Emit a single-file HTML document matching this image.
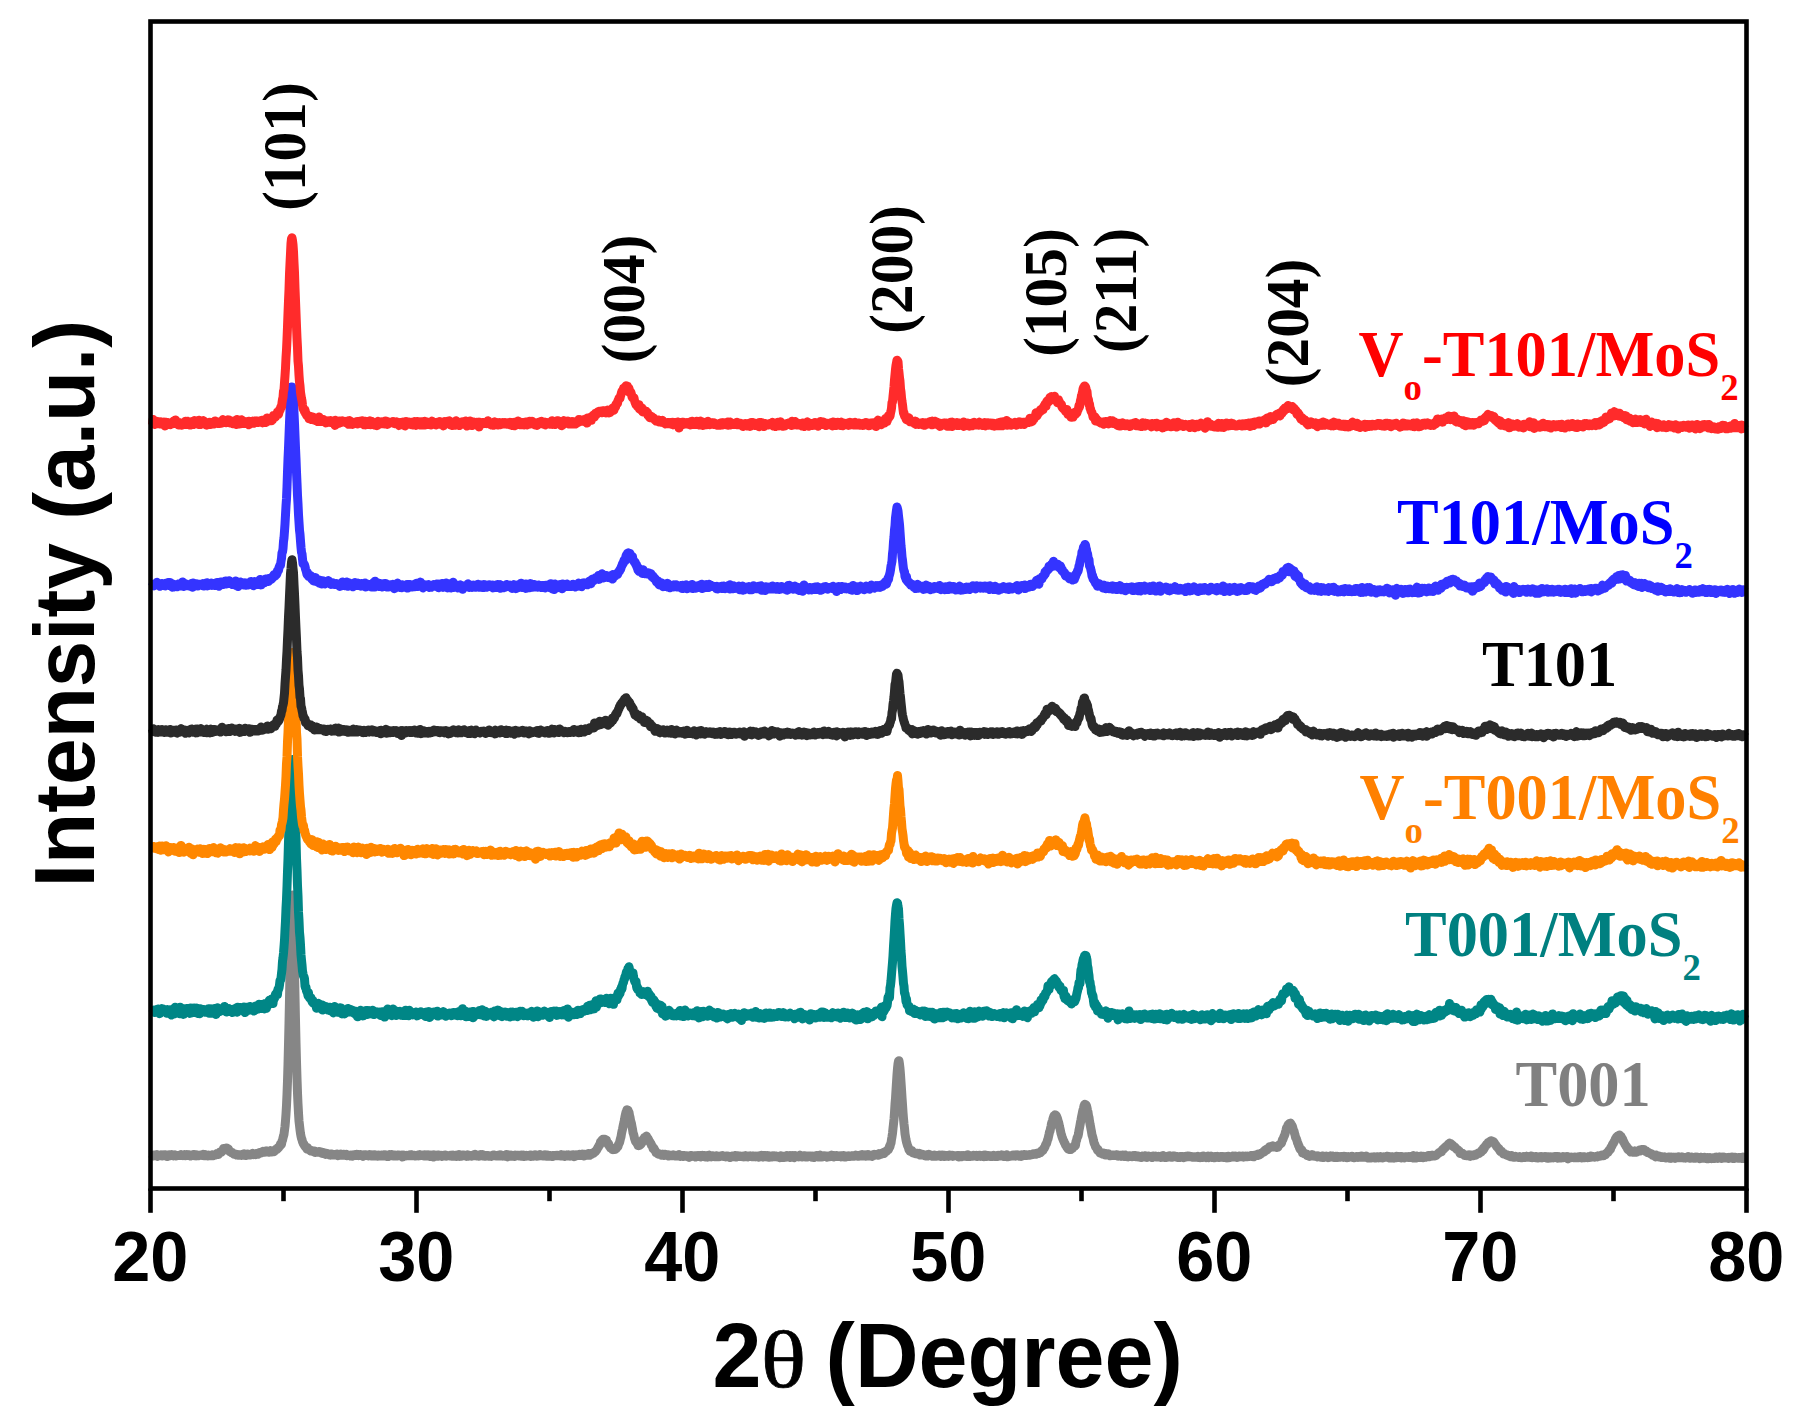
<!DOCTYPE html>
<html lang="en"><head><meta charset="utf-8"><title>XRD patterns</title>
<style>html,body{margin:0;padding:0;background:#fff;overflow:hidden}svg{display:block}.sb{font-family:"Liberation Sans",Arial,Helvetica,sans-serif;font-weight:bold}.tb{font-family:"Liberation Serif","Times New Roman",Times,serif;font-weight:bold}.tr{font-family:"Liberation Serif","Times New Roman",Times,serif;font-weight:normal}</style></head><body>
<svg width="1805" height="1428" viewBox="0 0 1805 1428">
<rect width="1805" height="1428" fill="#fff"/>
<g fill="none" stroke-linejoin="round" stroke-linecap="butt">
<polyline stroke="#868686" stroke-width="9.0" points="152.5,1154.8 153.0,1156.0 153.5,1155.0 154.0,1155.3 154.5,1155.4 155.0,1155.1 155.5,1154.8 156.0,1155.7 156.5,1155.6 157.0,1154.5 157.5,1156.5 158.0,1155.8 158.5,1155.1 159.0,1155.8 159.5,1155.2 160.0,1155.4 160.5,1155.7 161.0,1154.8 161.5,1155.7 162.0,1156.0 162.5,1156.0 163.0,1155.3 163.5,1155.8 164.0,1154.7 164.5,1155.3 165.0,1155.6 165.5,1154.8 166.0,1155.4 166.5,1156.2 167.0,1156.6 167.5,1155.7 168.0,1155.8 168.5,1155.0 169.0,1154.8 169.5,1154.7 170.0,1155.6 170.5,1155.7 171.0,1155.1 171.5,1154.8 172.0,1155.5 172.5,1155.5 173.0,1155.3 173.5,1155.9 174.0,1155.3 174.5,1155.3 175.0,1154.9 175.5,1155.4 176.0,1156.0 176.5,1155.4 177.0,1155.4 177.5,1155.6 178.0,1155.5 178.5,1155.6 179.0,1155.6 179.5,1155.6 180.0,1155.0 180.5,1155.5 181.0,1154.6 181.5,1155.5 182.0,1154.8 182.5,1155.3 183.0,1155.6 183.5,1155.2 184.0,1155.4 184.5,1154.6 185.0,1155.0 185.5,1155.7 186.0,1154.8 186.5,1155.6 187.0,1154.7 187.5,1154.9 188.0,1154.8 188.5,1155.3 189.0,1155.6 189.5,1154.9 190.0,1155.2 190.5,1156.1 191.0,1155.2 191.5,1155.0 192.0,1155.5 192.5,1155.2 193.0,1155.0 193.5,1154.5 194.0,1155.7 194.5,1155.1 195.0,1155.3 195.5,1154.8 196.0,1155.9 196.5,1155.6 197.0,1155.7 197.5,1155.2 198.0,1155.5 198.5,1155.7 199.0,1155.7 199.5,1155.4 200.0,1155.2 200.5,1155.1 201.0,1154.9 201.5,1154.8 202.0,1155.4 202.5,1155.1 203.0,1154.3 203.5,1155.2 204.0,1155.7 204.5,1155.1 205.0,1154.4 205.5,1155.2 206.0,1155.6 206.5,1155.3 207.0,1155.0 207.5,1156.0 208.0,1156.0 208.5,1155.1 209.0,1155.5 209.5,1155.3 210.0,1155.5 210.5,1155.8 211.0,1155.5 211.5,1155.1 212.0,1154.8 212.5,1154.7 213.0,1155.0 213.5,1155.5 214.0,1155.1 214.5,1154.9 215.0,1154.9 215.5,1154.8 216.0,1154.9 216.5,1154.0 217.0,1153.5 217.5,1154.1 218.0,1153.5 218.5,1154.5 219.0,1153.4 219.5,1153.1 220.0,1152.1 220.5,1152.6 221.0,1151.7 221.5,1152.0 222.0,1151.4 222.5,1150.2 223.0,1150.3 223.5,1148.4 224.0,1148.9 224.5,1149.5 225.0,1149.0 225.5,1148.6 226.0,1148.5 226.5,1148.0 227.0,1148.2 227.5,1149.2 228.0,1150.3 228.5,1149.0 229.0,1150.7 229.5,1151.2 230.0,1151.8 230.5,1151.4 231.0,1152.0 231.5,1152.7 232.0,1152.6 232.5,1152.8 233.0,1153.2 233.5,1153.8 234.0,1154.2 234.5,1154.2 235.0,1154.4 235.5,1154.1 236.0,1154.2 236.5,1155.1 237.0,1154.6 237.5,1154.6 238.0,1155.1 238.5,1155.3 239.0,1155.3 239.5,1154.9 240.0,1154.7 240.5,1154.9 241.0,1154.8 241.5,1155.4 242.0,1154.9 242.5,1155.0 243.0,1154.7 243.5,1155.3 244.0,1153.8 244.5,1154.9 245.0,1155.0 245.5,1154.2 246.0,1155.6 246.5,1154.6 247.0,1154.6 247.5,1154.1 248.0,1155.0 248.5,1154.7 249.0,1154.3 249.5,1154.6 250.0,1154.8 250.5,1155.0 251.0,1154.6 251.5,1154.0 252.0,1154.1 252.5,1153.3 253.0,1154.0 253.5,1154.6 254.0,1154.4 254.5,1154.1 255.0,1153.9 255.5,1154.7 256.0,1154.0 256.5,1154.2 257.0,1153.9 257.5,1153.3 258.0,1154.2 258.5,1152.8 259.0,1152.7 259.5,1152.9 260.0,1152.6 260.5,1152.5 261.0,1152.4 261.5,1152.9 262.0,1152.4 262.5,1152.4 263.0,1151.4 263.5,1151.6 264.0,1152.3 264.5,1151.2 265.0,1152.2 265.5,1151.2 266.0,1151.7 266.5,1151.2 267.0,1151.6 267.5,1151.1 268.0,1151.4 268.5,1152.2 269.0,1151.3 269.5,1152.3 270.0,1151.2 270.5,1150.8 271.0,1151.3 271.5,1151.0 272.0,1151.9 272.5,1151.4 273.0,1151.4 273.5,1151.0 274.0,1151.7 274.5,1150.7 275.0,1150.4 275.5,1149.5 276.0,1149.2 276.5,1149.3 277.0,1149.3 277.5,1149.0 278.0,1147.6 278.5,1147.8 279.0,1147.1 279.5,1145.9 280.0,1145.9 280.5,1143.8 281.0,1144.1 281.5,1144.1 282.0,1141.3 282.5,1140.3 283.0,1137.8 283.5,1136.2 284.0,1134.3 284.5,1130.2 285.0,1126.5 285.5,1120.9 286.0,1114.0 286.5,1105.4 287.0,1094.5 287.5,1081.2 288.0,1064.6 288.5,1044.7 289.0,1023.6 289.5,999.3 290.0,972.4 290.5,948.0 291.0,925.0 291.5,907.0 292.0,896.5 292.5,895.1 293.0,904.8 293.5,921.3 294.0,944.9 294.5,971.2 295.0,996.2 295.5,1020.7 296.0,1042.4 296.5,1061.8 297.0,1078.5 297.5,1093.0 298.0,1103.9 298.5,1113.0 299.0,1120.9 299.5,1125.2 300.0,1129.7 300.5,1133.5 301.0,1136.3 301.5,1138.4 302.0,1139.6 302.5,1141.7 303.0,1142.8 303.5,1144.1 304.0,1144.3 304.5,1145.7 305.0,1146.4 305.5,1146.7 306.0,1147.5 306.5,1147.8 307.0,1149.1 307.5,1147.5 308.0,1148.7 308.5,1148.9 309.0,1149.8 309.5,1149.9 310.0,1150.3 310.5,1151.0 311.0,1150.2 311.5,1150.7 312.0,1151.1 312.5,1150.8 313.0,1151.6 313.5,1151.7 314.0,1151.3 314.5,1150.9 315.0,1152.4 315.5,1152.0 316.0,1152.0 316.5,1151.8 317.0,1151.8 317.5,1152.2 318.0,1151.8 318.5,1151.6 319.0,1152.2 319.5,1152.0 320.0,1151.7 320.5,1151.8 321.0,1152.8 321.5,1152.7 322.0,1153.4 322.5,1152.4 323.0,1152.5 323.5,1153.1 324.0,1153.7 324.5,1153.5 325.0,1153.6 325.5,1154.4 326.0,1153.3 326.5,1153.2 327.0,1153.5 327.5,1153.8 328.0,1154.2 328.5,1154.6 329.0,1154.4 329.5,1155.0 330.0,1154.0 330.5,1155.2 331.0,1154.1 331.5,1155.0 332.0,1154.1 332.5,1154.7 333.0,1154.6 333.5,1154.8 334.0,1155.0 334.5,1154.6 335.0,1154.7 335.5,1154.8 336.0,1154.2 336.5,1154.4 337.0,1154.0 337.5,1154.8 338.0,1155.8 338.5,1155.2 339.0,1154.5 339.5,1154.6 340.0,1155.3 340.5,1154.7 341.0,1154.2 341.5,1154.5 342.0,1154.5 342.5,1154.5 343.0,1155.3 343.5,1155.0 344.0,1154.3 344.5,1154.8 345.0,1154.5 345.5,1154.5 346.0,1154.4 346.5,1155.8 347.0,1154.9 347.5,1155.3 348.0,1155.5 348.5,1154.9 349.0,1155.4 349.5,1155.4 350.0,1155.2 350.5,1156.1 351.0,1155.3 351.5,1155.1 352.0,1155.5 352.5,1156.0 353.0,1155.6 353.5,1155.0 354.0,1154.8 354.5,1154.8 355.0,1154.9 355.5,1155.4 356.0,1155.6 356.5,1154.2 357.0,1155.2 357.5,1154.7 358.0,1155.6 358.5,1155.7 359.0,1154.9 359.5,1155.1 360.0,1154.8 360.5,1155.5 361.0,1154.6 361.5,1154.8 362.0,1155.0 362.5,1155.9 363.0,1156.4 363.5,1155.3 364.0,1154.8 364.5,1155.4 365.0,1154.9 365.5,1155.5 366.0,1154.8 366.5,1155.2 367.0,1155.3 367.5,1155.6 368.0,1155.3 368.5,1155.9 369.0,1155.4 369.5,1154.5 370.0,1155.8 370.5,1155.2 371.0,1155.1 371.5,1156.1 372.0,1154.9 372.5,1155.4 373.0,1155.1 373.5,1156.0 374.0,1155.2 374.5,1155.5 375.0,1154.8 375.5,1156.0 376.0,1154.9 376.5,1155.8 377.0,1155.9 377.5,1156.0 378.0,1156.2 378.5,1154.9 379.0,1155.6 379.5,1155.5 380.0,1155.6 380.5,1155.9 381.0,1155.5 381.5,1155.1 382.0,1155.4 382.5,1156.1 383.0,1154.9 383.5,1155.5 384.0,1155.0 384.5,1155.9 385.0,1154.7 385.5,1155.3 386.0,1155.4 386.5,1155.5 387.0,1156.5 387.5,1156.2 388.0,1155.0 388.5,1156.4 389.0,1154.9 389.5,1154.6 390.0,1154.8 390.5,1155.6 391.0,1155.7 391.5,1154.5 392.0,1155.7 392.5,1155.4 393.0,1155.8 393.5,1155.3 394.0,1155.9 394.5,1155.7 395.0,1155.0 395.5,1156.1 396.0,1155.6 396.5,1155.8 397.0,1156.1 397.5,1155.1 398.0,1155.5 398.5,1155.1 399.0,1155.1 399.5,1155.6 400.0,1155.7 400.5,1156.1 401.0,1156.1 401.5,1155.5 402.0,1155.1 402.5,1157.0 403.0,1156.5 403.5,1155.5 404.0,1155.1 404.5,1155.3 405.0,1155.7 405.5,1156.0 406.0,1156.0 406.5,1155.7 407.0,1155.4 407.5,1155.6 408.0,1155.4 408.5,1155.6 409.0,1155.5 409.5,1155.8 410.0,1154.7 410.5,1155.4 411.0,1155.4 411.5,1155.0 412.0,1155.5 412.5,1155.1 413.0,1155.2 413.5,1155.4 414.0,1155.4 414.5,1155.3 415.0,1156.0 415.5,1155.6 416.0,1155.7 416.5,1155.7 417.0,1155.3 417.5,1155.2 418.0,1155.9 418.5,1155.4 419.0,1154.8 419.5,1154.6 420.0,1155.7 420.5,1155.2 421.0,1155.5 421.5,1155.3 422.0,1155.4 422.5,1155.5 423.0,1155.0 423.5,1155.6 424.0,1156.0 424.5,1155.9 425.0,1154.8 425.5,1155.0 426.0,1155.0 426.5,1155.5 427.0,1156.0 427.5,1155.7 428.0,1154.8 428.5,1155.6 429.0,1155.9 429.5,1155.4 430.0,1156.4 430.5,1155.3 431.0,1156.1 431.5,1156.6 432.0,1155.0 432.5,1155.4 433.0,1155.8 433.5,1157.0 434.0,1154.8 434.5,1155.8 435.0,1155.7 435.5,1155.4 436.0,1155.2 436.5,1155.4 437.0,1155.5 437.5,1155.0 438.0,1156.3 438.5,1155.1 439.0,1155.4 439.5,1155.3 440.0,1155.4 440.5,1155.6 441.0,1155.3 441.5,1155.5 442.0,1156.4 442.5,1156.1 443.0,1155.5 443.5,1156.0 444.0,1155.3 444.5,1155.7 445.0,1155.0 445.5,1155.1 446.0,1155.2 446.5,1156.2 447.0,1155.7 447.5,1155.8 448.0,1155.7 448.5,1155.8 449.0,1155.8 449.5,1155.9 450.0,1155.7 450.5,1155.2 451.0,1155.3 451.5,1156.2 452.0,1156.2 452.5,1155.9 453.0,1154.9 453.5,1156.3 454.0,1155.8 454.5,1155.6 455.0,1155.6 455.5,1155.4 456.0,1156.4 456.5,1156.4 457.0,1155.1 457.5,1155.5 458.0,1155.8 458.5,1156.2 459.0,1154.5 459.5,1156.0 460.0,1156.4 460.5,1155.5 461.0,1155.6 461.5,1156.2 462.0,1155.8 462.5,1155.0 463.0,1155.1 463.5,1155.1 464.0,1155.0 464.5,1155.6 465.0,1155.4 465.5,1155.6 466.0,1155.9 466.5,1156.4 467.0,1155.7 467.5,1154.8 468.0,1156.2 468.5,1155.6 469.0,1156.1 469.5,1155.4 470.0,1155.8 470.5,1155.6 471.0,1155.6 471.5,1156.2 472.0,1155.3 472.5,1155.7 473.0,1155.7 473.5,1155.4 474.0,1154.6 474.5,1155.8 475.0,1154.3 475.5,1154.9 476.0,1155.4 476.5,1155.8 477.0,1156.0 477.5,1156.0 478.0,1155.9 478.5,1155.5 479.0,1156.2 479.5,1155.5 480.0,1156.1 480.5,1154.6 481.0,1155.2 481.5,1155.4 482.0,1155.6 482.5,1154.5 483.0,1156.0 483.5,1156.1 484.0,1156.0 484.5,1155.4 485.0,1156.3 485.5,1155.4 486.0,1156.0 486.5,1155.6 487.0,1155.6 487.5,1155.6 488.0,1155.6 488.5,1156.1 489.0,1156.3 489.5,1156.3 490.0,1156.0 490.5,1155.9 491.0,1155.8 491.5,1156.4 492.0,1155.4 492.5,1155.3 493.0,1155.6 493.5,1154.9 494.0,1155.5 494.5,1155.6 495.0,1155.2 495.5,1155.4 496.0,1155.9 496.5,1155.5 497.0,1155.7 497.5,1156.1 498.0,1155.3 498.5,1155.1 499.0,1155.6 499.5,1155.8 500.0,1154.8 500.5,1155.9 501.0,1155.5 501.5,1155.4 502.0,1155.2 502.5,1155.5 503.0,1156.1 503.5,1155.9 504.0,1156.0 504.5,1155.5 505.0,1156.3 505.5,1156.2 506.0,1155.6 506.5,1154.4 507.0,1155.7 507.5,1156.9 508.0,1155.6 508.5,1155.2 509.0,1156.4 509.5,1155.3 510.0,1155.8 510.5,1156.0 511.0,1155.0 511.5,1155.7 512.0,1156.2 512.5,1155.5 513.0,1155.9 513.5,1155.6 514.0,1156.1 514.5,1156.5 515.0,1155.1 515.5,1155.5 516.0,1155.8 516.5,1155.3 517.0,1155.3 517.5,1155.5 518.0,1155.5 518.5,1155.3 519.0,1155.8 519.5,1156.0 520.0,1156.0 520.5,1155.9 521.0,1156.2 521.5,1155.0 522.0,1155.6 522.5,1155.7 523.0,1155.9 523.5,1154.9 524.0,1156.5 524.5,1155.2 525.0,1155.7 525.5,1155.9 526.0,1156.1 526.5,1155.3 527.0,1155.4 527.5,1155.8 528.0,1155.9 528.5,1156.0 529.0,1155.6 529.5,1155.3 530.0,1155.0 530.5,1156.4 531.0,1155.0 531.5,1155.9 532.0,1155.7 532.5,1155.9 533.0,1156.0 533.5,1156.2 534.0,1155.6 534.5,1155.8 535.0,1154.7 535.5,1155.6 536.0,1155.2 536.5,1155.5 537.0,1156.2 537.5,1155.6 538.0,1156.1 538.5,1155.5 539.0,1155.8 539.5,1155.4 540.0,1154.4 540.5,1155.3 541.0,1155.5 541.5,1155.7 542.0,1155.6 542.5,1155.5 543.0,1156.0 543.5,1155.9 544.0,1155.4 544.5,1156.0 545.0,1154.7 545.5,1155.4 546.0,1155.5 546.5,1156.2 547.0,1155.3 547.5,1154.9 548.0,1155.6 548.5,1156.3 549.0,1155.5 549.5,1155.5 550.0,1155.5 550.5,1155.6 551.0,1156.1 551.5,1156.4 552.0,1155.8 552.5,1155.5 553.0,1156.4 553.5,1155.6 554.0,1155.6 554.5,1155.4 555.0,1155.4 555.5,1155.6 556.0,1155.4 556.5,1155.7 557.0,1155.6 557.5,1155.8 558.0,1155.3 558.5,1155.4 559.0,1155.6 559.5,1155.5 560.0,1155.5 560.5,1156.0 561.0,1155.0 561.5,1154.6 562.0,1155.8 562.5,1155.4 563.0,1156.1 563.5,1155.4 564.0,1154.9 564.5,1156.4 565.0,1155.6 565.5,1155.2 566.0,1155.1 566.5,1155.7 567.0,1155.1 567.5,1155.6 568.0,1155.9 568.5,1154.8 569.0,1155.2 569.5,1155.6 570.0,1156.1 570.5,1155.8 571.0,1155.2 571.5,1156.0 572.0,1155.2 572.5,1155.3 573.0,1155.5 573.5,1154.8 574.0,1156.7 574.5,1155.8 575.0,1155.4 575.5,1155.0 576.0,1154.8 576.5,1155.4 577.0,1155.6 577.5,1155.1 578.0,1155.1 578.5,1155.5 579.0,1155.2 579.5,1154.3 580.0,1155.5 580.5,1155.2 581.0,1155.4 581.5,1154.8 582.0,1154.1 582.5,1154.5 583.0,1155.2 583.5,1155.9 584.0,1156.0 584.5,1155.1 585.0,1154.2 585.5,1154.7 586.0,1155.0 586.5,1155.0 587.0,1154.8 587.5,1155.3 588.0,1154.2 588.5,1153.6 589.0,1154.1 589.5,1153.9 590.0,1155.3 590.5,1154.1 591.0,1153.4 591.5,1154.1 592.0,1154.1 592.5,1153.5 593.0,1153.3 593.5,1153.3 594.0,1152.8 594.5,1151.8 595.0,1151.9 595.5,1151.6 596.0,1150.7 596.5,1150.3 597.0,1149.4 597.5,1148.3 598.0,1147.5 598.5,1146.9 599.0,1145.5 599.5,1145.3 600.0,1144.4 600.5,1141.9 601.0,1141.9 601.5,1140.8 602.0,1140.1 602.5,1139.8 603.0,1139.3 603.5,1139.3 604.0,1139.2 604.5,1139.3 605.0,1139.2 605.5,1139.8 606.0,1141.3 606.5,1140.2 607.0,1142.9 607.5,1142.7 608.0,1144.4 608.5,1143.5 609.0,1145.3 609.5,1146.6 610.0,1147.0 610.5,1148.0 611.0,1147.7 611.5,1148.4 612.0,1148.7 612.5,1149.6 613.0,1149.7 613.5,1149.6 614.0,1149.6 614.5,1149.5 615.0,1149.5 615.5,1148.7 616.0,1148.7 616.5,1148.2 617.0,1147.3 617.5,1146.5 618.0,1146.5 618.5,1144.4 619.0,1143.6 619.5,1142.6 620.0,1140.6 620.5,1138.5 621.0,1136.9 621.5,1133.6 622.0,1131.3 622.5,1129.2 623.0,1126.7 623.5,1124.1 624.0,1122.3 624.5,1119.7 625.0,1116.5 625.5,1114.4 626.0,1112.1 626.5,1111.3 627.0,1109.7 627.5,1110.7 628.0,1110.2 628.5,1111.6 629.0,1112.3 629.5,1115.4 630.0,1117.2 630.5,1120.3 631.0,1122.0 631.5,1123.8 632.0,1126.8 632.5,1129.1 633.0,1132.7 633.5,1134.0 634.0,1135.9 634.5,1138.4 635.0,1139.9 635.5,1141.4 636.0,1142.2 636.5,1142.5 637.0,1143.5 637.5,1143.7 638.0,1145.6 638.5,1145.7 639.0,1145.1 639.5,1145.4 640.0,1145.1 640.5,1144.6 641.0,1144.0 641.5,1143.5 642.0,1142.5 642.5,1140.6 643.0,1139.6 643.5,1140.6 644.0,1139.5 644.5,1137.4 645.0,1138.1 645.5,1137.1 646.0,1137.0 646.5,1136.1 647.0,1137.7 647.5,1137.7 648.0,1138.7 648.5,1139.5 649.0,1140.5 649.5,1141.6 650.0,1142.0 650.5,1143.1 651.0,1143.7 651.5,1145.3 652.0,1146.0 652.5,1146.5 653.0,1148.5 653.5,1149.1 654.0,1148.4 654.5,1149.5 655.0,1150.8 655.5,1150.9 656.0,1152.6 656.5,1152.5 657.0,1153.1 657.5,1153.6 658.0,1154.0 658.5,1153.6 659.0,1154.2 659.5,1154.2 660.0,1154.6 660.5,1154.6 661.0,1155.1 661.5,1154.8 662.0,1154.4 662.5,1154.8 663.0,1154.3 663.5,1155.0 664.0,1155.6 664.5,1154.7 665.0,1154.3 665.5,1155.0 666.0,1154.9 666.5,1155.1 667.0,1154.9 667.5,1155.2 668.0,1154.8 668.5,1156.0 669.0,1155.2 669.5,1155.6 670.0,1155.7 670.5,1155.3 671.0,1155.6 671.5,1155.3 672.0,1155.3 672.5,1155.4 673.0,1155.7 673.5,1154.9 674.0,1155.1 674.5,1155.2 675.0,1155.3 675.5,1156.1 676.0,1155.6 676.5,1155.5 677.0,1155.7 677.5,1156.1 678.0,1155.3 678.5,1156.1 679.0,1154.6 679.5,1155.3 680.0,1156.4 680.5,1156.4 681.0,1155.8 681.5,1155.6 682.0,1156.1 682.5,1155.6 683.0,1156.5 683.5,1156.3 684.0,1156.2 684.5,1155.4 685.0,1156.3 685.5,1155.7 686.0,1155.7 686.5,1155.7 687.0,1155.8 687.5,1156.1 688.0,1156.3 688.5,1156.3 689.0,1157.4 689.5,1155.8 690.0,1156.4 690.5,1155.6 691.0,1155.8 691.5,1155.4 692.0,1156.5 692.5,1156.1 693.0,1156.0 693.5,1155.9 694.0,1156.4 694.5,1155.8 695.0,1156.2 695.5,1157.1 696.0,1155.9 696.5,1155.7 697.0,1155.6 697.5,1156.4 698.0,1156.1 698.5,1155.7 699.0,1155.7 699.5,1156.1 700.0,1155.6 700.5,1157.0 701.0,1156.0 701.5,1156.0 702.0,1156.0 702.5,1155.3 703.0,1155.4 703.5,1155.9 704.0,1156.1 704.5,1155.5 705.0,1156.9 705.5,1156.3 706.0,1156.7 706.5,1156.6 707.0,1156.0 707.5,1157.2 708.0,1156.2 708.5,1155.3 709.0,1155.1 709.5,1156.1 710.0,1156.5 710.5,1156.2 711.0,1156.9 711.5,1156.0 712.0,1156.4 712.5,1156.5 713.0,1155.7 713.5,1156.3 714.0,1156.3 714.5,1156.7 715.0,1156.7 715.5,1156.6 716.0,1155.8 716.5,1156.5 717.0,1156.7 717.5,1156.2 718.0,1156.5 718.5,1156.5 719.0,1156.7 719.5,1156.2 720.0,1156.4 720.5,1156.3 721.0,1156.2 721.5,1155.9 722.0,1156.1 722.5,1155.7 723.0,1156.1 723.5,1156.5 724.0,1156.5 724.5,1156.6 725.0,1156.2 725.5,1156.9 726.0,1156.0 726.5,1156.6 727.0,1156.4 727.5,1155.9 728.0,1155.9 728.5,1156.6 729.0,1156.3 729.5,1156.4 730.0,1157.6 730.5,1156.5 731.0,1156.3 731.5,1156.6 732.0,1156.0 732.5,1156.2 733.0,1156.5 733.5,1155.9 734.0,1156.3 734.5,1156.2 735.0,1156.3 735.5,1155.5 736.0,1157.1 736.5,1156.3 737.0,1156.5 737.5,1155.8 738.0,1155.7 738.5,1156.3 739.0,1156.2 739.5,1156.6 740.0,1155.9 740.5,1155.9 741.0,1156.5 741.5,1156.6 742.0,1156.7 742.5,1156.3 743.0,1156.4 743.5,1156.0 744.0,1156.9 744.5,1156.8 745.0,1156.8 745.5,1155.6 746.0,1156.7 746.5,1156.0 747.0,1156.6 747.5,1156.5 748.0,1156.9 748.5,1156.3 749.0,1156.2 749.5,1155.9 750.0,1155.8 750.5,1156.6 751.0,1155.9 751.5,1156.7 752.0,1156.2 752.5,1156.1 753.0,1156.8 753.5,1156.8 754.0,1155.9 754.5,1156.3 755.0,1156.4 755.5,1156.7 756.0,1156.0 756.5,1156.2 757.0,1156.3 757.5,1156.7 758.0,1156.8 758.5,1156.1 759.0,1157.2 759.5,1156.6 760.0,1156.0 760.5,1155.7 761.0,1156.2 761.5,1155.3 762.0,1156.5 762.5,1156.6 763.0,1157.0 763.5,1156.6 764.0,1155.6 764.5,1156.3 765.0,1156.7 765.5,1155.4 766.0,1156.0 766.5,1156.7 767.0,1156.4 767.5,1155.5 768.0,1156.1 768.5,1156.4 769.0,1157.3 769.5,1156.2 770.0,1156.0 770.5,1156.5 771.0,1156.5 771.5,1156.6 772.0,1157.0 772.5,1156.3 773.0,1155.8 773.5,1156.4 774.0,1156.4 774.5,1156.8 775.0,1156.7 775.5,1156.0 776.0,1156.7 776.5,1156.8 777.0,1156.3 777.5,1156.8 778.0,1156.4 778.5,1156.4 779.0,1156.3 779.5,1156.7 780.0,1157.7 780.5,1156.5 781.0,1155.8 781.5,1156.3 782.0,1156.1 782.5,1156.5 783.0,1156.3 783.5,1157.5 784.0,1156.7 784.5,1157.2 785.0,1156.0 785.5,1156.3 786.0,1157.3 786.5,1155.6 787.0,1156.4 787.5,1155.7 788.0,1157.0 788.5,1155.7 789.0,1156.2 789.5,1156.3 790.0,1155.6 790.5,1157.5 791.0,1156.3 791.5,1157.1 792.0,1156.0 792.5,1155.7 793.0,1156.4 793.5,1156.4 794.0,1157.7 794.5,1155.9 795.0,1155.6 795.5,1156.0 796.0,1156.5 796.5,1156.6 797.0,1156.0 797.5,1156.2 798.0,1156.6 798.5,1156.8 799.0,1156.1 799.5,1156.4 800.0,1155.1 800.5,1155.9 801.0,1156.5 801.5,1156.3 802.0,1156.2 802.5,1157.0 803.0,1156.2 803.5,1155.8 804.0,1156.4 804.5,1156.4 805.0,1155.8 805.5,1156.8 806.0,1157.1 806.5,1156.0 807.0,1155.9 807.5,1156.3 808.0,1156.9 808.5,1156.0 809.0,1156.0 809.5,1156.0 810.0,1156.4 810.5,1156.4 811.0,1156.2 811.5,1156.8 812.0,1157.3 812.5,1156.0 813.0,1156.8 813.5,1156.4 814.0,1157.6 814.5,1155.9 815.0,1156.1 815.5,1156.3 816.0,1155.6 816.5,1156.2 817.0,1156.6 817.5,1155.6 818.0,1156.3 818.5,1157.1 819.0,1156.0 819.5,1155.9 820.0,1155.1 820.5,1156.2 821.0,1155.5 821.5,1156.5 822.0,1157.0 822.5,1156.5 823.0,1155.9 823.5,1156.5 824.0,1156.0 824.5,1155.7 825.0,1156.0 825.5,1156.3 826.0,1156.1 826.5,1156.5 827.0,1157.2 827.5,1156.5 828.0,1156.6 828.5,1155.9 829.0,1156.8 829.5,1156.4 830.0,1156.7 830.5,1155.9 831.0,1156.3 831.5,1155.1 832.0,1156.0 832.5,1155.8 833.0,1155.7 833.5,1157.0 834.0,1155.5 834.5,1156.1 835.0,1156.1 835.5,1156.4 836.0,1156.6 836.5,1155.4 837.0,1155.9 837.5,1155.8 838.0,1156.5 838.5,1156.6 839.0,1156.0 839.5,1155.9 840.0,1155.7 840.5,1156.3 841.0,1156.9 841.5,1156.3 842.0,1155.8 842.5,1155.7 843.0,1155.8 843.5,1155.4 844.0,1156.9 844.5,1156.1 845.0,1155.9 845.5,1157.1 846.0,1156.2 846.5,1156.7 847.0,1156.2 847.5,1156.5 848.0,1156.1 848.5,1155.9 849.0,1156.2 849.5,1156.3 850.0,1156.5 850.5,1156.1 851.0,1155.9 851.5,1155.8 852.0,1156.1 852.5,1155.7 853.0,1155.8 853.5,1156.2 854.0,1156.2 854.5,1156.2 855.0,1155.6 855.5,1155.3 856.0,1156.0 856.5,1155.9 857.0,1155.7 857.5,1156.0 858.0,1156.2 858.5,1155.7 859.0,1156.0 859.5,1155.4 860.0,1155.7 860.5,1155.4 861.0,1155.1 861.5,1155.9 862.0,1154.5 862.5,1155.7 863.0,1156.0 863.5,1155.9 864.0,1155.0 864.5,1155.7 865.0,1154.8 865.5,1155.2 866.0,1156.2 866.5,1155.6 867.0,1156.1 867.5,1155.0 868.0,1154.5 868.5,1155.1 869.0,1156.0 869.5,1155.8 870.0,1155.8 870.5,1155.2 871.0,1155.2 871.5,1155.1 872.0,1156.5 872.5,1155.2 873.0,1155.9 873.5,1155.0 874.0,1155.6 874.5,1154.5 875.0,1154.7 875.5,1155.0 876.0,1154.5 876.5,1154.5 877.0,1154.5 877.5,1154.3 878.0,1155.2 878.5,1154.9 879.0,1153.6 879.5,1154.9 880.0,1154.0 880.5,1153.9 881.0,1153.7 881.5,1154.1 882.0,1153.8 882.5,1153.1 883.0,1153.2 883.5,1152.4 884.0,1153.6 884.5,1152.1 885.0,1151.8 885.5,1151.6 886.0,1151.7 886.5,1151.6 887.0,1150.6 887.5,1150.3 888.0,1149.5 888.5,1149.6 889.0,1148.2 889.5,1146.3 890.0,1146.4 890.5,1144.3 891.0,1143.1 891.5,1139.5 892.0,1136.7 892.5,1133.3 893.0,1128.5 893.5,1124.1 894.0,1119.2 894.5,1112.6 895.0,1104.2 895.5,1098.4 896.0,1090.2 896.5,1082.6 897.0,1074.9 897.5,1068.6 898.0,1063.9 898.5,1061.3 899.0,1060.8 899.5,1064.2 900.0,1068.5 900.5,1074.8 901.0,1082.1 901.5,1089.6 902.0,1097.5 902.5,1104.5 903.0,1112.2 903.5,1118.6 904.0,1124.0 904.5,1128.2 905.0,1133.8 905.5,1136.7 906.0,1139.7 906.5,1142.0 907.0,1143.8 907.5,1145.5 908.0,1146.5 908.5,1147.8 909.0,1149.9 909.5,1150.2 910.0,1151.2 910.5,1150.5 911.0,1150.3 911.5,1151.0 912.0,1150.7 912.5,1152.7 913.0,1153.0 913.5,1152.8 914.0,1153.1 914.5,1153.3 915.0,1153.2 915.5,1153.8 916.0,1153.2 916.5,1153.6 917.0,1153.8 917.5,1153.2 918.0,1153.7 918.5,1154.4 919.0,1154.5 919.5,1153.3 920.0,1154.9 920.5,1154.7 921.0,1155.0 921.5,1154.7 922.0,1155.0 922.5,1154.2 923.0,1154.8 923.5,1154.5 924.0,1154.8 924.5,1155.6 925.0,1155.8 925.5,1155.1 926.0,1155.0 926.5,1155.6 927.0,1155.4 927.5,1156.1 928.0,1155.6 928.5,1154.3 929.0,1155.4 929.5,1155.2 930.0,1155.1 930.5,1155.5 931.0,1155.5 931.5,1155.3 932.0,1156.2 932.5,1155.7 933.0,1155.7 933.5,1155.6 934.0,1156.1 934.5,1155.1 935.0,1156.2 935.5,1155.5 936.0,1156.3 936.5,1156.3 937.0,1155.9 937.5,1155.5 938.0,1155.8 938.5,1155.9 939.0,1155.1 939.5,1155.6 940.0,1155.4 940.5,1156.4 941.0,1156.5 941.5,1155.4 942.0,1155.5 942.5,1155.2 943.0,1155.9 943.5,1156.2 944.0,1156.6 944.5,1155.2 945.0,1156.2 945.5,1155.8 946.0,1155.5 946.5,1155.7 947.0,1155.5 947.5,1156.1 948.0,1155.9 948.5,1156.4 949.0,1155.6 949.5,1155.0 950.0,1155.4 950.5,1156.0 951.0,1155.2 951.5,1155.6 952.0,1156.1 952.5,1155.3 953.0,1156.3 953.5,1156.1 954.0,1155.7 954.5,1155.9 955.0,1155.7 955.5,1155.7 956.0,1155.8 956.5,1155.9 957.0,1155.9 957.5,1155.6 958.0,1155.5 958.5,1156.9 959.0,1155.4 959.5,1155.9 960.0,1156.5 960.5,1156.4 961.0,1155.6 961.5,1156.8 962.0,1156.7 962.5,1155.8 963.0,1155.4 963.5,1156.2 964.0,1155.9 964.5,1155.8 965.0,1155.6 965.5,1155.7 966.0,1156.0 966.5,1156.4 967.0,1155.0 967.5,1154.9 968.0,1156.4 968.5,1155.6 969.0,1156.3 969.5,1156.0 970.0,1156.5 970.5,1156.4 971.0,1155.8 971.5,1155.9 972.0,1156.1 972.5,1156.3 973.0,1155.7 973.5,1155.3 974.0,1156.0 974.5,1155.9 975.0,1155.9 975.5,1155.5 976.0,1156.2 976.5,1155.2 977.0,1155.7 977.5,1156.5 978.0,1155.5 978.5,1156.1 979.0,1156.2 979.5,1156.1 980.0,1155.2 980.5,1156.4 981.0,1156.0 981.5,1156.2 982.0,1156.1 982.5,1156.0 983.0,1156.5 983.5,1156.6 984.0,1155.1 984.5,1155.6 985.0,1155.9 985.5,1155.0 986.0,1156.6 986.5,1155.6 987.0,1156.2 987.5,1156.0 988.0,1155.8 988.5,1155.5 989.0,1155.7 989.5,1155.9 990.0,1156.3 990.5,1155.8 991.0,1155.7 991.5,1155.8 992.0,1156.5 992.5,1156.0 993.0,1155.6 993.5,1155.3 994.0,1155.7 994.5,1155.5 995.0,1155.7 995.5,1156.5 996.0,1156.2 996.5,1156.0 997.0,1156.0 997.5,1156.6 998.0,1155.3 998.5,1156.0 999.0,1155.7 999.5,1155.9 1000.0,1155.8 1000.5,1155.7 1001.0,1156.0 1001.5,1154.8 1002.0,1155.9 1002.5,1156.1 1003.0,1155.4 1003.5,1155.3 1004.0,1156.6 1004.5,1155.4 1005.0,1155.6 1005.5,1155.4 1006.0,1155.5 1006.5,1155.5 1007.0,1154.8 1007.5,1156.8 1008.0,1155.4 1008.5,1155.9 1009.0,1155.7 1009.5,1156.3 1010.0,1156.0 1010.5,1156.2 1011.0,1156.2 1011.5,1156.1 1012.0,1155.7 1012.5,1156.1 1013.0,1154.9 1013.5,1156.0 1014.0,1155.9 1014.5,1155.8 1015.0,1155.0 1015.5,1156.2 1016.0,1155.3 1016.5,1155.8 1017.0,1154.7 1017.5,1155.5 1018.0,1155.2 1018.5,1155.2 1019.0,1155.2 1019.5,1156.3 1020.0,1155.4 1020.5,1155.6 1021.0,1156.4 1021.5,1154.8 1022.0,1156.1 1022.5,1155.2 1023.0,1155.0 1023.5,1155.1 1024.0,1154.5 1024.5,1154.6 1025.0,1154.7 1025.5,1154.9 1026.0,1155.5 1026.5,1155.6 1027.0,1154.9 1027.5,1155.2 1028.0,1155.2 1028.5,1154.9 1029.0,1155.0 1029.5,1154.6 1030.0,1155.1 1030.5,1154.7 1031.0,1154.8 1031.5,1154.8 1032.0,1154.7 1032.5,1154.2 1033.0,1153.9 1033.5,1154.4 1034.0,1154.1 1034.5,1154.0 1035.0,1154.1 1035.5,1153.7 1036.0,1154.2 1036.5,1154.0 1037.0,1153.3 1037.5,1153.7 1038.0,1153.0 1038.5,1153.5 1039.0,1153.3 1039.5,1152.8 1040.0,1152.9 1040.5,1152.7 1041.0,1152.1 1041.5,1150.7 1042.0,1151.1 1042.5,1150.6 1043.0,1150.3 1043.5,1148.8 1044.0,1148.8 1044.5,1147.8 1045.0,1146.8 1045.5,1145.0 1046.0,1144.0 1046.5,1143.6 1047.0,1142.0 1047.5,1140.0 1048.0,1138.9 1048.5,1136.7 1049.0,1134.5 1049.5,1132.0 1050.0,1131.1 1050.5,1128.5 1051.0,1126.5 1051.5,1123.5 1052.0,1122.1 1052.5,1120.6 1053.0,1118.6 1053.5,1117.0 1054.0,1115.7 1054.5,1115.5 1055.0,1114.8 1055.5,1114.9 1056.0,1115.4 1056.5,1116.1 1057.0,1117.4 1057.5,1118.7 1058.0,1120.7 1058.5,1122.0 1059.0,1124.1 1059.5,1126.6 1060.0,1128.6 1060.5,1130.7 1061.0,1133.5 1061.5,1134.8 1062.0,1136.8 1062.5,1138.2 1063.0,1139.5 1063.5,1140.6 1064.0,1141.5 1064.5,1142.8 1065.0,1143.5 1065.5,1145.0 1066.0,1145.6 1066.5,1146.5 1067.0,1147.5 1067.5,1147.9 1068.0,1148.8 1068.5,1149.1 1069.0,1149.4 1069.5,1149.5 1070.0,1149.3 1070.5,1148.9 1071.0,1149.3 1071.5,1148.8 1072.0,1148.5 1072.5,1148.4 1073.0,1147.3 1073.5,1146.5 1074.0,1146.6 1074.5,1146.4 1075.0,1145.2 1075.5,1145.2 1076.0,1141.6 1076.5,1140.5 1077.0,1138.1 1077.5,1136.9 1078.0,1136.1 1078.5,1133.8 1079.0,1130.3 1079.5,1128.1 1080.0,1125.2 1080.5,1122.2 1081.0,1119.9 1081.5,1117.1 1082.0,1114.6 1082.5,1112.1 1083.0,1109.9 1083.5,1108.2 1084.0,1105.9 1084.5,1104.8 1085.0,1104.3 1085.5,1104.6 1086.0,1105.0 1086.5,1105.8 1087.0,1107.8 1087.5,1110.4 1088.0,1112.1 1088.5,1115.6 1089.0,1117.4 1089.5,1121.1 1090.0,1124.0 1090.5,1126.4 1091.0,1129.2 1091.5,1131.7 1092.0,1134.9 1092.5,1136.3 1093.0,1138.2 1093.5,1140.6 1094.0,1142.7 1094.5,1143.9 1095.0,1145.0 1095.5,1146.8 1096.0,1147.1 1096.5,1148.0 1097.0,1148.6 1097.5,1150.4 1098.0,1149.5 1098.5,1150.5 1099.0,1151.6 1099.5,1152.1 1100.0,1153.1 1100.5,1152.8 1101.0,1152.6 1101.5,1153.7 1102.0,1153.8 1102.5,1154.0 1103.0,1154.1 1103.5,1154.0 1104.0,1153.3 1104.5,1153.6 1105.0,1155.1 1105.5,1154.3 1106.0,1153.6 1106.5,1154.5 1107.0,1155.0 1107.5,1154.9 1108.0,1154.8 1108.5,1153.8 1109.0,1154.9 1109.5,1154.9 1110.0,1155.8 1110.5,1155.1 1111.0,1155.1 1111.5,1155.0 1112.0,1155.2 1112.5,1155.4 1113.0,1155.1 1113.5,1155.0 1114.0,1154.9 1114.5,1155.5 1115.0,1155.4 1115.5,1155.4 1116.0,1154.9 1116.5,1155.3 1117.0,1154.8 1117.5,1156.1 1118.0,1156.2 1118.5,1155.9 1119.0,1155.7 1119.5,1156.0 1120.0,1155.2 1120.5,1155.3 1121.0,1156.4 1121.5,1155.4 1122.0,1155.9 1122.5,1155.6 1123.0,1154.9 1123.5,1155.7 1124.0,1156.4 1124.5,1156.6 1125.0,1154.9 1125.5,1155.4 1126.0,1155.8 1126.5,1156.5 1127.0,1156.7 1127.5,1156.8 1128.0,1156.9 1128.5,1156.0 1129.0,1155.7 1129.5,1156.6 1130.0,1156.1 1130.5,1156.2 1131.0,1156.1 1131.5,1156.1 1132.0,1156.7 1132.5,1155.8 1133.0,1155.5 1133.5,1156.0 1134.0,1156.4 1134.5,1156.2 1135.0,1156.3 1135.5,1155.5 1136.0,1156.0 1136.5,1156.8 1137.0,1156.3 1137.5,1156.1 1138.0,1156.9 1138.5,1156.1 1139.0,1156.7 1139.5,1156.5 1140.0,1156.6 1140.5,1156.9 1141.0,1157.4 1141.5,1157.0 1142.0,1156.1 1142.5,1156.0 1143.0,1156.3 1143.5,1156.4 1144.0,1156.8 1144.5,1156.5 1145.0,1156.6 1145.5,1155.7 1146.0,1156.5 1146.5,1156.8 1147.0,1157.3 1147.5,1156.9 1148.0,1156.6 1148.5,1156.0 1149.0,1156.5 1149.5,1156.6 1150.0,1156.5 1150.5,1156.6 1151.0,1156.8 1151.5,1156.8 1152.0,1157.6 1152.5,1156.2 1153.0,1155.9 1153.5,1156.8 1154.0,1156.1 1154.5,1156.5 1155.0,1156.6 1155.5,1156.3 1156.0,1157.0 1156.5,1156.9 1157.0,1156.7 1157.5,1156.9 1158.0,1157.0 1158.5,1156.5 1159.0,1156.9 1159.5,1156.7 1160.0,1156.7 1160.5,1156.5 1161.0,1157.5 1161.5,1156.8 1162.0,1156.0 1162.5,1156.9 1163.0,1155.5 1163.5,1156.8 1164.0,1157.0 1164.5,1157.3 1165.0,1156.8 1165.5,1156.4 1166.0,1157.6 1166.5,1157.2 1167.0,1157.3 1167.5,1156.6 1168.0,1157.0 1168.5,1155.9 1169.0,1156.9 1169.5,1155.8 1170.0,1156.3 1170.5,1156.1 1171.0,1157.3 1171.5,1157.2 1172.0,1156.5 1172.5,1157.3 1173.0,1156.8 1173.5,1155.9 1174.0,1156.6 1174.5,1156.0 1175.0,1156.8 1175.5,1156.9 1176.0,1156.5 1176.5,1157.1 1177.0,1157.3 1177.5,1156.4 1178.0,1157.0 1178.5,1156.8 1179.0,1156.7 1179.5,1157.6 1180.0,1156.5 1180.5,1156.6 1181.0,1156.8 1181.5,1157.1 1182.0,1157.2 1182.5,1156.4 1183.0,1157.4 1183.5,1157.7 1184.0,1157.7 1184.5,1156.9 1185.0,1156.6 1185.5,1156.4 1186.0,1157.0 1186.5,1156.8 1187.0,1156.8 1187.5,1156.6 1188.0,1155.9 1188.5,1156.7 1189.0,1156.8 1189.5,1156.7 1190.0,1156.2 1190.5,1156.7 1191.0,1156.8 1191.5,1156.4 1192.0,1157.2 1192.5,1156.9 1193.0,1156.9 1193.5,1157.1 1194.0,1156.8 1194.5,1156.8 1195.0,1157.1 1195.5,1157.2 1196.0,1157.3 1196.5,1156.8 1197.0,1157.2 1197.5,1157.4 1198.0,1156.3 1198.5,1156.7 1199.0,1156.9 1199.5,1156.9 1200.0,1157.7 1200.5,1157.4 1201.0,1156.8 1201.5,1156.9 1202.0,1156.3 1202.5,1156.5 1203.0,1157.5 1203.5,1156.1 1204.0,1157.2 1204.5,1156.6 1205.0,1156.8 1205.5,1156.9 1206.0,1157.7 1206.5,1157.1 1207.0,1157.1 1207.5,1157.4 1208.0,1155.9 1208.5,1157.7 1209.0,1156.2 1209.5,1156.6 1210.0,1157.2 1210.5,1156.3 1211.0,1156.1 1211.5,1157.4 1212.0,1156.8 1212.5,1157.3 1213.0,1157.1 1213.5,1156.8 1214.0,1157.7 1214.5,1156.8 1215.0,1157.8 1215.5,1156.5 1216.0,1156.4 1216.5,1156.6 1217.0,1157.0 1217.5,1156.4 1218.0,1156.6 1218.5,1157.5 1219.0,1157.0 1219.5,1157.4 1220.0,1157.0 1220.5,1156.6 1221.0,1156.5 1221.5,1157.0 1222.0,1156.9 1222.5,1156.6 1223.0,1156.6 1223.5,1157.5 1224.0,1157.3 1224.5,1157.0 1225.0,1156.7 1225.5,1156.7 1226.0,1157.7 1226.5,1156.6 1227.0,1157.9 1227.5,1156.5 1228.0,1156.2 1228.5,1157.7 1229.0,1156.8 1229.5,1157.5 1230.0,1157.0 1230.5,1156.7 1231.0,1157.2 1231.5,1156.7 1232.0,1157.0 1232.5,1156.7 1233.0,1156.0 1233.5,1156.9 1234.0,1156.5 1234.5,1156.7 1235.0,1156.9 1235.5,1156.1 1236.0,1157.0 1236.5,1157.0 1237.0,1157.6 1237.5,1157.1 1238.0,1156.8 1238.5,1156.4 1239.0,1156.7 1239.5,1156.0 1240.0,1156.8 1240.5,1156.5 1241.0,1156.5 1241.5,1156.6 1242.0,1156.8 1242.5,1156.7 1243.0,1156.0 1243.5,1157.2 1244.0,1156.6 1244.5,1156.7 1245.0,1156.5 1245.5,1156.1 1246.0,1156.6 1246.5,1156.3 1247.0,1156.0 1247.5,1156.5 1248.0,1156.7 1248.5,1156.6 1249.0,1156.4 1249.5,1156.0 1250.0,1156.1 1250.5,1156.2 1251.0,1155.6 1251.5,1156.5 1252.0,1156.1 1252.5,1155.5 1253.0,1156.7 1253.5,1156.8 1254.0,1155.3 1254.5,1155.7 1255.0,1155.3 1255.5,1155.9 1256.0,1154.9 1256.5,1155.6 1257.0,1155.4 1257.5,1155.6 1258.0,1154.1 1258.5,1154.4 1259.0,1154.5 1259.5,1154.8 1260.0,1154.2 1260.5,1154.2 1261.0,1153.8 1261.5,1153.0 1262.0,1153.0 1262.5,1152.6 1263.0,1152.3 1263.5,1151.6 1264.0,1152.0 1264.5,1151.4 1265.0,1150.1 1265.5,1150.8 1266.0,1149.9 1266.5,1149.1 1267.0,1149.9 1267.5,1148.9 1268.0,1148.7 1268.5,1148.1 1269.0,1147.8 1269.5,1146.7 1270.0,1147.6 1270.5,1146.7 1271.0,1146.8 1271.5,1146.6 1272.0,1146.1 1272.5,1145.9 1273.0,1146.4 1273.5,1147.0 1274.0,1146.2 1274.5,1146.2 1275.0,1146.5 1275.5,1146.3 1276.0,1147.1 1276.5,1146.7 1277.0,1147.5 1277.5,1146.4 1278.0,1147.1 1278.5,1145.6 1279.0,1145.6 1279.5,1144.6 1280.0,1144.4 1280.5,1143.8 1281.0,1143.5 1281.5,1143.0 1282.0,1141.3 1282.5,1139.7 1283.0,1139.2 1283.5,1137.8 1284.0,1136.3 1284.5,1135.5 1285.0,1134.2 1285.5,1131.8 1286.0,1130.3 1286.5,1128.0 1287.0,1127.4 1287.5,1126.8 1288.0,1124.8 1288.5,1124.7 1289.0,1123.9 1289.5,1123.4 1290.0,1123.3 1290.5,1123.1 1291.0,1124.1 1291.5,1124.9 1292.0,1125.6 1292.5,1126.7 1293.0,1128.7 1293.5,1130.3 1294.0,1131.0 1294.5,1133.3 1295.0,1134.7 1295.5,1137.4 1296.0,1137.8 1296.5,1139.3 1297.0,1140.6 1297.5,1142.9 1298.0,1143.4 1298.5,1145.4 1299.0,1146.0 1299.5,1147.9 1300.0,1149.0 1300.5,1149.7 1301.0,1149.1 1301.5,1150.0 1302.0,1150.1 1302.5,1153.0 1303.0,1152.1 1303.5,1152.6 1304.0,1153.2 1304.5,1153.8 1305.0,1153.6 1305.5,1154.1 1306.0,1154.3 1306.5,1153.9 1307.0,1155.5 1307.5,1155.6 1308.0,1155.0 1308.5,1155.0 1309.0,1156.1 1309.5,1156.4 1310.0,1155.4 1310.5,1155.8 1311.0,1155.4 1311.5,1155.8 1312.0,1154.6 1312.5,1154.8 1313.0,1156.0 1313.5,1155.8 1314.0,1156.1 1314.5,1156.0 1315.0,1156.3 1315.5,1156.2 1316.0,1156.1 1316.5,1156.4 1317.0,1155.9 1317.5,1156.9 1318.0,1155.8 1318.5,1156.1 1319.0,1156.7 1319.5,1156.2 1320.0,1156.8 1320.5,1157.1 1321.0,1156.8 1321.5,1156.3 1322.0,1157.4 1322.5,1156.7 1323.0,1156.1 1323.5,1157.5 1324.0,1156.7 1324.5,1156.9 1325.0,1157.0 1325.5,1156.4 1326.0,1157.1 1326.5,1156.1 1327.0,1156.3 1327.5,1156.5 1328.0,1157.7 1328.5,1157.0 1329.0,1157.3 1329.5,1156.6 1330.0,1157.0 1330.5,1155.8 1331.0,1156.7 1331.5,1157.0 1332.0,1156.6 1332.5,1156.0 1333.0,1156.1 1333.5,1157.1 1334.0,1157.5 1334.5,1156.7 1335.0,1157.6 1335.5,1156.3 1336.0,1157.2 1336.5,1157.0 1337.0,1157.4 1337.5,1156.3 1338.0,1157.4 1338.5,1157.0 1339.0,1156.6 1339.5,1156.7 1340.0,1156.9 1340.5,1157.1 1341.0,1156.6 1341.5,1156.6 1342.0,1157.0 1342.5,1157.0 1343.0,1157.2 1343.5,1157.4 1344.0,1156.2 1344.5,1157.0 1345.0,1157.1 1345.5,1157.0 1346.0,1156.5 1346.5,1157.3 1347.0,1157.8 1347.5,1156.9 1348.0,1156.7 1348.5,1157.4 1349.0,1157.0 1349.5,1157.1 1350.0,1157.1 1350.5,1156.8 1351.0,1157.0 1351.5,1156.7 1352.0,1156.2 1352.5,1157.5 1353.0,1157.2 1353.5,1157.0 1354.0,1157.7 1354.5,1157.0 1355.0,1157.6 1355.5,1157.4 1356.0,1156.9 1356.5,1156.5 1357.0,1157.3 1357.5,1157.2 1358.0,1157.5 1358.5,1156.4 1359.0,1157.0 1359.5,1157.2 1360.0,1157.2 1360.5,1157.1 1361.0,1157.2 1361.5,1156.0 1362.0,1157.0 1362.5,1156.8 1363.0,1156.4 1363.5,1157.2 1364.0,1156.9 1364.5,1156.6 1365.0,1156.5 1365.5,1157.3 1366.0,1156.0 1366.5,1157.1 1367.0,1156.6 1367.5,1157.2 1368.0,1158.0 1368.5,1157.6 1369.0,1157.1 1369.5,1157.8 1370.0,1158.0 1370.5,1157.6 1371.0,1158.0 1371.5,1157.2 1372.0,1157.4 1372.5,1157.1 1373.0,1157.0 1373.5,1157.1 1374.0,1156.8 1374.5,1157.1 1375.0,1158.1 1375.5,1157.5 1376.0,1157.0 1376.5,1157.9 1377.0,1157.8 1377.5,1156.7 1378.0,1156.8 1378.5,1157.9 1379.0,1157.2 1379.5,1157.2 1380.0,1156.9 1380.5,1156.6 1381.0,1157.7 1381.5,1156.8 1382.0,1157.4 1382.5,1158.0 1383.0,1157.4 1383.5,1157.0 1384.0,1157.4 1384.5,1157.4 1385.0,1156.9 1385.5,1157.3 1386.0,1156.6 1386.5,1156.3 1387.0,1156.9 1387.5,1156.3 1388.0,1156.9 1388.5,1157.1 1389.0,1157.2 1389.5,1158.0 1390.0,1156.7 1390.5,1156.9 1391.0,1156.9 1391.5,1156.7 1392.0,1158.1 1392.5,1156.8 1393.0,1157.0 1393.5,1157.0 1394.0,1158.2 1394.5,1157.0 1395.0,1156.8 1395.5,1157.7 1396.0,1156.8 1396.5,1156.2 1397.0,1157.6 1397.5,1157.5 1398.0,1156.5 1398.5,1156.5 1399.0,1157.1 1399.5,1156.7 1400.0,1156.4 1400.5,1156.5 1401.0,1157.9 1401.5,1157.6 1402.0,1156.6 1402.5,1157.0 1403.0,1157.1 1403.5,1156.9 1404.0,1157.0 1404.5,1157.9 1405.0,1156.8 1405.5,1156.7 1406.0,1157.0 1406.5,1156.7 1407.0,1156.8 1407.5,1156.8 1408.0,1156.6 1408.5,1157.6 1409.0,1156.7 1409.5,1157.6 1410.0,1156.6 1410.5,1156.6 1411.0,1157.1 1411.5,1156.9 1412.0,1157.4 1412.5,1157.3 1413.0,1158.0 1413.5,1155.6 1414.0,1156.5 1414.5,1156.9 1415.0,1156.8 1415.5,1156.9 1416.0,1158.1 1416.5,1155.9 1417.0,1157.2 1417.5,1156.8 1418.0,1156.9 1418.5,1157.4 1419.0,1156.8 1419.5,1157.2 1420.0,1157.4 1420.5,1157.4 1421.0,1155.9 1421.5,1156.5 1422.0,1156.2 1422.5,1156.4 1423.0,1156.6 1423.5,1157.7 1424.0,1156.4 1424.5,1156.5 1425.0,1156.6 1425.5,1157.3 1426.0,1156.3 1426.5,1156.8 1427.0,1156.9 1427.5,1156.8 1428.0,1155.5 1428.5,1155.8 1429.0,1156.7 1429.5,1155.5 1430.0,1156.1 1430.5,1155.5 1431.0,1156.3 1431.5,1156.0 1432.0,1155.2 1432.5,1155.7 1433.0,1155.2 1433.5,1155.4 1434.0,1156.1 1434.5,1155.5 1435.0,1155.3 1435.5,1155.7 1436.0,1154.9 1436.5,1155.2 1437.0,1154.5 1437.5,1154.2 1438.0,1153.6 1438.5,1153.1 1439.0,1152.7 1439.5,1152.4 1440.0,1152.6 1440.5,1152.2 1441.0,1151.2 1441.5,1151.7 1442.0,1150.3 1442.5,1149.9 1443.0,1149.0 1443.5,1148.7 1444.0,1148.9 1444.5,1148.2 1445.0,1147.2 1445.5,1147.5 1446.0,1146.4 1446.5,1146.0 1447.0,1146.0 1447.5,1145.3 1448.0,1144.6 1448.5,1144.0 1449.0,1144.9 1449.5,1143.1 1450.0,1143.8 1450.5,1143.4 1451.0,1144.1 1451.5,1144.9 1452.0,1144.7 1452.5,1145.0 1453.0,1145.6 1453.5,1146.9 1454.0,1147.1 1454.5,1147.1 1455.0,1147.2 1455.5,1147.9 1456.0,1148.7 1456.5,1149.0 1457.0,1149.6 1457.5,1149.6 1458.0,1150.0 1458.5,1150.6 1459.0,1151.6 1459.5,1151.5 1460.0,1153.5 1460.5,1152.9 1461.0,1153.3 1461.5,1153.8 1462.0,1153.1 1462.5,1153.3 1463.0,1154.0 1463.5,1154.6 1464.0,1154.7 1464.5,1155.4 1465.0,1155.4 1465.5,1155.4 1466.0,1155.6 1466.5,1155.3 1467.0,1155.6 1467.5,1155.2 1468.0,1155.2 1468.5,1155.8 1469.0,1154.7 1469.5,1156.1 1470.0,1156.3 1470.5,1155.3 1471.0,1155.8 1471.5,1155.5 1472.0,1155.0 1472.5,1155.5 1473.0,1155.5 1473.5,1155.7 1474.0,1155.0 1474.5,1155.1 1475.0,1154.6 1475.5,1155.2 1476.0,1154.5 1476.5,1154.8 1477.0,1153.9 1477.5,1154.0 1478.0,1153.2 1478.5,1153.0 1479.0,1153.5 1479.5,1152.6 1480.0,1152.3 1480.5,1152.2 1481.0,1151.1 1481.5,1151.8 1482.0,1150.1 1482.5,1149.7 1483.0,1150.3 1483.5,1147.9 1484.0,1148.9 1484.5,1147.6 1485.0,1147.0 1485.5,1145.7 1486.0,1145.6 1486.5,1144.3 1487.0,1144.7 1487.5,1143.5 1488.0,1142.8 1488.5,1142.3 1489.0,1142.0 1489.5,1142.2 1490.0,1141.6 1490.5,1140.9 1491.0,1140.8 1491.5,1140.7 1492.0,1141.7 1492.5,1141.8 1493.0,1141.4 1493.5,1141.6 1494.0,1142.8 1494.5,1143.1 1495.0,1144.2 1495.5,1144.5 1496.0,1145.4 1496.5,1146.3 1497.0,1147.1 1497.5,1147.1 1498.0,1148.2 1498.5,1148.3 1499.0,1148.6 1499.5,1149.9 1500.0,1150.9 1500.5,1151.5 1501.0,1151.4 1501.5,1151.1 1502.0,1152.5 1502.5,1152.7 1503.0,1153.4 1503.5,1154.0 1504.0,1153.6 1504.5,1153.8 1505.0,1154.2 1505.5,1154.4 1506.0,1154.4 1506.5,1155.2 1507.0,1154.9 1507.5,1155.3 1508.0,1155.4 1508.5,1155.4 1509.0,1156.1 1509.5,1155.7 1510.0,1156.0 1510.5,1156.5 1511.0,1156.1 1511.5,1155.6 1512.0,1156.1 1512.5,1156.2 1513.0,1156.7 1513.5,1157.2 1514.0,1156.6 1514.5,1156.5 1515.0,1157.3 1515.5,1156.3 1516.0,1156.8 1516.5,1156.9 1517.0,1156.7 1517.5,1156.7 1518.0,1156.9 1518.5,1157.5 1519.0,1157.1 1519.5,1156.6 1520.0,1157.0 1520.5,1157.3 1521.0,1157.7 1521.5,1157.3 1522.0,1157.1 1522.5,1157.6 1523.0,1157.4 1523.5,1157.1 1524.0,1156.7 1524.5,1157.1 1525.0,1157.5 1525.5,1156.6 1526.0,1156.4 1526.5,1157.3 1527.0,1156.4 1527.5,1156.5 1528.0,1157.0 1528.5,1157.0 1529.0,1157.2 1529.5,1157.2 1530.0,1157.4 1530.5,1157.1 1531.0,1156.8 1531.5,1155.9 1532.0,1157.7 1532.5,1157.5 1533.0,1157.5 1533.5,1157.2 1534.0,1156.8 1534.5,1157.4 1535.0,1157.2 1535.5,1156.6 1536.0,1157.7 1536.5,1156.6 1537.0,1157.1 1537.5,1158.0 1538.0,1156.9 1538.5,1157.3 1539.0,1157.7 1539.5,1157.3 1540.0,1156.6 1540.5,1157.1 1541.0,1157.3 1541.5,1156.6 1542.0,1157.9 1542.5,1157.4 1543.0,1157.6 1543.5,1157.4 1544.0,1157.5 1544.5,1157.1 1545.0,1156.6 1545.5,1157.6 1546.0,1157.3 1546.5,1158.0 1547.0,1156.8 1547.5,1157.4 1548.0,1158.3 1548.5,1156.7 1549.0,1156.8 1549.5,1157.4 1550.0,1158.1 1550.5,1156.8 1551.0,1157.4 1551.5,1157.2 1552.0,1157.1 1552.5,1157.2 1553.0,1157.9 1553.5,1157.4 1554.0,1156.7 1554.5,1157.1 1555.0,1157.4 1555.5,1156.7 1556.0,1157.0 1556.5,1157.1 1557.0,1156.4 1557.5,1158.2 1558.0,1156.6 1558.5,1157.4 1559.0,1157.3 1559.5,1157.1 1560.0,1157.9 1560.5,1157.4 1561.0,1157.0 1561.5,1157.9 1562.0,1157.6 1562.5,1156.9 1563.0,1156.6 1563.5,1157.7 1564.0,1157.3 1564.5,1156.7 1565.0,1157.6 1565.5,1156.7 1566.0,1157.0 1566.5,1156.9 1567.0,1156.4 1567.5,1157.6 1568.0,1158.9 1568.5,1157.6 1569.0,1157.5 1569.5,1157.2 1570.0,1157.3 1570.5,1157.4 1571.0,1157.6 1571.5,1157.1 1572.0,1157.3 1572.5,1157.2 1573.0,1157.5 1573.5,1157.7 1574.0,1157.8 1574.5,1157.1 1575.0,1157.1 1575.5,1157.6 1576.0,1157.2 1576.5,1157.2 1577.0,1157.5 1577.5,1157.4 1578.0,1157.8 1578.5,1156.7 1579.0,1157.7 1579.5,1157.0 1580.0,1157.5 1580.5,1156.6 1581.0,1157.2 1581.5,1156.9 1582.0,1158.0 1582.5,1156.8 1583.0,1157.7 1583.5,1156.8 1584.0,1156.7 1584.5,1157.3 1585.0,1157.6 1585.5,1157.1 1586.0,1157.4 1586.5,1157.2 1587.0,1157.1 1587.5,1157.7 1588.0,1157.0 1588.5,1157.4 1589.0,1156.5 1589.5,1156.9 1590.0,1157.4 1590.5,1156.7 1591.0,1156.0 1591.5,1157.2 1592.0,1157.1 1592.5,1156.7 1593.0,1156.9 1593.5,1156.6 1594.0,1156.9 1594.5,1157.2 1595.0,1156.8 1595.5,1156.6 1596.0,1156.4 1596.5,1156.5 1597.0,1156.3 1597.5,1156.9 1598.0,1155.9 1598.5,1156.1 1599.0,1156.4 1599.5,1156.3 1600.0,1156.2 1600.5,1155.8 1601.0,1156.0 1601.5,1155.1 1602.0,1154.9 1602.5,1154.9 1603.0,1155.5 1603.5,1155.7 1604.0,1154.7 1604.5,1154.4 1605.0,1154.2 1605.5,1154.8 1606.0,1153.8 1606.5,1153.3 1607.0,1152.6 1607.5,1152.6 1608.0,1152.4 1608.5,1151.3 1609.0,1150.2 1609.5,1150.5 1610.0,1149.2 1610.5,1149.2 1611.0,1147.1 1611.5,1146.6 1612.0,1145.9 1612.5,1144.1 1613.0,1143.9 1613.5,1143.2 1614.0,1141.8 1614.5,1141.1 1615.0,1140.0 1615.5,1138.7 1616.0,1138.5 1616.5,1137.1 1617.0,1136.7 1617.5,1136.0 1618.0,1136.2 1618.5,1135.5 1619.0,1135.5 1619.5,1134.9 1620.0,1136.0 1620.5,1137.0 1621.0,1136.2 1621.5,1138.0 1622.0,1138.6 1622.5,1138.7 1623.0,1140.2 1623.5,1141.8 1624.0,1142.3 1624.5,1143.4 1625.0,1144.7 1625.5,1144.9 1626.0,1146.3 1626.5,1146.2 1627.0,1147.1 1627.5,1148.9 1628.0,1149.5 1628.5,1149.9 1629.0,1149.3 1629.5,1150.3 1630.0,1150.4 1630.5,1152.0 1631.0,1150.9 1631.5,1151.1 1632.0,1151.6 1632.5,1152.1 1633.0,1151.8 1633.5,1151.9 1634.0,1152.2 1634.5,1152.0 1635.0,1151.0 1635.5,1151.2 1636.0,1152.3 1636.5,1151.5 1637.0,1152.1 1637.5,1151.7 1638.0,1151.3 1638.5,1150.7 1639.0,1151.1 1639.5,1150.0 1640.0,1151.1 1640.5,1150.2 1641.0,1150.1 1641.5,1149.6 1642.0,1149.4 1642.5,1149.6 1643.0,1149.5 1643.5,1149.4 1644.0,1149.4 1644.5,1150.2 1645.0,1150.8 1645.5,1151.4 1646.0,1151.1 1646.5,1151.0 1647.0,1151.7 1647.5,1152.5 1648.0,1152.1 1648.5,1152.8 1649.0,1152.8 1649.5,1153.0 1650.0,1153.1 1650.5,1153.9 1651.0,1153.5 1651.5,1153.8 1652.0,1154.6 1652.5,1155.2 1653.0,1155.4 1653.5,1155.6 1654.0,1155.3 1654.5,1155.6 1655.0,1156.3 1655.5,1156.9 1656.0,1154.9 1656.5,1156.8 1657.0,1156.5 1657.5,1156.5 1658.0,1156.3 1658.5,1156.4 1659.0,1156.2 1659.5,1157.0 1660.0,1156.5 1660.5,1156.9 1661.0,1156.4 1661.5,1157.6 1662.0,1157.4 1662.5,1156.7 1663.0,1157.4 1663.5,1157.1 1664.0,1156.9 1664.5,1157.3 1665.0,1157.7 1665.5,1158.0 1666.0,1157.5 1666.5,1157.9 1667.0,1157.7 1667.5,1157.7 1668.0,1157.9 1668.5,1156.9 1669.0,1157.3 1669.5,1158.2 1670.0,1156.9 1670.5,1157.1 1671.0,1158.4 1671.5,1157.1 1672.0,1157.6 1672.5,1157.7 1673.0,1157.4 1673.5,1158.0 1674.0,1158.0 1674.5,1157.3 1675.0,1158.4 1675.5,1157.3 1676.0,1157.4 1676.5,1157.6 1677.0,1157.7 1677.5,1157.1 1678.0,1157.8 1678.5,1156.7 1679.0,1157.4 1679.5,1157.3 1680.0,1157.3 1680.5,1157.6 1681.0,1157.8 1681.5,1157.3 1682.0,1157.7 1682.5,1157.0 1683.0,1157.5 1683.5,1158.1 1684.0,1157.4 1684.5,1157.6 1685.0,1157.7 1685.5,1158.1 1686.0,1157.9 1686.5,1157.6 1687.0,1157.3 1687.5,1157.8 1688.0,1156.5 1688.5,1157.9 1689.0,1157.4 1689.5,1158.0 1690.0,1157.7 1690.5,1158.3 1691.0,1157.5 1691.5,1156.9 1692.0,1157.8 1692.5,1157.5 1693.0,1157.7 1693.5,1158.3 1694.0,1157.4 1694.5,1158.1 1695.0,1158.2 1695.5,1158.3 1696.0,1156.9 1696.5,1157.9 1697.0,1157.5 1697.5,1157.7 1698.0,1157.4 1698.5,1157.7 1699.0,1158.2 1699.5,1158.6 1700.0,1158.1 1700.5,1157.3 1701.0,1158.4 1701.5,1157.3 1702.0,1157.7 1702.5,1158.3 1703.0,1157.6 1703.5,1158.2 1704.0,1157.7 1704.5,1157.3 1705.0,1157.9 1705.5,1157.6 1706.0,1158.6 1706.5,1158.7 1707.0,1158.5 1707.5,1157.4 1708.0,1158.7 1708.5,1158.0 1709.0,1158.1 1709.5,1158.0 1710.0,1157.6 1710.5,1157.9 1711.0,1158.3 1711.5,1158.6 1712.0,1158.1 1712.5,1157.9 1713.0,1157.7 1713.5,1157.8 1714.0,1158.6 1714.5,1158.2 1715.0,1158.0 1715.5,1157.2 1716.0,1157.1 1716.5,1158.2 1717.0,1158.2 1717.5,1158.4 1718.0,1158.0 1718.5,1157.6 1719.0,1157.2 1719.5,1157.5 1720.0,1156.9 1720.5,1158.1 1721.0,1158.1 1721.5,1158.5 1722.0,1157.1 1722.5,1157.3 1723.0,1158.2 1723.5,1158.1 1724.0,1157.0 1724.5,1157.6 1725.0,1158.0 1725.5,1157.8 1726.0,1158.1 1726.5,1158.0 1727.0,1157.7 1727.5,1158.1 1728.0,1157.9 1728.5,1158.5 1729.0,1157.3 1729.5,1157.8 1730.0,1157.6 1730.5,1157.8 1731.0,1158.1 1731.5,1158.2 1732.0,1157.0 1732.5,1158.5 1733.0,1158.2 1733.5,1158.2 1734.0,1158.0 1734.5,1158.4 1735.0,1158.1 1735.5,1157.2 1736.0,1157.7 1736.5,1157.9 1737.0,1157.8 1737.5,1157.8 1738.0,1158.2 1738.5,1157.5 1739.0,1157.6 1739.5,1157.5 1740.0,1158.0 1740.5,1158.2 1741.0,1157.6 1741.5,1158.2 1742.0,1157.7 1742.5,1158.6 1743.0,1157.0 1743.5,1158.0 1744.0,1158.5 1744.5,1157.8"/>
<polyline stroke="#008686" stroke-width="9.0" points="152.5,1009.1 153.0,1009.5 153.5,1011.7 154.0,1010.0 154.5,1012.5 155.0,1010.9 155.5,1010.0 156.0,1010.2 156.5,1011.6 157.0,1012.4 157.5,1009.6 158.0,1009.0 158.5,1009.1 159.0,1011.6 159.5,1013.7 160.0,1010.1 160.5,1011.9 161.0,1010.3 161.5,1012.3 162.0,1008.6 162.5,1011.8 163.0,1008.9 163.5,1009.6 164.0,1011.4 164.5,1010.5 165.0,1010.8 165.5,1011.7 166.0,1011.2 166.5,1013.2 167.0,1012.0 167.5,1009.6 168.0,1010.8 168.5,1010.0 169.0,1010.2 169.5,1013.6 170.0,1009.7 170.5,1012.8 171.0,1013.2 171.5,1015.1 172.0,1010.9 172.5,1011.3 173.0,1011.3 173.5,1010.3 174.0,1013.6 174.5,1013.9 175.0,1007.3 175.5,1010.4 176.0,1012.7 176.5,1009.3 177.0,1009.8 177.5,1010.9 178.0,1010.8 178.5,1010.6 179.0,1010.6 179.5,1013.7 180.0,1007.2 180.5,1010.0 181.0,1009.1 181.5,1011.2 182.0,1010.1 182.5,1011.6 183.0,1010.8 183.5,1014.4 184.0,1008.8 184.5,1010.1 185.0,1012.2 185.5,1010.2 186.0,1011.0 186.5,1008.4 187.0,1011.9 187.5,1010.6 188.0,1011.7 188.5,1009.3 189.0,1009.9 189.5,1009.4 190.0,1013.4 190.5,1008.0 191.0,1011.4 191.5,1011.2 192.0,1012.7 192.5,1011.2 193.0,1009.1 193.5,1011.5 194.0,1008.0 194.5,1012.4 195.0,1010.5 195.5,1009.5 196.0,1009.9 196.5,1011.6 197.0,1008.1 197.5,1013.4 198.0,1009.6 198.5,1013.1 199.0,1010.9 199.5,1013.7 200.0,1008.8 200.5,1012.0 201.0,1010.6 201.5,1009.7 202.0,1012.0 202.5,1010.3 203.0,1009.5 203.5,1010.3 204.0,1009.4 204.5,1010.3 205.0,1010.5 205.5,1012.3 206.0,1010.4 206.5,1009.4 207.0,1011.8 207.5,1010.0 208.0,1009.0 208.5,1008.7 209.0,1013.3 209.5,1010.4 210.0,1013.1 210.5,1009.0 211.0,1008.8 211.5,1013.2 212.0,1010.1 212.5,1010.2 213.0,1010.1 213.5,1008.8 214.0,1012.1 214.5,1008.5 215.0,1011.6 215.5,1008.7 216.0,1014.5 216.5,1011.5 217.0,1012.1 217.5,1007.7 218.0,1010.9 218.5,1009.3 219.0,1008.9 219.5,1008.9 220.0,1011.5 220.5,1010.3 221.0,1009.4 221.5,1009.2 222.0,1009.1 222.5,1009.2 223.0,1009.6 223.5,1008.2 224.0,1008.5 224.5,1006.4 225.0,1009.8 225.5,1010.8 226.0,1009.1 226.5,1012.0 227.0,1008.6 227.5,1009.9 228.0,1011.6 228.5,1010.2 229.0,1008.6 229.5,1010.4 230.0,1009.2 230.5,1011.6 231.0,1011.0 231.5,1009.5 232.0,1010.6 232.5,1012.5 233.0,1011.6 233.5,1011.2 234.0,1009.5 234.5,1008.9 235.0,1008.6 235.5,1011.4 236.0,1008.1 236.5,1010.4 237.0,1012.2 237.5,1007.2 238.0,1010.2 238.5,1008.1 239.0,1009.4 239.5,1010.4 240.0,1008.0 240.5,1007.5 241.0,1008.9 241.5,1009.8 242.0,1008.8 242.5,1007.9 243.0,1010.4 243.5,1007.5 244.0,1007.0 244.5,1009.4 245.0,1012.6 245.5,1008.3 246.0,1008.9 246.5,1007.4 247.0,1008.0 247.5,1007.2 248.0,1009.3 248.5,1007.8 249.0,1007.6 249.5,1010.2 250.0,1006.4 250.5,1010.1 251.0,1008.3 251.5,1007.1 252.0,1008.4 252.5,1008.0 253.0,1008.8 253.5,1007.9 254.0,1011.1 254.5,1009.7 255.0,1009.8 255.5,1006.0 256.0,1007.3 256.5,1009.6 257.0,1008.6 257.5,1007.6 258.0,1007.3 258.5,1009.0 259.0,1004.2 259.5,1005.7 260.0,1004.8 260.5,1008.6 261.0,1004.5 261.5,1006.1 262.0,1008.5 262.5,1005.7 263.0,1006.5 263.5,1005.9 264.0,1006.7 264.5,1008.9 265.0,1003.4 265.5,1005.0 266.0,1007.4 266.5,1008.3 267.0,1003.9 267.5,1006.2 268.0,1004.7 268.5,1004.4 269.0,1000.8 269.5,1000.1 270.0,1002.5 270.5,1001.7 271.0,1001.3 271.5,999.1 272.0,1002.8 272.5,999.7 273.0,1003.6 273.5,998.4 274.0,998.7 274.5,998.6 275.0,996.1 275.5,994.2 276.0,993.9 276.5,993.8 277.0,991.9 277.5,994.5 278.0,989.2 278.5,989.6 279.0,987.9 279.5,984.9 280.0,980.6 280.5,980.5 281.0,978.2 281.5,973.5 282.0,969.3 282.5,961.3 283.0,957.7 283.5,953.2 284.0,946.9 284.5,940.1 285.0,929.9 285.5,921.0 286.0,908.4 286.5,899.3 287.0,886.7 287.5,871.7 288.0,858.9 288.5,841.9 289.0,826.3 289.5,811.5 290.0,800.7 290.5,782.1 291.0,774.2 291.5,765.6 292.0,762.2 292.5,759.5 293.0,766.7 293.5,773.9 294.0,782.9 294.5,795.4 295.0,810.4 295.5,826.9 296.0,838.4 296.5,858.1 297.0,870.0 297.5,885.6 298.0,895.8 298.5,912.0 299.0,920.2 299.5,932.3 300.0,937.4 300.5,945.1 301.0,954.8 301.5,960.2 302.0,965.0 302.5,971.0 303.0,973.8 303.5,976.2 304.0,976.8 304.5,978.9 305.0,985.8 305.5,987.8 306.0,987.3 306.5,991.2 307.0,991.4 307.5,993.1 308.0,995.7 308.5,992.8 309.0,996.8 309.5,997.9 310.0,997.6 310.5,998.9 311.0,997.6 311.5,1000.2 312.0,1001.6 312.5,1002.3 313.0,1000.6 313.5,1003.4 314.0,1003.1 314.5,1004.0 315.0,1003.3 315.5,1004.8 316.0,1004.4 316.5,1008.3 317.0,1004.3 317.5,1006.9 318.0,1005.3 318.5,1003.3 319.0,1006.6 319.5,1008.0 320.0,1007.5 320.5,1007.8 321.0,1005.5 321.5,1007.4 322.0,1005.0 322.5,1010.1 323.0,1009.9 323.5,1006.0 324.0,1007.2 324.5,1006.1 325.0,1007.0 325.5,1007.6 326.0,1006.6 326.5,1007.8 327.0,1009.6 327.5,1008.3 328.0,1010.0 328.5,1008.7 329.0,1009.2 329.5,1007.2 330.0,1010.7 330.5,1007.6 331.0,1008.9 331.5,1007.5 332.0,1010.4 332.5,1008.1 333.0,1010.7 333.5,1012.9 334.0,1010.5 334.5,1006.5 335.0,1011.7 335.5,1010.5 336.0,1011.2 336.5,1011.0 337.0,1012.2 337.5,1012.0 338.0,1010.4 338.5,1008.6 339.0,1010.5 339.5,1011.9 340.0,1007.8 340.5,1011.0 341.0,1008.0 341.5,1012.7 342.0,1013.9 342.5,1012.4 343.0,1010.4 343.5,1012.3 344.0,1013.2 344.5,1013.8 345.0,1013.5 345.5,1013.0 346.0,1009.8 346.5,1011.2 347.0,1012.1 347.5,1011.5 348.0,1008.4 348.5,1011.2 349.0,1010.4 349.5,1011.9 350.0,1012.1 350.5,1009.4 351.0,1010.5 351.5,1011.9 352.0,1010.1 352.5,1011.7 353.0,1010.5 353.5,1010.7 354.0,1013.2 354.5,1011.7 355.0,1011.0 355.5,1014.3 356.0,1011.4 356.5,1011.9 357.0,1012.0 357.5,1016.8 358.0,1013.0 358.5,1013.4 359.0,1011.5 359.5,1013.5 360.0,1013.9 360.5,1010.3 361.0,1012.9 361.5,1014.8 362.0,1015.1 362.5,1012.7 363.0,1015.9 363.5,1011.3 364.0,1014.0 364.5,1013.2 365.0,1010.7 365.5,1014.0 366.0,1010.4 366.5,1011.4 367.0,1012.3 367.5,1010.6 368.0,1014.4 368.5,1011.8 369.0,1010.6 369.5,1013.0 370.0,1012.6 370.5,1010.9 371.0,1011.8 371.5,1014.1 372.0,1014.0 372.5,1010.2 373.0,1014.2 373.5,1014.3 374.0,1014.6 374.5,1012.0 375.0,1011.6 375.5,1012.7 376.0,1011.8 376.5,1012.5 377.0,1011.9 377.5,1012.4 378.0,1012.1 378.5,1013.0 379.0,1013.2 379.5,1012.5 380.0,1012.1 380.5,1015.5 381.0,1014.5 381.5,1013.8 382.0,1011.7 382.5,1014.0 383.0,1012.8 383.5,1014.0 384.0,1013.5 384.5,1017.1 385.0,1013.1 385.5,1011.5 386.0,1014.8 386.5,1015.0 387.0,1015.3 387.5,1009.1 388.0,1011.7 388.5,1011.9 389.0,1010.6 389.5,1013.4 390.0,1014.3 390.5,1014.9 391.0,1014.7 391.5,1013.3 392.0,1015.7 392.5,1013.7 393.0,1008.9 393.5,1012.8 394.0,1012.1 394.5,1013.8 395.0,1012.6 395.5,1012.8 396.0,1015.5 396.5,1012.1 397.0,1011.2 397.5,1013.7 398.0,1014.4 398.5,1013.2 399.0,1013.3 399.5,1012.4 400.0,1011.3 400.5,1012.2 401.0,1011.7 401.5,1015.3 402.0,1013.0 402.5,1015.6 403.0,1013.2 403.5,1012.0 404.0,1013.7 404.5,1013.8 405.0,1015.6 405.5,1010.3 406.0,1012.8 406.5,1014.1 407.0,1012.3 407.5,1013.7 408.0,1013.0 408.5,1015.8 409.0,1015.5 409.5,1010.3 410.0,1011.1 410.5,1012.3 411.0,1013.4 411.5,1013.3 412.0,1012.7 412.5,1014.5 413.0,1014.9 413.5,1013.7 414.0,1013.1 414.5,1013.6 415.0,1012.3 415.5,1014.9 416.0,1014.9 416.5,1012.1 417.0,1015.9 417.5,1013.5 418.0,1014.9 418.5,1013.6 419.0,1013.3 419.5,1014.8 420.0,1012.1 420.5,1013.3 421.0,1011.8 421.5,1014.4 422.0,1013.3 422.5,1013.2 423.0,1012.8 423.5,1014.7 424.0,1014.1 424.5,1013.3 425.0,1013.0 425.5,1016.5 426.0,1016.1 426.5,1011.9 427.0,1015.6 427.5,1014.5 428.0,1014.2 428.5,1014.4 429.0,1011.6 429.5,1017.6 430.0,1017.0 430.5,1013.8 431.0,1013.8 431.5,1014.0 432.0,1012.7 432.5,1014.6 433.0,1013.7 433.5,1012.1 434.0,1013.0 434.5,1012.7 435.0,1012.8 435.5,1013.2 436.0,1014.7 436.5,1013.1 437.0,1011.2 437.5,1016.0 438.0,1012.8 438.5,1016.0 439.0,1014.1 439.5,1014.6 440.0,1012.4 440.5,1013.9 441.0,1013.2 441.5,1013.7 442.0,1014.5 442.5,1013.2 443.0,1015.1 443.5,1011.6 444.0,1012.1 444.5,1014.5 445.0,1014.6 445.5,1015.5 446.0,1016.3 446.5,1014.5 447.0,1015.0 447.5,1014.2 448.0,1014.1 448.5,1013.7 449.0,1014.0 449.5,1013.0 450.0,1013.6 450.5,1015.1 451.0,1014.7 451.5,1015.7 452.0,1013.1 452.5,1013.3 453.0,1014.6 453.5,1012.5 454.0,1012.5 454.5,1014.9 455.0,1013.4 455.5,1015.2 456.0,1014.0 456.5,1013.2 457.0,1012.2 457.5,1015.7 458.0,1013.7 458.5,1012.5 459.0,1011.5 459.5,1011.9 460.0,1013.2 460.5,1015.8 461.0,1012.4 461.5,1014.3 462.0,1014.2 462.5,1008.7 463.0,1011.8 463.5,1015.1 464.0,1010.6 464.5,1015.6 465.0,1013.8 465.5,1011.2 466.0,1016.7 466.5,1013.6 467.0,1016.3 467.5,1014.1 468.0,1012.6 468.5,1015.6 469.0,1016.6 469.5,1015.8 470.0,1012.0 470.5,1014.8 471.0,1012.0 471.5,1012.9 472.0,1015.9 472.5,1011.6 473.0,1017.7 473.5,1011.4 474.0,1011.8 474.5,1015.0 475.0,1013.5 475.5,1013.6 476.0,1012.4 476.5,1015.0 477.0,1014.2 477.5,1013.7 478.0,1012.6 478.5,1011.5 479.0,1013.8 479.5,1010.4 480.0,1012.8 480.5,1014.8 481.0,1014.9 481.5,1013.2 482.0,1009.8 482.5,1014.7 483.0,1015.3 483.5,1014.0 484.0,1015.9 484.5,1015.5 485.0,1011.2 485.5,1013.5 486.0,1013.1 486.5,1016.4 487.0,1015.6 487.5,1014.1 488.0,1014.8 488.5,1015.3 489.0,1012.8 489.5,1013.6 490.0,1013.7 490.5,1013.2 491.0,1013.4 491.5,1014.3 492.0,1011.9 492.5,1012.1 493.0,1015.1 493.5,1016.3 494.0,1016.9 494.5,1011.1 495.0,1014.5 495.5,1012.6 496.0,1013.1 496.5,1013.5 497.0,1014.5 497.5,1014.8 498.0,1010.1 498.5,1013.0 499.0,1015.6 499.5,1014.1 500.0,1011.3 500.5,1012.3 501.0,1012.6 501.5,1015.5 502.0,1016.7 502.5,1012.2 503.0,1014.7 503.5,1013.4 504.0,1014.8 504.5,1013.5 505.0,1012.1 505.5,1012.9 506.0,1012.9 506.5,1016.2 507.0,1012.7 507.5,1014.8 508.0,1012.6 508.5,1012.8 509.0,1014.2 509.5,1013.0 510.0,1017.0 510.5,1016.0 511.0,1012.1 511.5,1014.7 512.0,1016.3 512.5,1012.0 513.0,1013.2 513.5,1016.2 514.0,1012.6 514.5,1014.9 515.0,1013.8 515.5,1014.2 516.0,1012.2 516.5,1013.8 517.0,1013.2 517.5,1016.7 518.0,1014.9 518.5,1014.1 519.0,1013.9 519.5,1015.0 520.0,1011.3 520.5,1012.3 521.0,1012.4 521.5,1012.6 522.0,1011.3 522.5,1014.7 523.0,1013.1 523.5,1015.8 524.0,1013.7 524.5,1013.3 525.0,1014.6 525.5,1014.5 526.0,1013.4 526.5,1014.8 527.0,1015.8 527.5,1013.1 528.0,1015.9 528.5,1013.5 529.0,1015.2 529.5,1013.8 530.0,1013.2 530.5,1014.3 531.0,1012.1 531.5,1011.3 532.0,1013.8 532.5,1013.5 533.0,1012.1 533.5,1017.2 534.0,1014.5 534.5,1012.7 535.0,1014.6 535.5,1014.7 536.0,1013.2 536.5,1013.4 537.0,1010.9 537.5,1014.2 538.0,1016.8 538.5,1015.6 539.0,1015.4 539.5,1012.9 540.0,1012.1 540.5,1015.2 541.0,1014.3 541.5,1013.5 542.0,1013.3 542.5,1015.3 543.0,1014.8 543.5,1013.0 544.0,1013.6 544.5,1011.1 545.0,1011.9 545.5,1014.6 546.0,1013.0 546.5,1012.4 547.0,1014.2 547.5,1015.7 548.0,1012.4 548.5,1013.2 549.0,1013.3 549.5,1017.5 550.0,1015.3 550.5,1014.1 551.0,1011.5 551.5,1014.9 552.0,1014.6 552.5,1013.4 553.0,1012.5 553.5,1012.9 554.0,1011.0 554.5,1013.0 555.0,1012.9 555.5,1012.2 556.0,1013.1 556.5,1011.1 557.0,1015.4 557.5,1013.3 558.0,1011.7 558.5,1014.7 559.0,1014.4 559.5,1012.7 560.0,1011.4 560.5,1013.4 561.0,1014.2 561.5,1014.5 562.0,1014.9 562.5,1014.8 563.0,1011.1 563.5,1013.6 564.0,1010.5 564.5,1014.9 565.0,1014.0 565.5,1014.8 566.0,1013.4 566.5,1013.3 567.0,1012.4 567.5,1008.9 568.0,1012.9 568.5,1017.2 569.0,1015.2 569.5,1012.8 570.0,1013.6 570.5,1013.8 571.0,1012.2 571.5,1013.0 572.0,1013.5 572.5,1012.2 573.0,1013.6 573.5,1014.8 574.0,1014.1 574.5,1013.2 575.0,1012.5 575.5,1013.8 576.0,1011.8 576.5,1011.6 577.0,1014.5 577.5,1011.8 578.0,1010.2 578.5,1013.6 579.0,1013.3 579.5,1013.8 580.0,1011.8 580.5,1013.6 581.0,1011.5 581.5,1010.0 582.0,1011.2 582.5,1011.7 583.0,1009.5 583.5,1010.7 584.0,1011.2 584.5,1010.0 585.0,1010.6 585.5,1010.2 586.0,1008.8 586.5,1010.3 587.0,1010.5 587.5,1006.2 588.0,1008.0 588.5,1010.1 589.0,1009.2 589.5,1005.3 590.0,1008.3 590.5,1009.8 591.0,1008.7 591.5,1008.2 592.0,1006.5 592.5,1006.5 593.0,1004.2 593.5,1005.7 594.0,1008.9 594.5,1004.9 595.0,1003.1 595.5,1005.0 596.0,1000.7 596.5,1007.0 597.0,1004.1 597.5,1002.4 598.0,1001.9 598.5,1000.8 599.0,1002.1 599.5,1001.7 600.0,999.0 600.5,1002.7 601.0,1000.4 601.5,999.1 602.0,1002.1 602.5,1001.7 603.0,999.6 603.5,999.4 604.0,1002.1 604.5,999.8 605.0,1000.7 605.5,1002.6 606.0,998.7 606.5,998.3 607.0,999.4 607.5,999.9 608.0,1001.0 608.5,1002.5 609.0,1000.4 609.5,1003.8 610.0,1001.6 610.5,998.2 611.0,1001.2 611.5,1002.4 612.0,1002.9 612.5,1000.0 613.0,1000.8 613.5,1004.3 614.0,1000.8 614.5,998.8 615.0,997.5 615.5,998.8 616.0,999.5 616.5,996.6 617.0,999.8 617.5,995.7 618.0,993.1 618.5,996.2 619.0,994.2 619.5,992.7 620.0,993.8 620.5,989.6 621.0,990.3 621.5,987.0 622.0,988.9 622.5,984.8 623.0,983.2 623.5,982.5 624.0,979.8 624.5,979.1 625.0,976.4 625.5,976.3 626.0,974.0 626.5,971.8 627.0,972.4 627.5,971.3 628.0,968.3 628.5,969.0 629.0,966.7 629.5,969.5 630.0,971.0 630.5,974.1 631.0,971.6 631.5,973.7 632.0,975.6 632.5,975.7 633.0,973.0 633.5,976.6 634.0,979.3 634.5,980.7 635.0,981.9 635.5,981.7 636.0,981.5 636.5,986.3 637.0,988.6 637.5,987.2 638.0,989.8 638.5,989.0 639.0,990.4 639.5,990.4 640.0,993.1 640.5,990.9 641.0,992.9 641.5,994.4 642.0,993.2 642.5,991.5 643.0,994.1 643.5,993.3 644.0,991.7 644.5,993.4 645.0,993.2 645.5,994.7 646.0,993.0 646.5,994.0 647.0,994.9 647.5,991.3 648.0,996.0 648.5,994.8 649.0,993.6 649.5,995.8 650.0,997.8 650.5,995.7 651.0,996.5 651.5,1000.2 652.0,1001.2 652.5,1002.5 653.0,1000.3 653.5,999.5 654.0,1000.3 654.5,1002.0 655.0,1001.7 655.5,1004.6 656.0,1006.6 656.5,1003.6 657.0,1008.2 657.5,1005.1 658.0,1006.0 658.5,1005.5 659.0,1009.3 659.5,1008.5 660.0,1009.2 660.5,1005.1 661.0,1009.0 661.5,1010.7 662.0,1006.4 662.5,1013.9 663.0,1011.7 663.5,1013.1 664.0,1011.2 664.5,1013.3 665.0,1014.1 665.5,1016.2 666.0,1010.8 666.5,1015.8 667.0,1011.0 667.5,1013.1 668.0,1012.3 668.5,1012.8 669.0,1010.2 669.5,1012.8 670.0,1011.5 670.5,1013.1 671.0,1013.9 671.5,1013.6 672.0,1013.4 672.5,1015.8 673.0,1014.2 673.5,1014.7 674.0,1015.9 674.5,1013.8 675.0,1014.1 675.5,1015.0 676.0,1013.6 676.5,1015.9 677.0,1013.1 677.5,1013.8 678.0,1013.9 678.5,1013.7 679.0,1014.1 679.5,1013.5 680.0,1010.5 680.5,1016.0 681.0,1013.6 681.5,1015.4 682.0,1012.7 682.5,1015.2 683.0,1012.4 683.5,1016.6 684.0,1014.2 684.5,1013.7 685.0,1010.0 685.5,1010.9 686.0,1013.7 686.5,1013.5 687.0,1013.5 687.5,1013.7 688.0,1016.0 688.5,1013.9 689.0,1013.9 689.5,1013.3 690.0,1012.9 690.5,1015.1 691.0,1013.9 691.5,1013.9 692.0,1015.0 692.5,1014.6 693.0,1015.8 693.5,1015.7 694.0,1012.6 694.5,1013.3 695.0,1016.0 695.5,1013.9 696.0,1015.5 696.5,1013.1 697.0,1010.7 697.5,1011.0 698.0,1013.3 698.5,1013.7 699.0,1017.9 699.5,1015.4 700.0,1015.2 700.5,1015.5 701.0,1011.5 701.5,1014.0 702.0,1013.6 702.5,1016.7 703.0,1012.5 703.5,1011.2 704.0,1013.5 704.5,1013.0 705.0,1013.3 705.5,1013.4 706.0,1013.2 706.5,1011.9 707.0,1012.1 707.5,1016.3 708.0,1011.7 708.5,1013.4 709.0,1011.1 709.5,1010.0 710.0,1014.1 710.5,1013.1 711.0,1014.9 711.5,1014.6 712.0,1013.5 712.5,1012.1 713.0,1016.3 713.5,1013.6 714.0,1017.0 714.5,1014.9 715.0,1015.4 715.5,1015.1 716.0,1015.0 716.5,1014.1 717.0,1018.1 717.5,1013.3 718.0,1012.4 718.5,1015.3 719.0,1013.9 719.5,1016.5 720.0,1014.8 720.5,1017.0 721.0,1015.3 721.5,1014.0 722.0,1014.8 722.5,1016.4 723.0,1014.4 723.5,1014.1 724.0,1015.1 724.5,1015.9 725.0,1017.3 725.5,1016.1 726.0,1016.8 726.5,1015.2 727.0,1018.3 727.5,1018.9 728.0,1014.5 728.5,1015.9 729.0,1015.4 729.5,1016.0 730.0,1015.1 730.5,1014.5 731.0,1013.6 731.5,1014.8 732.0,1015.6 732.5,1017.2 733.0,1016.5 733.5,1015.0 734.0,1014.6 734.5,1013.3 735.0,1016.7 735.5,1015.8 736.0,1016.6 736.5,1016.8 737.0,1016.5 737.5,1015.5 738.0,1015.2 738.5,1014.1 739.0,1014.7 739.5,1016.3 740.0,1019.1 740.5,1015.0 741.0,1016.0 741.5,1020.6 742.0,1015.8 742.5,1015.1 743.0,1015.7 743.5,1015.3 744.0,1012.7 744.5,1016.9 745.0,1012.9 745.5,1014.8 746.0,1015.0 746.5,1016.3 747.0,1015.3 747.5,1014.9 748.0,1014.3 748.5,1015.9 749.0,1015.0 749.5,1014.5 750.0,1013.5 750.5,1014.2 751.0,1015.8 751.5,1013.1 752.0,1015.7 752.5,1015.7 753.0,1017.3 753.5,1014.5 754.0,1014.0 754.5,1015.4 755.0,1014.9 755.5,1011.5 756.0,1017.3 756.5,1015.9 757.0,1015.7 757.5,1014.3 758.0,1016.1 758.5,1015.1 759.0,1018.0 759.5,1016.6 760.0,1017.7 760.5,1013.6 761.0,1014.2 761.5,1014.9 762.0,1014.6 762.5,1018.0 763.0,1016.1 763.5,1013.9 764.0,1015.1 764.5,1018.4 765.0,1015.1 765.5,1016.5 766.0,1012.9 766.5,1014.7 767.0,1015.3 767.5,1015.2 768.0,1015.5 768.5,1016.1 769.0,1017.3 769.5,1012.9 770.0,1015.6 770.5,1016.6 771.0,1015.9 771.5,1017.3 772.0,1015.4 772.5,1014.9 773.0,1014.3 773.5,1017.0 774.0,1013.6 774.5,1014.9 775.0,1015.5 775.5,1016.5 776.0,1015.1 776.5,1014.1 777.0,1016.5 777.5,1013.8 778.0,1014.4 778.5,1012.5 779.0,1015.8 779.5,1015.7 780.0,1012.8 780.5,1015.2 781.0,1016.4 781.5,1014.5 782.0,1012.9 782.5,1015.4 783.0,1016.4 783.5,1012.6 784.0,1016.8 784.5,1015.4 785.0,1016.9 785.5,1013.9 786.0,1016.9 786.5,1016.0 787.0,1016.7 787.5,1015.6 788.0,1017.0 788.5,1015.3 789.0,1014.8 789.5,1013.9 790.0,1013.1 790.5,1015.6 791.0,1015.0 791.5,1015.4 792.0,1015.1 792.5,1016.0 793.0,1015.6 793.5,1014.6 794.0,1016.7 794.5,1018.8 795.0,1014.2 795.5,1014.9 796.0,1016.4 796.5,1014.4 797.0,1017.1 797.5,1014.5 798.0,1013.7 798.5,1014.1 799.0,1017.2 799.5,1012.5 800.0,1015.8 800.5,1012.3 801.0,1016.7 801.5,1016.2 802.0,1016.6 802.5,1018.9 803.0,1015.5 803.5,1017.4 804.0,1016.6 804.5,1017.3 805.0,1014.6 805.5,1017.4 806.0,1015.3 806.5,1018.0 807.0,1017.2 807.5,1015.9 808.0,1016.7 808.5,1016.7 809.0,1016.2 809.5,1020.0 810.0,1014.6 810.5,1013.8 811.0,1013.8 811.5,1015.5 812.0,1015.8 812.5,1016.9 813.0,1017.4 813.5,1016.3 814.0,1016.1 814.5,1014.5 815.0,1017.5 815.5,1018.0 816.0,1015.7 816.5,1017.0 817.0,1014.9 817.5,1015.9 818.0,1016.1 818.5,1017.3 819.0,1013.7 819.5,1016.0 820.0,1017.3 820.5,1016.4 821.0,1016.9 821.5,1012.0 822.0,1014.5 822.5,1015.2 823.0,1014.7 823.5,1012.2 824.0,1017.5 824.5,1016.2 825.0,1012.8 825.5,1015.0 826.0,1015.8 826.5,1017.3 827.0,1016.8 827.5,1014.2 828.0,1014.7 828.5,1016.1 829.0,1017.3 829.5,1015.0 830.0,1014.7 830.5,1016.6 831.0,1015.9 831.5,1017.8 832.0,1016.4 832.5,1017.2 833.0,1012.6 833.5,1013.6 834.0,1013.3 834.5,1014.6 835.0,1016.2 835.5,1015.2 836.0,1016.4 836.5,1014.4 837.0,1017.1 837.5,1016.9 838.0,1012.9 838.5,1013.9 839.0,1014.6 839.5,1016.8 840.0,1016.7 840.5,1018.3 841.0,1013.2 841.5,1015.8 842.0,1015.5 842.5,1015.0 843.0,1015.2 843.5,1012.2 844.0,1015.9 844.5,1014.8 845.0,1013.4 845.5,1017.6 846.0,1014.3 846.5,1015.7 847.0,1014.3 847.5,1012.9 848.0,1014.6 848.5,1015.8 849.0,1013.7 849.5,1016.1 850.0,1018.0 850.5,1017.2 851.0,1014.8 851.5,1014.0 852.0,1016.7 852.5,1013.1 853.0,1013.6 853.5,1018.0 854.0,1015.8 854.5,1016.0 855.0,1014.8 855.5,1019.7 856.0,1020.1 856.5,1015.0 857.0,1016.5 857.5,1014.8 858.0,1015.9 858.5,1017.3 859.0,1017.2 859.5,1014.8 860.0,1015.8 860.5,1019.6 861.0,1016.6 861.5,1017.3 862.0,1016.0 862.5,1014.9 863.0,1013.3 863.5,1013.4 864.0,1012.3 864.5,1013.2 865.0,1013.5 865.5,1016.0 866.0,1012.2 866.5,1015.4 867.0,1011.6 867.5,1018.8 868.0,1013.7 868.5,1014.8 869.0,1017.3 869.5,1014.1 870.0,1014.5 870.5,1014.5 871.0,1015.1 871.5,1013.4 872.0,1016.9 872.5,1015.8 873.0,1014.2 873.5,1015.8 874.0,1013.6 874.5,1012.8 875.0,1013.4 875.5,1014.2 876.0,1010.9 876.5,1012.7 877.0,1013.7 877.5,1011.1 878.0,1013.2 878.5,1010.8 879.0,1012.6 879.5,1012.0 880.0,1012.4 880.5,1010.5 881.0,1008.3 881.5,1007.0 882.0,1016.7 882.5,1008.1 883.0,1008.7 883.5,1007.0 884.0,1011.3 884.5,1009.7 885.0,1009.3 885.5,1005.4 886.0,1008.0 886.5,1004.2 887.0,1006.1 887.5,1002.6 888.0,997.4 888.5,998.8 889.0,995.1 889.5,997.4 890.0,988.0 890.5,985.5 891.0,980.8 891.5,974.5 892.0,968.5 892.5,962.7 893.0,955.9 893.5,946.6 894.0,938.4 894.5,930.3 895.0,920.5 895.5,914.1 896.0,908.2 896.5,905.4 897.0,902.7 897.5,902.9 898.0,906.5 898.5,908.9 899.0,918.8 899.5,924.3 900.0,933.0 900.5,941.1 901.0,951.2 901.5,957.0 902.0,966.2 902.5,971.3 903.0,977.0 903.5,983.6 904.0,986.1 904.5,993.2 905.0,993.4 905.5,996.6 906.0,1001.5 906.5,999.2 907.0,1004.6 907.5,1004.6 908.0,1005.8 908.5,1006.9 909.0,1005.9 909.5,1010.7 910.0,1009.5 910.5,1010.2 911.0,1010.9 911.5,1011.6 912.0,1010.9 912.5,1009.3 913.0,1009.0 913.5,1009.2 914.0,1010.9 914.5,1013.4 915.0,1010.0 915.5,1011.7 916.0,1013.4 916.5,1012.0 917.0,1012.3 917.5,1011.2 918.0,1013.3 918.5,1012.2 919.0,1012.2 919.5,1012.7 920.0,1014.1 920.5,1015.1 921.0,1011.8 921.5,1014.5 922.0,1012.1 922.5,1011.0 923.0,1012.9 923.5,1014.1 924.0,1014.0 924.5,1014.8 925.0,1011.1 925.5,1016.5 926.0,1015.7 926.5,1015.5 927.0,1012.0 927.5,1015.2 928.0,1013.8 928.5,1013.8 929.0,1014.7 929.5,1012.2 930.0,1016.4 930.5,1016.4 931.0,1016.1 931.5,1017.0 932.0,1012.2 932.5,1014.4 933.0,1014.4 933.5,1013.0 934.0,1016.3 934.5,1019.0 935.0,1013.4 935.5,1016.0 936.0,1015.2 936.5,1015.4 937.0,1015.3 937.5,1016.3 938.0,1014.2 938.5,1014.6 939.0,1017.8 939.5,1015.3 940.0,1015.3 940.5,1012.5 941.0,1016.0 941.5,1016.3 942.0,1015.8 942.5,1017.8 943.0,1012.3 943.5,1016.8 944.0,1012.8 944.5,1013.7 945.0,1012.3 945.5,1016.7 946.0,1015.2 946.5,1014.7 947.0,1015.4 947.5,1012.1 948.0,1014.4 948.5,1015.7 949.0,1014.5 949.5,1015.3 950.0,1012.9 950.5,1015.7 951.0,1014.9 951.5,1015.7 952.0,1017.9 952.5,1015.5 953.0,1014.5 953.5,1016.0 954.0,1013.7 954.5,1018.0 955.0,1015.4 955.5,1015.4 956.0,1016.2 956.5,1013.5 957.0,1015.4 957.5,1015.1 958.0,1018.8 958.5,1017.7 959.0,1018.3 959.5,1015.5 960.0,1015.7 960.5,1017.1 961.0,1014.4 961.5,1014.0 962.0,1017.9 962.5,1016.2 963.0,1016.2 963.5,1012.8 964.0,1014.8 964.5,1014.7 965.0,1014.3 965.5,1015.9 966.0,1014.0 966.5,1013.6 967.0,1018.5 967.5,1016.2 968.0,1013.8 968.5,1018.7 969.0,1016.3 969.5,1016.0 970.0,1011.2 970.5,1017.8 971.0,1015.7 971.5,1017.3 972.0,1018.1 972.5,1013.4 973.0,1018.3 973.5,1016.6 974.0,1015.5 974.5,1011.7 975.0,1018.2 975.5,1015.6 976.0,1016.0 976.5,1013.1 977.0,1015.8 977.5,1015.6 978.0,1016.9 978.5,1013.0 979.0,1011.0 979.5,1013.3 980.0,1012.5 980.5,1014.4 981.0,1013.6 981.5,1014.1 982.0,1015.7 982.5,1016.3 983.0,1013.7 983.5,1011.2 984.0,1013.6 984.5,1013.4 985.0,1013.6 985.5,1013.6 986.0,1013.9 986.5,1010.7 987.0,1015.0 987.5,1015.1 988.0,1014.9 988.5,1014.3 989.0,1016.0 989.5,1012.1 990.0,1014.6 990.5,1015.8 991.0,1014.2 991.5,1014.9 992.0,1016.6 992.5,1014.8 993.0,1013.8 993.5,1014.4 994.0,1015.7 994.5,1013.6 995.0,1015.2 995.5,1014.6 996.0,1015.3 996.5,1016.4 997.0,1016.4 997.5,1015.3 998.0,1015.6 998.5,1016.4 999.0,1014.0 999.5,1015.5 1000.0,1013.4 1000.5,1017.1 1001.0,1015.4 1001.5,1013.2 1002.0,1014.4 1002.5,1016.3 1003.0,1015.6 1003.5,1012.6 1004.0,1017.8 1004.5,1015.5 1005.0,1015.7 1005.5,1014.6 1006.0,1013.9 1006.5,1012.8 1007.0,1015.3 1007.5,1015.0 1008.0,1014.7 1008.5,1016.2 1009.0,1015.5 1009.5,1013.4 1010.0,1014.4 1010.5,1016.7 1011.0,1012.8 1011.5,1018.2 1012.0,1014.1 1012.5,1018.8 1013.0,1015.5 1013.5,1012.4 1014.0,1015.5 1014.5,1014.9 1015.0,1014.1 1015.5,1014.8 1016.0,1014.8 1016.5,1009.7 1017.0,1015.8 1017.5,1014.2 1018.0,1014.6 1018.5,1015.6 1019.0,1014.5 1019.5,1012.5 1020.0,1015.6 1020.5,1013.8 1021.0,1014.6 1021.5,1013.1 1022.0,1013.9 1022.5,1012.6 1023.0,1016.4 1023.5,1012.3 1024.0,1015.4 1024.5,1010.9 1025.0,1014.1 1025.5,1013.2 1026.0,1015.0 1026.5,1013.8 1027.0,1016.8 1027.5,1017.7 1028.0,1012.2 1028.5,1013.9 1029.0,1011.3 1029.5,1011.0 1030.0,1012.3 1030.5,1013.5 1031.0,1012.9 1031.5,1011.4 1032.0,1013.2 1032.5,1009.4 1033.0,1009.5 1033.5,1010.4 1034.0,1007.4 1034.5,1011.9 1035.0,1009.3 1035.5,1008.5 1036.0,1009.3 1036.5,1006.0 1037.0,1007.4 1037.5,1004.4 1038.0,1006.2 1038.5,1006.1 1039.0,1007.7 1039.5,1004.6 1040.0,1006.0 1040.5,1003.1 1041.0,999.9 1041.5,1002.7 1042.0,1000.8 1042.5,998.9 1043.0,1000.4 1043.5,996.4 1044.0,996.5 1044.5,997.2 1045.0,996.4 1045.5,993.1 1046.0,993.6 1046.5,992.2 1047.0,992.0 1047.5,989.7 1048.0,985.8 1048.5,987.5 1049.0,989.5 1049.5,984.9 1050.0,985.1 1050.5,985.9 1051.0,983.5 1051.5,981.5 1052.0,982.6 1052.5,981.8 1053.0,980.4 1053.5,981.2 1054.0,979.1 1054.5,978.8 1055.0,979.5 1055.5,981.1 1056.0,981.7 1056.5,981.1 1057.0,984.2 1057.5,984.0 1058.0,983.8 1058.5,986.2 1059.0,987.5 1059.5,987.1 1060.0,986.0 1060.5,989.0 1061.0,990.4 1061.5,990.2 1062.0,990.3 1062.5,991.8 1063.0,992.8 1063.5,990.3 1064.0,996.5 1064.5,995.0 1065.0,998.8 1065.5,996.7 1066.0,996.1 1066.5,999.3 1067.0,998.9 1067.5,1000.7 1068.0,999.3 1068.5,999.8 1069.0,999.9 1069.5,1000.3 1070.0,1002.4 1070.5,1000.1 1071.0,1002.5 1071.5,1004.0 1072.0,1000.9 1072.5,1002.0 1073.0,1000.9 1073.5,1001.2 1074.0,1001.5 1074.5,1001.7 1075.0,1001.2 1075.5,997.8 1076.0,998.7 1076.5,995.3 1077.0,992.8 1077.5,991.2 1078.0,987.5 1078.5,988.2 1079.0,982.7 1079.5,982.9 1080.0,983.7 1080.5,974.9 1081.0,969.8 1081.5,970.3 1082.0,964.8 1082.5,963.2 1083.0,960.4 1083.5,958.4 1084.0,959.8 1084.5,955.7 1085.0,955.3 1085.5,955.4 1086.0,955.7 1086.5,958.0 1087.0,959.9 1087.5,966.0 1088.0,967.7 1088.5,972.5 1089.0,975.5 1089.5,982.0 1090.0,981.8 1090.5,986.1 1091.0,987.3 1091.5,992.9 1092.0,993.4 1092.5,996.1 1093.0,996.1 1093.5,1001.0 1094.0,1004.4 1094.5,1005.4 1095.0,1003.0 1095.5,1007.2 1096.0,1005.8 1096.5,1005.2 1097.0,1006.6 1097.5,1011.1 1098.0,1009.3 1098.5,1008.4 1099.0,1011.3 1099.5,1011.6 1100.0,1011.0 1100.5,1012.5 1101.0,1011.5 1101.5,1014.2 1102.0,1013.7 1102.5,1012.6 1103.0,1013.5 1103.5,1014.5 1104.0,1013.1 1104.5,1014.2 1105.0,1013.3 1105.5,1013.2 1106.0,1010.8 1106.5,1012.0 1107.0,1012.4 1107.5,1014.2 1108.0,1018.2 1108.5,1012.8 1109.0,1013.7 1109.5,1012.4 1110.0,1013.9 1110.5,1014.2 1111.0,1015.7 1111.5,1012.5 1112.0,1015.5 1112.5,1015.2 1113.0,1014.4 1113.5,1013.0 1114.0,1013.3 1114.5,1014.7 1115.0,1016.0 1115.5,1015.0 1116.0,1014.0 1116.5,1015.7 1117.0,1013.7 1117.5,1016.5 1118.0,1019.9 1118.5,1014.5 1119.0,1017.1 1119.5,1014.0 1120.0,1015.7 1120.5,1016.4 1121.0,1017.5 1121.5,1015.7 1122.0,1017.8 1122.5,1013.7 1123.0,1015.4 1123.5,1015.7 1124.0,1015.9 1124.5,1015.6 1125.0,1018.7 1125.5,1015.3 1126.0,1017.5 1126.5,1016.6 1127.0,1019.1 1127.5,1015.6 1128.0,1017.1 1128.5,1016.9 1129.0,1011.0 1129.5,1016.7 1130.0,1017.7 1130.5,1018.5 1131.0,1014.5 1131.5,1015.8 1132.0,1018.1 1132.5,1014.4 1133.0,1015.0 1133.5,1017.2 1134.0,1017.3 1134.5,1018.4 1135.0,1018.0 1135.5,1016.6 1136.0,1014.7 1136.5,1015.3 1137.0,1016.4 1137.5,1017.0 1138.0,1016.5 1138.5,1017.7 1139.0,1015.2 1139.5,1015.8 1140.0,1014.4 1140.5,1019.6 1141.0,1016.2 1141.5,1018.0 1142.0,1018.5 1142.5,1017.1 1143.0,1016.3 1143.5,1015.8 1144.0,1016.2 1144.5,1013.9 1145.0,1015.7 1145.5,1017.8 1146.0,1017.1 1146.5,1017.9 1147.0,1017.9 1147.5,1017.7 1148.0,1016.8 1148.5,1017.0 1149.0,1018.1 1149.5,1016.1 1150.0,1014.6 1150.5,1018.0 1151.0,1016.7 1151.5,1018.4 1152.0,1015.7 1152.5,1014.1 1153.0,1016.4 1153.5,1015.7 1154.0,1015.2 1154.5,1019.1 1155.0,1017.2 1155.5,1014.9 1156.0,1014.2 1156.5,1016.6 1157.0,1017.7 1157.5,1017.2 1158.0,1018.6 1158.5,1017.3 1159.0,1017.5 1159.5,1013.8 1160.0,1018.8 1160.5,1015.9 1161.0,1018.3 1161.5,1014.4 1162.0,1015.4 1162.5,1018.7 1163.0,1014.9 1163.5,1017.1 1164.0,1016.2 1164.5,1019.6 1165.0,1017.4 1165.5,1018.9 1166.0,1016.8 1166.5,1014.2 1167.0,1020.0 1167.5,1016.0 1168.0,1017.0 1168.5,1016.8 1169.0,1014.4 1169.5,1018.0 1170.0,1016.3 1170.5,1014.1 1171.0,1014.6 1171.5,1013.3 1172.0,1015.7 1172.5,1016.6 1173.0,1015.4 1173.5,1016.8 1174.0,1016.3 1174.5,1017.6 1175.0,1016.8 1175.5,1016.6 1176.0,1015.6 1176.5,1015.0 1177.0,1015.4 1177.5,1017.4 1178.0,1016.1 1178.5,1019.1 1179.0,1018.1 1179.5,1014.7 1180.0,1017.5 1180.5,1018.8 1181.0,1015.8 1181.5,1018.8 1182.0,1015.7 1182.5,1019.3 1183.0,1017.7 1183.5,1016.5 1184.0,1014.3 1184.5,1016.7 1185.0,1015.7 1185.5,1017.4 1186.0,1015.5 1186.5,1017.6 1187.0,1016.1 1187.5,1017.8 1188.0,1018.2 1188.5,1017.2 1189.0,1017.7 1189.5,1018.6 1190.0,1015.4 1190.5,1017.8 1191.0,1017.3 1191.5,1019.4 1192.0,1016.6 1192.5,1018.4 1193.0,1014.2 1193.5,1018.9 1194.0,1017.6 1194.5,1017.5 1195.0,1018.3 1195.5,1014.9 1196.0,1016.6 1196.5,1017.0 1197.0,1016.4 1197.5,1016.1 1198.0,1018.4 1198.5,1017.0 1199.0,1016.5 1199.5,1017.0 1200.0,1019.0 1200.5,1019.8 1201.0,1018.6 1201.5,1017.7 1202.0,1014.8 1202.5,1016.0 1203.0,1015.4 1203.5,1015.4 1204.0,1018.8 1204.5,1016.0 1205.0,1019.1 1205.5,1017.1 1206.0,1016.7 1206.5,1016.6 1207.0,1014.7 1207.5,1016.3 1208.0,1018.2 1208.5,1018.0 1209.0,1017.1 1209.5,1018.0 1210.0,1017.1 1210.5,1017.5 1211.0,1020.7 1211.5,1017.1 1212.0,1014.2 1212.5,1013.6 1213.0,1015.7 1213.5,1017.2 1214.0,1018.4 1214.5,1016.8 1215.0,1017.1 1215.5,1017.8 1216.0,1015.4 1216.5,1016.8 1217.0,1017.4 1217.5,1016.2 1218.0,1015.6 1218.5,1017.7 1219.0,1018.6 1219.5,1017.0 1220.0,1013.2 1220.5,1015.6 1221.0,1016.2 1221.5,1017.5 1222.0,1016.1 1222.5,1016.1 1223.0,1018.3 1223.5,1018.8 1224.0,1016.9 1224.5,1015.1 1225.0,1014.9 1225.5,1017.7 1226.0,1015.5 1226.5,1016.7 1227.0,1016.4 1227.5,1016.9 1228.0,1017.2 1228.5,1015.1 1229.0,1015.7 1229.5,1016.9 1230.0,1016.7 1230.5,1014.5 1231.0,1019.6 1231.5,1014.4 1232.0,1018.2 1232.5,1014.1 1233.0,1018.1 1233.5,1013.8 1234.0,1018.0 1234.5,1016.8 1235.0,1017.8 1235.5,1015.3 1236.0,1016.9 1236.5,1016.9 1237.0,1016.7 1237.5,1015.6 1238.0,1018.5 1238.5,1013.6 1239.0,1014.0 1239.5,1014.1 1240.0,1018.6 1240.5,1014.9 1241.0,1015.2 1241.5,1015.1 1242.0,1015.8 1242.5,1015.8 1243.0,1015.4 1243.5,1013.8 1244.0,1016.8 1244.5,1016.1 1245.0,1018.4 1245.5,1016.7 1246.0,1015.9 1246.5,1013.7 1247.0,1016.0 1247.5,1016.8 1248.0,1018.4 1248.5,1016.3 1249.0,1016.9 1249.5,1016.5 1250.0,1018.1 1250.5,1017.2 1251.0,1015.4 1251.5,1013.0 1252.0,1017.7 1252.5,1015.2 1253.0,1013.7 1253.5,1012.6 1254.0,1011.9 1254.5,1014.9 1255.0,1014.1 1255.5,1014.7 1256.0,1016.0 1256.5,1012.9 1257.0,1014.2 1257.5,1012.7 1258.0,1012.0 1258.5,1009.6 1259.0,1011.7 1259.5,1014.4 1260.0,1011.6 1260.5,1012.7 1261.0,1012.1 1261.5,1014.9 1262.0,1013.7 1262.5,1010.1 1263.0,1010.2 1263.5,1012.4 1264.0,1010.7 1264.5,1010.2 1265.0,1011.6 1265.5,1010.4 1266.0,1009.4 1266.5,1013.7 1267.0,1009.3 1267.5,1006.3 1268.0,1008.6 1268.5,1008.2 1269.0,1010.2 1269.5,1007.8 1270.0,1006.1 1270.5,1007.4 1271.0,1004.7 1271.5,1005.8 1272.0,1006.7 1272.5,1004.6 1273.0,1002.6 1273.5,1003.8 1274.0,1003.9 1274.5,1005.8 1275.0,1003.9 1275.5,1004.3 1276.0,1002.6 1276.5,1003.8 1277.0,1002.3 1277.5,1003.8 1278.0,1002.8 1278.5,1004.2 1279.0,1002.4 1279.5,1000.4 1280.0,999.0 1280.5,1000.0 1281.0,1000.2 1281.5,1000.9 1282.0,996.9 1282.5,995.0 1283.0,993.5 1283.5,994.0 1284.0,994.6 1284.5,993.7 1285.0,993.0 1285.5,992.7 1286.0,992.7 1286.5,988.9 1287.0,991.1 1287.5,990.3 1288.0,989.9 1288.5,989.2 1289.0,986.8 1289.5,990.3 1290.0,988.8 1290.5,989.5 1291.0,990.4 1291.5,990.3 1292.0,991.3 1292.5,991.8 1293.0,990.3 1293.5,990.7 1294.0,994.5 1294.5,992.8 1295.0,998.2 1295.5,993.9 1296.0,996.8 1296.5,997.3 1297.0,998.8 1297.5,997.8 1298.0,1000.7 1298.5,1004.1 1299.0,1001.0 1299.5,999.3 1300.0,1004.6 1300.5,1005.0 1301.0,1006.2 1301.5,1004.6 1302.0,1007.2 1302.5,1008.6 1303.0,1007.2 1303.5,1008.6 1304.0,1009.9 1304.5,1010.8 1305.0,1009.8 1305.5,1010.9 1306.0,1014.2 1306.5,1014.6 1307.0,1010.2 1307.5,1015.6 1308.0,1012.0 1308.5,1014.5 1309.0,1011.2 1309.5,1013.1 1310.0,1012.6 1310.5,1015.1 1311.0,1014.4 1311.5,1014.9 1312.0,1015.0 1312.5,1014.9 1313.0,1016.1 1313.5,1015.0 1314.0,1014.8 1314.5,1014.1 1315.0,1013.8 1315.5,1014.4 1316.0,1015.9 1316.5,1017.0 1317.0,1015.3 1317.5,1018.6 1318.0,1017.6 1318.5,1015.7 1319.0,1016.3 1319.5,1015.8 1320.0,1013.0 1320.5,1017.2 1321.0,1016.3 1321.5,1013.4 1322.0,1017.4 1322.5,1015.2 1323.0,1015.7 1323.5,1013.5 1324.0,1016.1 1324.5,1016.9 1325.0,1015.6 1325.5,1016.2 1326.0,1013.3 1326.5,1017.1 1327.0,1016.2 1327.5,1016.3 1328.0,1017.4 1328.5,1018.0 1329.0,1016.3 1329.5,1017.8 1330.0,1019.3 1330.5,1014.8 1331.0,1016.6 1331.5,1014.0 1332.0,1017.1 1332.5,1018.7 1333.0,1016.4 1333.5,1014.8 1334.0,1015.8 1334.5,1017.3 1335.0,1014.3 1335.5,1014.5 1336.0,1017.4 1336.5,1014.6 1337.0,1016.8 1337.5,1015.0 1338.0,1014.2 1338.5,1018.0 1339.0,1018.5 1339.5,1015.5 1340.0,1020.4 1340.5,1017.0 1341.0,1017.6 1341.5,1017.1 1342.0,1015.2 1342.5,1018.5 1343.0,1017.1 1343.5,1017.7 1344.0,1017.2 1344.5,1016.3 1345.0,1020.6 1345.5,1017.7 1346.0,1016.6 1346.5,1018.0 1347.0,1015.1 1347.5,1017.6 1348.0,1021.2 1348.5,1016.0 1349.0,1017.8 1349.5,1015.2 1350.0,1017.1 1350.5,1018.8 1351.0,1015.5 1351.5,1015.6 1352.0,1018.9 1352.5,1017.5 1353.0,1018.1 1353.5,1017.9 1354.0,1015.1 1354.5,1014.5 1355.0,1014.2 1355.5,1017.9 1356.0,1014.9 1356.5,1014.4 1357.0,1016.3 1357.5,1016.9 1358.0,1017.6 1358.5,1014.3 1359.0,1019.2 1359.5,1015.7 1360.0,1017.4 1360.5,1017.1 1361.0,1015.6 1361.5,1017.8 1362.0,1017.7 1362.5,1019.0 1363.0,1020.2 1363.5,1020.6 1364.0,1018.7 1364.5,1018.3 1365.0,1016.7 1365.5,1014.9 1366.0,1017.9 1366.5,1016.3 1367.0,1016.8 1367.5,1016.5 1368.0,1017.9 1368.5,1016.6 1369.0,1021.0 1369.5,1018.7 1370.0,1016.5 1370.5,1017.9 1371.0,1019.5 1371.5,1015.4 1372.0,1017.6 1372.5,1016.5 1373.0,1017.4 1373.5,1016.6 1374.0,1017.6 1374.5,1018.1 1375.0,1018.3 1375.5,1015.0 1376.0,1018.5 1376.5,1017.4 1377.0,1016.4 1377.5,1017.3 1378.0,1019.9 1378.5,1017.1 1379.0,1016.0 1379.5,1018.5 1380.0,1017.1 1380.5,1018.5 1381.0,1017.8 1381.5,1019.6 1382.0,1016.5 1382.5,1016.8 1383.0,1019.1 1383.5,1020.1 1384.0,1017.8 1384.5,1019.3 1385.0,1018.2 1385.5,1017.4 1386.0,1014.8 1386.5,1020.7 1387.0,1019.3 1387.5,1013.8 1388.0,1018.7 1388.5,1016.5 1389.0,1015.8 1389.5,1016.5 1390.0,1018.6 1390.5,1017.3 1391.0,1017.1 1391.5,1017.1 1392.0,1016.8 1392.5,1018.2 1393.0,1014.2 1393.5,1015.3 1394.0,1017.1 1394.5,1015.5 1395.0,1017.6 1395.5,1016.8 1396.0,1018.0 1396.5,1017.1 1397.0,1018.3 1397.5,1017.4 1398.0,1018.5 1398.5,1016.8 1399.0,1014.6 1399.5,1017.4 1400.0,1017.4 1400.5,1016.6 1401.0,1019.0 1401.5,1018.3 1402.0,1019.9 1402.5,1016.9 1403.0,1016.8 1403.5,1018.3 1404.0,1019.8 1404.5,1016.4 1405.0,1018.2 1405.5,1017.4 1406.0,1017.0 1406.5,1018.9 1407.0,1018.8 1407.5,1018.6 1408.0,1016.4 1408.5,1017.4 1409.0,1014.8 1409.5,1018.3 1410.0,1015.4 1410.5,1017.0 1411.0,1018.8 1411.5,1017.0 1412.0,1017.7 1412.5,1016.4 1413.0,1021.5 1413.5,1015.5 1414.0,1016.5 1414.5,1017.2 1415.0,1021.5 1415.5,1016.5 1416.0,1017.5 1416.5,1018.7 1417.0,1014.1 1417.5,1018.8 1418.0,1018.0 1418.5,1019.8 1419.0,1019.8 1419.5,1018.2 1420.0,1019.1 1420.5,1016.4 1421.0,1015.6 1421.5,1017.0 1422.0,1017.7 1422.5,1016.9 1423.0,1018.0 1423.5,1018.3 1424.0,1020.0 1424.5,1017.0 1425.0,1016.5 1425.5,1018.0 1426.0,1017.6 1426.5,1018.1 1427.0,1019.8 1427.5,1015.8 1428.0,1018.3 1428.5,1019.2 1429.0,1019.0 1429.5,1014.6 1430.0,1016.4 1430.5,1018.8 1431.0,1016.7 1431.5,1017.4 1432.0,1016.4 1432.5,1018.5 1433.0,1016.8 1433.5,1015.8 1434.0,1016.3 1434.5,1018.2 1435.0,1016.5 1435.5,1013.2 1436.0,1012.3 1436.5,1016.5 1437.0,1012.6 1437.5,1015.2 1438.0,1013.6 1438.5,1014.9 1439.0,1013.2 1439.5,1010.3 1440.0,1016.0 1440.5,1013.4 1441.0,1013.0 1441.5,1015.4 1442.0,1013.7 1442.5,1014.1 1443.0,1011.7 1443.5,1012.0 1444.0,1012.2 1444.5,1010.2 1445.0,1012.1 1445.5,1011.2 1446.0,1009.8 1446.5,1009.3 1447.0,1011.0 1447.5,1009.2 1448.0,1009.8 1448.5,1009.4 1449.0,1008.5 1449.5,1003.6 1450.0,1009.1 1450.5,1009.7 1451.0,1007.4 1451.5,1007.4 1452.0,1009.8 1452.5,1006.6 1453.0,1010.5 1453.5,1009.6 1454.0,1011.0 1454.5,1009.0 1455.0,1009.5 1455.5,1010.0 1456.0,1007.4 1456.5,1008.7 1457.0,1012.0 1457.5,1009.5 1458.0,1009.4 1458.5,1011.7 1459.0,1013.6 1459.5,1011.6 1460.0,1011.6 1460.5,1012.2 1461.0,1013.2 1461.5,1010.3 1462.0,1013.5 1462.5,1013.8 1463.0,1015.0 1463.5,1015.3 1464.0,1014.8 1464.5,1017.1 1465.0,1014.1 1465.5,1014.1 1466.0,1016.9 1466.5,1014.7 1467.0,1013.7 1467.5,1013.8 1468.0,1014.7 1468.5,1012.7 1469.0,1016.3 1469.5,1015.3 1470.0,1016.8 1470.5,1013.2 1471.0,1014.2 1471.5,1013.6 1472.0,1015.4 1472.5,1015.0 1473.0,1015.5 1473.5,1015.2 1474.0,1012.3 1474.5,1014.2 1475.0,1013.6 1475.5,1013.2 1476.0,1013.7 1476.5,1009.7 1477.0,1011.2 1477.5,1011.4 1478.0,1010.2 1478.5,1009.2 1479.0,1012.0 1479.5,1011.4 1480.0,1012.1 1480.5,1007.5 1481.0,1004.8 1481.5,1008.8 1482.0,1006.6 1482.5,1004.9 1483.0,1006.7 1483.5,1005.1 1484.0,1002.0 1484.5,1004.2 1485.0,1000.9 1485.5,1003.7 1486.0,1000.5 1486.5,999.6 1487.0,1002.7 1487.5,1002.7 1488.0,1000.7 1488.5,999.2 1489.0,1001.8 1489.5,1001.1 1490.0,1001.4 1490.5,1000.7 1491.0,999.3 1491.5,1001.3 1492.0,1004.6 1492.5,1001.9 1493.0,1003.3 1493.5,1004.0 1494.0,1006.1 1494.5,1005.7 1495.0,1005.3 1495.5,1009.5 1496.0,1007.5 1496.5,1008.3 1497.0,1007.4 1497.5,1006.7 1498.0,1010.3 1498.5,1009.6 1499.0,1011.2 1499.5,1007.7 1500.0,1014.2 1500.5,1012.1 1501.0,1013.7 1501.5,1011.2 1502.0,1013.4 1502.5,1013.8 1503.0,1015.6 1503.5,1015.4 1504.0,1011.3 1504.5,1015.0 1505.0,1015.1 1505.5,1014.6 1506.0,1015.6 1506.5,1016.3 1507.0,1017.0 1507.5,1014.0 1508.0,1014.5 1508.5,1016.0 1509.0,1017.0 1509.5,1014.6 1510.0,1016.2 1510.5,1014.3 1511.0,1016.4 1511.5,1016.1 1512.0,1017.2 1512.5,1018.6 1513.0,1015.4 1513.5,1017.3 1514.0,1014.2 1514.5,1017.2 1515.0,1019.4 1515.5,1014.4 1516.0,1016.0 1516.5,1012.0 1517.0,1017.5 1517.5,1020.2 1518.0,1015.5 1518.5,1017.4 1519.0,1019.1 1519.5,1015.8 1520.0,1017.3 1520.5,1015.8 1521.0,1016.3 1521.5,1017.1 1522.0,1018.4 1522.5,1017.4 1523.0,1017.0 1523.5,1016.9 1524.0,1018.8 1524.5,1017.9 1525.0,1017.8 1525.5,1014.3 1526.0,1016.9 1526.5,1015.5 1527.0,1019.9 1527.5,1018.2 1528.0,1019.5 1528.5,1016.0 1529.0,1014.9 1529.5,1016.0 1530.0,1018.3 1530.5,1016.2 1531.0,1018.4 1531.5,1019.4 1532.0,1016.8 1532.5,1018.8 1533.0,1013.9 1533.5,1015.4 1534.0,1016.4 1534.5,1016.8 1535.0,1015.1 1535.5,1016.8 1536.0,1019.0 1536.5,1018.7 1537.0,1018.0 1537.5,1016.0 1538.0,1019.6 1538.5,1018.4 1539.0,1015.8 1539.5,1018.9 1540.0,1016.9 1540.5,1018.2 1541.0,1018.0 1541.5,1018.3 1542.0,1019.7 1542.5,1021.3 1543.0,1018.1 1543.5,1017.6 1544.0,1017.4 1544.5,1018.2 1545.0,1018.4 1545.5,1015.5 1546.0,1017.6 1546.5,1021.1 1547.0,1018.7 1547.5,1019.2 1548.0,1017.4 1548.5,1020.9 1549.0,1018.4 1549.5,1017.0 1550.0,1016.4 1550.5,1018.3 1551.0,1020.3 1551.5,1016.5 1552.0,1016.0 1552.5,1013.9 1553.0,1018.6 1553.5,1015.8 1554.0,1016.4 1554.5,1015.8 1555.0,1016.1 1555.5,1018.7 1556.0,1016.3 1556.5,1017.7 1557.0,1016.3 1557.5,1016.9 1558.0,1018.4 1558.5,1018.4 1559.0,1015.6 1559.5,1017.4 1560.0,1015.9 1560.5,1018.5 1561.0,1016.4 1561.5,1015.9 1562.0,1018.7 1562.5,1016.5 1563.0,1017.6 1563.5,1018.5 1564.0,1016.5 1564.5,1016.8 1565.0,1018.3 1565.5,1020.8 1566.0,1018.2 1566.5,1018.5 1567.0,1017.3 1567.5,1017.2 1568.0,1019.6 1568.5,1016.1 1569.0,1016.2 1569.5,1019.6 1570.0,1016.1 1570.5,1015.3 1571.0,1018.0 1571.5,1018.8 1572.0,1020.0 1572.5,1020.7 1573.0,1013.7 1573.5,1016.9 1574.0,1016.7 1574.5,1017.8 1575.0,1015.8 1575.5,1017.2 1576.0,1017.6 1576.5,1017.4 1577.0,1015.8 1577.5,1017.5 1578.0,1015.7 1578.5,1015.8 1579.0,1016.7 1579.5,1018.3 1580.0,1013.9 1580.5,1016.9 1581.0,1019.1 1581.5,1017.2 1582.0,1016.1 1582.5,1017.3 1583.0,1019.4 1583.5,1016.6 1584.0,1015.8 1584.5,1018.0 1585.0,1016.4 1585.5,1015.7 1586.0,1018.0 1586.5,1015.4 1587.0,1016.2 1587.5,1018.7 1588.0,1016.8 1588.5,1018.5 1589.0,1013.7 1589.5,1014.1 1590.0,1015.2 1590.5,1016.1 1591.0,1013.3 1591.5,1016.6 1592.0,1015.3 1592.5,1015.3 1593.0,1016.1 1593.5,1015.5 1594.0,1014.0 1594.5,1015.4 1595.0,1013.8 1595.5,1017.6 1596.0,1014.7 1596.5,1014.9 1597.0,1014.1 1597.5,1015.0 1598.0,1015.2 1598.5,1014.4 1599.0,1012.8 1599.5,1016.0 1600.0,1014.0 1600.5,1010.9 1601.0,1010.0 1601.5,1011.5 1602.0,1011.2 1602.5,1010.1 1603.0,1010.9 1603.5,1012.5 1604.0,1013.6 1604.5,1011.7 1605.0,1011.4 1605.5,1012.3 1606.0,1013.5 1606.5,1011.4 1607.0,1010.1 1607.5,1008.5 1608.0,1006.6 1608.5,1008.4 1609.0,1009.1 1609.5,1007.1 1610.0,1005.3 1610.5,1006.5 1611.0,1004.9 1611.5,1003.5 1612.0,1000.8 1612.5,1004.2 1613.0,1001.8 1613.5,1004.1 1614.0,1000.7 1614.5,1001.4 1615.0,999.9 1615.5,1003.1 1616.0,1002.1 1616.5,999.6 1617.0,1001.5 1617.5,997.1 1618.0,999.8 1618.5,997.8 1619.0,998.3 1619.5,997.8 1620.0,999.5 1620.5,995.8 1621.0,998.1 1621.5,1001.1 1622.0,995.7 1622.5,999.2 1623.0,997.8 1623.5,996.0 1624.0,1001.2 1624.5,1000.3 1625.0,1003.5 1625.5,999.0 1626.0,1003.0 1626.5,1005.3 1627.0,1000.4 1627.5,1004.7 1628.0,1005.3 1628.5,1004.9 1629.0,1007.2 1629.5,1006.5 1630.0,1004.7 1630.5,1005.0 1631.0,1006.3 1631.5,1009.4 1632.0,1006.9 1632.5,1008.7 1633.0,1007.3 1633.5,1008.8 1634.0,1008.8 1634.5,1010.0 1635.0,1011.1 1635.5,1007.6 1636.0,1006.7 1636.5,1008.4 1637.0,1008.5 1637.5,1009.1 1638.0,1010.3 1638.5,1008.1 1639.0,1008.8 1639.5,1008.8 1640.0,1010.6 1640.5,1008.2 1641.0,1010.8 1641.5,1012.0 1642.0,1008.7 1642.5,1011.4 1643.0,1010.2 1643.5,1009.4 1644.0,1012.8 1644.5,1011.8 1645.0,1009.6 1645.5,1011.2 1646.0,1009.5 1646.5,1008.6 1647.0,1012.7 1647.5,1011.3 1648.0,1014.2 1648.5,1012.1 1649.0,1012.6 1649.5,1012.2 1650.0,1013.0 1650.5,1011.7 1651.0,1012.9 1651.5,1010.7 1652.0,1010.9 1652.5,1011.8 1653.0,1013.2 1653.5,1014.3 1654.0,1014.3 1654.5,1016.7 1655.0,1018.9 1655.5,1011.4 1656.0,1017.6 1656.5,1017.0 1657.0,1014.7 1657.5,1016.0 1658.0,1012.8 1658.5,1015.7 1659.0,1018.6 1659.5,1014.4 1660.0,1015.4 1660.5,1016.6 1661.0,1017.6 1661.5,1016.6 1662.0,1015.8 1662.5,1017.7 1663.0,1015.8 1663.5,1020.6 1664.0,1018.8 1664.5,1017.1 1665.0,1015.7 1665.5,1016.1 1666.0,1015.8 1666.5,1016.5 1667.0,1017.7 1667.5,1015.0 1668.0,1017.4 1668.5,1017.1 1669.0,1015.6 1669.5,1019.2 1670.0,1017.9 1670.5,1017.7 1671.0,1016.3 1671.5,1016.1 1672.0,1017.3 1672.5,1015.0 1673.0,1017.8 1673.5,1015.5 1674.0,1017.3 1674.5,1018.4 1675.0,1016.9 1675.5,1016.3 1676.0,1016.2 1676.5,1017.6 1677.0,1015.6 1677.5,1017.3 1678.0,1018.9 1678.5,1014.4 1679.0,1016.1 1679.5,1017.8 1680.0,1015.6 1680.5,1015.8 1681.0,1015.5 1681.5,1018.7 1682.0,1014.0 1682.5,1017.2 1683.0,1017.1 1683.5,1017.4 1684.0,1016.2 1684.5,1017.5 1685.0,1016.6 1685.5,1016.1 1686.0,1021.4 1686.5,1019.0 1687.0,1015.7 1687.5,1016.3 1688.0,1018.1 1688.5,1019.7 1689.0,1017.1 1689.5,1018.5 1690.0,1017.8 1690.5,1019.3 1691.0,1016.6 1691.5,1016.3 1692.0,1017.9 1692.5,1017.9 1693.0,1017.6 1693.5,1019.4 1694.0,1018.6 1694.5,1017.7 1695.0,1015.7 1695.5,1018.6 1696.0,1018.9 1696.5,1016.5 1697.0,1017.4 1697.5,1015.8 1698.0,1017.7 1698.5,1017.2 1699.0,1014.8 1699.5,1017.6 1700.0,1017.1 1700.5,1017.0 1701.0,1019.2 1701.5,1018.3 1702.0,1018.9 1702.5,1017.1 1703.0,1019.7 1703.5,1016.4 1704.0,1018.8 1704.5,1015.3 1705.0,1018.0 1705.5,1016.0 1706.0,1015.4 1706.5,1018.7 1707.0,1017.9 1707.5,1018.4 1708.0,1017.7 1708.5,1018.1 1709.0,1017.6 1709.5,1017.4 1710.0,1017.8 1710.5,1021.2 1711.0,1016.1 1711.5,1015.3 1712.0,1016.2 1712.5,1016.6 1713.0,1018.5 1713.5,1019.4 1714.0,1019.5 1714.5,1017.4 1715.0,1018.8 1715.5,1020.6 1716.0,1018.7 1716.5,1019.8 1717.0,1016.3 1717.5,1019.2 1718.0,1019.0 1718.5,1015.9 1719.0,1017.8 1719.5,1018.8 1720.0,1016.4 1720.5,1019.2 1721.0,1019.3 1721.5,1018.3 1722.0,1017.6 1722.5,1017.5 1723.0,1018.4 1723.5,1019.5 1724.0,1015.7 1724.5,1018.1 1725.0,1018.2 1725.5,1016.4 1726.0,1015.8 1726.5,1017.4 1727.0,1015.1 1727.5,1018.1 1728.0,1017.3 1728.5,1016.0 1729.0,1017.8 1729.5,1016.4 1730.0,1016.6 1730.5,1019.6 1731.0,1016.5 1731.5,1013.8 1732.0,1018.2 1732.5,1016.1 1733.0,1016.3 1733.5,1020.1 1734.0,1017.6 1734.5,1019.0 1735.0,1015.6 1735.5,1016.1 1736.0,1016.4 1736.5,1018.8 1737.0,1016.7 1737.5,1014.7 1738.0,1018.9 1738.5,1016.9 1739.0,1017.8 1739.5,1018.9 1740.0,1021.1 1740.5,1017.7 1741.0,1020.2 1741.5,1015.6 1742.0,1018.0 1742.5,1018.2 1743.0,1014.3 1743.5,1016.2 1744.0,1016.6 1744.5,1018.5"/>
<polyline stroke="#FF8700" stroke-width="9.0" points="152.5,846.6 153.0,846.7 153.5,846.4 154.0,848.2 154.5,847.4 155.0,847.5 155.5,847.3 156.0,848.7 156.5,846.7 157.0,847.8 157.5,847.9 158.0,848.5 158.5,849.5 159.0,848.5 159.5,846.1 160.0,849.6 160.5,850.0 161.0,850.2 161.5,849.6 162.0,846.0 162.5,848.2 163.0,849.7 163.5,849.8 164.0,848.4 164.5,848.8 165.0,847.0 165.5,849.3 166.0,845.7 166.5,848.5 167.0,850.3 167.5,847.1 168.0,850.9 168.5,852.0 169.0,849.9 169.5,848.4 170.0,848.5 170.5,847.4 171.0,850.4 171.5,847.7 172.0,849.7 172.5,847.8 173.0,850.3 173.5,847.4 174.0,849.4 174.5,848.5 175.0,851.2 175.5,849.1 176.0,849.5 176.5,851.4 177.0,848.1 177.5,848.0 178.0,849.8 178.5,848.4 179.0,852.5 179.5,850.2 180.0,850.4 180.5,849.6 181.0,845.4 181.5,852.0 182.0,850.0 182.5,847.1 183.0,848.6 183.5,850.2 184.0,852.2 184.5,850.9 185.0,850.9 185.5,850.9 186.0,849.1 186.5,849.5 187.0,850.6 187.5,848.6 188.0,850.7 188.5,851.7 189.0,847.2 189.5,850.4 190.0,850.4 190.5,851.0 191.0,853.5 191.5,848.8 192.0,853.9 192.5,852.0 193.0,854.8 193.5,850.5 194.0,851.6 194.5,850.8 195.0,851.8 195.5,849.7 196.0,849.8 196.5,850.8 197.0,852.0 197.5,849.1 198.0,850.5 198.5,850.1 199.0,851.5 199.5,852.3 200.0,848.8 200.5,849.5 201.0,850.5 201.5,849.5 202.0,853.1 202.5,853.5 203.0,852.1 203.5,851.8 204.0,849.3 204.5,849.5 205.0,851.6 205.5,853.2 206.0,850.4 206.5,851.4 207.0,853.4 207.5,853.6 208.0,849.4 208.5,851.4 209.0,852.1 209.5,848.4 210.0,850.2 210.5,851.2 211.0,850.1 211.5,851.7 212.0,850.3 212.5,848.3 213.0,849.0 213.5,847.6 214.0,848.9 214.5,851.7 215.0,851.3 215.5,851.6 216.0,852.8 216.5,849.1 217.0,850.1 217.5,851.0 218.0,853.3 218.5,851.2 219.0,850.6 219.5,851.2 220.0,849.4 220.5,847.8 221.0,851.5 221.5,850.1 222.0,851.4 222.5,848.9 223.0,849.4 223.5,851.9 224.0,851.0 224.5,852.1 225.0,849.7 225.5,850.8 226.0,851.7 226.5,852.0 227.0,850.6 227.5,851.1 228.0,850.5 228.5,850.4 229.0,850.6 229.5,851.3 230.0,848.6 230.5,850.5 231.0,849.0 231.5,850.6 232.0,850.2 232.5,850.8 233.0,850.1 233.5,850.3 234.0,848.4 234.5,852.5 235.0,848.4 235.5,847.6 236.0,850.9 236.5,851.3 237.0,850.2 237.5,849.8 238.0,848.6 238.5,853.1 239.0,847.7 239.5,853.8 240.0,847.9 240.5,848.7 241.0,849.8 241.5,849.5 242.0,850.9 242.5,848.9 243.0,849.6 243.5,847.7 244.0,851.9 244.5,849.6 245.0,848.9 245.5,850.0 246.0,851.4 246.5,850.5 247.0,848.9 247.5,850.2 248.0,850.4 248.5,850.5 249.0,849.4 249.5,850.9 250.0,848.1 250.5,850.0 251.0,848.5 251.5,849.8 252.0,848.8 252.5,850.6 253.0,849.0 253.5,851.3 254.0,848.1 254.5,851.0 255.0,848.1 255.5,845.6 256.0,847.8 256.5,850.5 257.0,849.5 257.5,849.8 258.0,848.4 258.5,849.5 259.0,847.4 259.5,851.4 260.0,851.1 260.5,849.3 261.0,847.7 261.5,847.5 262.0,849.3 262.5,848.8 263.0,846.8 263.5,849.2 264.0,849.3 264.5,848.7 265.0,848.3 265.5,847.9 266.0,847.4 266.5,846.8 267.0,846.2 267.5,848.8 268.0,844.4 268.5,846.7 269.0,847.6 269.5,849.6 270.0,845.4 270.5,847.7 271.0,847.3 271.5,846.5 272.0,847.5 272.5,841.9 273.0,845.6 273.5,843.6 274.0,844.0 274.5,842.6 275.0,841.1 275.5,839.0 276.0,841.9 276.5,840.2 277.0,837.8 277.5,838.8 278.0,836.5 278.5,835.8 279.0,836.2 279.5,835.8 280.0,830.1 280.5,831.1 281.0,830.0 281.5,824.7 282.0,823.2 282.5,820.8 283.0,817.7 283.5,810.0 284.0,803.9 284.5,799.3 285.0,792.4 285.5,785.2 286.0,776.5 286.5,763.7 287.0,757.0 287.5,741.9 288.0,732.6 288.5,720.1 289.0,706.9 289.5,693.8 290.0,681.6 290.5,668.8 291.0,659.6 291.5,657.3 292.0,652.9 292.5,652.4 293.0,654.8 293.5,657.4 294.0,671.6 294.5,679.3 295.0,691.7 295.5,705.8 296.0,716.6 296.5,732.4 297.0,739.1 297.5,756.2 298.0,765.9 298.5,773.7 299.0,785.2 299.5,793.6 300.0,800.1 300.5,806.5 301.0,810.1 301.5,816.7 302.0,820.7 302.5,824.5 303.0,826.5 303.5,825.4 304.0,830.9 304.5,829.9 305.0,832.3 305.5,834.6 306.0,836.2 306.5,836.5 307.0,838.3 307.5,839.4 308.0,839.6 308.5,840.1 309.0,841.1 309.5,842.1 310.0,840.2 310.5,839.7 311.0,844.0 311.5,843.0 312.0,839.6 312.5,845.1 313.0,845.5 313.5,841.3 314.0,842.5 314.5,843.7 315.0,842.9 315.5,844.0 316.0,845.1 316.5,846.9 317.0,841.8 317.5,845.8 318.0,847.5 318.5,842.3 319.0,846.6 319.5,846.2 320.0,845.6 320.5,847.7 321.0,848.7 321.5,848.4 322.0,850.0 322.5,845.9 323.0,843.9 323.5,846.3 324.0,847.5 324.5,849.1 325.0,848.2 325.5,846.5 326.0,849.6 326.5,848.3 327.0,848.0 327.5,847.4 328.0,848.4 328.5,848.8 329.0,848.0 329.5,844.4 330.0,846.8 330.5,848.8 331.0,850.6 331.5,850.1 332.0,850.0 332.5,851.1 333.0,849.5 333.5,850.5 334.0,850.1 334.5,849.0 335.0,847.3 335.5,846.2 336.0,849.5 336.5,846.9 337.0,848.7 337.5,850.0 338.0,847.9 338.5,850.4 339.0,849.1 339.5,847.7 340.0,850.0 340.5,850.2 341.0,848.4 341.5,850.0 342.0,847.5 342.5,849.5 343.0,849.8 343.5,847.8 344.0,849.5 344.5,851.6 345.0,848.5 345.5,847.7 346.0,847.3 346.5,848.3 347.0,847.9 347.5,847.0 348.0,849.8 348.5,850.1 349.0,848.2 349.5,849.8 350.0,851.1 350.5,850.3 351.0,850.0 351.5,850.8 352.0,848.8 352.5,851.2 353.0,852.7 353.5,848.9 354.0,847.0 354.5,848.8 355.0,848.4 355.5,850.3 356.0,851.8 356.5,850.9 357.0,852.7 357.5,850.8 358.0,850.2 358.5,847.1 359.0,850.7 359.5,849.2 360.0,849.3 360.5,849.8 361.0,852.7 361.5,851.5 362.0,850.3 362.5,848.1 363.0,849.6 363.5,849.9 364.0,851.6 364.5,851.1 365.0,851.1 365.5,848.9 366.0,851.8 366.5,854.5 367.0,848.2 367.5,848.8 368.0,850.5 368.5,851.9 369.0,850.8 369.5,850.6 370.0,852.7 370.5,848.8 371.0,847.3 371.5,848.1 372.0,851.7 372.5,851.9 373.0,849.8 373.5,848.2 374.0,849.1 374.5,851.0 375.0,851.9 375.5,849.5 376.0,849.2 376.5,849.0 377.0,849.5 377.5,851.5 378.0,850.8 378.5,851.0 379.0,850.6 379.5,850.8 380.0,848.5 380.5,848.9 381.0,851.0 381.5,851.1 382.0,852.2 382.5,850.4 383.0,849.2 383.5,850.3 384.0,850.2 384.5,851.4 385.0,850.4 385.5,851.4 386.0,851.5 386.5,851.5 387.0,851.6 387.5,849.2 388.0,852.5 388.5,853.3 389.0,852.1 389.5,853.3 390.0,851.5 390.5,850.1 391.0,851.8 391.5,850.9 392.0,850.8 392.5,853.4 393.0,849.7 393.5,852.7 394.0,850.2 394.5,848.4 395.0,852.2 395.5,851.2 396.0,851.4 396.5,851.5 397.0,852.8 397.5,851.7 398.0,850.8 398.5,851.1 399.0,851.9 399.5,850.4 400.0,851.9 400.5,848.2 401.0,851.1 401.5,851.3 402.0,852.4 402.5,849.7 403.0,851.0 403.5,852.0 404.0,855.6 404.5,851.6 405.0,852.3 405.5,850.6 406.0,854.6 406.5,851.0 407.0,851.0 407.5,851.6 408.0,849.4 408.5,849.9 409.0,850.9 409.5,850.2 410.0,852.9 410.5,850.7 411.0,854.8 411.5,851.8 412.0,850.3 412.5,851.7 413.0,852.5 413.5,851.4 414.0,852.1 414.5,851.1 415.0,850.3 415.5,851.3 416.0,854.1 416.5,850.9 417.0,851.4 417.5,849.2 418.0,850.5 418.5,852.0 419.0,851.0 419.5,853.2 420.0,852.9 420.5,850.8 421.0,851.3 421.5,852.5 422.0,852.0 422.5,851.1 423.0,848.8 423.5,853.6 424.0,851.6 424.5,851.8 425.0,850.5 425.5,853.8 426.0,851.4 426.5,851.9 427.0,848.6 427.5,850.9 428.0,851.5 428.5,852.2 429.0,852.6 429.5,851.3 430.0,853.2 430.5,851.5 431.0,851.4 431.5,851.6 432.0,849.2 432.5,848.4 433.0,854.4 433.5,849.1 434.0,850.8 434.5,852.5 435.0,850.7 435.5,853.3 436.0,848.8 436.5,851.9 437.0,852.6 437.5,855.0 438.0,853.9 438.5,850.7 439.0,853.0 439.5,852.2 440.0,850.0 440.5,851.0 441.0,853.3 441.5,851.3 442.0,850.4 442.5,850.9 443.0,849.9 443.5,849.5 444.0,852.3 444.5,852.5 445.0,853.4 445.5,849.5 446.0,850.2 446.5,852.4 447.0,852.0 447.5,851.6 448.0,850.1 448.5,851.4 449.0,849.8 449.5,854.1 450.0,852.9 450.5,850.4 451.0,853.7 451.5,850.4 452.0,852.8 452.5,852.1 453.0,851.3 453.5,853.9 454.0,849.5 454.5,851.4 455.0,851.5 455.5,849.3 456.0,849.7 456.5,852.1 457.0,852.3 457.5,850.5 458.0,852.8 458.5,852.7 459.0,853.1 459.5,851.7 460.0,851.9 460.5,852.9 461.0,851.2 461.5,850.8 462.0,850.3 462.5,852.8 463.0,854.0 463.5,849.4 464.0,851.7 464.5,853.2 465.0,854.4 465.5,852.6 466.0,851.1 466.5,853.3 467.0,855.7 467.5,852.9 468.0,853.4 468.5,854.9 469.0,850.2 469.5,853.6 470.0,854.6 470.5,853.9 471.0,852.8 471.5,852.0 472.0,851.7 472.5,850.6 473.0,851.8 473.5,850.8 474.0,852.4 474.5,852.3 475.0,851.7 475.5,852.0 476.0,852.7 476.5,850.8 477.0,853.5 477.5,852.9 478.0,853.5 478.5,852.2 479.0,852.4 479.5,852.9 480.0,852.8 480.5,852.1 481.0,852.2 481.5,851.9 482.0,852.2 482.5,851.6 483.0,851.6 483.5,851.3 484.0,854.7 484.5,851.8 485.0,852.6 485.5,851.3 486.0,853.0 486.5,854.6 487.0,851.8 487.5,853.1 488.0,852.7 488.5,854.1 489.0,852.8 489.5,852.7 490.0,852.6 490.5,850.1 491.0,854.4 491.5,855.3 492.0,851.8 492.5,854.2 493.0,853.0 493.5,855.1 494.0,852.3 494.5,853.7 495.0,855.0 495.5,853.9 496.0,853.5 496.5,853.1 497.0,852.3 497.5,853.4 498.0,851.9 498.5,855.6 499.0,854.1 499.5,853.1 500.0,851.2 500.5,854.9 501.0,855.3 501.5,854.0 502.0,854.7 502.5,854.7 503.0,853.4 503.5,853.1 504.0,853.7 504.5,855.3 505.0,852.7 505.5,851.3 506.0,853.7 506.5,853.7 507.0,853.5 507.5,853.9 508.0,852.0 508.5,852.4 509.0,853.1 509.5,853.5 510.0,854.4 510.5,854.7 511.0,854.0 511.5,853.5 512.0,852.3 512.5,853.0 513.0,851.5 513.5,852.7 514.0,854.3 514.5,854.5 515.0,852.3 515.5,855.4 516.0,850.4 516.5,854.5 517.0,853.8 517.5,853.6 518.0,854.4 518.5,853.2 519.0,857.0 519.5,853.2 520.0,853.4 520.5,854.3 521.0,851.1 521.5,853.7 522.0,851.9 522.5,855.8 523.0,853.2 523.5,853.7 524.0,851.4 524.5,856.5 525.0,851.5 525.5,851.9 526.0,852.9 526.5,850.8 527.0,852.1 527.5,853.4 528.0,855.5 528.5,855.6 529.0,852.4 529.5,853.2 530.0,855.0 530.5,855.7 531.0,852.9 531.5,853.7 532.0,854.1 532.5,854.3 533.0,853.7 533.5,856.7 534.0,853.8 534.5,855.8 535.0,854.9 535.5,859.2 536.0,856.3 536.5,851.5 537.0,855.2 537.5,851.3 538.0,856.2 538.5,853.8 539.0,851.3 539.5,852.9 540.0,853.8 540.5,856.4 541.0,854.5 541.5,855.0 542.0,853.4 542.5,853.6 543.0,852.2 543.5,853.7 544.0,853.9 544.5,854.2 545.0,853.1 545.5,854.0 546.0,853.7 546.5,854.6 547.0,853.4 547.5,853.4 548.0,853.0 548.5,853.3 549.0,853.9 549.5,852.8 550.0,856.1 550.5,855.8 551.0,854.8 551.5,855.4 552.0,852.6 552.5,853.4 553.0,853.7 553.5,854.7 554.0,855.5 554.5,855.6 555.0,852.3 555.5,854.3 556.0,856.0 556.5,854.0 557.0,855.1 557.5,852.0 558.0,854.5 558.5,854.1 559.0,851.6 559.5,855.6 560.0,856.4 560.5,855.6 561.0,854.0 561.5,854.3 562.0,853.5 562.5,855.4 563.0,855.2 563.5,856.6 564.0,854.5 564.5,855.9 565.0,854.2 565.5,853.5 566.0,854.5 566.5,853.3 567.0,853.3 567.5,855.6 568.0,855.5 568.5,853.4 569.0,853.2 569.5,854.2 570.0,853.4 570.5,855.4 571.0,853.9 571.5,852.5 572.0,853.1 572.5,855.0 573.0,857.3 573.5,855.0 574.0,852.3 574.5,852.9 575.0,854.5 575.5,854.0 576.0,854.4 576.5,857.0 577.0,852.6 577.5,852.6 578.0,853.9 578.5,854.0 579.0,854.2 579.5,855.1 580.0,853.8 580.5,855.3 581.0,854.0 581.5,854.2 582.0,851.1 582.5,852.2 583.0,852.8 583.5,854.2 584.0,852.3 584.5,851.7 585.0,851.9 585.5,855.4 586.0,850.6 586.5,853.0 587.0,852.6 587.5,854.4 588.0,853.2 588.5,851.6 589.0,853.2 589.5,853.6 590.0,851.1 590.5,849.0 591.0,849.5 591.5,851.1 592.0,849.4 592.5,850.9 593.0,852.1 593.5,850.6 594.0,853.2 594.5,849.7 595.0,847.9 595.5,849.7 596.0,850.6 596.5,847.0 597.0,849.4 597.5,850.9 598.0,848.6 598.5,850.7 599.0,845.7 599.5,848.5 600.0,845.1 600.5,844.8 601.0,845.0 601.5,848.5 602.0,847.2 602.5,848.6 603.0,845.2 603.5,843.9 604.0,847.4 604.5,845.1 605.0,843.7 605.5,846.9 606.0,847.2 606.5,844.4 607.0,845.6 607.5,846.0 608.0,843.7 608.5,843.7 609.0,845.1 609.5,846.8 610.0,842.8 610.5,845.2 611.0,844.6 611.5,843.7 612.0,842.9 612.5,841.6 613.0,843.5 613.5,842.0 614.0,838.1 614.5,841.8 615.0,839.8 615.5,840.4 616.0,843.1 616.5,840.2 617.0,836.3 617.5,838.3 618.0,836.9 618.5,839.7 619.0,833.0 619.5,838.4 620.0,837.4 620.5,836.7 621.0,837.7 621.5,839.7 622.0,834.3 622.5,836.4 623.0,837.3 623.5,837.6 624.0,837.5 624.5,838.9 625.0,838.8 625.5,838.4 626.0,836.8 626.5,841.1 627.0,842.8 627.5,842.9 628.0,842.4 628.5,844.1 629.0,840.7 629.5,844.6 630.0,844.5 630.5,844.3 631.0,846.6 631.5,845.1 632.0,845.2 632.5,844.6 633.0,843.7 633.5,846.0 634.0,849.6 634.5,849.9 635.0,846.4 635.5,847.6 636.0,849.7 636.5,845.9 637.0,846.6 637.5,845.1 638.0,849.4 638.5,845.8 639.0,846.0 639.5,846.2 640.0,844.6 640.5,849.3 641.0,846.8 641.5,847.8 642.0,841.2 642.5,845.0 643.0,843.2 643.5,841.4 644.0,842.9 644.5,844.9 645.0,844.0 645.5,841.3 646.0,847.2 646.5,843.8 647.0,841.0 647.5,841.1 648.0,841.7 648.5,843.0 649.0,842.7 649.5,843.1 650.0,846.1 650.5,844.2 651.0,846.0 651.5,845.5 652.0,846.8 652.5,849.6 653.0,848.5 653.5,850.2 654.0,849.5 654.5,851.9 655.0,850.7 655.5,853.0 656.0,849.8 656.5,853.9 657.0,853.3 657.5,851.6 658.0,852.4 658.5,850.7 659.0,853.6 659.5,854.5 660.0,853.7 660.5,856.2 661.0,851.6 661.5,854.7 662.0,853.3 662.5,854.5 663.0,856.7 663.5,855.5 664.0,857.8 664.5,855.1 665.0,854.7 665.5,855.4 666.0,853.6 666.5,854.6 667.0,855.9 667.5,857.4 668.0,854.5 668.5,854.7 669.0,853.7 669.5,854.0 670.0,856.0 670.5,856.2 671.0,856.7 671.5,855.8 672.0,857.8 672.5,853.6 673.0,856.2 673.5,857.2 674.0,855.8 674.5,857.0 675.0,856.0 675.5,855.8 676.0,856.6 676.5,855.5 677.0,856.4 677.5,857.4 678.0,854.8 678.5,857.6 679.0,858.3 679.5,859.1 680.0,856.1 680.5,858.3 681.0,853.9 681.5,854.6 682.0,856.8 682.5,855.0 683.0,855.3 683.5,855.2 684.0,856.2 684.5,855.7 685.0,855.3 685.5,856.7 686.0,855.9 686.5,856.7 687.0,857.2 687.5,857.6 688.0,856.5 688.5,856.2 689.0,856.2 689.5,855.2 690.0,857.5 690.5,856.8 691.0,858.4 691.5,857.3 692.0,856.1 692.5,858.1 693.0,856.5 693.5,856.8 694.0,857.6 694.5,857.3 695.0,855.8 695.5,858.0 696.0,857.5 696.5,856.9 697.0,856.7 697.5,857.3 698.0,854.8 698.5,858.9 699.0,853.3 699.5,855.5 700.0,855.6 700.5,857.6 701.0,857.1 701.5,857.5 702.0,855.2 702.5,858.8 703.0,858.4 703.5,854.0 704.0,857.3 704.5,854.2 705.0,856.2 705.5,857.9 706.0,857.1 706.5,855.1 707.0,856.2 707.5,858.7 708.0,857.3 708.5,858.2 709.0,854.6 709.5,857.9 710.0,857.4 710.5,855.7 711.0,859.2 711.5,857.1 712.0,858.4 712.5,856.4 713.0,857.8 713.5,858.0 714.0,857.0 714.5,857.4 715.0,857.7 715.5,857.1 716.0,855.4 716.5,857.7 717.0,857.1 717.5,857.6 718.0,856.1 718.5,859.5 719.0,858.6 719.5,859.3 720.0,860.1 720.5,858.8 721.0,856.9 721.5,855.5 722.0,859.0 722.5,857.8 723.0,858.6 723.5,859.3 724.0,857.2 724.5,856.1 725.0,858.0 725.5,856.8 726.0,856.2 726.5,858.0 727.0,857.1 727.5,858.2 728.0,855.9 728.5,857.3 729.0,857.1 729.5,857.4 730.0,856.6 730.5,858.4 731.0,855.4 731.5,858.1 732.0,859.1 732.5,857.5 733.0,857.6 733.5,856.4 734.0,857.9 734.5,858.2 735.0,857.8 735.5,858.1 736.0,858.3 736.5,857.9 737.0,854.9 737.5,855.9 738.0,857.4 738.5,860.7 739.0,859.1 739.5,857.6 740.0,857.3 740.5,857.0 741.0,858.4 741.5,857.2 742.0,857.7 742.5,856.4 743.0,857.0 743.5,856.2 744.0,856.5 744.5,857.1 745.0,859.3 745.5,858.2 746.0,859.2 746.5,857.0 747.0,858.1 747.5,856.8 748.0,857.4 748.5,857.5 749.0,855.4 749.5,857.8 750.0,856.0 750.5,858.4 751.0,856.8 751.5,855.5 752.0,856.0 752.5,856.5 753.0,859.8 753.5,855.9 754.0,857.2 754.5,858.0 755.0,857.5 755.5,857.7 756.0,858.7 756.5,856.7 757.0,860.2 757.5,859.7 758.0,858.1 758.5,859.7 759.0,858.0 759.5,857.2 760.0,856.1 760.5,856.8 761.0,858.6 761.5,858.3 762.0,860.1 762.5,860.0 763.0,859.1 763.5,858.0 764.0,860.4 764.5,857.8 765.0,854.4 765.5,857.5 766.0,858.5 766.5,858.7 767.0,858.7 767.5,859.0 768.0,854.2 768.5,861.2 769.0,858.7 769.5,858.0 770.0,855.2 770.5,859.1 771.0,856.5 771.5,855.1 772.0,858.8 772.5,858.7 773.0,857.8 773.5,856.6 774.0,858.6 774.5,858.0 775.0,858.4 775.5,858.6 776.0,855.8 776.5,858.6 777.0,856.2 777.5,858.6 778.0,857.4 778.5,857.2 779.0,860.3 779.5,858.3 780.0,858.3 780.5,859.1 781.0,861.1 781.5,853.9 782.0,858.8 782.5,858.1 783.0,859.7 783.5,858.1 784.0,858.0 784.5,858.9 785.0,858.0 785.5,856.8 786.0,858.2 786.5,860.8 787.0,859.0 787.5,854.8 788.0,858.0 788.5,856.7 789.0,859.5 789.5,856.5 790.0,858.0 790.5,858.9 791.0,859.4 791.5,857.3 792.0,858.6 792.5,861.5 793.0,857.2 793.5,858.3 794.0,857.0 794.5,858.0 795.0,859.0 795.5,858.3 796.0,859.2 796.5,856.4 797.0,858.5 797.5,857.8 798.0,854.1 798.5,859.9 799.0,858.5 799.5,857.5 800.0,859.9 800.5,859.1 801.0,854.9 801.5,859.0 802.0,861.9 802.5,858.8 803.0,859.6 803.5,855.9 804.0,856.1 804.5,856.3 805.0,860.0 805.5,859.8 806.0,854.7 806.5,859.7 807.0,855.3 807.5,856.3 808.0,858.3 808.5,857.4 809.0,858.3 809.5,858.7 810.0,860.2 810.5,857.7 811.0,857.5 811.5,857.4 812.0,862.0 812.5,860.2 813.0,860.3 813.5,859.3 814.0,858.9 814.5,860.7 815.0,858.4 815.5,856.3 816.0,856.2 816.5,862.3 817.0,857.0 817.5,857.5 818.0,858.3 818.5,860.1 819.0,856.9 819.5,858.2 820.0,859.1 820.5,856.6 821.0,858.7 821.5,860.2 822.0,858.9 822.5,858.7 823.0,859.3 823.5,858.5 824.0,857.9 824.5,857.8 825.0,859.8 825.5,856.1 826.0,856.8 826.5,859.8 827.0,860.4 827.5,858.7 828.0,857.3 828.5,856.2 829.0,859.5 829.5,858.9 830.0,859.1 830.5,859.2 831.0,857.0 831.5,857.4 832.0,858.4 832.5,858.3 833.0,856.1 833.5,856.7 834.0,858.2 834.5,860.6 835.0,862.1 835.5,858.9 836.0,858.1 836.5,859.0 837.0,858.7 837.5,857.3 838.0,853.7 838.5,858.8 839.0,857.6 839.5,858.5 840.0,857.1 840.5,858.1 841.0,858.8 841.5,856.6 842.0,857.5 842.5,859.5 843.0,859.8 843.5,855.9 844.0,859.8 844.5,860.6 845.0,859.3 845.5,859.4 846.0,858.9 846.5,859.3 847.0,858.0 847.5,860.6 848.0,858.6 848.5,856.5 849.0,859.5 849.5,860.0 850.0,859.3 850.5,857.2 851.0,859.6 851.5,854.3 852.0,861.2 852.5,859.5 853.0,855.9 853.5,855.5 854.0,862.2 854.5,859.0 855.0,857.5 855.5,859.1 856.0,858.3 856.5,858.3 857.0,859.1 857.5,859.0 858.0,857.0 858.5,859.0 859.0,858.9 859.5,857.1 860.0,860.0 860.5,859.4 861.0,857.0 861.5,861.3 862.0,859.4 862.5,860.6 863.0,857.4 863.5,857.8 864.0,858.7 864.5,857.7 865.0,858.2 865.5,856.3 866.0,861.5 866.5,859.2 867.0,860.4 867.5,861.0 868.0,858.3 868.5,861.3 869.0,854.8 869.5,857.7 870.0,857.4 870.5,858.1 871.0,856.4 871.5,859.5 872.0,861.1 872.5,858.4 873.0,858.9 873.5,854.7 874.0,856.8 874.5,858.5 875.0,856.8 875.5,858.2 876.0,857.1 876.5,858.1 877.0,855.4 877.5,858.2 878.0,859.5 878.5,858.3 879.0,860.4 879.5,856.9 880.0,858.3 880.5,854.8 881.0,858.1 881.5,857.3 882.0,855.9 882.5,857.8 883.0,854.2 883.5,855.3 884.0,855.9 884.5,853.6 885.0,853.3 885.5,855.8 886.0,853.4 886.5,851.8 887.0,852.0 887.5,851.0 888.0,849.8 888.5,850.3 889.0,846.8 889.5,844.5 890.0,844.7 890.5,842.0 891.0,840.9 891.5,833.5 892.0,830.5 892.5,828.1 893.0,821.7 893.5,814.4 894.0,807.7 894.5,803.4 895.0,795.8 895.5,788.5 896.0,783.9 896.5,780.2 897.0,780.4 897.5,775.6 898.0,781.1 898.5,788.0 899.0,789.3 899.5,797.7 900.0,806.0 900.5,809.3 901.0,816.6 901.5,821.9 902.0,828.6 902.5,831.9 903.0,835.3 903.5,840.4 904.0,843.4 904.5,847.2 905.0,846.8 905.5,848.8 906.0,849.5 906.5,853.2 907.0,854.1 907.5,851.9 908.0,850.5 908.5,857.1 909.0,851.9 909.5,852.4 910.0,854.5 910.5,858.5 911.0,857.6 911.5,855.8 912.0,857.4 912.5,856.3 913.0,858.4 913.5,856.3 914.0,859.5 914.5,858.1 915.0,856.5 915.5,854.9 916.0,859.3 916.5,858.5 917.0,856.4 917.5,856.6 918.0,857.3 918.5,857.6 919.0,857.9 919.5,858.2 920.0,858.3 920.5,857.5 921.0,861.5 921.5,858.0 922.0,857.5 922.5,859.4 923.0,857.3 923.5,859.3 924.0,858.9 924.5,860.3 925.0,857.3 925.5,856.0 926.0,860.6 926.5,858.6 927.0,861.5 927.5,860.0 928.0,858.3 928.5,859.5 929.0,857.3 929.5,857.6 930.0,859.1 930.5,859.3 931.0,856.7 931.5,860.3 932.0,860.0 932.5,860.8 933.0,857.1 933.5,860.2 934.0,858.4 934.5,858.6 935.0,860.9 935.5,859.5 936.0,860.3 936.5,860.8 937.0,861.1 937.5,858.1 938.0,858.1 938.5,860.0 939.0,860.3 939.5,858.5 940.0,860.2 940.5,858.3 941.0,859.2 941.5,859.5 942.0,860.0 942.5,860.7 943.0,859.2 943.5,860.0 944.0,858.6 944.5,860.9 945.0,860.7 945.5,859.1 946.0,862.7 946.5,859.8 947.0,859.6 947.5,859.4 948.0,860.6 948.5,860.3 949.0,859.1 949.5,860.8 950.0,861.6 950.5,862.3 951.0,861.0 951.5,859.7 952.0,859.1 952.5,861.0 953.0,862.1 953.5,863.5 954.0,859.8 954.5,858.7 955.0,858.9 955.5,860.8 956.0,861.3 956.5,859.3 957.0,858.6 957.5,857.5 958.0,861.3 958.5,858.0 959.0,861.1 959.5,860.0 960.0,857.4 960.5,858.5 961.0,861.6 961.5,860.2 962.0,859.8 962.5,862.0 963.0,860.1 963.5,860.3 964.0,860.4 964.5,860.3 965.0,861.8 965.5,859.4 966.0,861.8 966.5,862.4 967.0,859.5 967.5,860.9 968.0,858.5 968.5,860.3 969.0,862.0 969.5,861.6 970.0,859.7 970.5,861.1 971.0,861.0 971.5,860.4 972.0,860.5 972.5,863.1 973.0,856.5 973.5,859.4 974.0,861.6 974.5,860.1 975.0,860.8 975.5,860.7 976.0,860.0 976.5,860.3 977.0,859.2 977.5,860.3 978.0,861.4 978.5,861.8 979.0,861.1 979.5,859.9 980.0,859.7 980.5,857.8 981.0,860.0 981.5,858.9 982.0,859.3 982.5,859.8 983.0,860.4 983.5,860.5 984.0,860.3 984.5,858.7 985.0,859.6 985.5,861.3 986.0,860.1 986.5,860.9 987.0,860.4 987.5,862.5 988.0,862.7 988.5,864.1 989.0,859.8 989.5,861.5 990.0,858.5 990.5,861.4 991.0,861.0 991.5,859.8 992.0,862.5 992.5,860.6 993.0,858.1 993.5,862.5 994.0,860.5 994.5,861.6 995.0,859.5 995.5,859.3 996.0,858.6 996.5,858.8 997.0,861.4 997.5,861.2 998.0,858.0 998.5,860.4 999.0,860.4 999.5,859.2 1000.0,860.8 1000.5,859.2 1001.0,861.7 1001.5,859.9 1002.0,860.5 1002.5,855.2 1003.0,859.5 1003.5,860.2 1004.0,859.2 1004.5,859.8 1005.0,858.8 1005.5,861.3 1006.0,858.6 1006.5,859.6 1007.0,862.1 1007.5,861.7 1008.0,860.0 1008.5,858.2 1009.0,857.2 1009.5,860.6 1010.0,860.3 1010.5,859.5 1011.0,859.5 1011.5,863.0 1012.0,861.2 1012.5,859.9 1013.0,859.6 1013.5,859.4 1014.0,860.4 1014.5,859.5 1015.0,860.0 1015.5,859.2 1016.0,860.9 1016.5,860.2 1017.0,858.2 1017.5,864.0 1018.0,860.2 1018.5,859.1 1019.0,858.0 1019.5,859.8 1020.0,858.8 1020.5,862.1 1021.0,860.4 1021.5,858.8 1022.0,857.0 1022.5,860.7 1023.0,857.1 1023.5,860.2 1024.0,859.6 1024.5,855.4 1025.0,859.0 1025.5,861.7 1026.0,857.9 1026.5,855.9 1027.0,856.6 1027.5,858.9 1028.0,859.3 1028.5,860.0 1029.0,859.1 1029.5,857.2 1030.0,857.9 1030.5,858.0 1031.0,858.0 1031.5,856.3 1032.0,858.9 1032.5,859.4 1033.0,857.4 1033.5,857.6 1034.0,855.4 1034.5,857.3 1035.0,855.6 1035.5,855.2 1036.0,857.4 1036.5,856.2 1037.0,855.0 1037.5,852.9 1038.0,855.0 1038.5,857.1 1039.0,854.8 1039.5,854.3 1040.0,855.3 1040.5,856.2 1041.0,853.5 1041.5,853.7 1042.0,852.0 1042.5,852.0 1043.0,851.4 1043.5,851.9 1044.0,849.0 1044.5,849.7 1045.0,849.1 1045.5,848.0 1046.0,846.7 1046.5,848.2 1047.0,846.0 1047.5,843.7 1048.0,846.5 1048.5,842.9 1049.0,845.7 1049.5,840.4 1050.0,843.7 1050.5,846.0 1051.0,842.7 1051.5,844.4 1052.0,841.9 1052.5,841.2 1053.0,841.8 1053.5,843.6 1054.0,844.1 1054.5,844.3 1055.0,843.7 1055.5,842.5 1056.0,839.8 1056.5,841.9 1057.0,845.6 1057.5,841.4 1058.0,844.9 1058.5,845.2 1059.0,842.5 1059.5,846.0 1060.0,845.4 1060.5,846.8 1061.0,846.8 1061.5,847.1 1062.0,846.6 1062.5,845.5 1063.0,851.6 1063.5,848.1 1064.0,849.5 1064.5,849.8 1065.0,850.3 1065.5,850.1 1066.0,852.4 1066.5,851.9 1067.0,851.6 1067.5,851.7 1068.0,853.7 1068.5,851.8 1069.0,854.2 1069.5,855.6 1070.0,855.4 1070.5,854.8 1071.0,851.6 1071.5,855.3 1072.0,854.6 1072.5,856.2 1073.0,853.3 1073.5,853.2 1074.0,855.9 1074.5,852.2 1075.0,854.6 1075.5,852.8 1076.0,847.9 1076.5,850.0 1077.0,849.0 1077.5,846.4 1078.0,844.1 1078.5,845.4 1079.0,841.8 1079.5,840.2 1080.0,837.5 1080.5,836.1 1081.0,834.5 1081.5,832.3 1082.0,829.2 1082.5,825.3 1083.0,823.2 1083.5,822.4 1084.0,822.1 1084.5,819.5 1085.0,817.8 1085.5,821.1 1086.0,823.1 1086.5,823.6 1087.0,828.5 1087.5,828.8 1088.0,832.3 1088.5,835.6 1089.0,840.2 1089.5,838.6 1090.0,843.5 1090.5,846.1 1091.0,846.7 1091.5,850.1 1092.0,849.2 1092.5,849.7 1093.0,850.8 1093.5,852.6 1094.0,852.9 1094.5,856.0 1095.0,855.8 1095.5,854.2 1096.0,859.2 1096.5,857.5 1097.0,855.0 1097.5,855.0 1098.0,858.1 1098.5,860.2 1099.0,857.9 1099.5,860.0 1100.0,861.1 1100.5,859.9 1101.0,858.4 1101.5,857.0 1102.0,858.0 1102.5,861.0 1103.0,859.1 1103.5,857.6 1104.0,858.4 1104.5,858.7 1105.0,860.7 1105.5,858.1 1106.0,861.7 1106.5,859.2 1107.0,859.3 1107.5,857.0 1108.0,859.2 1108.5,859.0 1109.0,859.6 1109.5,857.4 1110.0,858.8 1110.5,856.2 1111.0,857.0 1111.5,862.1 1112.0,858.0 1112.5,857.6 1113.0,860.2 1113.5,858.8 1114.0,863.2 1114.5,859.4 1115.0,860.6 1115.5,859.2 1116.0,861.5 1116.5,860.0 1117.0,864.2 1117.5,859.1 1118.0,861.0 1118.5,861.5 1119.0,858.8 1119.5,859.8 1120.0,859.5 1120.5,858.2 1121.0,861.2 1121.5,856.4 1122.0,858.9 1122.5,859.1 1123.0,861.3 1123.5,860.7 1124.0,862.6 1124.5,862.8 1125.0,861.3 1125.5,859.6 1126.0,862.2 1126.5,860.0 1127.0,860.6 1127.5,861.2 1128.0,863.4 1128.5,865.2 1129.0,863.1 1129.5,860.5 1130.0,862.7 1130.5,863.2 1131.0,860.0 1131.5,861.5 1132.0,860.3 1132.5,860.4 1133.0,861.5 1133.5,861.6 1134.0,860.2 1134.5,861.4 1135.0,859.5 1135.5,861.1 1136.0,861.6 1136.5,860.7 1137.0,859.1 1137.5,860.3 1138.0,862.0 1138.5,862.9 1139.0,862.9 1139.5,863.0 1140.0,864.1 1140.5,860.8 1141.0,863.2 1141.5,860.3 1142.0,864.1 1142.5,863.0 1143.0,860.0 1143.5,862.6 1144.0,863.1 1144.5,860.3 1145.0,862.1 1145.5,862.9 1146.0,864.4 1146.5,860.7 1147.0,863.9 1147.5,860.1 1148.0,860.4 1148.5,863.6 1149.0,862.8 1149.5,860.5 1150.0,864.0 1150.5,862.4 1151.0,861.9 1151.5,861.2 1152.0,857.8 1152.5,861.7 1153.0,863.1 1153.5,861.6 1154.0,862.8 1154.5,861.5 1155.0,863.8 1155.5,857.3 1156.0,862.4 1156.5,860.3 1157.0,862.0 1157.5,862.7 1158.0,863.5 1158.5,863.0 1159.0,863.6 1159.5,860.2 1160.0,862.0 1160.5,858.5 1161.0,862.3 1161.5,859.3 1162.0,863.4 1162.5,862.1 1163.0,861.3 1163.5,860.8 1164.0,862.1 1164.5,860.9 1165.0,859.6 1165.5,862.4 1166.0,860.5 1166.5,862.5 1167.0,860.4 1167.5,860.0 1168.0,865.2 1168.5,862.7 1169.0,863.6 1169.5,861.4 1170.0,861.8 1170.5,861.8 1171.0,864.8 1171.5,862.9 1172.0,862.0 1172.5,861.8 1173.0,862.0 1173.5,863.5 1174.0,861.9 1174.5,862.0 1175.0,864.0 1175.5,863.4 1176.0,863.1 1176.5,864.9 1177.0,861.8 1177.5,860.2 1178.0,859.5 1178.5,861.9 1179.0,862.3 1179.5,863.4 1180.0,859.8 1180.5,859.9 1181.0,861.6 1181.5,861.5 1182.0,859.8 1182.5,861.7 1183.0,863.0 1183.5,861.6 1184.0,865.5 1184.5,863.1 1185.0,860.7 1185.5,861.6 1186.0,859.8 1186.5,865.2 1187.0,861.5 1187.5,861.5 1188.0,863.1 1188.5,861.5 1189.0,861.0 1189.5,861.9 1190.0,863.5 1190.5,863.5 1191.0,859.9 1191.5,859.5 1192.0,862.7 1192.5,861.5 1193.0,861.3 1193.5,863.6 1194.0,862.7 1194.5,861.2 1195.0,862.9 1195.5,860.9 1196.0,861.2 1196.5,864.9 1197.0,861.7 1197.5,862.9 1198.0,861.6 1198.5,861.6 1199.0,860.4 1199.5,860.3 1200.0,864.0 1200.5,865.4 1201.0,863.1 1201.5,863.0 1202.0,861.3 1202.5,862.0 1203.0,864.4 1203.5,866.1 1204.0,863.2 1204.5,862.8 1205.0,863.8 1205.5,862.4 1206.0,861.0 1206.5,860.8 1207.0,861.8 1207.5,861.6 1208.0,858.6 1208.5,859.4 1209.0,863.4 1209.5,863.6 1210.0,863.4 1210.5,861.8 1211.0,861.2 1211.5,862.1 1212.0,862.7 1212.5,861.5 1213.0,863.9 1213.5,861.2 1214.0,858.6 1214.5,863.2 1215.0,863.6 1215.5,861.9 1216.0,863.8 1216.5,864.0 1217.0,858.3 1217.5,862.8 1218.0,860.4 1218.5,863.3 1219.0,862.6 1219.5,863.5 1220.0,861.8 1220.5,861.3 1221.0,862.7 1221.5,865.9 1222.0,862.9 1222.5,860.6 1223.0,862.2 1223.5,861.8 1224.0,864.2 1224.5,862.4 1225.0,861.7 1225.5,862.5 1226.0,861.1 1226.5,862.9 1227.0,860.5 1227.5,861.5 1228.0,862.5 1228.5,860.1 1229.0,860.1 1229.5,860.9 1230.0,864.3 1230.5,863.3 1231.0,862.1 1231.5,863.4 1232.0,863.1 1232.5,860.8 1233.0,859.9 1233.5,863.2 1234.0,860.2 1234.5,862.0 1235.0,858.4 1235.5,860.5 1236.0,858.5 1236.5,861.2 1237.0,861.2 1237.5,860.5 1238.0,861.0 1238.5,859.0 1239.0,860.4 1239.5,860.8 1240.0,858.7 1240.5,861.1 1241.0,860.8 1241.5,861.3 1242.0,860.4 1242.5,860.9 1243.0,861.9 1243.5,861.5 1244.0,862.4 1244.5,859.5 1245.0,863.1 1245.5,860.6 1246.0,863.4 1246.5,859.7 1247.0,860.9 1247.5,862.3 1248.0,862.5 1248.5,861.2 1249.0,860.5 1249.5,862.8 1250.0,863.4 1250.5,860.5 1251.0,860.0 1251.5,860.9 1252.0,861.5 1252.5,859.0 1253.0,860.1 1253.5,862.6 1254.0,860.3 1254.5,860.2 1255.0,863.7 1255.5,863.0 1256.0,863.8 1256.5,861.1 1257.0,860.8 1257.5,860.3 1258.0,858.6 1258.5,857.5 1259.0,860.4 1259.5,859.3 1260.0,861.3 1260.5,861.6 1261.0,857.6 1261.5,857.7 1262.0,859.9 1262.5,861.6 1263.0,861.6 1263.5,858.0 1264.0,858.9 1264.5,860.8 1265.0,857.2 1265.5,856.6 1266.0,860.0 1266.5,856.6 1267.0,855.7 1267.5,859.7 1268.0,856.4 1268.5,856.3 1269.0,857.6 1269.5,858.8 1270.0,857.6 1270.5,856.6 1271.0,856.7 1271.5,856.6 1272.0,856.3 1272.5,853.1 1273.0,856.1 1273.5,853.4 1274.0,854.2 1274.5,855.4 1275.0,854.8 1275.5,855.4 1276.0,854.6 1276.5,855.1 1277.0,856.9 1277.5,852.2 1278.0,855.2 1278.5,856.0 1279.0,852.2 1279.5,851.9 1280.0,851.8 1280.5,852.2 1281.0,849.9 1281.5,849.9 1282.0,849.9 1282.5,849.5 1283.0,851.0 1283.5,847.5 1284.0,848.9 1284.5,848.3 1285.0,846.8 1285.5,846.2 1286.0,844.3 1286.5,844.0 1287.0,845.2 1287.5,844.7 1288.0,843.7 1288.5,845.6 1289.0,844.0 1289.5,843.9 1290.0,843.6 1290.5,845.6 1291.0,845.1 1291.5,845.1 1292.0,843.1 1292.5,848.1 1293.0,843.9 1293.5,847.2 1294.0,845.4 1294.5,845.5 1295.0,843.7 1295.5,849.4 1296.0,850.3 1296.5,849.9 1297.0,850.5 1297.5,849.8 1298.0,852.4 1298.5,852.7 1299.0,851.5 1299.5,853.6 1300.0,854.4 1300.5,853.7 1301.0,857.6 1301.5,854.5 1302.0,859.9 1302.5,859.1 1303.0,857.1 1303.5,860.7 1304.0,860.3 1304.5,860.8 1305.0,859.5 1305.5,858.0 1306.0,856.6 1306.5,860.5 1307.0,860.1 1307.5,859.6 1308.0,863.8 1308.5,861.6 1309.0,858.7 1309.5,861.0 1310.0,862.1 1310.5,859.5 1311.0,861.9 1311.5,861.1 1312.0,859.5 1312.5,862.4 1313.0,862.9 1313.5,858.0 1314.0,862.7 1314.5,861.2 1315.0,861.6 1315.5,859.7 1316.0,860.8 1316.5,865.0 1317.0,863.4 1317.5,862.1 1318.0,862.6 1318.5,861.2 1319.0,862.3 1319.5,861.3 1320.0,863.0 1320.5,860.9 1321.0,862.9 1321.5,863.8 1322.0,862.2 1322.5,863.0 1323.0,863.2 1323.5,862.0 1324.0,860.7 1324.5,864.4 1325.0,863.0 1325.5,862.4 1326.0,864.8 1326.5,861.7 1327.0,862.2 1327.5,861.9 1328.0,861.4 1328.5,862.8 1329.0,862.0 1329.5,865.1 1330.0,862.1 1330.5,864.9 1331.0,861.7 1331.5,862.6 1332.0,863.2 1332.5,861.8 1333.0,864.2 1333.5,862.3 1334.0,862.2 1334.5,864.2 1335.0,862.1 1335.5,864.1 1336.0,864.8 1336.5,864.4 1337.0,865.4 1337.5,862.6 1338.0,865.1 1338.5,862.5 1339.0,860.8 1339.5,863.0 1340.0,866.2 1340.5,861.8 1341.0,866.0 1341.5,861.2 1342.0,864.7 1342.5,864.1 1343.0,862.7 1343.5,860.0 1344.0,864.4 1344.5,864.4 1345.0,864.2 1345.5,864.9 1346.0,862.2 1346.5,866.4 1347.0,864.8 1347.5,862.3 1348.0,866.7 1348.5,863.5 1349.0,864.2 1349.5,864.8 1350.0,862.2 1350.5,862.2 1351.0,863.3 1351.5,861.8 1352.0,863.2 1352.5,865.6 1353.0,861.8 1353.5,863.7 1354.0,862.7 1354.5,864.8 1355.0,861.8 1355.5,861.9 1356.0,863.3 1356.5,866.6 1357.0,862.1 1357.5,861.0 1358.0,862.1 1358.5,864.6 1359.0,864.9 1359.5,863.5 1360.0,863.9 1360.5,861.5 1361.0,864.2 1361.5,863.3 1362.0,862.6 1362.5,865.1 1363.0,865.2 1363.5,862.9 1364.0,863.9 1364.5,860.7 1365.0,862.0 1365.5,865.6 1366.0,861.9 1366.5,862.2 1367.0,865.3 1367.5,860.2 1368.0,862.6 1368.5,864.7 1369.0,862.9 1369.5,862.3 1370.0,862.1 1370.5,863.9 1371.0,862.2 1371.5,864.1 1372.0,863.4 1372.5,863.7 1373.0,865.3 1373.5,863.0 1374.0,862.3 1374.5,863.7 1375.0,864.1 1375.5,863.4 1376.0,861.2 1376.5,864.7 1377.0,861.1 1377.5,860.8 1378.0,865.2 1378.5,866.0 1379.0,863.3 1379.5,862.5 1380.0,865.9 1380.5,861.8 1381.0,863.7 1381.5,862.9 1382.0,864.7 1382.5,864.3 1383.0,862.6 1383.5,865.5 1384.0,864.9 1384.5,863.8 1385.0,863.4 1385.5,863.7 1386.0,861.9 1386.5,863.5 1387.0,863.5 1387.5,864.7 1388.0,863.5 1388.5,863.2 1389.0,864.2 1389.5,865.3 1390.0,864.7 1390.5,863.7 1391.0,863.2 1391.5,865.9 1392.0,863.9 1392.5,862.0 1393.0,864.2 1393.5,861.2 1394.0,863.1 1394.5,864.8 1395.0,863.6 1395.5,863.3 1396.0,864.9 1396.5,865.6 1397.0,862.4 1397.5,862.1 1398.0,862.8 1398.5,862.1 1399.0,864.5 1399.5,864.9 1400.0,863.7 1400.5,862.2 1401.0,861.5 1401.5,863.6 1402.0,862.6 1402.5,864.5 1403.0,861.9 1403.5,863.0 1404.0,863.2 1404.5,865.3 1405.0,864.9 1405.5,864.5 1406.0,864.1 1406.5,864.8 1407.0,861.1 1407.5,865.1 1408.0,863.4 1408.5,866.0 1409.0,865.1 1409.5,865.6 1410.0,862.8 1410.5,868.1 1411.0,864.6 1411.5,864.2 1412.0,862.9 1412.5,864.3 1413.0,860.6 1413.5,865.8 1414.0,864.5 1414.5,863.7 1415.0,865.8 1415.5,864.5 1416.0,864.4 1416.5,863.0 1417.0,864.2 1417.5,862.0 1418.0,862.0 1418.5,863.9 1419.0,862.8 1419.5,861.7 1420.0,863.4 1420.5,860.9 1421.0,865.9 1421.5,862.2 1422.0,862.2 1422.5,865.8 1423.0,861.3 1423.5,860.1 1424.0,863.4 1424.5,863.0 1425.0,864.8 1425.5,863.2 1426.0,860.8 1426.5,863.3 1427.0,862.7 1427.5,864.9 1428.0,863.5 1428.5,861.6 1429.0,861.9 1429.5,862.8 1430.0,862.1 1430.5,863.0 1431.0,863.0 1431.5,860.7 1432.0,862.7 1432.5,863.5 1433.0,860.4 1433.5,859.9 1434.0,863.1 1434.5,862.7 1435.0,863.1 1435.5,864.2 1436.0,861.3 1436.5,859.8 1437.0,861.5 1437.5,860.1 1438.0,861.5 1438.5,861.9 1439.0,860.8 1439.5,861.3 1440.0,860.3 1440.5,860.6 1441.0,858.3 1441.5,862.4 1442.0,858.7 1442.5,858.9 1443.0,858.3 1443.5,858.9 1444.0,858.5 1444.5,856.0 1445.0,861.2 1445.5,859.4 1446.0,858.3 1446.5,858.6 1447.0,860.1 1447.5,859.8 1448.0,858.9 1448.5,859.8 1449.0,854.6 1449.5,859.8 1450.0,858.2 1450.5,857.4 1451.0,857.1 1451.5,858.8 1452.0,856.2 1452.5,859.4 1453.0,857.8 1453.5,860.2 1454.0,856.6 1454.5,859.9 1455.0,858.8 1455.5,857.9 1456.0,861.6 1456.5,861.6 1457.0,858.6 1457.5,859.7 1458.0,862.5 1458.5,860.6 1459.0,859.7 1459.5,859.3 1460.0,859.7 1460.5,861.9 1461.0,862.5 1461.5,860.7 1462.0,859.8 1462.5,860.2 1463.0,858.8 1463.5,862.3 1464.0,861.7 1464.5,863.4 1465.0,865.3 1465.5,864.0 1466.0,861.4 1466.5,861.6 1467.0,860.2 1467.5,859.1 1468.0,865.1 1468.5,862.7 1469.0,860.0 1469.5,863.4 1470.0,859.2 1470.5,862.0 1471.0,862.5 1471.5,861.4 1472.0,861.5 1472.5,863.5 1473.0,861.5 1473.5,863.9 1474.0,859.4 1474.5,861.5 1475.0,864.6 1475.5,860.3 1476.0,860.2 1476.5,861.6 1477.0,860.7 1477.5,861.6 1478.0,862.5 1478.5,861.6 1479.0,860.7 1479.5,859.5 1480.0,860.1 1480.5,860.7 1481.0,857.6 1481.5,857.8 1482.0,856.2 1482.5,857.4 1483.0,857.1 1483.5,855.5 1484.0,854.0 1484.5,854.0 1485.0,855.5 1485.5,853.1 1486.0,854.7 1486.5,852.0 1487.0,851.3 1487.5,853.3 1488.0,850.6 1488.5,853.4 1489.0,848.3 1489.5,851.7 1490.0,851.1 1490.5,851.5 1491.0,852.9 1491.5,850.0 1492.0,856.7 1492.5,853.4 1493.0,858.4 1493.5,856.5 1494.0,856.2 1494.5,854.1 1495.0,859.7 1495.5,858.6 1496.0,860.0 1496.5,856.3 1497.0,856.5 1497.5,859.0 1498.0,860.8 1498.5,861.6 1499.0,862.6 1499.5,859.7 1500.0,859.3 1500.5,862.8 1501.0,860.3 1501.5,862.0 1502.0,865.4 1502.5,861.7 1503.0,863.1 1503.5,863.1 1504.0,862.8 1504.5,863.5 1505.0,863.7 1505.5,863.1 1506.0,865.4 1506.5,864.6 1507.0,861.7 1507.5,865.5 1508.0,863.5 1508.5,863.1 1509.0,862.2 1509.5,864.6 1510.0,863.4 1510.5,862.3 1511.0,862.2 1511.5,865.3 1512.0,863.1 1512.5,863.0 1513.0,867.4 1513.5,864.1 1514.0,864.6 1514.5,863.9 1515.0,863.6 1515.5,862.2 1516.0,864.8 1516.5,864.2 1517.0,862.5 1517.5,863.6 1518.0,866.4 1518.5,864.2 1519.0,863.9 1519.5,862.8 1520.0,862.9 1520.5,864.6 1521.0,865.1 1521.5,864.1 1522.0,865.2 1522.5,862.6 1523.0,863.2 1523.5,864.4 1524.0,865.6 1524.5,863.2 1525.0,865.3 1525.5,862.3 1526.0,865.6 1526.5,865.9 1527.0,863.4 1527.5,864.5 1528.0,865.1 1528.5,862.9 1529.0,863.3 1529.5,863.3 1530.0,864.8 1530.5,865.4 1531.0,862.6 1531.5,862.9 1532.0,865.0 1532.5,863.0 1533.0,863.7 1533.5,865.2 1534.0,864.1 1534.5,865.6 1535.0,864.2 1535.5,863.9 1536.0,862.9 1536.5,860.7 1537.0,863.5 1537.5,861.3 1538.0,865.2 1538.5,865.2 1539.0,864.7 1539.5,865.7 1540.0,867.2 1540.5,861.4 1541.0,863.9 1541.5,865.3 1542.0,863.7 1542.5,863.9 1543.0,865.7 1543.5,864.8 1544.0,862.0 1544.5,866.3 1545.0,862.8 1545.5,864.4 1546.0,864.9 1546.5,861.5 1547.0,866.6 1547.5,865.1 1548.0,864.7 1548.5,865.3 1549.0,863.7 1549.5,865.1 1550.0,865.1 1550.5,860.8 1551.0,862.3 1551.5,865.5 1552.0,862.5 1552.5,864.9 1553.0,863.8 1553.5,865.2 1554.0,861.4 1554.5,864.3 1555.0,864.1 1555.5,864.5 1556.0,864.4 1556.5,864.2 1557.0,864.6 1557.5,864.8 1558.0,863.2 1558.5,866.2 1559.0,864.1 1559.5,863.1 1560.0,865.1 1560.5,861.9 1561.0,865.7 1561.5,863.5 1562.0,864.1 1562.5,864.1 1563.0,864.7 1563.5,863.0 1564.0,863.3 1564.5,864.5 1565.0,863.0 1565.5,863.9 1566.0,863.7 1566.5,863.4 1567.0,862.9 1567.5,862.7 1568.0,863.3 1568.5,862.1 1569.0,862.2 1569.5,867.9 1570.0,863.9 1570.5,865.3 1571.0,864.3 1571.5,865.0 1572.0,864.1 1572.5,865.4 1573.0,864.2 1573.5,864.3 1574.0,862.1 1574.5,865.3 1575.0,863.6 1575.5,863.8 1576.0,864.5 1576.5,864.2 1577.0,863.8 1577.5,865.7 1578.0,862.6 1578.5,860.9 1579.0,863.4 1579.5,860.5 1580.0,863.5 1580.5,865.7 1581.0,866.1 1581.5,862.2 1582.0,864.4 1582.5,862.0 1583.0,864.2 1583.5,865.8 1584.0,862.8 1584.5,866.0 1585.0,864.1 1585.5,867.6 1586.0,862.8 1586.5,862.4 1587.0,865.6 1587.5,865.0 1588.0,864.5 1588.5,862.5 1589.0,863.8 1589.5,862.8 1590.0,865.8 1590.5,864.5 1591.0,862.5 1591.5,862.2 1592.0,861.3 1592.5,862.5 1593.0,863.3 1593.5,863.9 1594.0,864.8 1594.5,862.5 1595.0,865.0 1595.5,860.0 1596.0,862.8 1596.5,863.8 1597.0,862.0 1597.5,863.0 1598.0,863.8 1598.5,861.6 1599.0,862.6 1599.5,863.8 1600.0,860.3 1600.5,863.5 1601.0,861.5 1601.5,859.4 1602.0,861.9 1602.5,862.2 1603.0,860.7 1603.5,861.3 1604.0,861.3 1604.5,860.4 1605.0,860.2 1605.5,861.0 1606.0,860.7 1606.5,859.2 1607.0,856.2 1607.5,856.8 1608.0,857.8 1608.5,859.7 1609.0,858.5 1609.5,860.0 1610.0,857.8 1610.5,857.4 1611.0,855.9 1611.5,857.9 1612.0,853.8 1612.5,856.0 1613.0,855.0 1613.5,854.1 1614.0,856.0 1614.5,855.3 1615.0,854.7 1615.5,853.4 1616.0,851.6 1616.5,851.6 1617.0,849.7 1617.5,851.3 1618.0,853.7 1618.5,855.3 1619.0,851.6 1619.5,855.2 1620.0,856.2 1620.5,855.1 1621.0,856.2 1621.5,853.8 1622.0,853.3 1622.5,854.6 1623.0,855.9 1623.5,855.4 1624.0,855.2 1624.5,856.3 1625.0,854.1 1625.5,856.8 1626.0,852.9 1626.5,858.3 1627.0,858.4 1627.5,860.1 1628.0,855.4 1628.5,856.1 1629.0,855.6 1629.5,855.1 1630.0,853.9 1630.5,858.7 1631.0,857.3 1631.5,857.5 1632.0,855.1 1632.5,858.1 1633.0,860.9 1633.5,858.2 1634.0,859.2 1634.5,856.2 1635.0,859.5 1635.5,857.8 1636.0,858.0 1636.5,858.4 1637.0,857.4 1637.5,858.8 1638.0,857.6 1638.5,857.1 1639.0,856.1 1639.5,856.0 1640.0,859.0 1640.5,859.4 1641.0,857.6 1641.5,857.6 1642.0,857.1 1642.5,858.3 1643.0,860.3 1643.5,858.8 1644.0,857.7 1644.5,860.3 1645.0,860.0 1645.5,856.4 1646.0,858.6 1646.5,861.4 1647.0,860.4 1647.5,859.9 1648.0,860.9 1648.5,858.7 1649.0,859.0 1649.5,860.8 1650.0,861.3 1650.5,863.8 1651.0,861.4 1651.5,862.2 1652.0,864.3 1652.5,861.2 1653.0,861.9 1653.5,862.5 1654.0,863.0 1654.5,863.0 1655.0,864.0 1655.5,861.2 1656.0,861.2 1656.5,863.1 1657.0,860.9 1657.5,865.8 1658.0,862.3 1658.5,862.8 1659.0,864.6 1659.5,864.2 1660.0,864.7 1660.5,863.8 1661.0,861.9 1661.5,863.7 1662.0,863.0 1662.5,861.5 1663.0,863.6 1663.5,865.5 1664.0,862.7 1664.5,863.0 1665.0,863.0 1665.5,865.3 1666.0,861.1 1666.5,864.9 1667.0,864.4 1667.5,864.1 1668.0,862.8 1668.5,863.9 1669.0,867.2 1669.5,864.6 1670.0,863.7 1670.5,865.6 1671.0,862.4 1671.5,866.0 1672.0,864.2 1672.5,868.1 1673.0,867.7 1673.5,865.3 1674.0,865.0 1674.5,863.8 1675.0,865.3 1675.5,865.5 1676.0,862.4 1676.5,862.2 1677.0,865.3 1677.5,863.6 1678.0,864.7 1678.5,864.6 1679.0,864.7 1679.5,864.1 1680.0,865.4 1680.5,866.6 1681.0,866.9 1681.5,863.9 1682.0,864.6 1682.5,864.6 1683.0,862.2 1683.5,862.1 1684.0,864.3 1684.5,865.2 1685.0,865.6 1685.5,863.5 1686.0,865.5 1686.5,864.3 1687.0,863.8 1687.5,866.0 1688.0,861.9 1688.5,861.0 1689.0,867.4 1689.5,864.4 1690.0,865.7 1690.5,864.4 1691.0,863.5 1691.5,862.8 1692.0,861.8 1692.5,864.8 1693.0,863.0 1693.5,864.4 1694.0,865.0 1694.5,864.4 1695.0,864.7 1695.5,866.8 1696.0,865.0 1696.5,864.9 1697.0,864.3 1697.5,866.7 1698.0,866.5 1698.5,863.7 1699.0,865.2 1699.5,864.4 1700.0,863.9 1700.5,863.2 1701.0,867.3 1701.5,865.4 1702.0,861.4 1702.5,866.2 1703.0,867.3 1703.5,864.8 1704.0,864.5 1704.5,864.9 1705.0,866.0 1705.5,863.8 1706.0,865.2 1706.5,862.4 1707.0,866.4 1707.5,862.9 1708.0,864.1 1708.5,865.2 1709.0,866.2 1709.5,863.6 1710.0,863.6 1710.5,866.9 1711.0,863.7 1711.5,863.4 1712.0,863.9 1712.5,865.7 1713.0,865.7 1713.5,866.2 1714.0,865.3 1714.5,864.0 1715.0,865.3 1715.5,865.8 1716.0,862.9 1716.5,863.7 1717.0,864.6 1717.5,867.1 1718.0,864.2 1718.5,864.8 1719.0,864.7 1719.5,865.2 1720.0,865.7 1720.5,863.1 1721.0,860.4 1721.5,865.9 1722.0,861.5 1722.5,865.1 1723.0,865.3 1723.5,865.8 1724.0,863.1 1724.5,865.2 1725.0,865.7 1725.5,865.8 1726.0,866.6 1726.5,863.2 1727.0,863.9 1727.5,864.3 1728.0,864.6 1728.5,866.3 1729.0,866.0 1729.5,864.9 1730.0,867.4 1730.5,865.6 1731.0,863.0 1731.5,866.7 1732.0,862.8 1732.5,862.8 1733.0,864.1 1733.5,864.0 1734.0,864.6 1734.5,864.7 1735.0,863.5 1735.5,863.6 1736.0,865.7 1736.5,865.2 1737.0,864.4 1737.5,863.5 1738.0,864.8 1738.5,863.2 1739.0,862.8 1739.5,866.3 1740.0,865.8 1740.5,864.2 1741.0,867.2 1741.5,864.6 1742.0,865.7 1742.5,865.5 1743.0,865.0 1743.5,865.0 1744.0,867.1 1744.5,866.2"/>
<polyline stroke="#2B2B2B" stroke-width="9.0" points="152.5,729.2 153.0,731.6 153.5,728.8 154.0,730.0 154.5,731.5 155.0,730.0 155.5,732.3 156.0,730.7 156.5,731.7 157.0,731.4 157.5,731.9 158.0,732.4 158.5,729.6 159.0,731.0 159.5,731.3 160.0,732.1 160.5,731.6 161.0,730.8 161.5,729.7 162.0,729.5 162.5,730.1 163.0,731.2 163.5,731.2 164.0,732.5 164.5,731.4 165.0,731.9 165.5,729.7 166.0,731.3 166.5,730.6 167.0,730.5 167.5,732.3 168.0,731.1 168.5,731.0 169.0,731.1 169.5,729.7 170.0,729.4 170.5,733.0 171.0,731.1 171.5,731.1 172.0,731.3 172.5,730.6 173.0,730.8 173.5,730.2 174.0,731.4 174.5,730.9 175.0,732.1 175.5,732.6 176.0,730.0 176.5,731.7 177.0,730.6 177.5,733.2 178.0,731.3 178.5,732.0 179.0,730.6 179.5,732.3 180.0,730.3 180.5,729.8 181.0,728.6 181.5,731.0 182.0,730.6 182.5,731.2 183.0,730.1 183.5,731.0 184.0,731.0 184.5,729.9 185.0,733.0 185.5,733.3 186.0,731.3 186.5,731.6 187.0,731.7 187.5,731.8 188.0,730.3 188.5,731.4 189.0,732.9 189.5,730.9 190.0,730.8 190.5,730.2 191.0,730.6 191.5,728.9 192.0,731.0 192.5,732.2 193.0,731.4 193.5,731.2 194.0,731.1 194.5,731.1 195.0,730.0 195.5,729.2 196.0,732.9 196.5,731.6 197.0,728.9 197.5,732.7 198.0,730.7 198.5,732.1 199.0,731.0 199.5,730.4 200.0,731.9 200.5,730.7 201.0,728.6 201.5,731.6 202.0,731.0 202.5,731.0 203.0,730.7 203.5,731.5 204.0,732.6 204.5,732.1 205.0,731.4 205.5,731.1 206.0,730.3 206.5,732.8 207.0,729.1 207.5,730.0 208.0,730.9 208.5,731.2 209.0,731.3 209.5,730.6 210.0,732.9 210.5,732.3 211.0,729.1 211.5,730.0 212.0,729.6 212.5,732.4 213.0,730.5 213.5,729.4 214.0,730.7 214.5,729.6 215.0,731.0 215.5,731.6 216.0,729.8 216.5,731.1 217.0,731.2 217.5,730.1 218.0,731.3 218.5,730.1 219.0,731.4 219.5,730.6 220.0,730.2 220.5,732.1 221.0,731.6 221.5,730.2 222.0,727.3 222.5,730.7 223.0,729.9 223.5,730.8 224.0,730.3 224.5,730.0 225.0,729.9 225.5,731.7 226.0,731.8 226.5,731.6 227.0,729.2 227.5,729.9 228.0,730.5 228.5,728.4 229.0,731.5 229.5,729.3 230.0,731.5 230.5,729.9 231.0,730.9 231.5,728.8 232.0,728.0 232.5,729.8 233.0,729.2 233.5,729.2 234.0,730.1 234.5,730.8 235.0,731.4 235.5,729.6 236.0,729.0 236.5,730.4 237.0,729.4 237.5,729.3 238.0,730.0 238.5,731.6 239.0,730.7 239.5,728.3 240.0,732.4 240.5,729.1 241.0,730.6 241.5,729.6 242.0,731.4 242.5,730.8 243.0,731.6 243.5,730.6 244.0,730.2 244.5,731.5 245.0,728.3 245.5,729.0 246.0,728.8 246.5,730.1 247.0,729.7 247.5,729.3 248.0,730.9 248.5,730.7 249.0,729.6 249.5,728.7 250.0,732.3 250.5,730.4 251.0,729.4 251.5,730.2 252.0,730.3 252.5,729.3 253.0,730.7 253.5,730.0 254.0,729.4 254.5,731.0 255.0,729.4 255.5,731.1 256.0,729.9 256.5,729.5 257.0,730.9 257.5,729.2 258.0,730.1 258.5,730.9 259.0,729.1 259.5,728.8 260.0,730.1 260.5,730.3 261.0,727.0 261.5,729.7 262.0,730.3 262.5,728.5 263.0,730.0 263.5,728.5 264.0,728.1 264.5,728.4 265.0,729.3 265.5,728.1 266.0,727.8 266.5,728.3 267.0,729.0 267.5,725.9 268.0,729.0 268.5,729.2 269.0,726.5 269.5,727.3 270.0,727.7 270.5,727.1 271.0,728.7 271.5,726.7 272.0,725.8 272.5,725.7 273.0,726.2 273.5,724.8 274.0,724.6 274.5,724.4 275.0,726.3 275.5,724.8 276.0,722.5 276.5,723.8 277.0,720.0 277.5,722.1 278.0,722.1 278.5,721.1 279.0,720.4 279.5,719.1 280.0,717.0 280.5,716.1 281.0,714.4 281.5,711.2 282.0,710.4 282.5,706.6 283.0,705.0 283.5,702.7 284.0,698.0 284.5,693.2 285.0,684.0 285.5,676.9 286.0,670.1 286.5,659.7 287.0,651.6 287.5,639.8 288.0,629.6 288.5,617.3 289.0,607.6 289.5,595.8 290.0,584.8 290.5,573.4 291.0,568.6 291.5,562.3 292.0,559.7 292.5,562.9 293.0,568.2 293.5,572.8 294.0,584.3 294.5,593.9 295.0,605.3 295.5,617.7 296.0,628.5 296.5,639.3 297.0,651.6 297.5,657.7 298.0,670.1 298.5,675.8 299.0,685.4 299.5,689.1 300.0,697.1 300.5,698.6 301.0,706.1 301.5,707.7 302.0,710.2 302.5,712.4 303.0,715.8 303.5,716.2 304.0,718.4 304.5,719.1 305.0,718.9 305.5,722.6 306.0,721.5 306.5,722.6 307.0,723.2 307.5,723.5 308.0,725.7 308.5,724.8 309.0,724.5 309.5,725.3 310.0,725.2 310.5,724.7 311.0,727.2 311.5,725.4 312.0,727.9 312.5,727.0 313.0,727.9 313.5,727.3 314.0,727.2 314.5,730.0 315.0,727.5 315.5,727.0 316.0,728.6 316.5,729.7 317.0,727.1 317.5,728.0 318.0,729.5 318.5,729.7 319.0,729.5 319.5,728.6 320.0,729.3 320.5,728.5 321.0,729.7 321.5,729.4 322.0,729.7 322.5,729.3 323.0,730.3 323.5,729.7 324.0,728.9 324.5,731.2 325.0,730.1 325.5,729.6 326.0,729.8 326.5,731.5 327.0,730.1 327.5,730.4 328.0,729.3 328.5,729.8 329.0,729.6 329.5,729.4 330.0,729.2 330.5,730.0 331.0,729.0 331.5,731.0 332.0,731.2 332.5,729.5 333.0,730.9 333.5,729.8 334.0,730.8 334.5,730.9 335.0,728.8 335.5,728.1 336.0,731.0 336.5,731.1 337.0,730.6 337.5,730.1 338.0,729.9 338.5,728.1 339.0,732.1 339.5,728.4 340.0,730.9 340.5,730.5 341.0,731.0 341.5,729.5 342.0,729.9 342.5,731.2 343.0,729.6 343.5,730.9 344.0,729.5 344.5,731.0 345.0,731.3 345.5,730.9 346.0,731.4 346.5,729.7 347.0,730.3 347.5,730.5 348.0,732.3 348.5,730.3 349.0,730.9 349.5,732.1 350.0,731.1 350.5,731.8 351.0,729.9 351.5,731.9 352.0,731.0 352.5,731.5 353.0,731.7 353.5,729.1 354.0,732.1 354.5,730.6 355.0,732.1 355.5,730.7 356.0,731.2 356.5,729.5 357.0,729.9 357.5,732.1 358.0,730.2 358.5,731.3 359.0,731.0 359.5,729.9 360.0,730.8 360.5,730.9 361.0,731.7 361.5,730.7 362.0,730.5 362.5,732.5 363.0,732.6 363.5,731.2 364.0,730.2 364.5,731.6 365.0,730.7 365.5,732.6 366.0,731.2 366.5,730.6 367.0,730.9 367.5,730.3 368.0,731.1 368.5,729.9 369.0,731.4 369.5,732.0 370.0,731.7 370.5,730.3 371.0,731.6 371.5,730.8 372.0,729.8 372.5,731.2 373.0,732.1 373.5,731.5 374.0,730.9 374.5,730.6 375.0,731.2 375.5,731.7 376.0,731.4 376.5,732.4 377.0,732.1 377.5,732.3 378.0,731.0 378.5,731.7 379.0,731.3 379.5,731.7 380.0,731.6 380.5,733.8 381.0,730.2 381.5,731.7 382.0,730.9 382.5,731.8 383.0,731.6 383.5,732.9 384.0,731.3 384.5,730.7 385.0,731.7 385.5,731.7 386.0,729.3 386.5,733.3 387.0,730.5 387.5,733.0 388.0,732.7 388.5,732.8 389.0,731.7 389.5,730.7 390.0,730.7 390.5,732.7 391.0,731.0 391.5,731.9 392.0,731.2 392.5,731.0 393.0,732.5 393.5,730.6 394.0,731.3 394.5,731.3 395.0,731.7 395.5,731.4 396.0,730.5 396.5,731.1 397.0,731.2 397.5,733.5 398.0,732.3 398.5,731.5 399.0,731.7 399.5,731.3 400.0,733.2 400.5,731.4 401.0,730.6 401.5,735.5 402.0,730.8 402.5,731.0 403.0,730.6 403.5,732.0 404.0,730.9 404.5,730.8 405.0,732.6 405.5,733.0 406.0,731.9 406.5,730.6 407.0,732.1 407.5,731.0 408.0,731.9 408.5,731.9 409.0,730.5 409.5,732.5 410.0,731.6 410.5,731.6 411.0,730.6 411.5,732.6 412.0,731.0 412.5,731.7 413.0,730.7 413.5,730.4 414.0,730.4 414.5,730.0 415.0,731.2 415.5,732.9 416.0,732.7 416.5,730.8 417.0,730.9 417.5,733.2 418.0,732.4 418.5,731.7 419.0,731.3 419.5,731.3 420.0,729.4 420.5,731.0 421.0,733.7 421.5,733.2 422.0,731.4 422.5,732.4 423.0,732.2 423.5,731.1 424.0,730.8 424.5,731.1 425.0,731.8 425.5,733.0 426.0,731.9 426.5,731.7 427.0,731.4 427.5,732.9 428.0,733.3 428.5,731.9 429.0,731.5 429.5,732.0 430.0,732.3 430.5,732.9 431.0,732.7 431.5,730.9 432.0,731.6 432.5,731.3 433.0,732.3 433.5,730.6 434.0,730.0 434.5,731.8 435.0,731.2 435.5,731.3 436.0,731.6 436.5,730.8 437.0,731.8 437.5,730.6 438.0,730.6 438.5,732.2 439.0,731.4 439.5,732.8 440.0,732.0 440.5,731.0 441.0,731.2 441.5,730.7 442.0,731.7 442.5,732.2 443.0,731.7 443.5,731.9 444.0,730.8 444.5,732.9 445.0,732.3 445.5,732.7 446.0,730.6 446.5,731.5 447.0,731.0 447.5,733.2 448.0,731.5 448.5,733.9 449.0,732.2 449.5,731.2 450.0,732.9 450.5,733.4 451.0,731.6 451.5,731.2 452.0,731.7 452.5,730.6 453.0,730.7 453.5,729.7 454.0,731.2 454.5,730.5 455.0,731.9 455.5,732.0 456.0,732.7 456.5,732.0 457.0,731.5 457.5,733.0 458.0,731.1 458.5,729.7 459.0,730.4 459.5,731.3 460.0,732.3 460.5,732.7 461.0,730.8 461.5,732.8 462.0,732.1 462.5,732.4 463.0,730.8 463.5,731.5 464.0,729.7 464.5,731.9 465.0,731.4 465.5,732.4 466.0,732.8 466.5,730.9 467.0,732.7 467.5,732.8 468.0,731.5 468.5,733.6 469.0,731.0 469.5,730.4 470.0,731.8 470.5,733.5 471.0,732.3 471.5,730.1 472.0,731.3 472.5,733.0 473.0,731.1 473.5,731.7 474.0,730.8 474.5,733.7 475.0,733.5 475.5,730.6 476.0,730.1 476.5,732.4 477.0,732.3 477.5,731.8 478.0,732.0 478.5,731.6 479.0,732.7 479.5,732.7 480.0,733.1 480.5,732.7 481.0,731.3 481.5,731.5 482.0,731.6 482.5,732.0 483.0,731.2 483.5,731.1 484.0,731.6 484.5,731.4 485.0,731.7 485.5,733.4 486.0,733.2 486.5,731.4 487.0,732.0 487.5,731.6 488.0,731.0 488.5,732.4 489.0,730.0 489.5,732.0 490.0,731.5 490.5,730.6 491.0,732.3 491.5,732.7 492.0,732.0 492.5,732.2 493.0,730.9 493.5,732.2 494.0,733.2 494.5,730.7 495.0,733.9 495.5,730.1 496.0,732.6 496.5,731.2 497.0,732.0 497.5,731.8 498.0,731.8 498.5,732.8 499.0,731.5 499.5,732.0 500.0,732.9 500.5,731.7 501.0,729.7 501.5,731.3 502.0,731.2 502.5,730.9 503.0,732.4 503.5,731.9 504.0,731.0 504.5,731.2 505.0,730.4 505.5,731.3 506.0,733.6 506.5,730.1 507.0,733.6 507.5,731.7 508.0,731.6 508.5,731.2 509.0,730.6 509.5,732.4 510.0,731.5 510.5,731.1 511.0,731.7 511.5,733.3 512.0,731.3 512.5,731.6 513.0,733.1 513.5,730.8 514.0,732.6 514.5,734.2 515.0,731.8 515.5,730.2 516.0,732.7 516.5,731.5 517.0,733.1 517.5,732.3 518.0,732.1 518.5,730.9 519.0,732.9 519.5,732.2 520.0,732.2 520.5,732.3 521.0,732.3 521.5,732.0 522.0,731.8 522.5,730.2 523.0,731.3 523.5,731.5 524.0,732.9 524.5,732.9 525.0,730.9 525.5,731.4 526.0,731.2 526.5,732.1 527.0,732.1 527.5,732.4 528.0,731.2 528.5,731.5 529.0,733.9 529.5,730.8 530.0,733.3 530.5,732.6 531.0,732.8 531.5,732.0 532.0,731.9 532.5,732.6 533.0,731.7 533.5,731.8 534.0,731.6 534.5,732.3 535.0,731.8 535.5,731.6 536.0,732.5 536.5,732.1 537.0,730.6 537.5,731.8 538.0,733.2 538.5,732.3 539.0,733.4 539.5,730.2 540.0,732.2 540.5,730.0 541.0,732.4 541.5,731.2 542.0,731.7 542.5,732.3 543.0,731.0 543.5,731.1 544.0,731.4 544.5,732.5 545.0,733.1 545.5,731.1 546.0,730.9 546.5,731.8 547.0,730.6 547.5,730.4 548.0,732.3 548.5,731.3 549.0,733.3 549.5,730.9 550.0,733.2 550.5,732.9 551.0,731.4 551.5,731.9 552.0,729.1 552.5,732.0 553.0,731.8 553.5,730.9 554.0,733.0 554.5,729.4 555.0,732.4 555.5,731.7 556.0,731.9 556.5,730.2 557.0,732.3 557.5,731.1 558.0,731.8 558.5,732.5 559.0,730.8 559.5,728.9 560.0,731.9 560.5,731.8 561.0,731.4 561.5,731.0 562.0,730.7 562.5,731.7 563.0,732.2 563.5,731.2 564.0,732.8 564.5,731.4 565.0,732.2 565.5,731.4 566.0,731.6 566.5,732.5 567.0,732.2 567.5,732.7 568.0,732.7 568.5,731.6 569.0,732.3 569.5,732.0 570.0,732.0 570.5,732.3 571.0,731.6 571.5,731.7 572.0,732.0 572.5,730.6 573.0,732.3 573.5,732.4 574.0,729.4 574.5,732.1 575.0,730.7 575.5,730.5 576.0,731.9 576.5,730.4 577.0,731.4 577.5,730.5 578.0,730.0 578.5,732.8 579.0,730.3 579.5,729.8 580.0,730.6 580.5,732.6 581.0,729.3 581.5,731.9 582.0,730.0 582.5,730.8 583.0,730.5 583.5,731.5 584.0,729.6 584.5,732.1 585.0,729.8 585.5,728.7 586.0,730.1 586.5,730.6 587.0,730.3 587.5,730.4 588.0,729.1 588.5,730.5 589.0,729.8 589.5,727.8 590.0,728.1 590.5,727.6 591.0,727.8 591.5,728.1 592.0,727.1 592.5,727.2 593.0,727.8 593.5,727.6 594.0,727.9 594.5,723.1 595.0,725.3 595.5,724.9 596.0,724.8 596.5,724.1 597.0,723.8 597.5,725.1 598.0,725.4 598.5,722.8 599.0,724.4 599.5,721.3 600.0,723.7 600.5,724.7 601.0,723.8 601.5,722.0 602.0,721.8 602.5,722.3 603.0,723.7 603.5,722.8 604.0,722.6 604.5,722.9 605.0,721.3 605.5,720.2 606.0,721.7 606.5,721.8 607.0,722.5 607.5,722.2 608.0,725.2 608.5,721.5 609.0,721.2 609.5,722.9 610.0,721.3 610.5,722.9 611.0,722.5 611.5,721.1 612.0,720.6 612.5,717.9 613.0,720.2 613.5,718.5 614.0,718.3 614.5,717.9 615.0,716.4 615.5,714.5 616.0,714.1 616.5,712.7 617.0,713.7 617.5,711.8 618.0,710.9 618.5,709.3 619.0,708.6 619.5,706.5 620.0,706.7 620.5,704.5 621.0,704.8 621.5,703.3 622.0,703.1 622.5,702.9 623.0,701.5 623.5,700.6 624.0,700.7 624.5,698.9 625.0,699.2 625.5,699.5 626.0,697.7 626.5,698.6 627.0,701.7 627.5,700.3 628.0,700.8 628.5,701.9 629.0,701.9 629.5,702.5 630.0,703.5 630.5,705.7 631.0,707.3 631.5,706.1 632.0,707.5 632.5,709.0 633.0,708.3 633.5,710.4 634.0,712.2 634.5,713.1 635.0,715.1 635.5,713.1 636.0,714.1 636.5,715.6 637.0,715.6 637.5,716.9 638.0,716.3 638.5,715.0 639.0,716.3 639.5,715.7 640.0,717.8 640.5,719.2 641.0,718.8 641.5,718.1 642.0,716.8 642.5,719.0 643.0,718.7 643.5,719.0 644.0,719.9 644.5,722.6 645.0,720.2 645.5,720.3 646.0,720.0 646.5,722.8 647.0,721.4 647.5,720.9 648.0,722.7 648.5,723.9 649.0,722.9 649.5,724.5 650.0,723.4 650.5,726.7 651.0,724.7 651.5,726.2 652.0,725.7 652.5,726.5 653.0,727.7 653.5,727.2 654.0,728.0 654.5,729.6 655.0,731.2 655.5,729.8 656.0,729.2 656.5,729.7 657.0,728.4 657.5,728.8 658.0,728.9 658.5,730.6 659.0,730.2 659.5,730.1 660.0,732.9 660.5,730.7 661.0,731.6 661.5,731.4 662.0,731.1 662.5,731.6 663.0,729.7 663.5,731.3 664.0,732.3 664.5,733.0 665.0,731.2 665.5,732.9 666.0,732.4 666.5,731.2 667.0,730.1 667.5,732.0 668.0,731.1 668.5,732.9 669.0,732.2 669.5,730.4 670.0,731.4 670.5,732.3 671.0,733.2 671.5,729.4 672.0,732.5 672.5,730.7 673.0,731.8 673.5,731.2 674.0,733.0 674.5,732.4 675.0,733.9 675.5,733.4 676.0,731.5 676.5,730.0 677.0,732.0 677.5,731.7 678.0,732.4 678.5,731.5 679.0,731.7 679.5,733.1 680.0,732.6 680.5,731.7 681.0,732.8 681.5,731.5 682.0,732.4 682.5,733.3 683.0,731.9 683.5,731.1 684.0,732.6 684.5,732.1 685.0,734.2 685.5,732.4 686.0,731.9 686.5,731.3 687.0,730.3 687.5,731.7 688.0,732.6 688.5,731.6 689.0,733.1 689.5,733.5 690.0,733.3 690.5,731.9 691.0,731.8 691.5,733.4 692.0,732.0 692.5,732.0 693.0,732.1 693.5,734.0 694.0,730.8 694.5,733.8 695.0,733.6 695.5,734.3 696.0,733.2 696.5,735.0 697.0,733.5 697.5,731.9 698.0,731.3 698.5,732.8 699.0,733.2 699.5,733.1 700.0,733.8 700.5,733.9 701.0,730.4 701.5,732.8 702.0,732.8 702.5,733.4 703.0,732.0 703.5,734.0 704.0,732.9 704.5,734.2 705.0,732.2 705.5,732.7 706.0,731.6 706.5,731.9 707.0,732.6 707.5,732.4 708.0,733.2 708.5,733.3 709.0,732.9 709.5,732.9 710.0,731.8 710.5,732.5 711.0,732.7 711.5,732.2 712.0,733.7 712.5,733.5 713.0,732.1 713.5,732.5 714.0,732.9 714.5,733.1 715.0,734.4 715.5,732.8 716.0,732.4 716.5,733.3 717.0,733.6 717.5,734.2 718.0,732.0 718.5,732.7 719.0,733.2 719.5,733.2 720.0,731.5 720.5,733.4 721.0,734.4 721.5,733.6 722.0,732.9 722.5,732.0 723.0,732.0 723.5,733.0 724.0,732.3 724.5,732.3 725.0,731.4 725.5,733.5 726.0,733.9 726.5,733.0 727.0,733.6 727.5,733.2 728.0,734.7 728.5,733.0 729.0,733.0 729.5,731.9 730.0,733.0 730.5,732.7 731.0,732.6 731.5,734.6 732.0,733.8 732.5,734.1 733.0,733.4 733.5,732.2 734.0,733.2 734.5,734.1 735.0,732.3 735.5,733.0 736.0,733.1 736.5,734.2 737.0,733.2 737.5,733.9 738.0,733.8 738.5,732.9 739.0,733.4 739.5,732.0 740.0,732.7 740.5,733.8 741.0,733.6 741.5,733.6 742.0,733.3 742.5,734.1 743.0,733.9 743.5,733.4 744.0,731.7 744.5,736.3 745.0,735.6 745.5,732.5 746.0,734.8 746.5,733.1 747.0,734.5 747.5,732.5 748.0,733.3 748.5,732.9 749.0,734.1 749.5,734.3 750.0,733.5 750.5,731.1 751.0,733.5 751.5,732.3 752.0,734.9 752.5,732.9 753.0,731.3 753.5,733.3 754.0,732.1 754.5,733.9 755.0,732.2 755.5,733.8 756.0,731.8 756.5,734.6 757.0,733.4 757.5,734.1 758.0,733.2 758.5,735.4 759.0,733.2 759.5,734.1 760.0,733.3 760.5,734.6 761.0,732.0 761.5,731.8 762.0,733.9 762.5,732.7 763.0,732.4 763.5,733.9 764.0,733.4 764.5,730.9 765.0,733.5 765.5,732.8 766.0,732.3 766.5,734.1 767.0,734.0 767.5,734.8 768.0,732.9 768.5,732.4 769.0,735.9 769.5,734.2 770.0,734.1 770.5,732.5 771.0,732.9 771.5,734.2 772.0,730.4 772.5,732.1 773.0,733.6 773.5,731.5 774.0,734.1 774.5,733.1 775.0,731.6 775.5,733.3 776.0,733.4 776.5,733.2 777.0,733.9 777.5,731.7 778.0,732.8 778.5,733.8 779.0,733.6 779.5,733.5 780.0,736.2 780.5,732.9 781.0,732.7 781.5,734.0 782.0,733.1 782.5,734.3 783.0,733.1 783.5,735.1 784.0,732.7 784.5,733.1 785.0,734.2 785.5,733.4 786.0,734.3 786.5,734.2 787.0,734.3 787.5,732.1 788.0,734.3 788.5,733.5 789.0,733.7 789.5,732.6 790.0,733.9 790.5,734.3 791.0,733.8 791.5,734.0 792.0,733.6 792.5,733.3 793.0,734.0 793.5,733.3 794.0,733.4 794.5,734.0 795.0,734.5 795.5,735.2 796.0,734.6 796.5,733.6 797.0,732.7 797.5,733.9 798.0,732.5 798.5,732.5 799.0,731.6 799.5,734.8 800.0,734.7 800.5,732.4 801.0,733.6 801.5,733.9 802.0,735.1 802.5,735.0 803.0,732.6 803.5,733.9 804.0,732.0 804.5,733.4 805.0,733.6 805.5,733.2 806.0,732.4 806.5,733.2 807.0,735.7 807.5,732.9 808.0,733.5 808.5,734.5 809.0,734.4 809.5,733.2 810.0,735.0 810.5,735.0 811.0,733.8 811.5,733.9 812.0,733.4 812.5,734.1 813.0,733.8 813.5,734.7 814.0,731.9 814.5,734.5 815.0,733.4 815.5,735.0 816.0,734.7 816.5,733.4 817.0,733.5 817.5,733.1 818.0,732.5 818.5,733.3 819.0,734.3 819.5,733.3 820.0,732.2 820.5,733.5 821.0,732.5 821.5,733.6 822.0,734.2 822.5,734.4 823.0,734.7 823.5,732.7 824.0,730.9 824.5,733.5 825.0,733.3 825.5,734.2 826.0,734.2 826.5,733.2 827.0,733.5 827.5,734.3 828.0,732.8 828.5,731.3 829.0,733.8 829.5,733.6 830.0,732.9 830.5,734.7 831.0,733.3 831.5,732.7 832.0,733.7 832.5,735.2 833.0,732.4 833.5,734.3 834.0,732.2 834.5,734.1 835.0,733.0 835.5,733.0 836.0,734.1 836.5,735.9 837.0,731.7 837.5,733.2 838.0,732.6 838.5,734.6 839.0,733.5 839.5,732.5 840.0,734.3 840.5,734.1 841.0,733.3 841.5,734.2 842.0,733.7 842.5,734.3 843.0,732.3 843.5,734.0 844.0,734.3 844.5,732.5 845.0,736.9 845.5,734.9 846.0,733.7 846.5,732.8 847.0,733.1 847.5,733.4 848.0,733.8 848.5,732.1 849.0,732.2 849.5,734.7 850.0,732.0 850.5,735.4 851.0,733.2 851.5,731.9 852.0,732.5 852.5,735.0 853.0,733.6 853.5,732.3 854.0,734.6 854.5,733.8 855.0,732.7 855.5,732.2 856.0,731.7 856.5,733.3 857.0,733.8 857.5,734.8 858.0,734.8 858.5,734.3 859.0,731.8 859.5,732.7 860.0,733.8 860.5,733.0 861.0,733.4 861.5,732.8 862.0,733.2 862.5,734.2 863.0,733.7 863.5,731.7 864.0,732.7 864.5,732.0 865.0,731.5 865.5,734.1 866.0,733.1 866.5,735.5 867.0,733.8 867.5,733.6 868.0,732.5 868.5,732.3 869.0,733.8 869.5,732.5 870.0,734.5 870.5,733.9 871.0,733.9 871.5,733.1 872.0,731.9 872.5,734.1 873.0,732.2 873.5,732.8 874.0,733.5 874.5,732.3 875.0,732.2 875.5,731.3 876.0,733.7 876.5,734.3 877.0,731.6 877.5,733.6 878.0,734.3 878.5,734.1 879.0,733.3 879.5,731.5 880.0,730.6 880.5,731.3 881.0,732.4 881.5,733.2 882.0,733.0 882.5,731.4 883.0,731.8 883.5,730.8 884.0,729.2 884.5,730.1 885.0,731.6 885.5,731.1 886.0,730.1 886.5,729.6 887.0,731.5 887.5,729.0 888.0,727.6 888.5,725.6 889.0,725.3 889.5,725.1 890.0,722.6 890.5,721.7 891.0,718.4 891.5,718.9 892.0,712.5 892.5,710.3 893.0,704.5 893.5,701.1 894.0,696.9 894.5,691.3 895.0,684.4 895.5,683.1 896.0,678.5 896.5,674.1 897.0,673.2 897.5,674.6 898.0,675.0 898.5,679.6 899.0,681.8 899.5,687.9 900.0,693.5 900.5,697.2 901.0,702.4 901.5,707.0 902.0,712.0 902.5,715.2 903.0,717.3 903.5,719.9 904.0,721.4 904.5,723.1 905.0,724.5 905.5,725.6 906.0,728.0 906.5,727.7 907.0,727.7 907.5,728.2 908.0,729.4 908.5,730.3 909.0,729.6 909.5,729.4 910.0,730.9 910.5,731.8 911.0,730.0 911.5,730.8 912.0,729.4 912.5,733.9 913.0,730.5 913.5,730.5 914.0,732.1 914.5,731.6 915.0,732.8 915.5,731.2 916.0,732.3 916.5,732.4 917.0,732.8 917.5,734.2 918.0,732.4 918.5,731.6 919.0,732.9 919.5,731.8 920.0,733.5 920.5,732.9 921.0,732.8 921.5,731.1 922.0,731.1 922.5,732.1 923.0,732.7 923.5,730.6 924.0,732.2 924.5,732.9 925.0,732.1 925.5,733.6 926.0,732.8 926.5,734.1 927.0,731.7 927.5,732.8 928.0,729.4 928.5,731.3 929.0,732.9 929.5,731.4 930.0,731.1 930.5,730.2 931.0,733.0 931.5,732.5 932.0,731.2 932.5,731.5 933.0,731.2 933.5,729.9 934.0,731.7 934.5,731.0 935.0,730.9 935.5,733.0 936.0,732.1 936.5,731.2 937.0,732.9 937.5,732.5 938.0,733.0 938.5,732.7 939.0,733.2 939.5,733.3 940.0,732.1 940.5,735.2 941.0,733.4 941.5,730.7 942.0,734.2 942.5,731.7 943.0,733.6 943.5,734.8 944.0,733.0 944.5,733.2 945.0,734.5 945.5,733.9 946.0,733.9 946.5,733.1 947.0,733.4 947.5,731.4 948.0,732.9 948.5,733.2 949.0,734.0 949.5,733.8 950.0,732.0 950.5,732.6 951.0,731.1 951.5,733.2 952.0,734.8 952.5,733.5 953.0,732.5 953.5,733.4 954.0,733.1 954.5,732.1 955.0,732.4 955.5,733.1 956.0,734.1 956.5,732.7 957.0,732.6 957.5,731.9 958.0,733.2 958.5,732.2 959.0,735.1 959.5,733.4 960.0,730.2 960.5,734.7 961.0,733.6 961.5,733.2 962.0,733.5 962.5,732.7 963.0,732.4 963.5,732.5 964.0,733.1 964.5,733.7 965.0,735.2 965.5,733.7 966.0,734.1 966.5,734.3 967.0,732.5 967.5,732.3 968.0,732.4 968.5,734.9 969.0,731.9 969.5,733.9 970.0,732.5 970.5,735.9 971.0,731.9 971.5,732.1 972.0,732.8 972.5,732.2 973.0,734.1 973.5,734.3 974.0,734.3 974.5,735.4 975.0,732.4 975.5,733.5 976.0,732.9 976.5,732.6 977.0,733.7 977.5,735.5 978.0,732.4 978.5,735.6 979.0,733.7 979.5,732.9 980.0,732.2 980.5,734.2 981.0,733.5 981.5,733.2 982.0,732.7 982.5,733.2 983.0,733.0 983.5,733.5 984.0,731.5 984.5,733.6 985.0,734.3 985.5,734.1 986.0,732.0 986.5,733.4 987.0,733.6 987.5,734.5 988.0,734.2 988.5,734.3 989.0,733.1 989.5,734.0 990.0,733.2 990.5,733.0 991.0,731.7 991.5,733.6 992.0,733.1 992.5,731.7 993.0,734.6 993.5,732.8 994.0,733.6 994.5,733.6 995.0,733.0 995.5,733.4 996.0,734.1 996.5,732.4 997.0,731.8 997.5,734.2 998.0,733.7 998.5,732.4 999.0,734.2 999.5,732.0 1000.0,733.3 1000.5,733.5 1001.0,733.2 1001.5,733.6 1002.0,732.6 1002.5,731.5 1003.0,732.5 1003.5,733.7 1004.0,733.1 1004.5,733.0 1005.0,732.7 1005.5,734.2 1006.0,732.5 1006.5,733.3 1007.0,733.3 1007.5,732.1 1008.0,733.8 1008.5,733.4 1009.0,733.6 1009.5,731.6 1010.0,734.1 1010.5,732.5 1011.0,732.9 1011.5,733.3 1012.0,733.7 1012.5,732.3 1013.0,733.1 1013.5,732.8 1014.0,732.7 1014.5,732.7 1015.0,731.7 1015.5,732.6 1016.0,733.8 1016.5,731.6 1017.0,730.9 1017.5,733.9 1018.0,731.1 1018.5,732.1 1019.0,731.7 1019.5,732.5 1020.0,731.9 1020.5,732.7 1021.0,731.7 1021.5,731.0 1022.0,734.4 1022.5,732.0 1023.0,732.4 1023.5,730.5 1024.0,731.0 1024.5,731.1 1025.0,732.4 1025.5,730.5 1026.0,731.7 1026.5,730.8 1027.0,730.3 1027.5,731.5 1028.0,730.9 1028.5,729.4 1029.0,730.9 1029.5,728.7 1030.0,730.3 1030.5,729.4 1031.0,731.5 1031.5,729.5 1032.0,730.8 1032.5,729.0 1033.0,727.7 1033.5,728.4 1034.0,725.9 1034.5,725.7 1035.0,726.4 1035.5,727.6 1036.0,726.6 1036.5,723.8 1037.0,722.6 1037.5,724.5 1038.0,722.1 1038.5,722.0 1039.0,721.9 1039.5,720.9 1040.0,720.5 1040.5,720.5 1041.0,721.0 1041.5,718.8 1042.0,718.8 1042.5,718.6 1043.0,717.9 1043.5,716.7 1044.0,715.4 1044.5,715.4 1045.0,713.3 1045.5,714.1 1046.0,714.8 1046.5,713.5 1047.0,709.3 1047.5,712.3 1048.0,711.8 1048.5,710.4 1049.0,710.9 1049.5,710.5 1050.0,709.3 1050.5,708.9 1051.0,707.7 1051.5,709.7 1052.0,706.3 1052.5,708.8 1053.0,708.1 1053.5,708.6 1054.0,708.2 1054.5,708.7 1055.0,708.1 1055.5,708.4 1056.0,711.3 1056.5,709.7 1057.0,711.8 1057.5,711.7 1058.0,711.6 1058.5,712.2 1059.0,712.4 1059.5,714.0 1060.0,713.6 1060.5,713.9 1061.0,715.5 1061.5,715.5 1062.0,716.6 1062.5,716.1 1063.0,717.3 1063.5,718.9 1064.0,719.5 1064.5,718.1 1065.0,719.6 1065.5,719.2 1066.0,721.6 1066.5,720.4 1067.0,720.0 1067.5,721.1 1068.0,721.5 1068.5,725.4 1069.0,722.9 1069.5,724.6 1070.0,723.4 1070.5,724.8 1071.0,725.9 1071.5,725.7 1072.0,726.3 1072.5,726.0 1073.0,724.9 1073.5,725.5 1074.0,725.1 1074.5,724.2 1075.0,726.5 1075.5,723.0 1076.0,722.1 1076.5,722.2 1077.0,722.9 1077.5,720.4 1078.0,719.9 1078.5,717.6 1079.0,718.0 1079.5,715.5 1080.0,713.4 1080.5,712.8 1081.0,708.5 1081.5,708.7 1082.0,706.0 1082.5,702.1 1083.0,701.4 1083.5,700.6 1084.0,698.1 1084.5,697.9 1085.0,700.3 1085.5,702.3 1086.0,702.4 1086.5,703.0 1087.0,704.4 1087.5,705.4 1088.0,709.4 1088.5,710.3 1089.0,713.0 1089.5,715.2 1090.0,717.9 1090.5,719.4 1091.0,718.3 1091.5,721.4 1092.0,724.3 1092.5,725.8 1093.0,726.3 1093.5,727.4 1094.0,726.1 1094.5,727.8 1095.0,728.5 1095.5,729.9 1096.0,729.5 1096.5,729.2 1097.0,730.9 1097.5,730.3 1098.0,731.1 1098.5,729.0 1099.0,730.9 1099.5,731.4 1100.0,732.4 1100.5,731.1 1101.0,729.5 1101.5,729.8 1102.0,732.2 1102.5,732.0 1103.0,730.7 1103.5,730.0 1104.0,731.8 1104.5,730.1 1105.0,730.4 1105.5,728.9 1106.0,727.6 1106.5,730.2 1107.0,731.6 1107.5,729.4 1108.0,728.3 1108.5,730.7 1109.0,728.4 1109.5,727.3 1110.0,728.8 1110.5,729.7 1111.0,728.7 1111.5,729.7 1112.0,729.9 1112.5,730.1 1113.0,731.8 1113.5,730.7 1114.0,731.3 1114.5,732.4 1115.0,731.0 1115.5,732.4 1116.0,731.2 1116.5,732.0 1117.0,732.1 1117.5,733.3 1118.0,733.4 1118.5,731.9 1119.0,731.8 1119.5,731.7 1120.0,732.0 1120.5,732.4 1121.0,733.0 1121.5,732.3 1122.0,735.0 1122.5,734.5 1123.0,735.3 1123.5,733.8 1124.0,734.0 1124.5,733.2 1125.0,734.6 1125.5,734.0 1126.0,733.4 1126.5,733.9 1127.0,735.4 1127.5,735.1 1128.0,733.6 1128.5,731.7 1129.0,730.8 1129.5,733.5 1130.0,733.5 1130.5,733.6 1131.0,734.0 1131.5,734.2 1132.0,732.9 1132.5,733.1 1133.0,735.3 1133.5,735.9 1134.0,733.9 1134.5,733.9 1135.0,734.6 1135.5,734.1 1136.0,733.9 1136.5,733.8 1137.0,735.3 1137.5,733.1 1138.0,734.4 1138.5,732.7 1139.0,734.4 1139.5,734.2 1140.0,733.8 1140.5,734.2 1141.0,732.2 1141.5,733.1 1142.0,733.5 1142.5,734.0 1143.0,733.9 1143.5,733.2 1144.0,734.0 1144.5,734.3 1145.0,736.4 1145.5,734.1 1146.0,734.3 1146.5,734.3 1147.0,733.7 1147.5,733.6 1148.0,734.8 1148.5,733.7 1149.0,733.5 1149.5,734.0 1150.0,735.6 1150.5,732.9 1151.0,733.7 1151.5,734.3 1152.0,734.6 1152.5,735.7 1153.0,736.0 1153.5,733.5 1154.0,734.8 1154.5,736.0 1155.0,735.2 1155.5,733.3 1156.0,733.5 1156.5,734.2 1157.0,734.9 1157.5,733.1 1158.0,735.0 1158.5,733.5 1159.0,734.8 1159.5,734.9 1160.0,734.6 1160.5,735.1 1161.0,734.1 1161.5,734.3 1162.0,735.4 1162.5,733.6 1163.0,733.6 1163.5,732.8 1164.0,735.8 1164.5,733.4 1165.0,735.1 1165.5,734.3 1166.0,734.6 1166.5,733.8 1167.0,734.0 1167.5,735.1 1168.0,734.3 1168.5,733.2 1169.0,734.0 1169.5,732.8 1170.0,734.7 1170.5,735.0 1171.0,734.4 1171.5,735.6 1172.0,735.7 1172.5,734.0 1173.0,735.2 1173.5,733.9 1174.0,734.3 1174.5,733.9 1175.0,734.3 1175.5,733.0 1176.0,734.0 1176.5,732.9 1177.0,735.7 1177.5,733.7 1178.0,734.1 1178.5,732.7 1179.0,733.5 1179.5,734.7 1180.0,732.2 1180.5,734.5 1181.0,733.7 1181.5,736.3 1182.0,734.9 1182.5,735.1 1183.0,734.6 1183.5,735.3 1184.0,733.1 1184.5,735.9 1185.0,735.1 1185.5,732.7 1186.0,734.7 1186.5,734.3 1187.0,735.8 1187.5,734.1 1188.0,734.4 1188.5,734.8 1189.0,734.2 1189.5,736.0 1190.0,734.8 1190.5,733.7 1191.0,734.6 1191.5,734.2 1192.0,736.0 1192.5,733.3 1193.0,732.6 1193.5,736.5 1194.0,734.4 1194.5,735.5 1195.0,734.4 1195.5,733.9 1196.0,735.0 1196.5,734.5 1197.0,733.8 1197.5,732.6 1198.0,734.7 1198.5,735.8 1199.0,735.6 1199.5,733.1 1200.0,735.8 1200.5,733.1 1201.0,734.0 1201.5,734.5 1202.0,734.5 1202.5,733.7 1203.0,734.2 1203.5,734.6 1204.0,734.6 1204.5,735.2 1205.0,735.4 1205.5,734.6 1206.0,733.8 1206.5,735.2 1207.0,734.5 1207.5,733.7 1208.0,732.1 1208.5,734.7 1209.0,735.1 1209.5,735.5 1210.0,733.5 1210.5,734.4 1211.0,732.7 1211.5,734.6 1212.0,734.7 1212.5,733.6 1213.0,735.0 1213.5,735.4 1214.0,735.5 1214.5,733.6 1215.0,734.5 1215.5,735.5 1216.0,734.3 1216.5,734.1 1217.0,734.2 1217.5,735.4 1218.0,734.3 1218.5,732.6 1219.0,735.1 1219.5,737.3 1220.0,734.9 1220.5,735.8 1221.0,734.8 1221.5,734.3 1222.0,733.5 1222.5,735.0 1223.0,734.5 1223.5,735.4 1224.0,734.6 1224.5,735.1 1225.0,732.5 1225.5,734.8 1226.0,735.1 1226.5,734.8 1227.0,735.8 1227.5,734.4 1228.0,735.1 1228.5,732.5 1229.0,735.2 1229.5,735.2 1230.0,733.6 1230.5,732.2 1231.0,733.4 1231.5,734.3 1232.0,736.0 1232.5,733.2 1233.0,734.8 1233.5,734.9 1234.0,734.9 1234.5,733.7 1235.0,735.0 1235.5,732.9 1236.0,732.4 1236.5,734.2 1237.0,733.4 1237.5,732.0 1238.0,735.6 1238.5,735.0 1239.0,734.8 1239.5,733.3 1240.0,733.5 1240.5,732.6 1241.0,734.2 1241.5,733.9 1242.0,734.1 1242.5,735.6 1243.0,733.6 1243.5,734.0 1244.0,732.7 1244.5,735.7 1245.0,735.3 1245.5,731.8 1246.0,731.9 1246.5,735.7 1247.0,736.0 1247.5,734.7 1248.0,735.4 1248.5,732.7 1249.0,734.0 1249.5,734.8 1250.0,733.7 1250.5,732.9 1251.0,733.6 1251.5,732.9 1252.0,735.6 1252.5,733.3 1253.0,732.9 1253.5,731.6 1254.0,735.0 1254.5,733.2 1255.0,733.9 1255.5,733.1 1256.0,733.4 1256.5,733.1 1257.0,732.3 1257.5,733.3 1258.0,731.9 1258.5,732.8 1259.0,732.8 1259.5,733.0 1260.0,731.2 1260.5,734.3 1261.0,731.9 1261.5,730.3 1262.0,729.6 1262.5,731.2 1263.0,730.8 1263.5,731.3 1264.0,728.8 1264.5,730.1 1265.0,730.3 1265.5,730.6 1266.0,727.7 1266.5,728.6 1267.0,728.2 1267.5,728.6 1268.0,728.2 1268.5,728.4 1269.0,727.2 1269.5,728.4 1270.0,726.2 1270.5,727.6 1271.0,729.7 1271.5,726.4 1272.0,729.1 1272.5,728.6 1273.0,726.7 1273.5,727.6 1274.0,727.6 1274.5,725.9 1275.0,724.7 1275.5,726.4 1276.0,725.2 1276.5,726.9 1277.0,724.4 1277.5,728.0 1278.0,728.1 1278.5,724.6 1279.0,723.0 1279.5,725.1 1280.0,723.8 1280.5,723.8 1281.0,721.9 1281.5,721.5 1282.0,723.1 1282.5,720.7 1283.0,719.4 1283.5,721.5 1284.0,721.0 1284.5,719.5 1285.0,718.2 1285.5,720.5 1286.0,717.9 1286.5,718.5 1287.0,716.0 1287.5,715.6 1288.0,716.9 1288.5,718.0 1289.0,715.2 1289.5,715.5 1290.0,715.7 1290.5,717.6 1291.0,716.3 1291.5,717.0 1292.0,717.8 1292.5,718.0 1293.0,719.4 1293.5,716.9 1294.0,719.1 1294.5,719.7 1295.0,718.7 1295.5,720.8 1296.0,721.5 1296.5,721.5 1297.0,721.9 1297.5,724.5 1298.0,724.2 1298.5,724.5 1299.0,725.4 1299.5,725.2 1300.0,726.6 1300.5,727.4 1301.0,726.5 1301.5,727.8 1302.0,728.3 1302.5,729.0 1303.0,728.9 1303.5,729.7 1304.0,729.6 1304.5,729.5 1305.0,730.2 1305.5,729.4 1306.0,731.9 1306.5,731.9 1307.0,730.9 1307.5,731.0 1308.0,731.3 1308.5,731.1 1309.0,731.4 1309.5,733.2 1310.0,732.5 1310.5,733.8 1311.0,733.6 1311.5,733.6 1312.0,731.9 1312.5,735.1 1313.0,733.2 1313.5,731.1 1314.0,733.3 1314.5,733.3 1315.0,734.3 1315.5,732.7 1316.0,733.9 1316.5,733.5 1317.0,735.1 1317.5,733.6 1318.0,734.5 1318.5,735.0 1319.0,733.2 1319.5,734.4 1320.0,734.1 1320.5,735.8 1321.0,734.8 1321.5,733.4 1322.0,736.1 1322.5,733.7 1323.0,734.2 1323.5,734.4 1324.0,734.9 1324.5,733.6 1325.0,734.1 1325.5,734.0 1326.0,734.6 1326.5,733.6 1327.0,734.0 1327.5,733.0 1328.0,736.2 1328.5,735.0 1329.0,735.8 1329.5,733.8 1330.0,732.7 1330.5,732.9 1331.0,733.2 1331.5,735.1 1332.0,734.2 1332.5,734.0 1333.0,733.3 1333.5,736.3 1334.0,733.2 1334.5,734.4 1335.0,734.3 1335.5,734.5 1336.0,734.5 1336.5,735.0 1337.0,737.4 1337.5,735.8 1338.0,735.0 1338.5,733.6 1339.0,736.3 1339.5,736.4 1340.0,734.2 1340.5,735.3 1341.0,732.4 1341.5,733.7 1342.0,735.9 1342.5,733.0 1343.0,735.5 1343.5,736.0 1344.0,733.3 1344.5,734.7 1345.0,736.4 1345.5,737.3 1346.0,734.9 1346.5,736.4 1347.0,734.0 1347.5,734.2 1348.0,735.4 1348.5,735.7 1349.0,735.1 1349.5,736.1 1350.0,735.9 1350.5,736.4 1351.0,735.8 1351.5,735.1 1352.0,735.2 1352.5,735.0 1353.0,735.3 1353.5,736.3 1354.0,736.2 1354.5,736.6 1355.0,736.1 1355.5,736.1 1356.0,734.3 1356.5,734.8 1357.0,734.7 1357.5,734.4 1358.0,732.6 1358.5,735.9 1359.0,734.0 1359.5,734.4 1360.0,734.4 1360.5,736.7 1361.0,735.6 1361.5,736.7 1362.0,735.1 1362.5,736.0 1363.0,736.0 1363.5,735.0 1364.0,735.3 1364.5,733.4 1365.0,734.0 1365.5,735.2 1366.0,732.7 1366.5,735.4 1367.0,735.3 1367.5,734.4 1368.0,735.9 1368.5,735.6 1369.0,736.3 1369.5,735.3 1370.0,735.8 1370.5,735.4 1371.0,733.7 1371.5,735.1 1372.0,735.0 1372.5,735.2 1373.0,735.1 1373.5,735.9 1374.0,735.0 1374.5,734.4 1375.0,735.7 1375.5,733.0 1376.0,733.6 1376.5,736.3 1377.0,733.6 1377.5,735.4 1378.0,734.0 1378.5,735.8 1379.0,735.4 1379.5,736.1 1380.0,735.7 1380.5,736.3 1381.0,734.2 1381.5,736.7 1382.0,734.6 1382.5,735.9 1383.0,734.9 1383.5,736.3 1384.0,735.5 1384.5,735.3 1385.0,735.7 1385.5,735.1 1386.0,735.1 1386.5,736.6 1387.0,735.7 1387.5,735.2 1388.0,734.7 1388.5,736.3 1389.0,734.3 1389.5,735.1 1390.0,733.9 1390.5,734.5 1391.0,735.0 1391.5,735.5 1392.0,735.1 1392.5,736.1 1393.0,733.3 1393.5,737.2 1394.0,735.7 1394.5,735.6 1395.0,734.3 1395.5,736.1 1396.0,734.4 1396.5,735.1 1397.0,735.3 1397.5,735.7 1398.0,735.6 1398.5,734.2 1399.0,733.8 1399.5,736.5 1400.0,735.9 1400.5,735.7 1401.0,735.6 1401.5,735.6 1402.0,733.2 1402.5,735.2 1403.0,736.1 1403.5,735.2 1404.0,735.9 1404.5,735.6 1405.0,734.7 1405.5,734.4 1406.0,735.0 1406.5,736.2 1407.0,733.5 1407.5,736.0 1408.0,733.2 1408.5,737.1 1409.0,734.9 1409.5,735.3 1410.0,734.6 1410.5,736.0 1411.0,734.4 1411.5,736.5 1412.0,737.2 1412.5,735.1 1413.0,734.2 1413.5,735.8 1414.0,734.3 1414.5,734.7 1415.0,735.2 1415.5,736.1 1416.0,733.9 1416.5,735.7 1417.0,735.5 1417.5,734.8 1418.0,735.6 1418.5,735.0 1419.0,734.5 1419.5,732.9 1420.0,732.4 1420.5,734.9 1421.0,735.5 1421.5,733.7 1422.0,734.4 1422.5,736.2 1423.0,735.5 1423.5,732.8 1424.0,735.2 1424.5,734.2 1425.0,735.0 1425.5,734.5 1426.0,733.4 1426.5,736.3 1427.0,731.6 1427.5,733.0 1428.0,735.1 1428.5,733.8 1429.0,734.1 1429.5,732.7 1430.0,734.3 1430.5,732.7 1431.0,732.1 1431.5,732.0 1432.0,734.1 1432.5,732.8 1433.0,733.4 1433.5,732.9 1434.0,732.2 1434.5,731.0 1435.0,732.3 1435.5,732.5 1436.0,730.5 1436.5,730.9 1437.0,730.4 1437.5,729.0 1438.0,731.2 1438.5,731.2 1439.0,730.3 1439.5,730.4 1440.0,730.1 1440.5,730.9 1441.0,730.3 1441.5,730.2 1442.0,728.3 1442.5,729.3 1443.0,728.6 1443.5,727.3 1444.0,728.6 1444.5,726.3 1445.0,726.7 1445.5,728.7 1446.0,728.2 1446.5,725.5 1447.0,727.7 1447.5,727.3 1448.0,726.9 1448.5,726.0 1449.0,726.8 1449.5,727.9 1450.0,729.1 1450.5,728.2 1451.0,726.6 1451.5,728.3 1452.0,729.8 1452.5,727.7 1453.0,726.8 1453.5,729.3 1454.0,727.8 1454.5,728.7 1455.0,729.2 1455.5,728.9 1456.0,729.3 1456.5,730.2 1457.0,730.5 1457.5,730.3 1458.0,731.0 1458.5,730.8 1459.0,730.0 1459.5,732.7 1460.0,731.4 1460.5,731.8 1461.0,732.6 1461.5,731.6 1462.0,730.5 1462.5,730.3 1463.0,731.8 1463.5,733.4 1464.0,732.9 1464.5,733.2 1465.0,732.2 1465.5,731.4 1466.0,732.7 1466.5,731.2 1467.0,732.2 1467.5,733.7 1468.0,732.6 1468.5,731.8 1469.0,733.8 1469.5,733.8 1470.0,733.5 1470.5,731.6 1471.0,734.1 1471.5,733.2 1472.0,734.0 1472.5,734.5 1473.0,733.9 1473.5,734.7 1474.0,734.1 1474.5,732.9 1475.0,732.7 1475.5,735.1 1476.0,735.3 1476.5,732.8 1477.0,733.2 1477.5,733.3 1478.0,733.4 1478.5,730.9 1479.0,733.1 1479.5,732.2 1480.0,732.0 1480.5,731.2 1481.0,732.7 1481.5,730.6 1482.0,732.5 1482.5,731.9 1483.0,729.4 1483.5,730.5 1484.0,730.2 1484.5,728.5 1485.0,726.2 1485.5,727.7 1486.0,728.0 1486.5,729.6 1487.0,728.3 1487.5,727.7 1488.0,726.8 1488.5,727.3 1489.0,725.4 1489.5,725.4 1490.0,724.9 1490.5,725.2 1491.0,726.4 1491.5,728.7 1492.0,725.6 1492.5,727.6 1493.0,727.7 1493.5,726.2 1494.0,728.3 1494.5,726.7 1495.0,730.4 1495.5,730.5 1496.0,729.3 1496.5,730.0 1497.0,730.3 1497.5,730.5 1498.0,732.2 1498.5,730.7 1499.0,731.7 1499.5,731.2 1500.0,733.8 1500.5,733.0 1501.0,734.1 1501.5,732.4 1502.0,730.8 1502.5,734.2 1503.0,734.1 1503.5,734.7 1504.0,733.9 1504.5,734.7 1505.0,735.0 1505.5,733.7 1506.0,732.1 1506.5,735.0 1507.0,734.6 1507.5,734.0 1508.0,733.2 1508.5,736.3 1509.0,734.7 1509.5,734.7 1510.0,733.7 1510.5,733.9 1511.0,734.9 1511.5,733.4 1512.0,735.9 1512.5,734.3 1513.0,736.0 1513.5,734.9 1514.0,734.0 1514.5,736.8 1515.0,734.8 1515.5,734.3 1516.0,735.8 1516.5,735.2 1517.0,734.9 1517.5,732.9 1518.0,733.2 1518.5,735.8 1519.0,734.4 1519.5,735.4 1520.0,734.0 1520.5,735.2 1521.0,733.1 1521.5,734.7 1522.0,736.4 1522.5,735.2 1523.0,734.6 1523.5,734.8 1524.0,735.0 1524.5,736.8 1525.0,735.1 1525.5,735.4 1526.0,734.5 1526.5,735.5 1527.0,735.4 1527.5,734.3 1528.0,733.3 1528.5,734.8 1529.0,736.2 1529.5,734.4 1530.0,734.6 1530.5,736.2 1531.0,734.9 1531.5,733.1 1532.0,736.7 1532.5,735.1 1533.0,734.5 1533.5,734.8 1534.0,735.5 1534.5,734.5 1535.0,736.8 1535.5,735.5 1536.0,735.7 1536.5,735.3 1537.0,734.5 1537.5,735.2 1538.0,736.8 1538.5,734.6 1539.0,734.9 1539.5,735.4 1540.0,734.3 1540.5,735.9 1541.0,733.8 1541.5,735.4 1542.0,734.0 1542.5,734.7 1543.0,734.7 1543.5,737.7 1544.0,734.5 1544.5,736.1 1545.0,735.5 1545.5,734.3 1546.0,735.9 1546.5,735.0 1547.0,733.4 1547.5,733.3 1548.0,735.2 1548.5,735.2 1549.0,733.4 1549.5,735.1 1550.0,734.7 1550.5,735.5 1551.0,734.3 1551.5,735.1 1552.0,734.9 1552.5,735.6 1553.0,736.0 1553.5,737.0 1554.0,733.5 1554.5,735.2 1555.0,734.1 1555.5,733.8 1556.0,733.2 1556.5,734.4 1557.0,734.9 1557.5,734.6 1558.0,735.1 1558.5,735.1 1559.0,735.3 1559.5,734.9 1560.0,735.2 1560.5,735.0 1561.0,734.4 1561.5,733.5 1562.0,733.3 1562.5,735.2 1563.0,733.8 1563.5,735.5 1564.0,734.3 1564.5,734.0 1565.0,734.5 1565.5,734.9 1566.0,736.4 1566.5,734.3 1567.0,734.2 1567.5,735.1 1568.0,735.7 1568.5,734.6 1569.0,734.2 1569.5,735.2 1570.0,735.0 1570.5,735.1 1571.0,733.3 1571.5,735.3 1572.0,734.8 1572.5,735.7 1573.0,734.4 1573.5,735.1 1574.0,734.4 1574.5,736.7 1575.0,733.2 1575.5,733.7 1576.0,733.8 1576.5,731.6 1577.0,734.0 1577.5,736.2 1578.0,735.3 1578.5,735.6 1579.0,734.4 1579.5,733.9 1580.0,734.3 1580.5,733.2 1581.0,732.8 1581.5,735.5 1582.0,734.4 1582.5,735.8 1583.0,733.0 1583.5,734.4 1584.0,732.9 1584.5,735.8 1585.0,734.4 1585.5,733.2 1586.0,733.2 1586.5,735.4 1587.0,733.1 1587.5,733.9 1588.0,734.0 1588.5,733.0 1589.0,735.4 1589.5,735.7 1590.0,733.3 1590.5,733.9 1591.0,734.4 1591.5,734.2 1592.0,734.2 1592.5,732.3 1593.0,733.4 1593.5,731.9 1594.0,733.0 1594.5,733.5 1595.0,733.7 1595.5,730.7 1596.0,732.9 1596.5,731.1 1597.0,732.8 1597.5,732.5 1598.0,732.1 1598.5,732.7 1599.0,731.8 1599.5,730.6 1600.0,730.8 1600.5,731.2 1601.0,729.0 1601.5,730.2 1602.0,730.5 1602.5,728.8 1603.0,730.7 1603.5,730.3 1604.0,729.5 1604.5,728.5 1605.0,728.0 1605.5,728.5 1606.0,728.1 1606.5,728.2 1607.0,726.2 1607.5,727.2 1608.0,727.3 1608.5,724.9 1609.0,725.6 1609.5,725.2 1610.0,724.6 1610.5,725.4 1611.0,724.0 1611.5,724.6 1612.0,724.0 1612.5,724.1 1613.0,722.9 1613.5,722.3 1614.0,723.3 1614.5,722.6 1615.0,723.3 1615.5,721.9 1616.0,721.8 1616.5,723.0 1617.0,722.5 1617.5,722.3 1618.0,723.2 1618.5,722.5 1619.0,723.0 1619.5,723.5 1620.0,722.2 1620.5,724.4 1621.0,723.7 1621.5,723.8 1622.0,724.2 1622.5,724.0 1623.0,723.1 1623.5,725.2 1624.0,725.1 1624.5,727.3 1625.0,727.5 1625.5,725.9 1626.0,727.0 1626.5,727.9 1627.0,727.5 1627.5,727.3 1628.0,727.3 1628.5,726.9 1629.0,728.8 1629.5,728.8 1630.0,728.5 1630.5,728.5 1631.0,730.2 1631.5,729.1 1632.0,730.0 1632.5,727.6 1633.0,728.0 1633.5,728.1 1634.0,729.5 1634.5,728.5 1635.0,730.0 1635.5,728.8 1636.0,729.6 1636.5,728.3 1637.0,729.4 1637.5,728.2 1638.0,728.3 1638.5,727.4 1639.0,726.6 1639.5,727.1 1640.0,728.4 1640.5,728.3 1641.0,726.5 1641.5,726.9 1642.0,726.8 1642.5,728.6 1643.0,727.3 1643.5,727.3 1644.0,728.8 1644.5,727.9 1645.0,729.1 1645.5,729.5 1646.0,728.4 1646.5,727.6 1647.0,729.1 1647.5,731.7 1648.0,728.8 1648.5,731.4 1649.0,729.7 1649.5,729.7 1650.0,732.2 1650.5,730.6 1651.0,729.2 1651.5,730.2 1652.0,730.9 1652.5,731.4 1653.0,733.3 1653.5,733.2 1654.0,732.5 1654.5,733.1 1655.0,732.4 1655.5,731.5 1656.0,733.2 1656.5,733.1 1657.0,734.3 1657.5,733.9 1658.0,734.8 1658.5,733.4 1659.0,733.6 1659.5,733.6 1660.0,733.3 1660.5,735.2 1661.0,734.4 1661.5,733.2 1662.0,733.8 1662.5,736.2 1663.0,736.7 1663.5,735.8 1664.0,734.7 1664.5,736.1 1665.0,734.6 1665.5,733.5 1666.0,734.8 1666.5,733.7 1667.0,734.5 1667.5,736.9 1668.0,735.3 1668.5,735.0 1669.0,735.6 1669.5,734.4 1670.0,735.1 1670.5,733.9 1671.0,733.6 1671.5,734.4 1672.0,733.8 1672.5,732.8 1673.0,734.4 1673.5,733.9 1674.0,734.1 1674.5,736.3 1675.0,735.5 1675.5,735.9 1676.0,734.8 1676.5,734.0 1677.0,734.1 1677.5,736.7 1678.0,732.3 1678.5,734.5 1679.0,735.2 1679.5,733.6 1680.0,736.0 1680.5,734.3 1681.0,735.0 1681.5,736.5 1682.0,735.9 1682.5,734.9 1683.0,735.0 1683.5,736.5 1684.0,736.9 1684.5,735.6 1685.0,733.4 1685.5,734.7 1686.0,736.1 1686.5,734.4 1687.0,734.9 1687.5,734.2 1688.0,734.8 1688.5,736.1 1689.0,735.8 1689.5,734.2 1690.0,736.4 1690.5,733.8 1691.0,736.1 1691.5,736.1 1692.0,734.0 1692.5,733.5 1693.0,736.2 1693.5,735.9 1694.0,735.5 1694.5,734.5 1695.0,735.6 1695.5,733.8 1696.0,736.0 1696.5,737.5 1697.0,735.1 1697.5,736.3 1698.0,734.5 1698.5,735.6 1699.0,735.1 1699.5,735.7 1700.0,735.0 1700.5,733.7 1701.0,736.3 1701.5,734.2 1702.0,736.4 1702.5,734.1 1703.0,736.1 1703.5,735.7 1704.0,734.8 1704.5,736.2 1705.0,735.6 1705.5,736.8 1706.0,736.0 1706.5,736.5 1707.0,733.4 1707.5,736.6 1708.0,735.1 1708.5,735.1 1709.0,734.1 1709.5,734.6 1710.0,735.0 1710.5,735.4 1711.0,735.4 1711.5,735.0 1712.0,735.5 1712.5,736.2 1713.0,734.9 1713.5,734.7 1714.0,736.4 1714.5,735.8 1715.0,734.4 1715.5,736.0 1716.0,735.8 1716.5,737.4 1717.0,736.2 1717.5,736.1 1718.0,735.3 1718.5,734.4 1719.0,735.3 1719.5,735.1 1720.0,735.1 1720.5,736.5 1721.0,734.4 1721.5,737.0 1722.0,734.4 1722.5,734.0 1723.0,736.3 1723.5,735.1 1724.0,734.7 1724.5,735.8 1725.0,734.9 1725.5,735.5 1726.0,735.0 1726.5,735.5 1727.0,734.6 1727.5,736.0 1728.0,734.9 1728.5,735.4 1729.0,733.3 1729.5,735.8 1730.0,734.8 1730.5,735.1 1731.0,735.0 1731.5,734.8 1732.0,734.4 1732.5,736.2 1733.0,734.8 1733.5,735.1 1734.0,735.0 1734.5,734.6 1735.0,736.3 1735.5,734.6 1736.0,735.6 1736.5,734.5 1737.0,733.9 1737.5,733.8 1738.0,735.7 1738.5,733.4 1739.0,733.6 1739.5,734.6 1740.0,735.8 1740.5,734.5 1741.0,736.3 1741.5,735.1 1742.0,735.0 1742.5,736.7 1743.0,735.7 1743.5,734.8 1744.0,734.7 1744.5,736.0"/>
<polyline stroke="#3434FF" stroke-width="9.0" points="152.5,586.2 153.0,584.5 153.5,584.6 154.0,585.9 154.5,584.0 155.0,585.2 155.5,585.0 156.0,584.6 156.5,583.8 157.0,582.3 157.5,584.6 158.0,583.5 158.5,585.0 159.0,584.2 159.5,584.3 160.0,586.3 160.5,585.5 161.0,583.8 161.5,585.7 162.0,584.4 162.5,583.4 163.0,584.9 163.5,584.8 164.0,585.8 164.5,585.8 165.0,585.9 165.5,584.1 166.0,584.7 166.5,582.9 167.0,585.1 167.5,584.6 168.0,582.5 168.5,585.4 169.0,585.2 169.5,583.1 170.0,582.4 170.5,584.4 171.0,585.0 171.5,584.6 172.0,586.2 172.5,587.2 173.0,584.9 173.5,584.5 174.0,584.3 174.5,586.9 175.0,584.8 175.5,585.5 176.0,585.7 176.5,585.9 177.0,585.2 177.5,586.8 178.0,585.4 178.5,585.0 179.0,583.7 179.5,584.4 180.0,584.7 180.5,585.9 181.0,584.2 181.5,585.0 182.0,584.6 182.5,581.9 183.0,585.1 183.5,586.6 184.0,583.3 184.5,586.0 185.0,583.5 185.5,584.3 186.0,584.7 186.5,585.8 187.0,584.8 187.5,584.8 188.0,585.8 188.5,585.8 189.0,584.7 189.5,585.3 190.0,586.3 190.5,585.3 191.0,583.7 191.5,584.9 192.0,583.2 192.5,587.2 193.0,585.0 193.5,583.0 194.0,584.3 194.5,585.3 195.0,585.6 195.5,584.6 196.0,584.3 196.5,583.8 197.0,585.7 197.5,586.1 198.0,585.1 198.5,585.0 199.0,584.9 199.5,584.2 200.0,584.3 200.5,585.3 201.0,585.0 201.5,585.2 202.0,583.9 202.5,585.6 203.0,583.6 203.5,586.1 204.0,584.5 204.5,585.0 205.0,584.0 205.5,584.6 206.0,583.9 206.5,584.8 207.0,582.7 207.5,585.9 208.0,584.9 208.5,585.4 209.0,584.5 209.5,585.2 210.0,583.9 210.5,583.6 211.0,584.1 211.5,583.0 212.0,585.4 212.5,584.2 213.0,584.3 213.5,583.6 214.0,585.0 214.5,585.6 215.0,584.0 215.5,585.5 216.0,584.7 216.5,584.5 217.0,582.4 217.5,583.2 218.0,585.4 218.5,585.1 219.0,586.3 219.5,583.2 220.0,584.6 220.5,582.0 221.0,582.6 221.5,582.2 222.0,582.4 222.5,583.5 223.0,584.6 223.5,583.2 224.0,581.5 224.5,584.2 225.0,583.0 225.5,580.9 226.0,584.0 226.5,582.5 227.0,583.2 227.5,581.7 228.0,581.8 228.5,582.8 229.0,580.7 229.5,582.5 230.0,583.5 230.5,583.1 231.0,582.6 231.5,582.3 232.0,582.4 232.5,584.6 233.0,583.4 233.5,583.4 234.0,582.3 234.5,583.8 235.0,584.3 235.5,581.0 236.0,585.4 236.5,584.6 237.0,583.5 237.5,581.8 238.0,586.5 238.5,584.6 239.0,583.3 239.5,582.3 240.0,585.1 240.5,581.9 241.0,583.9 241.5,583.6 242.0,582.6 242.5,583.1 243.0,583.1 243.5,584.9 244.0,584.3 244.5,585.1 245.0,582.8 245.5,585.3 246.0,584.2 246.5,585.2 247.0,583.4 247.5,584.3 248.0,582.7 248.5,584.9 249.0,583.8 249.5,582.9 250.0,583.4 250.5,583.6 251.0,581.4 251.5,583.5 252.0,582.2 252.5,583.2 253.0,583.4 253.5,585.8 254.0,583.6 254.5,581.6 255.0,583.6 255.5,581.7 256.0,581.8 256.5,582.0 257.0,583.8 257.5,584.6 258.0,583.4 258.5,581.1 259.0,582.7 259.5,583.3 260.0,579.5 260.5,581.8 261.0,584.9 261.5,580.5 262.0,580.8 262.5,580.5 263.0,583.3 263.5,582.6 264.0,582.3 264.5,582.7 265.0,580.5 265.5,579.0 266.0,581.5 266.5,578.9 267.0,581.3 267.5,581.0 268.0,580.4 268.5,581.4 269.0,580.2 269.5,578.2 270.0,578.4 270.5,579.8 271.0,578.0 271.5,579.1 272.0,577.8 272.5,578.0 273.0,576.3 273.5,576.7 274.0,574.7 274.5,575.2 275.0,576.1 275.5,574.2 276.0,573.2 276.5,574.5 277.0,573.6 277.5,570.6 278.0,571.2 278.5,570.4 279.0,567.6 279.5,566.3 280.0,565.2 280.5,565.1 281.0,561.2 281.5,558.5 282.0,552.5 282.5,552.2 283.0,548.7 283.5,541.5 284.0,538.0 284.5,531.1 285.0,524.2 285.5,515.1 286.0,506.0 286.5,498.7 287.0,487.0 287.5,472.2 288.0,459.1 288.5,448.5 289.0,435.7 289.5,422.9 290.0,411.0 290.5,402.7 291.0,389.9 291.5,387.1 292.0,387.1 292.5,388.5 293.0,393.4 293.5,399.8 294.0,412.5 294.5,423.2 295.0,435.6 295.5,448.0 296.0,458.7 296.5,472.0 297.0,483.0 297.5,495.4 298.0,503.8 298.5,514.6 299.0,522.2 299.5,530.2 300.0,534.3 300.5,541.1 301.0,547.4 301.5,552.3 302.0,553.8 302.5,559.0 303.0,563.7 303.5,563.1 304.0,564.3 304.5,564.8 305.0,566.5 305.5,569.0 306.0,570.4 306.5,572.3 307.0,574.6 307.5,572.4 308.0,574.4 308.5,576.4 309.0,576.0 309.5,576.2 310.0,576.6 310.5,575.5 311.0,575.8 311.5,578.6 312.0,579.6 312.5,579.6 313.0,579.9 313.5,580.9 314.0,581.0 314.5,579.2 315.0,580.2 315.5,577.6 316.0,581.5 316.5,580.7 317.0,580.9 317.5,582.0 318.0,579.6 318.5,581.4 319.0,580.5 319.5,583.3 320.0,580.3 320.5,581.2 321.0,582.4 321.5,583.9 322.0,582.2 322.5,580.7 323.0,581.6 323.5,582.9 324.0,583.2 324.5,581.3 325.0,584.0 325.5,581.9 326.0,581.9 326.5,582.8 327.0,581.8 327.5,581.8 328.0,583.0 328.5,580.6 329.0,582.9 329.5,582.1 330.0,583.8 330.5,582.5 331.0,584.5 331.5,584.0 332.0,584.2 332.5,583.9 333.0,582.8 333.5,584.2 334.0,584.5 334.5,584.0 335.0,584.3 335.5,584.3 336.0,583.7 336.5,583.5 337.0,584.2 337.5,584.3 338.0,584.8 338.5,585.5 339.0,583.9 339.5,583.8 340.0,586.4 340.5,584.3 341.0,584.3 341.5,583.5 342.0,584.8 342.5,582.0 343.0,583.6 343.5,584.2 344.0,583.7 344.5,584.8 345.0,585.8 345.5,585.0 346.0,584.2 346.5,582.0 347.0,583.7 347.5,586.0 348.0,586.3 348.5,585.3 349.0,585.6 349.5,585.6 350.0,583.1 350.5,584.3 351.0,584.1 351.5,585.4 352.0,585.9 352.5,584.8 353.0,586.8 353.5,584.6 354.0,584.2 354.5,584.2 355.0,582.6 355.5,585.6 356.0,584.3 356.5,585.6 357.0,585.4 357.5,585.5 358.0,583.1 358.5,584.5 359.0,584.6 359.5,585.3 360.0,583.8 360.5,583.8 361.0,586.2 361.5,583.4 362.0,585.2 362.5,583.8 363.0,585.9 363.5,584.5 364.0,584.6 364.5,584.0 365.0,582.9 365.5,587.0 366.0,585.0 366.5,586.7 367.0,585.8 367.5,584.0 368.0,584.5 368.5,585.7 369.0,585.2 369.5,584.4 370.0,585.6 370.5,586.1 371.0,586.5 371.5,587.0 372.0,585.3 372.5,584.8 373.0,584.9 373.5,582.5 374.0,586.7 374.5,587.1 375.0,581.2 375.5,585.4 376.0,584.7 376.5,585.0 377.0,583.3 377.5,585.1 378.0,583.0 378.5,586.0 379.0,586.3 379.5,586.6 380.0,583.4 380.5,584.0 381.0,584.6 381.5,586.8 382.0,585.1 382.5,587.0 383.0,585.5 383.5,586.0 384.0,583.7 384.5,583.5 385.0,584.4 385.5,584.0 386.0,583.7 386.5,585.9 387.0,587.1 387.5,584.5 388.0,585.2 388.5,586.9 389.0,585.5 389.5,586.2 390.0,586.2 390.5,586.8 391.0,586.7 391.5,585.8 392.0,584.4 392.5,586.7 393.0,584.3 393.5,585.7 394.0,586.0 394.5,588.7 395.0,586.3 395.5,586.1 396.0,585.2 396.5,585.4 397.0,583.9 397.5,583.1 398.0,585.4 398.5,585.8 399.0,585.1 399.5,585.3 400.0,585.3 400.5,587.6 401.0,584.9 401.5,587.7 402.0,584.8 402.5,585.4 403.0,585.6 403.5,586.3 404.0,587.3 404.5,586.8 405.0,586.9 405.5,586.0 406.0,585.7 406.5,585.6 407.0,584.4 407.5,588.1 408.0,585.6 408.5,584.9 409.0,584.4 409.5,585.4 410.0,584.5 410.5,586.8 411.0,587.0 411.5,585.0 412.0,587.1 412.5,586.6 413.0,586.1 413.5,586.1 414.0,585.4 414.5,586.8 415.0,583.9 415.5,586.6 416.0,585.7 416.5,583.2 417.0,585.4 417.5,585.9 418.0,586.5 418.5,585.9 419.0,584.7 419.5,586.0 420.0,585.9 420.5,582.1 421.0,584.5 421.5,585.3 422.0,585.0 422.5,585.9 423.0,588.0 423.5,585.8 424.0,585.2 424.5,585.7 425.0,584.7 425.5,585.1 426.0,584.9 426.5,586.4 427.0,585.1 427.5,585.9 428.0,586.1 428.5,584.6 429.0,586.4 429.5,587.5 430.0,585.5 430.5,586.1 431.0,587.0 431.5,587.3 432.0,586.1 432.5,585.6 433.0,586.4 433.5,584.6 434.0,584.9 434.5,585.2 435.0,586.3 435.5,584.6 436.0,586.1 436.5,584.0 437.0,584.7 437.5,584.8 438.0,586.4 438.5,587.8 439.0,584.1 439.5,586.1 440.0,585.7 440.5,586.3 441.0,585.2 441.5,586.8 442.0,583.5 442.5,586.9 443.0,587.4 443.5,584.9 444.0,586.0 444.5,584.6 445.0,585.5 445.5,585.5 446.0,582.9 446.5,586.8 447.0,586.6 447.5,587.9 448.0,585.8 448.5,586.0 449.0,587.2 449.5,583.8 450.0,586.5 450.5,585.5 451.0,588.0 451.5,585.7 452.0,587.0 452.5,585.4 453.0,582.3 453.5,587.5 454.0,587.1 454.5,587.1 455.0,585.6 455.5,587.3 456.0,584.9 456.5,585.1 457.0,587.0 457.5,586.9 458.0,588.0 458.5,585.2 459.0,586.5 459.5,586.6 460.0,587.2 460.5,584.8 461.0,586.1 461.5,585.6 462.0,586.6 462.5,589.3 463.0,586.9 463.5,587.8 464.0,586.8 464.5,585.7 465.0,586.4 465.5,586.1 466.0,585.9 466.5,587.0 467.0,586.7 467.5,585.1 468.0,583.7 468.5,585.5 469.0,586.6 469.5,587.6 470.0,586.3 470.5,586.7 471.0,587.3 471.5,587.4 472.0,585.3 472.5,585.9 473.0,586.9 473.5,585.5 474.0,585.1 474.5,585.8 475.0,586.2 475.5,587.3 476.0,585.6 476.5,585.2 477.0,585.7 477.5,587.1 478.0,584.2 478.5,586.6 479.0,587.3 479.5,585.8 480.0,585.6 480.5,584.9 481.0,585.2 481.5,586.1 482.0,587.6 482.5,586.8 483.0,585.8 483.5,584.6 484.0,584.9 484.5,587.4 485.0,584.7 485.5,587.3 486.0,586.4 486.5,587.3 487.0,586.6 487.5,585.6 488.0,586.2 488.5,585.8 489.0,584.8 489.5,586.0 490.0,586.1 490.5,585.0 491.0,585.9 491.5,587.0 492.0,586.2 492.5,584.9 493.0,587.9 493.5,585.4 494.0,587.5 494.5,586.6 495.0,587.4 495.5,586.5 496.0,585.0 496.5,587.6 497.0,585.4 497.5,584.6 498.0,584.6 498.5,586.7 499.0,585.7 499.5,585.7 500.0,584.6 500.5,588.3 501.0,587.0 501.5,587.4 502.0,586.5 502.5,587.6 503.0,585.7 503.5,587.8 504.0,586.2 504.5,585.8 505.0,587.2 505.5,586.8 506.0,586.7 506.5,584.6 507.0,585.3 507.5,584.9 508.0,585.4 508.5,586.4 509.0,585.2 509.5,586.3 510.0,585.1 510.5,585.9 511.0,586.9 511.5,587.6 512.0,588.4 512.5,586.6 513.0,586.7 513.5,588.0 514.0,584.6 514.5,585.2 515.0,587.4 515.5,587.5 516.0,588.5 516.5,588.3 517.0,588.1 517.5,587.3 518.0,586.5 518.5,587.7 519.0,584.4 519.5,586.2 520.0,584.7 520.5,586.1 521.0,583.2 521.5,586.8 522.0,586.3 522.5,587.5 523.0,584.6 523.5,585.9 524.0,587.3 524.5,584.4 525.0,586.1 525.5,583.9 526.0,588.4 526.5,585.2 527.0,586.3 527.5,586.6 528.0,584.2 528.5,585.6 529.0,584.4 529.5,586.8 530.0,587.8 530.5,583.6 531.0,586.1 531.5,584.6 532.0,586.6 532.5,586.8 533.0,587.2 533.5,586.9 534.0,584.4 534.5,584.7 535.0,586.1 535.5,586.9 536.0,585.3 536.5,585.7 537.0,586.7 537.5,586.3 538.0,587.3 538.5,584.9 539.0,586.7 539.5,586.3 540.0,586.3 540.5,586.0 541.0,585.6 541.5,587.6 542.0,585.5 542.5,586.6 543.0,586.3 543.5,585.4 544.0,586.5 544.5,586.5 545.0,587.9 545.5,585.3 546.0,586.8 546.5,586.7 547.0,587.2 547.5,585.4 548.0,586.5 548.5,584.8 549.0,586.5 549.5,587.4 550.0,587.8 550.5,583.7 551.0,585.7 551.5,586.5 552.0,584.1 552.5,588.9 553.0,586.5 553.5,584.2 554.0,589.6 554.5,586.6 555.0,583.9 555.5,585.1 556.0,585.3 556.5,586.0 557.0,587.9 557.5,585.3 558.0,585.5 558.5,586.1 559.0,586.7 559.5,586.3 560.0,584.5 560.5,587.0 561.0,585.0 561.5,585.1 562.0,588.7 562.5,584.0 563.0,585.9 563.5,584.8 564.0,586.7 564.5,586.4 565.0,584.9 565.5,585.4 566.0,585.3 566.5,586.5 567.0,584.0 567.5,586.2 568.0,586.2 568.5,585.8 569.0,585.3 569.5,586.6 570.0,586.4 570.5,586.0 571.0,585.8 571.5,586.5 572.0,586.4 572.5,584.5 573.0,584.3 573.5,585.2 574.0,584.8 574.5,584.9 575.0,585.3 575.5,587.0 576.0,585.5 576.5,585.6 577.0,586.3 577.5,584.6 578.0,584.9 578.5,583.1 579.0,584.1 579.5,585.7 580.0,584.5 580.5,584.5 581.0,586.5 581.5,586.6 582.0,584.8 582.5,583.5 583.0,583.0 583.5,584.2 584.0,582.9 584.5,583.9 585.0,583.2 585.5,583.5 586.0,583.1 586.5,584.6 587.0,583.0 587.5,584.8 588.0,582.3 588.5,584.4 589.0,581.3 589.5,582.5 590.0,581.6 590.5,580.5 591.0,583.7 591.5,581.4 592.0,579.9 592.5,579.0 593.0,581.1 593.5,580.9 594.0,580.1 594.5,578.9 595.0,578.8 595.5,577.7 596.0,578.2 596.5,578.1 597.0,579.0 597.5,578.9 598.0,576.6 598.5,575.4 599.0,579.4 599.5,577.3 600.0,576.1 600.5,577.0 601.0,575.7 601.5,576.0 602.0,573.7 602.5,575.8 603.0,578.0 603.5,577.1 604.0,575.9 604.5,576.2 605.0,576.9 605.5,577.4 606.0,575.4 606.5,576.0 607.0,576.6 607.5,577.4 608.0,576.2 608.5,577.1 609.0,577.6 609.5,576.8 610.0,577.4 610.5,578.2 611.0,575.6 611.5,577.1 612.0,577.2 612.5,579.1 613.0,574.6 613.5,575.7 614.0,574.7 614.5,575.0 615.0,576.2 615.5,574.4 616.0,575.0 616.5,574.7 617.0,574.0 617.5,574.6 618.0,573.5 618.5,571.5 619.0,571.2 619.5,571.2 620.0,569.3 620.5,569.5 621.0,568.0 621.5,566.4 622.0,565.5 622.5,563.6 623.0,563.9 623.5,561.8 624.0,560.4 624.5,559.7 625.0,561.3 625.5,559.1 626.0,556.1 626.5,554.7 627.0,555.8 627.5,553.3 628.0,555.2 628.5,552.8 629.0,554.7 629.5,555.8 630.0,553.5 630.5,555.0 631.0,555.7 631.5,558.3 632.0,559.2 632.5,556.6 633.0,560.0 633.5,560.8 634.0,561.1 634.5,562.5 635.0,561.8 635.5,563.1 636.0,565.0 636.5,564.6 637.0,567.3 637.5,568.0 638.0,570.2 638.5,568.0 639.0,571.3 639.5,570.8 640.0,571.2 640.5,571.3 641.0,571.6 641.5,571.1 642.0,571.0 642.5,573.6 643.0,569.8 643.5,573.5 644.0,572.8 644.5,572.7 645.0,573.7 645.5,572.6 646.0,572.9 646.5,573.4 647.0,572.6 647.5,574.0 648.0,574.1 648.5,573.2 649.0,574.1 649.5,573.0 650.0,574.7 650.5,574.9 651.0,573.7 651.5,575.7 652.0,576.8 652.5,575.7 653.0,575.9 653.5,577.8 654.0,577.7 654.5,577.8 655.0,579.5 655.5,578.9 656.0,580.5 656.5,582.0 657.0,581.7 657.5,581.9 658.0,581.0 658.5,584.0 659.0,582.6 659.5,585.1 660.0,582.9 660.5,583.9 661.0,582.7 661.5,584.7 662.0,583.0 662.5,584.8 663.0,586.7 663.5,585.9 664.0,583.8 664.5,586.4 665.0,584.2 665.5,585.2 666.0,585.1 666.5,585.3 667.0,585.8 667.5,583.3 668.0,587.1 668.5,585.9 669.0,584.9 669.5,586.5 670.0,587.8 670.5,585.1 671.0,587.0 671.5,586.2 672.0,586.5 672.5,585.8 673.0,586.5 673.5,587.1 674.0,584.8 674.5,585.7 675.0,586.0 675.5,585.9 676.0,584.7 676.5,586.0 677.0,585.3 677.5,587.1 678.0,586.7 678.5,586.9 679.0,587.1 679.5,586.2 680.0,585.7 680.5,587.5 681.0,586.3 681.5,586.1 682.0,588.6 682.5,585.2 683.0,587.8 683.5,588.4 684.0,586.5 684.5,586.3 685.0,587.4 685.5,586.1 686.0,584.8 686.5,588.2 687.0,588.8 687.5,585.6 688.0,587.8 688.5,587.3 689.0,587.0 689.5,587.9 690.0,586.6 690.5,586.8 691.0,587.3 691.5,587.5 692.0,584.5 692.5,588.5 693.0,587.8 693.5,588.4 694.0,587.0 694.5,586.0 695.0,587.8 695.5,587.7 696.0,588.2 696.5,587.9 697.0,586.1 697.5,585.8 698.0,586.8 698.5,587.4 699.0,586.9 699.5,586.3 700.0,587.0 700.5,584.8 701.0,586.6 701.5,584.2 702.0,588.4 702.5,584.5 703.0,588.4 703.5,587.3 704.0,587.4 704.5,587.0 705.0,585.6 705.5,586.0 706.0,587.6 706.5,584.6 707.0,585.5 707.5,586.7 708.0,584.9 708.5,587.5 709.0,584.3 709.5,584.8 710.0,585.8 710.5,584.9 711.0,585.5 711.5,585.8 712.0,585.7 712.5,586.4 713.0,586.6 713.5,586.6 714.0,586.6 714.5,586.5 715.0,587.0 715.5,587.1 716.0,587.7 716.5,588.7 717.0,586.3 717.5,589.1 718.0,588.2 718.5,588.4 719.0,586.8 719.5,587.7 720.0,587.8 720.5,587.2 721.0,588.4 721.5,586.3 722.0,586.7 722.5,588.6 723.0,588.2 723.5,585.9 724.0,588.2 724.5,587.9 725.0,588.7 725.5,587.7 726.0,587.8 726.5,586.6 727.0,587.6 727.5,587.3 728.0,588.3 728.5,585.5 729.0,587.7 729.5,589.0 730.0,584.7 730.5,588.5 731.0,588.2 731.5,587.9 732.0,588.2 732.5,587.0 733.0,588.7 733.5,588.1 734.0,585.8 734.5,588.5 735.0,586.5 735.5,586.7 736.0,588.2 736.5,587.4 737.0,588.0 737.5,588.1 738.0,587.7 738.5,588.3 739.0,586.1 739.5,589.7 740.0,588.8 740.5,587.1 741.0,587.6 741.5,589.5 742.0,586.9 742.5,586.1 743.0,590.2 743.5,589.4 744.0,588.4 744.5,589.8 745.0,588.5 745.5,588.8 746.0,588.6 746.5,588.8 747.0,586.9 747.5,588.1 748.0,588.4 748.5,586.9 749.0,586.6 749.5,588.0 750.0,589.8 750.5,587.9 751.0,589.2 751.5,589.4 752.0,589.6 752.5,588.8 753.0,586.2 753.5,585.7 754.0,586.9 754.5,587.8 755.0,588.0 755.5,587.6 756.0,587.7 756.5,588.8 757.0,586.8 757.5,588.8 758.0,588.8 758.5,586.2 759.0,588.3 759.5,588.1 760.0,588.7 760.5,588.7 761.0,585.8 761.5,590.3 762.0,588.3 762.5,589.2 763.0,589.2 763.5,587.1 764.0,588.1 764.5,588.0 765.0,590.6 765.5,586.7 766.0,589.9 766.5,589.2 767.0,588.1 767.5,587.0 768.0,588.0 768.5,588.9 769.0,587.2 769.5,588.4 770.0,588.9 770.5,589.0 771.0,587.8 771.5,588.9 772.0,589.0 772.5,586.0 773.0,586.9 773.5,586.6 774.0,587.4 774.5,589.0 775.0,588.7 775.5,588.6 776.0,587.6 776.5,589.3 777.0,586.4 777.5,586.6 778.0,589.0 778.5,587.9 779.0,589.4 779.5,589.1 780.0,589.2 780.5,587.3 781.0,587.6 781.5,586.4 782.0,588.2 782.5,588.2 783.0,587.6 783.5,587.9 784.0,588.4 784.5,589.2 785.0,587.6 785.5,587.5 786.0,588.1 786.5,588.8 787.0,590.3 787.5,589.3 788.0,585.5 788.5,586.3 789.0,587.3 789.5,585.3 790.0,589.0 790.5,587.2 791.0,586.7 791.5,588.0 792.0,588.5 792.5,587.8 793.0,588.1 793.5,589.2 794.0,587.0 794.5,588.1 795.0,586.1 795.5,586.8 796.0,589.3 796.5,587.3 797.0,587.0 797.5,589.0 798.0,587.6 798.5,589.2 799.0,590.3 799.5,590.6 800.0,587.9 800.5,588.5 801.0,587.5 801.5,590.1 802.0,588.8 802.5,591.3 803.0,587.6 803.5,588.1 804.0,585.0 804.5,587.4 805.0,587.4 805.5,588.7 806.0,589.2 806.5,587.3 807.0,588.0 807.5,588.8 808.0,588.1 808.5,588.9 809.0,589.9 809.5,587.5 810.0,588.5 810.5,589.4 811.0,588.2 811.5,589.9 812.0,587.8 812.5,589.4 813.0,588.4 813.5,588.8 814.0,587.4 814.5,589.4 815.0,586.9 815.5,589.3 816.0,588.2 816.5,588.5 817.0,589.6 817.5,586.7 818.0,589.0 818.5,588.6 819.0,587.6 819.5,589.1 820.0,588.2 820.5,590.3 821.0,587.7 821.5,589.9 822.0,589.7 822.5,588.6 823.0,587.5 823.5,588.2 824.0,586.8 824.5,587.4 825.0,587.5 825.5,588.6 826.0,586.6 826.5,588.7 827.0,587.7 827.5,589.2 828.0,588.8 828.5,587.5 829.0,588.4 829.5,588.4 830.0,587.6 830.5,587.9 831.0,588.0 831.5,587.1 832.0,586.8 832.5,588.4 833.0,586.2 833.5,588.7 834.0,589.0 834.5,587.7 835.0,588.6 835.5,587.3 836.0,588.9 836.5,591.5 837.0,588.7 837.5,588.1 838.0,588.1 838.5,586.6 839.0,587.3 839.5,587.8 840.0,587.4 840.5,588.2 841.0,589.5 841.5,586.5 842.0,587.4 842.5,588.2 843.0,586.8 843.5,587.0 844.0,588.6 844.5,588.7 845.0,588.4 845.5,586.9 846.0,588.6 846.5,588.9 847.0,587.5 847.5,588.0 848.0,587.7 848.5,587.7 849.0,587.4 849.5,588.4 850.0,587.1 850.5,589.8 851.0,588.6 851.5,587.7 852.0,590.3 852.5,588.1 853.0,585.4 853.5,589.1 854.0,588.7 854.5,587.9 855.0,588.0 855.5,587.2 856.0,586.6 856.5,586.7 857.0,590.6 857.5,587.2 858.0,588.0 858.5,589.8 859.0,587.0 859.5,587.7 860.0,587.3 860.5,586.1 861.0,588.3 861.5,588.4 862.0,587.5 862.5,587.5 863.0,588.3 863.5,588.4 864.0,589.8 864.5,588.4 865.0,588.5 865.5,586.9 866.0,586.1 866.5,588.9 867.0,586.6 867.5,588.2 868.0,587.5 868.5,586.5 869.0,587.7 869.5,589.2 870.0,588.8 870.5,586.8 871.0,586.9 871.5,585.0 872.0,585.8 872.5,586.5 873.0,587.0 873.5,587.5 874.0,586.4 874.5,588.2 875.0,585.8 875.5,587.5 876.0,585.6 876.5,586.2 877.0,586.7 877.5,587.2 878.0,585.5 878.5,585.8 879.0,585.8 879.5,586.2 880.0,587.4 880.5,586.4 881.0,585.2 881.5,585.0 882.0,586.5 882.5,586.4 883.0,585.8 883.5,584.4 884.0,583.2 884.5,583.0 885.0,583.5 885.5,581.8 886.0,582.3 886.5,584.2 887.0,581.6 887.5,581.2 888.0,578.2 888.5,579.6 889.0,576.2 889.5,574.8 890.0,572.7 890.5,570.0 891.0,566.2 891.5,563.8 892.0,561.1 892.5,553.7 893.0,549.7 893.5,541.8 894.0,537.1 894.5,529.8 895.0,525.7 895.5,517.9 896.0,514.1 896.5,510.1 897.0,507.0 897.5,508.7 898.0,511.0 898.5,515.9 899.0,520.1 899.5,524.4 900.0,531.6 900.5,538.5 901.0,545.8 901.5,550.3 902.0,556.9 902.5,560.2 903.0,564.9 903.5,569.0 904.0,571.1 904.5,571.6 905.0,576.7 905.5,576.9 906.0,579.4 906.5,576.7 907.0,580.7 907.5,581.4 908.0,581.6 908.5,582.6 909.0,582.1 909.5,582.6 910.0,584.4 910.5,584.0 911.0,585.3 911.5,585.2 912.0,584.3 912.5,585.2 913.0,585.1 913.5,586.1 914.0,587.5 914.5,585.9 915.0,585.5 915.5,588.5 916.0,586.0 916.5,585.6 917.0,586.1 917.5,584.3 918.0,588.3 918.5,587.9 919.0,588.0 919.5,587.5 920.0,586.8 920.5,586.5 921.0,586.2 921.5,587.9 922.0,588.2 922.5,588.1 923.0,586.2 923.5,589.4 924.0,586.5 924.5,587.4 925.0,587.4 925.5,586.9 926.0,585.1 926.5,586.2 927.0,586.9 927.5,588.7 928.0,587.1 928.5,588.0 929.0,586.3 929.5,587.3 930.0,589.0 930.5,589.7 931.0,588.1 931.5,588.4 932.0,587.9 932.5,587.6 933.0,587.9 933.5,588.9 934.0,587.1 934.5,586.6 935.0,588.5 935.5,587.2 936.0,588.3 936.5,586.8 937.0,588.2 937.5,587.4 938.0,587.3 938.5,588.7 939.0,587.3 939.5,585.4 940.0,586.6 940.5,587.7 941.0,589.7 941.5,587.6 942.0,586.7 942.5,587.4 943.0,589.1 943.5,588.4 944.0,588.6 944.5,588.6 945.0,589.7 945.5,586.7 946.0,589.5 946.5,588.7 947.0,587.1 947.5,588.9 948.0,589.6 948.5,587.9 949.0,589.2 949.5,585.9 950.0,586.5 950.5,588.7 951.0,588.2 951.5,588.9 952.0,588.7 952.5,589.1 953.0,586.6 953.5,586.6 954.0,589.4 954.5,588.6 955.0,588.3 955.5,588.1 956.0,590.0 956.5,587.5 957.0,588.7 957.5,589.8 958.0,587.7 958.5,587.6 959.0,587.9 959.5,586.1 960.0,589.5 960.5,589.3 961.0,590.3 961.5,588.3 962.0,588.8 962.5,589.1 963.0,590.1 963.5,588.7 964.0,588.9 964.5,587.6 965.0,588.7 965.5,588.4 966.0,589.5 966.5,589.2 967.0,587.1 967.5,587.2 968.0,588.7 968.5,587.9 969.0,588.6 969.5,589.5 970.0,587.0 970.5,588.7 971.0,587.2 971.5,588.2 972.0,588.1 972.5,587.0 973.0,585.7 973.5,587.7 974.0,586.8 974.5,588.2 975.0,588.1 975.5,588.9 976.0,588.4 976.5,585.7 977.0,585.8 977.5,586.6 978.0,587.3 978.5,587.6 979.0,586.5 979.5,587.5 980.0,586.1 980.5,588.2 981.0,586.4 981.5,586.3 982.0,586.3 982.5,586.8 983.0,588.3 983.5,587.0 984.0,587.8 984.5,586.1 985.0,587.6 985.5,587.8 986.0,588.2 986.5,586.2 987.0,586.3 987.5,587.4 988.0,588.1 988.5,586.6 989.0,587.8 989.5,589.4 990.0,585.7 990.5,586.5 991.0,587.7 991.5,588.4 992.0,587.9 992.5,588.6 993.0,589.5 993.5,587.6 994.0,587.2 994.5,589.6 995.0,586.3 995.5,589.0 996.0,589.5 996.5,588.5 997.0,587.5 997.5,588.3 998.0,587.5 998.5,590.3 999.0,588.8 999.5,588.2 1000.0,588.6 1000.5,588.7 1001.0,589.2 1001.5,588.5 1002.0,587.3 1002.5,587.8 1003.0,586.9 1003.5,586.6 1004.0,588.3 1004.5,587.5 1005.0,587.9 1005.5,588.7 1006.0,589.0 1006.5,588.1 1007.0,587.4 1007.5,588.7 1008.0,587.1 1008.5,589.6 1009.0,587.5 1009.5,589.2 1010.0,586.8 1010.5,588.8 1011.0,588.4 1011.5,587.7 1012.0,589.0 1012.5,588.4 1013.0,587.9 1013.5,587.7 1014.0,588.3 1014.5,587.9 1015.0,586.9 1015.5,587.0 1016.0,587.5 1016.5,586.4 1017.0,585.5 1017.5,588.5 1018.0,587.0 1018.5,590.0 1019.0,587.7 1019.5,588.3 1020.0,588.3 1020.5,587.5 1021.0,587.0 1021.5,585.6 1022.0,586.1 1022.5,585.8 1023.0,585.6 1023.5,585.5 1024.0,587.3 1024.5,584.9 1025.0,588.6 1025.5,586.0 1026.0,587.2 1026.5,587.0 1027.0,587.1 1027.5,586.4 1028.0,586.2 1028.5,586.4 1029.0,587.1 1029.5,586.8 1030.0,586.1 1030.5,584.2 1031.0,584.7 1031.5,585.5 1032.0,586.5 1032.5,586.6 1033.0,584.2 1033.5,585.0 1034.0,583.8 1034.5,583.1 1035.0,583.9 1035.5,584.2 1036.0,583.5 1036.5,580.4 1037.0,583.7 1037.5,579.9 1038.0,582.8 1038.5,582.8 1039.0,584.2 1039.5,578.8 1040.0,579.3 1040.5,579.4 1041.0,579.2 1041.5,577.7 1042.0,578.8 1042.5,576.5 1043.0,576.3 1043.5,575.6 1044.0,575.8 1044.5,574.8 1045.0,571.9 1045.5,573.8 1046.0,571.1 1046.5,570.4 1047.0,569.9 1047.5,569.8 1048.0,569.9 1048.5,569.2 1049.0,566.3 1049.5,567.2 1050.0,567.8 1050.5,567.1 1051.0,565.8 1051.5,564.3 1052.0,565.4 1052.5,564.1 1053.0,562.6 1053.5,561.2 1054.0,564.3 1054.5,565.0 1055.0,565.9 1055.5,565.3 1056.0,564.6 1056.5,564.2 1057.0,564.9 1057.5,565.8 1058.0,564.3 1058.5,566.2 1059.0,566.1 1059.5,567.9 1060.0,568.4 1060.5,566.0 1061.0,567.3 1061.5,569.6 1062.0,570.9 1062.5,570.0 1063.0,571.7 1063.5,572.2 1064.0,572.3 1064.5,572.8 1065.0,574.4 1065.5,575.9 1066.0,574.5 1066.5,576.3 1067.0,576.4 1067.5,576.1 1068.0,576.5 1068.5,576.5 1069.0,578.0 1069.5,578.8 1070.0,578.1 1070.5,576.7 1071.0,578.9 1071.5,578.8 1072.0,578.5 1072.5,580.1 1073.0,577.9 1073.5,578.2 1074.0,578.4 1074.5,579.4 1075.0,576.1 1075.5,576.8 1076.0,573.8 1076.5,574.0 1077.0,573.2 1077.5,570.8 1078.0,571.2 1078.5,569.1 1079.0,566.1 1079.5,564.9 1080.0,561.8 1080.5,559.9 1081.0,557.5 1081.5,556.7 1082.0,551.8 1082.5,551.2 1083.0,549.8 1083.5,547.1 1084.0,546.5 1084.5,547.6 1085.0,544.4 1085.5,545.1 1086.0,548.3 1086.5,549.5 1087.0,553.3 1087.5,553.5 1088.0,556.8 1088.5,560.0 1089.0,559.6 1089.5,565.9 1090.0,566.8 1090.5,568.0 1091.0,570.4 1091.5,572.4 1092.0,576.1 1092.5,575.2 1093.0,579.0 1093.5,578.1 1094.0,580.3 1094.5,580.3 1095.0,581.5 1095.5,583.3 1096.0,582.7 1096.5,582.7 1097.0,584.8 1097.5,586.3 1098.0,584.3 1098.5,584.5 1099.0,584.5 1099.5,583.8 1100.0,584.7 1100.5,586.0 1101.0,585.1 1101.5,586.3 1102.0,586.3 1102.5,586.9 1103.0,587.9 1103.5,586.4 1104.0,585.1 1104.5,586.9 1105.0,587.3 1105.5,588.7 1106.0,586.9 1106.5,586.2 1107.0,586.0 1107.5,587.7 1108.0,586.9 1108.5,588.3 1109.0,588.7 1109.5,587.3 1110.0,588.0 1110.5,587.5 1111.0,588.1 1111.5,586.0 1112.0,586.6 1112.5,589.3 1113.0,586.0 1113.5,586.5 1114.0,588.3 1114.5,586.7 1115.0,587.3 1115.5,586.8 1116.0,589.4 1116.5,587.7 1117.0,589.6 1117.5,588.1 1118.0,586.2 1118.5,588.1 1119.0,586.0 1119.5,589.0 1120.0,585.6 1120.5,589.2 1121.0,588.6 1121.5,589.7 1122.0,588.6 1122.5,588.4 1123.0,587.7 1123.5,587.5 1124.0,587.4 1124.5,587.8 1125.0,587.9 1125.5,590.7 1126.0,588.7 1126.5,587.3 1127.0,589.7 1127.5,588.4 1128.0,587.5 1128.5,588.4 1129.0,587.6 1129.5,588.9 1130.0,588.0 1130.5,589.5 1131.0,587.0 1131.5,588.6 1132.0,586.9 1132.5,590.4 1133.0,587.1 1133.5,590.5 1134.0,588.1 1134.5,589.5 1135.0,587.5 1135.5,588.1 1136.0,590.0 1136.5,587.0 1137.0,589.1 1137.5,586.7 1138.0,590.7 1138.5,589.6 1139.0,586.5 1139.5,588.1 1140.0,589.7 1140.5,591.0 1141.0,588.4 1141.5,586.5 1142.0,589.9 1142.5,587.7 1143.0,588.5 1143.5,588.0 1144.0,587.0 1144.5,586.1 1145.0,590.2 1145.5,588.7 1146.0,588.6 1146.5,587.9 1147.0,588.9 1147.5,587.3 1148.0,587.3 1148.5,587.0 1149.0,586.9 1149.5,588.8 1150.0,586.8 1150.5,590.6 1151.0,588.4 1151.5,588.0 1152.0,588.2 1152.5,590.2 1153.0,586.0 1153.5,588.5 1154.0,590.5 1154.5,589.7 1155.0,588.9 1155.5,588.1 1156.0,591.1 1156.5,588.1 1157.0,590.7 1157.5,587.5 1158.0,586.9 1158.5,588.6 1159.0,588.1 1159.5,585.9 1160.0,588.5 1160.5,591.3 1161.0,588.4 1161.5,589.1 1162.0,588.6 1162.5,588.6 1163.0,588.9 1163.5,588.8 1164.0,588.7 1164.5,589.1 1165.0,589.1 1165.5,588.8 1166.0,587.0 1166.5,587.7 1167.0,587.4 1167.5,588.4 1168.0,590.4 1168.5,589.0 1169.0,588.2 1169.5,590.9 1170.0,589.6 1170.5,588.0 1171.0,589.3 1171.5,589.9 1172.0,589.8 1172.5,588.1 1173.0,589.0 1173.5,588.1 1174.0,587.3 1174.5,589.4 1175.0,586.6 1175.5,588.6 1176.0,589.9 1176.5,589.5 1177.0,588.8 1177.5,589.3 1178.0,589.0 1178.5,590.3 1179.0,589.5 1179.5,589.7 1180.0,588.2 1180.5,588.8 1181.0,588.4 1181.5,590.1 1182.0,589.9 1182.5,589.1 1183.0,589.9 1183.5,589.1 1184.0,588.8 1184.5,589.7 1185.0,589.4 1185.5,591.6 1186.0,587.7 1186.5,590.2 1187.0,588.1 1187.5,590.0 1188.0,588.0 1188.5,587.2 1189.0,590.8 1189.5,588.9 1190.0,590.9 1190.5,588.4 1191.0,588.3 1191.5,590.5 1192.0,588.5 1192.5,589.2 1193.0,588.2 1193.5,588.9 1194.0,586.8 1194.5,588.7 1195.0,589.0 1195.5,590.2 1196.0,590.2 1196.5,589.1 1197.0,589.3 1197.5,589.1 1198.0,591.5 1198.5,588.4 1199.0,590.1 1199.5,589.3 1200.0,587.8 1200.5,589.8 1201.0,590.5 1201.5,589.6 1202.0,588.0 1202.5,589.9 1203.0,590.0 1203.5,588.8 1204.0,590.3 1204.5,587.5 1205.0,587.9 1205.5,588.9 1206.0,589.3 1206.5,590.3 1207.0,590.3 1207.5,588.5 1208.0,590.4 1208.5,591.0 1209.0,590.2 1209.5,589.2 1210.0,589.0 1210.5,588.4 1211.0,587.2 1211.5,588.4 1212.0,587.7 1212.5,589.5 1213.0,589.4 1213.5,589.7 1214.0,589.6 1214.5,589.8 1215.0,588.7 1215.5,588.9 1216.0,589.8 1216.5,590.9 1217.0,587.4 1217.5,588.1 1218.0,589.0 1218.5,588.1 1219.0,588.6 1219.5,589.3 1220.0,588.4 1220.5,590.1 1221.0,590.0 1221.5,590.1 1222.0,589.8 1222.5,590.1 1223.0,586.0 1223.5,590.1 1224.0,588.2 1224.5,591.6 1225.0,588.5 1225.5,589.6 1226.0,587.7 1226.5,588.0 1227.0,589.5 1227.5,589.7 1228.0,591.0 1228.5,590.2 1229.0,590.7 1229.5,591.4 1230.0,587.6 1230.5,590.9 1231.0,588.4 1231.5,589.6 1232.0,589.2 1232.5,590.3 1233.0,590.2 1233.5,589.9 1234.0,588.8 1234.5,587.2 1235.0,589.3 1235.5,589.2 1236.0,589.3 1236.5,589.9 1237.0,591.4 1237.5,590.4 1238.0,589.7 1238.5,588.6 1239.0,587.9 1239.5,590.9 1240.0,590.0 1240.5,589.2 1241.0,587.5 1241.5,588.8 1242.0,589.9 1242.5,589.6 1243.0,588.7 1243.5,589.3 1244.0,588.8 1244.5,588.7 1245.0,590.6 1245.5,589.8 1246.0,589.4 1246.5,588.5 1247.0,590.5 1247.5,587.5 1248.0,589.2 1248.5,587.7 1249.0,586.5 1249.5,588.3 1250.0,586.5 1250.5,588.3 1251.0,587.1 1251.5,588.5 1252.0,587.9 1252.5,586.7 1253.0,587.9 1253.5,587.4 1254.0,589.8 1254.5,589.6 1255.0,588.8 1255.5,588.9 1256.0,590.4 1256.5,588.0 1257.0,587.7 1257.5,589.1 1258.0,587.9 1258.5,586.1 1259.0,588.6 1259.5,586.9 1260.0,588.1 1260.5,588.0 1261.0,585.7 1261.5,585.9 1262.0,586.2 1262.5,583.9 1263.0,584.0 1263.5,584.9 1264.0,584.5 1264.5,583.2 1265.0,583.8 1265.5,584.0 1266.0,582.5 1266.5,582.0 1267.0,582.4 1267.5,581.1 1268.0,581.0 1268.5,581.3 1269.0,579.3 1269.5,580.5 1270.0,581.2 1270.5,579.6 1271.0,581.8 1271.5,580.7 1272.0,581.6 1272.5,579.9 1273.0,580.5 1273.5,579.6 1274.0,578.3 1274.5,580.0 1275.0,578.4 1275.5,579.5 1276.0,577.6 1276.5,578.5 1277.0,577.9 1277.5,579.2 1278.0,577.2 1278.5,578.4 1279.0,577.4 1279.5,578.0 1280.0,575.5 1280.5,576.5 1281.0,576.0 1281.5,575.2 1282.0,574.3 1282.5,575.0 1283.0,571.4 1283.5,573.2 1284.0,571.2 1284.5,571.9 1285.0,571.8 1285.5,570.8 1286.0,569.7 1286.5,568.6 1287.0,567.8 1287.5,568.4 1288.0,569.5 1288.5,567.3 1289.0,571.7 1289.5,568.9 1290.0,568.3 1290.5,570.6 1291.0,571.0 1291.5,570.6 1292.0,569.8 1292.5,571.3 1293.0,573.0 1293.5,573.2 1294.0,570.8 1294.5,574.5 1295.0,576.2 1295.5,574.3 1296.0,573.7 1296.5,575.6 1297.0,577.3 1297.5,577.6 1298.0,578.3 1298.5,575.8 1299.0,579.0 1299.5,579.6 1300.0,580.9 1300.5,582.8 1301.0,581.2 1301.5,583.8 1302.0,584.6 1302.5,584.7 1303.0,583.4 1303.5,585.9 1304.0,584.3 1304.5,584.9 1305.0,583.8 1305.5,584.8 1306.0,585.1 1306.5,587.9 1307.0,587.0 1307.5,587.2 1308.0,586.7 1308.5,586.9 1309.0,586.4 1309.5,587.3 1310.0,589.3 1310.5,587.7 1311.0,590.3 1311.5,588.9 1312.0,588.0 1312.5,589.9 1313.0,588.5 1313.5,589.7 1314.0,588.2 1314.5,590.4 1315.0,589.3 1315.5,589.2 1316.0,590.1 1316.5,588.5 1317.0,586.8 1317.5,588.3 1318.0,590.2 1318.5,591.0 1319.0,587.8 1319.5,589.9 1320.0,590.0 1320.5,587.9 1321.0,587.5 1321.5,591.4 1322.0,590.0 1322.5,589.2 1323.0,590.1 1323.5,587.8 1324.0,590.0 1324.5,589.5 1325.0,589.3 1325.5,590.9 1326.0,589.7 1326.5,589.7 1327.0,589.2 1327.5,588.8 1328.0,589.6 1328.5,591.4 1329.0,587.6 1329.5,588.6 1330.0,589.1 1330.5,590.5 1331.0,589.0 1331.5,590.5 1332.0,587.5 1332.5,588.7 1333.0,590.6 1333.5,587.2 1334.0,590.2 1334.5,591.4 1335.0,590.7 1335.5,590.8 1336.0,589.0 1336.5,589.3 1337.0,591.1 1337.5,590.3 1338.0,591.9 1338.5,590.5 1339.0,590.2 1339.5,590.1 1340.0,591.7 1340.5,591.2 1341.0,589.6 1341.5,590.8 1342.0,589.2 1342.5,591.2 1343.0,589.9 1343.5,591.8 1344.0,591.9 1344.5,591.1 1345.0,588.5 1345.5,589.6 1346.0,590.6 1346.5,590.6 1347.0,590.7 1347.5,591.4 1348.0,589.5 1348.5,588.9 1349.0,588.8 1349.5,591.6 1350.0,591.3 1350.5,589.8 1351.0,590.3 1351.5,591.8 1352.0,590.0 1352.5,591.1 1353.0,591.3 1353.5,590.7 1354.0,591.3 1354.5,591.6 1355.0,590.0 1355.5,588.5 1356.0,590.2 1356.5,588.7 1357.0,588.5 1357.5,591.2 1358.0,589.3 1358.5,589.9 1359.0,590.6 1359.5,589.4 1360.0,591.1 1360.5,592.6 1361.0,589.5 1361.5,590.4 1362.0,587.5 1362.5,589.5 1363.0,592.4 1363.5,590.4 1364.0,590.0 1364.5,591.0 1365.0,590.2 1365.5,592.1 1366.0,590.4 1366.5,589.8 1367.0,590.2 1367.5,587.6 1368.0,591.0 1368.5,591.2 1369.0,588.5 1369.5,587.5 1370.0,589.9 1370.5,590.8 1371.0,592.3 1371.5,589.6 1372.0,589.7 1372.5,590.5 1373.0,592.0 1373.5,589.5 1374.0,590.1 1374.5,589.7 1375.0,591.6 1375.5,592.3 1376.0,593.0 1376.5,592.5 1377.0,591.7 1377.5,590.0 1378.0,591.2 1378.5,592.1 1379.0,591.6 1379.5,589.7 1380.0,590.4 1380.5,590.2 1381.0,591.8 1381.5,591.0 1382.0,590.2 1382.5,591.5 1383.0,591.2 1383.5,590.0 1384.0,591.9 1384.5,590.8 1385.0,590.6 1385.5,589.6 1386.0,590.8 1386.5,591.3 1387.0,588.2 1387.5,589.9 1388.0,590.3 1388.5,591.2 1389.0,589.2 1389.5,592.9 1390.0,590.4 1390.5,589.7 1391.0,590.5 1391.5,591.6 1392.0,590.6 1392.5,589.8 1393.0,590.9 1393.5,591.0 1394.0,590.8 1394.5,589.5 1395.0,591.0 1395.5,595.2 1396.0,590.4 1396.5,590.9 1397.0,588.3 1397.5,590.6 1398.0,591.0 1398.5,590.1 1399.0,590.4 1399.5,589.5 1400.0,591.5 1400.5,590.6 1401.0,589.2 1401.5,590.2 1402.0,590.9 1402.5,590.8 1403.0,593.4 1403.5,590.5 1404.0,590.7 1404.5,589.6 1405.0,591.2 1405.5,589.6 1406.0,591.1 1406.5,589.8 1407.0,589.6 1407.5,589.6 1408.0,592.8 1408.5,589.2 1409.0,591.7 1409.5,590.6 1410.0,589.1 1410.5,590.2 1411.0,589.7 1411.5,590.9 1412.0,591.8 1412.5,592.8 1413.0,589.9 1413.5,589.9 1414.0,589.8 1414.5,590.5 1415.0,589.6 1415.5,592.5 1416.0,590.4 1416.5,590.2 1417.0,587.1 1417.5,590.7 1418.0,589.3 1418.5,593.1 1419.0,591.2 1419.5,590.0 1420.0,591.0 1420.5,592.6 1421.0,590.8 1421.5,591.3 1422.0,588.3 1422.5,589.5 1423.0,588.9 1423.5,590.8 1424.0,588.6 1424.5,588.3 1425.0,589.7 1425.5,590.0 1426.0,590.8 1426.5,591.9 1427.0,591.5 1427.5,590.2 1428.0,590.3 1428.5,587.9 1429.0,591.3 1429.5,588.9 1430.0,589.4 1430.5,589.7 1431.0,588.6 1431.5,589.4 1432.0,590.6 1432.5,591.1 1433.0,591.6 1433.5,590.3 1434.0,588.6 1434.5,589.6 1435.0,587.8 1435.5,586.1 1436.0,589.3 1436.5,588.0 1437.0,587.8 1437.5,587.0 1438.0,590.2 1438.5,587.9 1439.0,589.1 1439.5,587.5 1440.0,587.5 1440.5,587.2 1441.0,588.4 1441.5,584.2 1442.0,585.8 1442.5,585.1 1443.0,586.0 1443.5,584.5 1444.0,584.9 1444.5,583.9 1445.0,583.2 1445.5,584.3 1446.0,584.7 1446.5,583.6 1447.0,581.3 1447.5,581.7 1448.0,583.1 1448.5,581.5 1449.0,582.6 1449.5,581.5 1450.0,582.9 1450.5,579.9 1451.0,581.2 1451.5,581.8 1452.0,581.3 1452.5,579.2 1453.0,579.8 1453.5,580.2 1454.0,579.5 1454.5,580.4 1455.0,580.5 1455.5,580.9 1456.0,581.1 1456.5,580.9 1457.0,582.9 1457.5,583.5 1458.0,582.5 1458.5,584.4 1459.0,584.7 1459.5,583.2 1460.0,585.9 1460.5,585.9 1461.0,585.6 1461.5,584.5 1462.0,585.6 1462.5,584.9 1463.0,586.6 1463.5,585.7 1464.0,584.9 1464.5,585.2 1465.0,586.0 1465.5,585.8 1466.0,587.6 1466.5,588.1 1467.0,587.6 1467.5,587.1 1468.0,587.4 1468.5,587.2 1469.0,586.9 1469.5,588.5 1470.0,587.4 1470.5,588.7 1471.0,587.0 1471.5,586.7 1472.0,588.5 1472.5,591.2 1473.0,588.1 1473.5,587.1 1474.0,589.6 1474.5,587.9 1475.0,587.3 1475.5,586.2 1476.0,588.2 1476.5,586.6 1477.0,585.9 1477.5,586.3 1478.0,587.6 1478.5,587.0 1479.0,584.4 1479.5,583.1 1480.0,586.7 1480.5,584.6 1481.0,586.4 1481.5,584.1 1482.0,583.8 1482.5,582.7 1483.0,582.2 1483.5,582.0 1484.0,581.3 1484.5,582.5 1485.0,580.0 1485.5,579.4 1486.0,580.7 1486.5,577.9 1487.0,578.3 1487.5,578.4 1488.0,576.5 1488.5,578.6 1489.0,577.9 1489.5,579.0 1490.0,578.5 1490.5,577.0 1491.0,577.0 1491.5,578.1 1492.0,579.1 1492.5,579.6 1493.0,580.0 1493.5,581.4 1494.0,579.9 1494.5,581.1 1495.0,584.0 1495.5,582.8 1496.0,583.4 1496.5,584.8 1497.0,583.0 1497.5,585.3 1498.0,585.2 1498.5,584.9 1499.0,586.4 1499.5,588.2 1500.0,587.2 1500.5,587.0 1501.0,589.3 1501.5,588.4 1502.0,590.3 1502.5,589.8 1503.0,588.7 1503.5,588.0 1504.0,588.5 1504.5,590.3 1505.0,587.7 1505.5,592.0 1506.0,586.5 1506.5,590.0 1507.0,590.8 1507.5,588.6 1508.0,587.2 1508.5,589.1 1509.0,589.3 1509.5,590.8 1510.0,589.8 1510.5,590.2 1511.0,589.8 1511.5,591.7 1512.0,589.5 1512.5,589.9 1513.0,590.4 1513.5,593.4 1514.0,586.6 1514.5,587.6 1515.0,589.5 1515.5,589.1 1516.0,590.1 1516.5,591.1 1517.0,591.0 1517.5,590.0 1518.0,589.5 1518.5,590.1 1519.0,589.5 1519.5,592.6 1520.0,591.8 1520.5,590.3 1521.0,591.2 1521.5,589.9 1522.0,590.5 1522.5,590.7 1523.0,589.2 1523.5,590.6 1524.0,589.8 1524.5,591.1 1525.0,589.4 1525.5,589.9 1526.0,591.2 1526.5,592.3 1527.0,591.2 1527.5,591.0 1528.0,589.0 1528.5,590.0 1529.0,590.8 1529.5,590.6 1530.0,590.8 1530.5,592.0 1531.0,592.2 1531.5,590.1 1532.0,589.7 1532.5,588.8 1533.0,590.8 1533.5,591.4 1534.0,592.2 1534.5,589.9 1535.0,590.2 1535.5,589.8 1536.0,593.3 1536.5,592.7 1537.0,590.3 1537.5,591.1 1538.0,589.9 1538.5,590.3 1539.0,593.3 1539.5,590.5 1540.0,590.6 1540.5,590.8 1541.0,589.2 1541.5,588.9 1542.0,588.4 1542.5,592.0 1543.0,589.9 1543.5,590.1 1544.0,591.8 1544.5,589.5 1545.0,590.3 1545.5,589.9 1546.0,591.2 1546.5,590.5 1547.0,588.8 1547.5,591.9 1548.0,592.3 1548.5,591.2 1549.0,590.5 1549.5,590.7 1550.0,589.4 1550.5,590.4 1551.0,592.0 1551.5,591.1 1552.0,589.2 1552.5,589.2 1553.0,590.4 1553.5,592.2 1554.0,591.3 1554.5,590.7 1555.0,591.8 1555.5,589.9 1556.0,591.2 1556.5,590.4 1557.0,589.4 1557.5,591.4 1558.0,589.3 1558.5,590.7 1559.0,591.9 1559.5,589.3 1560.0,592.2 1560.5,592.4 1561.0,591.7 1561.5,590.5 1562.0,590.5 1562.5,590.5 1563.0,590.8 1563.5,589.7 1564.0,591.1 1564.5,592.4 1565.0,589.2 1565.5,592.6 1566.0,589.5 1566.5,589.7 1567.0,590.2 1567.5,590.7 1568.0,590.9 1568.5,592.6 1569.0,591.4 1569.5,592.1 1570.0,590.2 1570.5,591.3 1571.0,588.7 1571.5,589.3 1572.0,593.4 1572.5,590.6 1573.0,591.4 1573.5,591.6 1574.0,591.4 1574.5,589.0 1575.0,590.8 1575.5,593.2 1576.0,591.8 1576.5,590.1 1577.0,590.6 1577.5,590.0 1578.0,590.8 1578.5,590.7 1579.0,590.5 1579.5,589.7 1580.0,588.5 1580.5,591.0 1581.0,590.7 1581.5,591.1 1582.0,591.8 1582.5,590.2 1583.0,591.8 1583.5,590.3 1584.0,591.6 1584.5,591.2 1585.0,589.5 1585.5,591.5 1586.0,591.0 1586.5,590.5 1587.0,590.3 1587.5,590.4 1588.0,589.5 1588.5,588.9 1589.0,590.2 1589.5,591.2 1590.0,590.0 1590.5,591.0 1591.0,588.4 1591.5,592.0 1592.0,590.3 1592.5,589.7 1593.0,590.0 1593.5,590.3 1594.0,589.9 1594.5,590.2 1595.0,588.3 1595.5,590.3 1596.0,589.4 1596.5,588.2 1597.0,590.4 1597.5,589.3 1598.0,591.0 1598.5,588.4 1599.0,590.5 1599.5,589.5 1600.0,587.9 1600.5,589.6 1601.0,589.1 1601.5,589.4 1602.0,587.4 1602.5,585.1 1603.0,587.2 1603.5,587.6 1604.0,588.3 1604.5,588.3 1605.0,588.2 1605.5,587.1 1606.0,586.4 1606.5,585.4 1607.0,586.1 1607.5,584.7 1608.0,585.2 1608.5,584.1 1609.0,585.0 1609.5,583.3 1610.0,582.6 1610.5,582.4 1611.0,583.2 1611.5,581.5 1612.0,583.1 1612.5,580.1 1613.0,581.2 1613.5,580.1 1614.0,578.7 1614.5,579.5 1615.0,579.7 1615.5,579.5 1616.0,578.1 1616.5,576.8 1617.0,576.9 1617.5,576.8 1618.0,579.3 1618.5,575.5 1619.0,576.6 1619.5,579.1 1620.0,575.2 1620.5,578.3 1621.0,578.1 1621.5,577.4 1622.0,577.2 1622.5,574.7 1623.0,576.7 1623.5,576.8 1624.0,578.7 1624.5,578.9 1625.0,576.5 1625.5,575.4 1626.0,577.6 1626.5,581.1 1627.0,579.3 1627.5,579.6 1628.0,580.7 1628.5,580.0 1629.0,581.0 1629.5,580.1 1630.0,580.5 1630.5,582.3 1631.0,582.2 1631.5,583.1 1632.0,582.7 1632.5,584.0 1633.0,583.6 1633.5,583.7 1634.0,584.8 1634.5,583.9 1635.0,582.6 1635.5,583.1 1636.0,583.9 1636.5,585.5 1637.0,583.8 1637.5,584.2 1638.0,586.0 1638.5,586.4 1639.0,583.2 1639.5,583.5 1640.0,584.6 1640.5,585.0 1641.0,584.3 1641.5,583.3 1642.0,587.5 1642.5,585.5 1643.0,586.8 1643.5,586.2 1644.0,586.0 1644.5,583.5 1645.0,585.9 1645.5,585.9 1646.0,586.0 1646.5,585.1 1647.0,584.7 1647.5,586.3 1648.0,587.2 1648.5,587.8 1649.0,587.0 1649.5,585.0 1650.0,586.8 1650.5,586.8 1651.0,586.7 1651.5,586.3 1652.0,588.6 1652.5,587.3 1653.0,588.3 1653.5,589.0 1654.0,587.7 1654.5,588.4 1655.0,588.1 1655.5,590.3 1656.0,588.3 1656.5,587.5 1657.0,590.4 1657.5,586.7 1658.0,591.2 1658.5,590.2 1659.0,590.3 1659.5,590.4 1660.0,590.1 1660.5,590.6 1661.0,587.3 1661.5,589.8 1662.0,588.8 1662.5,588.0 1663.0,588.8 1663.5,589.9 1664.0,590.6 1664.5,589.4 1665.0,589.3 1665.5,592.0 1666.0,591.1 1666.5,589.5 1667.0,589.5 1667.5,590.6 1668.0,591.4 1668.5,589.9 1669.0,590.4 1669.5,591.6 1670.0,588.8 1670.5,590.7 1671.0,590.3 1671.5,589.4 1672.0,590.8 1672.5,591.5 1673.0,590.2 1673.5,590.0 1674.0,592.1 1674.5,590.8 1675.0,589.7 1675.5,591.0 1676.0,591.5 1676.5,590.5 1677.0,588.6 1677.5,590.1 1678.0,589.5 1678.5,592.5 1679.0,589.9 1679.5,592.7 1680.0,590.8 1680.5,590.9 1681.0,591.1 1681.5,592.6 1682.0,589.6 1682.5,590.3 1683.0,590.5 1683.5,591.2 1684.0,590.2 1684.5,591.0 1685.0,591.8 1685.5,590.4 1686.0,592.3 1686.5,590.8 1687.0,590.7 1687.5,591.6 1688.0,590.5 1688.5,591.4 1689.0,590.2 1689.5,589.6 1690.0,591.3 1690.5,591.7 1691.0,590.8 1691.5,591.9 1692.0,590.4 1692.5,593.3 1693.0,590.6 1693.5,591.5 1694.0,590.9 1694.5,590.8 1695.0,590.0 1695.5,592.5 1696.0,590.8 1696.5,590.3 1697.0,592.2 1697.5,592.1 1698.0,590.2 1698.5,591.7 1699.0,592.3 1699.5,591.3 1700.0,589.6 1700.5,591.0 1701.0,590.2 1701.5,589.7 1702.0,591.3 1702.5,591.8 1703.0,588.6 1703.5,590.6 1704.0,590.1 1704.5,591.5 1705.0,590.4 1705.5,589.5 1706.0,592.6 1706.5,590.9 1707.0,592.5 1707.5,591.3 1708.0,590.1 1708.5,589.5 1709.0,589.4 1709.5,590.7 1710.0,591.2 1710.5,592.5 1711.0,589.7 1711.5,591.2 1712.0,591.9 1712.5,592.6 1713.0,592.2 1713.5,591.8 1714.0,591.9 1714.5,589.7 1715.0,591.2 1715.5,589.7 1716.0,593.5 1716.5,592.2 1717.0,591.0 1717.5,590.8 1718.0,590.8 1718.5,591.8 1719.0,590.8 1719.5,591.0 1720.0,590.2 1720.5,591.8 1721.0,591.9 1721.5,590.0 1722.0,591.9 1722.5,591.0 1723.0,592.2 1723.5,592.3 1724.0,590.6 1724.5,591.9 1725.0,592.4 1725.5,589.9 1726.0,591.2 1726.5,590.0 1727.0,591.9 1727.5,589.3 1728.0,592.2 1728.5,590.8 1729.0,591.9 1729.5,593.5 1730.0,591.2 1730.5,590.1 1731.0,589.9 1731.5,592.0 1732.0,589.7 1732.5,589.6 1733.0,591.6 1733.5,592.6 1734.0,591.5 1734.5,593.3 1735.0,592.6 1735.5,592.1 1736.0,591.7 1736.5,591.6 1737.0,591.7 1737.5,592.4 1738.0,591.4 1738.5,589.6 1739.0,589.3 1739.5,590.0 1740.0,591.2 1740.5,589.5 1741.0,590.9 1741.5,591.5 1742.0,592.5 1742.5,590.2 1743.0,590.1 1743.5,589.8 1744.0,589.8 1744.5,590.7"/>
<polyline stroke="#FF2B2B" stroke-width="9.0" points="152.5,424.7 153.0,419.5 153.5,423.0 154.0,423.3 154.5,424.5 155.0,424.4 155.5,423.4 156.0,421.1 156.5,422.1 157.0,422.6 157.5,422.1 158.0,423.8 158.5,422.4 159.0,421.7 159.5,422.9 160.0,423.9 160.5,422.3 161.0,421.8 161.5,422.1 162.0,423.0 162.5,423.3 163.0,422.2 163.5,422.1 164.0,423.8 164.5,425.5 165.0,425.9 165.5,425.6 166.0,422.3 166.5,423.2 167.0,423.0 167.5,422.5 168.0,422.4 168.5,423.0 169.0,423.6 169.5,424.5 170.0,424.6 170.5,422.8 171.0,422.8 171.5,424.1 172.0,423.8 172.5,422.6 173.0,423.2 173.5,421.1 174.0,423.4 174.5,421.8 175.0,423.4 175.5,419.9 176.0,423.1 176.5,421.7 177.0,422.5 177.5,423.2 178.0,422.3 178.5,424.9 179.0,424.1 179.5,422.6 180.0,425.0 180.5,423.0 181.0,423.3 181.5,425.0 182.0,425.2 182.5,423.1 183.0,423.9 183.5,423.0 184.0,424.2 184.5,422.8 185.0,424.4 185.5,421.2 186.0,423.5 186.5,424.4 187.0,423.3 187.5,421.2 188.0,423.3 188.5,421.8 189.0,422.5 189.5,423.1 190.0,425.0 190.5,422.8 191.0,421.7 191.5,424.9 192.0,422.7 192.5,422.3 193.0,422.7 193.5,422.6 194.0,424.4 194.5,420.6 195.0,422.0 195.5,423.7 196.0,423.0 196.5,422.7 197.0,420.7 197.5,423.8 198.0,422.2 198.5,424.4 199.0,420.3 199.5,423.2 200.0,423.4 200.5,424.6 201.0,422.9 201.5,422.1 202.0,423.1 202.5,422.4 203.0,423.0 203.5,420.6 204.0,422.8 204.5,423.0 205.0,423.0 205.5,422.8 206.0,424.8 206.5,425.0 207.0,424.0 207.5,423.0 208.0,424.4 208.5,423.0 209.0,422.5 209.5,422.3 210.0,422.8 210.5,424.5 211.0,424.3 211.5,424.2 212.0,423.3 212.5,422.2 213.0,423.2 213.5,422.8 214.0,422.1 214.5,424.0 215.0,421.0 215.5,421.2 216.0,421.4 216.5,422.1 217.0,422.5 217.5,423.4 218.0,423.5 218.5,422.0 219.0,421.8 219.5,422.4 220.0,423.4 220.5,422.7 221.0,422.9 221.5,423.1 222.0,422.4 222.5,422.0 223.0,419.6 223.5,421.2 224.0,420.3 224.5,420.8 225.0,421.3 225.5,422.4 226.0,422.8 226.5,420.8 227.0,422.3 227.5,422.5 228.0,419.8 228.5,422.3 229.0,422.0 229.5,420.1 230.0,422.4 230.5,423.1 231.0,423.2 231.5,421.9 232.0,423.4 232.5,423.7 233.0,423.3 233.5,421.1 234.0,423.7 234.5,422.1 235.0,422.1 235.5,424.1 236.0,424.4 236.5,424.5 237.0,419.6 237.5,424.3 238.0,420.4 238.5,423.4 239.0,421.4 239.5,423.0 240.0,423.9 240.5,423.8 241.0,422.3 241.5,419.7 242.0,421.9 242.5,422.0 243.0,422.6 243.5,423.6 244.0,421.7 244.5,423.4 245.0,421.6 245.5,421.8 246.0,422.9 246.5,423.3 247.0,423.5 247.5,421.8 248.0,423.2 248.5,421.2 249.0,424.8 249.5,423.1 250.0,422.5 250.5,421.4 251.0,421.7 251.5,422.5 252.0,421.5 252.5,422.3 253.0,421.2 253.5,421.4 254.0,423.3 254.5,421.1 255.0,421.6 255.5,421.0 256.0,422.6 256.5,420.9 257.0,421.5 257.5,421.9 258.0,421.4 258.5,422.4 259.0,422.0 259.5,421.8 260.0,421.0 260.5,421.2 261.0,420.5 261.5,420.6 262.0,420.2 262.5,422.9 263.0,422.1 263.5,419.9 264.0,420.9 264.5,421.9 265.0,420.6 265.5,422.6 266.0,419.3 266.5,420.6 267.0,418.0 267.5,421.6 268.0,419.4 268.5,420.2 269.0,421.0 269.5,419.6 270.0,419.0 270.5,418.6 271.0,420.7 271.5,420.7 272.0,418.2 272.5,420.0 273.0,417.6 273.5,415.4 274.0,416.9 274.5,416.4 275.0,417.3 275.5,417.0 276.0,415.3 276.5,414.8 277.0,415.0 277.5,411.9 278.0,414.6 278.5,414.3 279.0,412.4 279.5,409.8 280.0,410.1 280.5,408.0 281.0,406.6 281.5,407.2 282.0,402.7 282.5,399.4 283.0,397.5 283.5,391.2 284.0,389.8 284.5,382.6 285.0,375.8 285.5,368.3 286.0,357.6 286.5,350.0 287.0,339.2 287.5,326.9 288.0,313.5 288.5,301.3 289.0,289.8 289.5,274.5 290.0,263.7 290.5,253.8 291.0,243.2 291.5,238.7 292.0,237.7 292.5,240.5 293.0,244.6 293.5,251.7 294.0,262.7 294.5,272.8 295.0,288.1 295.5,300.7 296.0,313.5 296.5,326.4 297.0,338.3 297.5,347.8 298.0,361.1 298.5,366.3 299.0,375.3 299.5,381.9 300.0,385.8 300.5,392.2 301.0,395.5 301.5,398.5 302.0,400.8 302.5,405.1 303.0,408.2 303.5,409.6 304.0,410.0 304.5,411.7 305.0,409.8 305.5,413.4 306.0,413.1 306.5,415.1 307.0,415.8 307.5,415.5 308.0,415.6 308.5,416.0 309.0,418.7 309.5,416.6 310.0,417.8 310.5,418.6 311.0,419.5 311.5,416.6 312.0,418.6 312.5,417.3 313.0,418.5 313.5,419.8 314.0,417.3 314.5,419.6 315.0,419.4 315.5,420.6 316.0,419.9 316.5,420.2 317.0,419.8 317.5,421.4 318.0,421.1 318.5,420.8 319.0,417.0 319.5,421.4 320.0,420.0 320.5,421.5 321.0,421.3 321.5,421.6 322.0,420.7 322.5,421.3 323.0,421.0 323.5,419.6 324.0,421.7 324.5,420.5 325.0,421.5 325.5,422.5 326.0,422.9 326.5,422.1 327.0,421.9 327.5,421.6 328.0,420.8 328.5,422.3 329.0,422.2 329.5,421.2 330.0,422.4 330.5,420.6 331.0,422.4 331.5,421.3 332.0,421.1 332.5,421.1 333.0,421.5 333.5,421.1 334.0,422.2 334.5,422.3 335.0,425.4 335.5,420.3 336.0,421.8 336.5,423.1 337.0,423.9 337.5,422.3 338.0,423.3 338.5,421.9 339.0,423.2 339.5,421.8 340.0,421.0 340.5,422.6 341.0,422.2 341.5,422.4 342.0,421.9 342.5,420.8 343.0,422.0 343.5,421.8 344.0,421.2 344.5,421.6 345.0,422.4 345.5,422.5 346.0,421.5 346.5,421.3 347.0,421.8 347.5,421.7 348.0,422.3 348.5,424.3 349.0,422.2 349.5,420.5 350.0,424.2 350.5,422.5 351.0,422.1 351.5,423.1 352.0,422.1 352.5,424.4 353.0,422.6 353.5,422.6 354.0,422.2 354.5,423.1 355.0,422.4 355.5,422.2 356.0,422.5 356.5,421.7 357.0,423.5 357.5,424.1 358.0,421.6 358.5,422.2 359.0,423.2 359.5,421.3 360.0,421.9 360.5,423.3 361.0,422.8 361.5,423.1 362.0,420.7 362.5,424.0 363.0,422.9 363.5,422.7 364.0,424.8 364.5,423.9 365.0,421.2 365.5,424.9 366.0,422.2 366.5,422.7 367.0,421.6 367.5,424.5 368.0,422.9 368.5,423.5 369.0,424.0 369.5,423.0 370.0,420.8 370.5,424.7 371.0,422.6 371.5,421.3 372.0,422.6 372.5,422.7 373.0,422.5 373.5,422.9 374.0,423.5 374.5,425.1 375.0,424.1 375.5,423.2 376.0,425.5 376.5,423.2 377.0,425.7 377.5,423.2 378.0,421.3 378.5,424.7 379.0,422.9 379.5,422.8 380.0,423.0 380.5,423.2 381.0,423.8 381.5,423.0 382.0,421.7 382.5,423.6 383.0,423.7 383.5,422.8 384.0,423.5 384.5,423.9 385.0,421.2 385.5,421.0 386.0,422.3 386.5,424.1 387.0,421.4 387.5,424.4 388.0,422.5 388.5,423.7 389.0,422.6 389.5,422.5 390.0,422.8 390.5,422.3 391.0,422.0 391.5,422.3 392.0,422.7 392.5,422.7 393.0,421.5 393.5,422.6 394.0,422.8 394.5,423.8 395.0,423.8 395.5,423.3 396.0,423.4 396.5,421.8 397.0,422.6 397.5,424.0 398.0,423.6 398.5,424.8 399.0,425.5 399.5,425.2 400.0,422.5 400.5,422.5 401.0,422.8 401.5,424.7 402.0,423.6 402.5,422.9 403.0,421.9 403.5,423.1 404.0,422.9 404.5,424.6 405.0,426.0 405.5,421.7 406.0,421.5 406.5,424.2 407.0,424.0 407.5,422.6 408.0,423.6 408.5,423.6 409.0,422.0 409.5,424.0 410.0,422.6 410.5,423.5 411.0,424.7 411.5,422.2 412.0,424.2 412.5,424.1 413.0,425.0 413.5,422.3 414.0,423.7 414.5,421.6 415.0,423.2 415.5,424.8 416.0,425.4 416.5,424.0 417.0,422.2 417.5,421.5 418.0,423.7 418.5,422.6 419.0,423.8 419.5,423.4 420.0,423.3 420.5,425.1 421.0,421.7 421.5,423.1 422.0,424.2 422.5,425.1 423.0,422.1 423.5,421.9 424.0,422.7 424.5,421.3 425.0,421.9 425.5,424.9 426.0,422.3 426.5,421.7 427.0,422.8 427.5,423.4 428.0,422.3 428.5,423.2 429.0,424.3 429.5,424.1 430.0,422.9 430.5,424.6 431.0,425.0 431.5,423.9 432.0,421.1 432.5,424.3 433.0,422.9 433.5,424.3 434.0,422.5 434.5,422.4 435.0,422.5 435.5,422.7 436.0,425.1 436.5,422.6 437.0,422.7 437.5,423.4 438.0,421.9 438.5,422.6 439.0,422.1 439.5,424.3 440.0,421.6 440.5,423.1 441.0,423.4 441.5,424.6 442.0,424.1 442.5,423.5 443.0,422.1 443.5,425.9 444.0,424.8 444.5,423.8 445.0,421.6 445.5,422.7 446.0,421.9 446.5,421.9 447.0,422.2 447.5,421.4 448.0,421.6 448.5,422.5 449.0,422.7 449.5,420.8 450.0,422.7 450.5,424.9 451.0,422.8 451.5,422.4 452.0,422.4 452.5,425.5 453.0,424.0 453.5,424.0 454.0,423.7 454.5,423.1 455.0,425.3 455.5,422.9 456.0,420.7 456.5,423.7 457.0,424.2 457.5,423.4 458.0,423.9 458.5,423.7 459.0,423.6 459.5,425.6 460.0,424.9 460.5,423.9 461.0,423.5 461.5,422.8 462.0,422.0 462.5,421.8 463.0,421.9 463.5,423.0 464.0,422.9 464.5,424.0 465.0,423.4 465.5,421.0 466.0,421.3 466.5,422.5 467.0,426.1 467.5,422.8 468.0,423.9 468.5,423.5 469.0,422.7 469.5,424.1 470.0,420.9 470.5,422.1 471.0,421.5 471.5,423.7 472.0,425.6 472.5,422.7 473.0,421.9 473.5,422.0 474.0,423.2 474.5,423.0 475.0,423.6 475.5,422.5 476.0,422.4 476.5,424.5 477.0,424.7 477.5,424.0 478.0,422.2 478.5,424.7 479.0,426.9 479.5,422.2 480.0,424.2 480.5,423.1 481.0,423.8 481.5,423.6 482.0,424.0 482.5,422.6 483.0,423.5 483.5,422.6 484.0,423.6 484.5,423.4 485.0,422.5 485.5,423.2 486.0,422.7 486.5,423.6 487.0,423.5 487.5,423.6 488.0,420.7 488.5,423.0 489.0,422.5 489.5,422.6 490.0,424.3 490.5,424.1 491.0,423.3 491.5,424.9 492.0,424.7 492.5,423.7 493.0,424.4 493.5,425.3 494.0,422.1 494.5,421.9 495.0,422.2 495.5,422.9 496.0,423.2 496.5,424.7 497.0,422.6 497.5,425.0 498.0,424.8 498.5,424.8 499.0,423.4 499.5,422.5 500.0,424.8 500.5,423.9 501.0,423.1 501.5,424.4 502.0,423.8 502.5,422.5 503.0,423.9 503.5,423.5 504.0,423.1 504.5,423.8 505.0,422.4 505.5,423.4 506.0,422.7 506.5,424.2 507.0,423.5 507.5,423.1 508.0,424.3 508.5,422.7 509.0,422.5 509.5,424.5 510.0,422.3 510.5,424.9 511.0,424.4 511.5,422.9 512.0,422.6 512.5,425.6 513.0,423.4 513.5,423.0 514.0,422.7 514.5,422.3 515.0,425.8 515.5,424.1 516.0,423.5 516.5,422.8 517.0,423.0 517.5,424.4 518.0,421.0 518.5,422.7 519.0,422.5 519.5,421.8 520.0,424.3 520.5,422.8 521.0,424.8 521.5,424.7 522.0,422.4 522.5,424.7 523.0,423.8 523.5,423.2 524.0,424.9 524.5,423.8 525.0,423.7 525.5,421.9 526.0,424.5 526.5,423.2 527.0,424.9 527.5,423.2 528.0,424.6 528.5,423.7 529.0,424.2 529.5,421.2 530.0,423.5 530.5,423.2 531.0,423.2 531.5,422.2 532.0,421.3 532.5,424.1 533.0,423.4 533.5,423.6 534.0,424.5 534.5,422.7 535.0,424.9 535.5,424.1 536.0,423.7 536.5,423.5 537.0,425.4 537.5,423.9 538.0,424.2 538.5,422.3 539.0,423.8 539.5,422.2 540.0,422.6 540.5,423.8 541.0,423.0 541.5,421.3 542.0,422.1 542.5,422.6 543.0,423.9 543.5,422.6 544.0,424.4 544.5,423.4 545.0,422.1 545.5,425.0 546.0,423.1 546.5,422.7 547.0,422.5 547.5,423.1 548.0,422.7 548.5,423.5 549.0,424.1 549.5,423.4 550.0,422.4 550.5,424.3 551.0,422.9 551.5,423.6 552.0,420.7 552.5,424.4 553.0,422.4 553.5,424.1 554.0,421.8 554.5,422.9 555.0,424.6 555.5,424.4 556.0,423.4 556.5,423.9 557.0,420.8 557.5,422.3 558.0,422.8 558.5,420.8 559.0,422.4 559.5,423.2 560.0,424.0 560.5,422.7 561.0,424.4 561.5,425.8 562.0,422.8 562.5,423.7 563.0,423.6 563.5,424.4 564.0,420.6 564.5,423.3 565.0,422.3 565.5,421.4 566.0,421.4 566.5,422.3 567.0,423.2 567.5,422.1 568.0,421.0 568.5,422.4 569.0,424.1 569.5,421.6 570.0,423.3 570.5,424.0 571.0,422.5 571.5,421.7 572.0,421.5 572.5,424.0 573.0,423.2 573.5,422.4 574.0,422.7 574.5,421.7 575.0,422.2 575.5,424.1 576.0,422.9 576.5,422.8 577.0,423.0 577.5,421.6 578.0,422.4 578.5,420.8 579.0,419.4 579.5,421.8 580.0,421.3 580.5,421.1 581.0,420.1 581.5,421.2 582.0,421.1 582.5,420.3 583.0,420.4 583.5,419.7 584.0,420.3 584.5,421.6 585.0,419.5 585.5,421.3 586.0,418.8 586.5,419.3 587.0,423.1 587.5,418.1 588.0,420.5 588.5,418.3 589.0,419.3 589.5,419.3 590.0,419.4 590.5,418.0 591.0,417.1 591.5,420.2 592.0,417.9 592.5,417.5 593.0,415.5 593.5,414.9 594.0,416.4 594.5,417.0 595.0,414.3 595.5,413.3 596.0,415.2 596.5,413.2 597.0,414.0 597.5,412.0 598.0,412.8 598.5,411.7 599.0,411.9 599.5,411.2 600.0,412.2 600.5,411.4 601.0,411.9 601.5,411.0 602.0,412.7 602.5,410.7 603.0,411.1 603.5,412.6 604.0,411.7 604.5,410.8 605.0,411.0 605.5,410.8 606.0,412.9 606.5,411.8 607.0,411.8 607.5,410.1 608.0,412.7 608.5,412.7 609.0,413.0 609.5,410.3 610.0,412.6 610.5,410.4 611.0,411.2 611.5,410.6 612.0,411.0 612.5,408.1 613.0,409.2 613.5,409.3 614.0,410.0 614.5,407.0 615.0,407.0 615.5,407.2 616.0,404.4 616.5,403.6 617.0,403.0 617.5,403.4 618.0,400.5 618.5,400.1 619.0,398.2 619.5,397.7 620.0,398.3 620.5,396.0 621.0,394.7 621.5,392.5 622.0,391.2 622.5,391.9 623.0,391.3 623.5,388.3 624.0,388.1 624.5,387.4 625.0,387.0 625.5,388.0 626.0,385.8 626.5,388.2 627.0,388.9 627.5,386.1 628.0,388.2 628.5,388.4 629.0,388.3 629.5,392.4 630.0,392.8 630.5,391.6 631.0,392.7 631.5,394.5 632.0,396.8 632.5,397.7 633.0,397.8 633.5,397.4 634.0,397.8 634.5,400.5 635.0,402.2 635.5,403.4 636.0,404.9 636.5,404.0 637.0,404.6 637.5,406.7 638.0,405.9 638.5,407.6 639.0,404.6 639.5,409.0 640.0,408.4 640.5,408.9 641.0,409.9 641.5,409.3 642.0,407.9 642.5,409.4 643.0,412.1 643.5,410.4 644.0,410.9 644.5,410.7 645.0,411.4 645.5,411.3 646.0,411.2 646.5,412.8 647.0,412.5 647.5,412.4 648.0,415.4 648.5,414.3 649.0,415.4 649.5,417.2 650.0,417.8 650.5,415.8 651.0,417.2 651.5,417.1 652.0,416.7 652.5,418.2 653.0,417.7 653.5,417.8 654.0,418.9 654.5,419.5 655.0,420.2 655.5,419.7 656.0,421.1 656.5,419.8 657.0,420.0 657.5,421.5 658.0,419.9 658.5,421.6 659.0,422.0 659.5,420.8 660.0,420.8 660.5,421.7 661.0,422.3 661.5,421.3 662.0,421.5 662.5,420.3 663.0,422.4 663.5,422.9 664.0,423.1 664.5,422.2 665.0,422.9 665.5,424.0 666.0,423.3 666.5,422.7 667.0,422.6 667.5,423.2 668.0,423.0 668.5,422.5 669.0,423.8 669.5,422.8 670.0,423.6 670.5,422.4 671.0,424.2 671.5,423.1 672.0,422.4 672.5,422.2 673.0,424.9 673.5,423.6 674.0,424.2 674.5,422.6 675.0,422.9 675.5,422.7 676.0,423.6 676.5,423.0 677.0,423.6 677.5,422.1 678.0,425.6 678.5,422.1 679.0,428.1 679.5,423.7 680.0,424.8 680.5,423.4 681.0,424.6 681.5,423.9 682.0,422.2 682.5,422.5 683.0,422.2 683.5,424.4 684.0,423.3 684.5,423.5 685.0,423.7 685.5,423.4 686.0,423.5 686.5,422.7 687.0,422.5 687.5,424.0 688.0,423.9 688.5,423.6 689.0,424.3 689.5,424.1 690.0,424.1 690.5,425.1 691.0,421.5 691.5,424.1 692.0,421.2 692.5,424.6 693.0,424.5 693.5,423.6 694.0,423.7 694.5,424.5 695.0,423.3 695.5,423.6 696.0,424.6 696.5,421.3 697.0,424.1 697.5,424.2 698.0,424.6 698.5,424.3 699.0,422.1 699.5,425.1 700.0,422.7 700.5,421.0 701.0,424.0 701.5,423.9 702.0,424.1 702.5,424.5 703.0,425.5 703.5,424.9 704.0,422.3 704.5,424.4 705.0,424.3 705.5,423.7 706.0,423.9 706.5,423.7 707.0,424.7 707.5,422.9 708.0,421.3 708.5,423.7 709.0,422.9 709.5,423.6 710.0,424.7 710.5,422.7 711.0,424.0 711.5,422.7 712.0,422.8 712.5,423.2 713.0,422.9 713.5,424.4 714.0,422.8 714.5,423.8 715.0,423.8 715.5,423.6 716.0,424.7 716.5,425.1 717.0,424.7 717.5,425.3 718.0,424.0 718.5,425.3 719.0,424.9 719.5,424.1 720.0,425.3 720.5,423.1 721.0,422.9 721.5,422.7 722.0,424.4 722.5,422.7 723.0,424.9 723.5,422.7 724.0,423.6 724.5,424.0 725.0,424.6 725.5,423.3 726.0,424.7 726.5,424.9 727.0,424.0 727.5,422.1 728.0,425.2 728.5,423.6 729.0,423.3 729.5,424.2 730.0,421.9 730.5,425.0 731.0,422.8 731.5,424.5 732.0,424.1 732.5,423.2 733.0,424.5 733.5,424.5 734.0,423.9 734.5,424.2 735.0,424.4 735.5,423.4 736.0,423.0 736.5,424.0 737.0,422.3 737.5,422.9 738.0,424.8 738.5,424.8 739.0,423.9 739.5,424.7 740.0,423.9 740.5,423.3 741.0,424.7 741.5,424.1 742.0,424.1 742.5,424.0 743.0,426.5 743.5,424.7 744.0,425.1 744.5,423.9 745.0,424.7 745.5,423.4 746.0,423.8 746.5,424.0 747.0,424.1 747.5,426.0 748.0,423.4 748.5,425.1 749.0,424.5 749.5,424.3 750.0,426.4 750.5,424.0 751.0,422.4 751.5,425.4 752.0,424.9 752.5,422.5 753.0,424.9 753.5,423.1 754.0,424.1 754.5,425.6 755.0,423.2 755.5,424.0 756.0,425.6 756.5,424.2 757.0,423.8 757.5,425.1 758.0,425.3 758.5,425.3 759.0,426.7 759.5,422.5 760.0,422.5 760.5,423.6 761.0,422.5 761.5,423.3 762.0,422.8 762.5,424.9 763.0,425.3 763.5,423.5 764.0,426.6 764.5,426.0 765.0,423.4 765.5,423.9 766.0,424.0 766.5,424.9 767.0,424.9 767.5,424.3 768.0,424.5 768.5,424.5 769.0,424.9 769.5,423.5 770.0,424.3 770.5,423.3 771.0,424.3 771.5,423.9 772.0,424.4 772.5,422.3 773.0,422.8 773.5,426.1 774.0,424.6 774.5,423.4 775.0,424.8 775.5,426.6 776.0,425.5 776.5,423.2 777.0,423.5 777.5,422.3 778.0,423.2 778.5,425.3 779.0,425.9 779.5,424.4 780.0,422.7 780.5,421.7 781.0,424.5 781.5,424.2 782.0,424.1 782.5,424.3 783.0,426.3 783.5,424.0 784.0,424.6 784.5,424.9 785.0,425.9 785.5,424.1 786.0,424.1 786.5,424.9 787.0,424.3 787.5,423.2 788.0,424.2 788.5,424.1 789.0,423.4 789.5,422.7 790.0,423.4 790.5,423.7 791.0,425.1 791.5,425.5 792.0,421.3 792.5,424.4 793.0,424.1 793.5,424.4 794.0,424.9 794.5,423.4 795.0,421.4 795.5,424.6 796.0,424.1 796.5,424.9 797.0,424.7 797.5,423.9 798.0,424.9 798.5,424.0 799.0,424.7 799.5,423.4 800.0,424.6 800.5,424.6 801.0,423.6 801.5,424.3 802.0,426.1 802.5,423.8 803.0,423.0 803.5,425.8 804.0,426.5 804.5,424.5 805.0,424.8 805.5,425.0 806.0,423.9 806.5,425.2 807.0,424.0 807.5,421.8 808.0,423.9 808.5,424.6 809.0,426.3 809.5,424.1 810.0,423.5 810.5,424.3 811.0,424.1 811.5,423.6 812.0,425.6 812.5,424.7 813.0,423.4 813.5,424.4 814.0,425.2 814.5,422.7 815.0,422.5 815.5,424.0 816.0,423.6 816.5,423.2 817.0,423.7 817.5,422.7 818.0,426.2 818.5,424.5 819.0,424.9 819.5,423.6 820.0,424.8 820.5,421.4 821.0,423.4 821.5,424.6 822.0,423.5 822.5,424.2 823.0,421.9 823.5,423.9 824.0,424.6 824.5,424.8 825.0,424.1 825.5,423.5 826.0,425.6 826.5,423.2 827.0,423.6 827.5,424.0 828.0,424.4 828.5,424.8 829.0,423.3 829.5,424.8 830.0,424.7 830.5,422.8 831.0,424.7 831.5,423.2 832.0,425.7 832.5,426.0 833.0,422.8 833.5,421.9 834.0,423.2 834.5,423.8 835.0,424.1 835.5,423.7 836.0,425.6 836.5,424.5 837.0,424.8 837.5,422.2 838.0,424.6 838.5,423.7 839.0,424.3 839.5,424.1 840.0,425.5 840.5,422.7 841.0,424.8 841.5,422.1 842.0,424.6 842.5,424.1 843.0,425.7 843.5,424.0 844.0,424.6 844.5,423.3 845.0,424.4 845.5,424.2 846.0,424.0 846.5,423.8 847.0,424.4 847.5,423.1 848.0,424.1 848.5,425.4 849.0,425.0 849.5,424.6 850.0,422.3 850.5,422.8 851.0,422.5 851.5,423.5 852.0,423.8 852.5,424.8 853.0,423.5 853.5,423.5 854.0,425.1 854.5,423.7 855.0,422.2 855.5,424.4 856.0,422.9 856.5,424.1 857.0,425.1 857.5,424.6 858.0,423.3 858.5,423.8 859.0,423.1 859.5,425.2 860.0,424.8 860.5,424.1 861.0,424.7 861.5,425.2 862.0,423.5 862.5,424.6 863.0,425.6 863.5,423.6 864.0,425.2 864.5,424.5 865.0,422.8 865.5,423.7 866.0,422.4 866.5,424.5 867.0,422.9 867.5,423.7 868.0,423.5 868.5,425.8 869.0,424.5 869.5,423.9 870.0,425.5 870.5,422.9 871.0,424.5 871.5,424.1 872.0,423.9 872.5,424.5 873.0,422.7 873.5,425.3 874.0,424.1 874.5,424.1 875.0,423.9 875.5,423.7 876.0,426.5 876.5,423.3 877.0,422.3 877.5,422.8 878.0,420.1 878.5,423.6 879.0,422.5 879.5,422.8 880.0,422.1 880.5,423.4 881.0,424.8 881.5,421.6 882.0,423.5 882.5,423.0 883.0,422.9 883.5,422.2 884.0,422.8 884.5,422.9 885.0,421.0 885.5,418.4 886.0,421.3 886.5,419.9 887.0,421.5 887.5,419.0 888.0,419.2 888.5,415.6 889.0,417.6 889.5,416.3 890.0,416.1 890.5,413.3 891.0,411.1 891.5,408.3 892.0,402.5 892.5,401.8 893.0,396.6 893.5,391.8 894.0,386.7 894.5,379.9 895.0,374.6 895.5,369.5 896.0,365.3 896.5,362.8 897.0,360.2 897.5,360.8 898.0,361.7 898.5,368.4 899.0,372.7 899.5,377.7 900.0,381.2 900.5,388.7 901.0,392.0 901.5,397.6 902.0,401.5 902.5,404.6 903.0,409.2 903.5,413.3 904.0,412.8 904.5,416.2 905.0,416.5 905.5,417.4 906.0,418.8 906.5,419.7 907.0,419.0 907.5,418.9 908.0,419.9 908.5,417.7 909.0,417.9 909.5,420.5 910.0,421.8 910.5,421.5 911.0,421.4 911.5,421.2 912.0,421.3 912.5,422.2 913.0,422.4 913.5,422.3 914.0,422.8 914.5,423.6 915.0,421.5 915.5,421.1 916.0,424.4 916.5,421.9 917.0,422.3 917.5,423.7 918.0,422.9 918.5,424.4 919.0,423.3 919.5,424.2 920.0,423.6 920.5,424.0 921.0,423.0 921.5,422.9 922.0,423.8 922.5,422.5 923.0,424.9 923.5,423.5 924.0,423.2 924.5,425.3 925.0,422.9 925.5,422.7 926.0,424.1 926.5,423.2 927.0,423.3 927.5,423.4 928.0,423.8 928.5,422.5 929.0,424.1 929.5,421.8 930.0,422.7 930.5,422.0 931.0,423.7 931.5,421.3 932.0,424.8 932.5,421.1 933.0,422.5 933.5,422.5 934.0,423.0 934.5,423.0 935.0,421.2 935.5,421.3 936.0,422.8 936.5,423.3 937.0,422.2 937.5,423.8 938.0,425.0 938.5,423.9 939.0,424.5 939.5,423.1 940.0,426.4 940.5,424.0 941.0,424.2 941.5,424.2 942.0,423.8 942.5,424.2 943.0,424.4 943.5,423.0 944.0,424.9 944.5,424.7 945.0,423.8 945.5,422.9 946.0,423.8 946.5,423.1 947.0,426.2 947.5,425.5 948.0,424.4 948.5,423.9 949.0,425.3 949.5,425.0 950.0,426.3 950.5,422.2 951.0,424.9 951.5,422.7 952.0,426.5 952.5,422.1 953.0,423.1 953.5,423.2 954.0,423.9 954.5,423.9 955.0,425.3 955.5,424.1 956.0,424.4 956.5,424.6 957.0,422.6 957.5,425.6 958.0,422.9 958.5,424.9 959.0,425.0 959.5,423.1 960.0,425.4 960.5,424.9 961.0,424.7 961.5,424.5 962.0,424.6 962.5,425.0 963.0,425.5 963.5,422.0 964.0,426.4 964.5,424.6 965.0,424.8 965.5,423.7 966.0,423.9 966.5,424.9 967.0,423.3 967.5,422.9 968.0,425.1 968.5,424.6 969.0,423.8 969.5,426.2 970.0,424.6 970.5,424.8 971.0,424.3 971.5,424.4 972.0,423.5 972.5,425.8 973.0,422.7 973.5,423.7 974.0,422.3 974.5,423.9 975.0,424.5 975.5,424.4 976.0,425.0 976.5,423.7 977.0,424.8 977.5,423.5 978.0,423.3 978.5,424.2 979.0,425.2 979.5,422.1 980.0,423.3 980.5,423.3 981.0,424.7 981.5,423.8 982.0,424.5 982.5,425.5 983.0,424.6 983.5,424.3 984.0,423.4 984.5,422.6 985.0,423.8 985.5,425.9 986.0,423.0 986.5,424.1 987.0,423.1 987.5,424.6 988.0,425.3 988.5,422.8 989.0,424.2 989.5,423.9 990.0,423.6 990.5,423.0 991.0,424.5 991.5,424.4 992.0,425.7 992.5,423.3 993.0,424.1 993.5,423.3 994.0,423.5 994.5,426.2 995.0,425.3 995.5,423.7 996.0,423.8 996.5,424.2 997.0,425.7 997.5,425.2 998.0,424.0 998.5,422.7 999.0,423.6 999.5,425.8 1000.0,423.0 1000.5,423.7 1001.0,421.9 1001.5,424.5 1002.0,424.0 1002.5,425.8 1003.0,421.7 1003.5,422.7 1004.0,422.7 1004.5,424.7 1005.0,423.9 1005.5,422.4 1006.0,424.4 1006.5,420.5 1007.0,425.2 1007.5,424.8 1008.0,422.1 1008.5,422.8 1009.0,422.0 1009.5,423.9 1010.0,424.2 1010.5,422.7 1011.0,425.3 1011.5,423.2 1012.0,424.3 1012.5,424.1 1013.0,423.9 1013.5,424.0 1014.0,423.3 1014.5,422.6 1015.0,422.3 1015.5,423.1 1016.0,424.1 1016.5,425.2 1017.0,423.6 1017.5,423.1 1018.0,423.0 1018.5,423.2 1019.0,421.8 1019.5,422.0 1020.0,423.5 1020.5,424.1 1021.0,424.4 1021.5,423.5 1022.0,422.2 1022.5,424.0 1023.0,423.1 1023.5,422.3 1024.0,424.5 1024.5,422.4 1025.0,423.7 1025.5,421.9 1026.0,422.1 1026.5,422.0 1027.0,421.8 1027.5,421.6 1028.0,421.7 1028.5,422.6 1029.0,421.2 1029.5,420.0 1030.0,418.3 1030.5,421.2 1031.0,422.0 1031.5,418.5 1032.0,419.9 1032.5,421.2 1033.0,418.2 1033.5,418.0 1034.0,419.1 1034.5,417.0 1035.0,416.0 1035.5,416.6 1036.0,412.8 1036.5,414.7 1037.0,416.1 1037.5,414.4 1038.0,413.9 1038.5,413.6 1039.0,412.6 1039.5,411.7 1040.0,411.6 1040.5,409.7 1041.0,411.0 1041.5,409.8 1042.0,409.9 1042.5,408.1 1043.0,409.8 1043.5,407.2 1044.0,406.0 1044.5,407.0 1045.0,404.2 1045.5,406.2 1046.0,406.3 1046.5,402.1 1047.0,401.2 1047.5,402.5 1048.0,402.4 1048.5,401.8 1049.0,399.5 1049.5,398.7 1050.0,397.4 1050.5,399.8 1051.0,398.3 1051.5,396.5 1052.0,399.2 1052.5,399.6 1053.0,399.1 1053.5,398.2 1054.0,399.7 1054.5,396.3 1055.0,399.5 1055.5,400.2 1056.0,399.6 1056.5,399.4 1057.0,400.1 1057.5,402.7 1058.0,400.9 1058.5,399.7 1059.0,403.0 1059.5,401.7 1060.0,403.8 1060.5,403.9 1061.0,405.1 1061.5,404.5 1062.0,407.2 1062.5,407.8 1063.0,408.1 1063.5,408.8 1064.0,409.4 1064.5,409.1 1065.0,410.1 1065.5,411.4 1066.0,410.9 1066.5,410.4 1067.0,409.5 1067.5,413.1 1068.0,414.6 1068.5,413.8 1069.0,413.9 1069.5,413.5 1070.0,414.4 1070.5,415.8 1071.0,417.3 1071.5,416.1 1072.0,415.7 1072.5,417.2 1073.0,417.1 1073.5,413.0 1074.0,414.7 1074.5,413.0 1075.0,412.2 1075.5,414.4 1076.0,413.5 1076.5,412.6 1077.0,412.7 1077.5,410.8 1078.0,409.9 1078.5,408.5 1079.0,405.5 1079.5,407.1 1080.0,403.7 1080.5,400.5 1081.0,398.8 1081.5,395.4 1082.0,394.2 1082.5,392.2 1083.0,389.1 1083.5,387.5 1084.0,390.5 1084.5,386.0 1085.0,388.5 1085.5,386.9 1086.0,388.5 1086.5,391.6 1087.0,391.4 1087.5,397.2 1088.0,398.4 1088.5,399.9 1089.0,404.4 1089.5,403.9 1090.0,408.3 1090.5,408.8 1091.0,411.1 1091.5,411.9 1092.0,412.8 1092.5,414.3 1093.0,417.0 1093.5,416.8 1094.0,417.3 1094.5,417.7 1095.0,416.9 1095.5,421.0 1096.0,420.3 1096.5,418.9 1097.0,420.4 1097.5,421.3 1098.0,420.6 1098.5,421.2 1099.0,421.5 1099.5,422.2 1100.0,421.9 1100.5,423.0 1101.0,423.1 1101.5,422.4 1102.0,422.5 1102.5,422.0 1103.0,423.3 1103.5,424.2 1104.0,422.8 1104.5,422.9 1105.0,423.5 1105.5,421.4 1106.0,422.0 1106.5,423.1 1107.0,422.2 1107.5,423.2 1108.0,422.0 1108.5,423.9 1109.0,422.7 1109.5,421.4 1110.0,420.6 1110.5,423.1 1111.0,421.6 1111.5,421.7 1112.0,421.3 1112.5,420.7 1113.0,423.6 1113.5,422.1 1114.0,422.8 1114.5,421.9 1115.0,422.1 1115.5,423.2 1116.0,423.1 1116.5,424.7 1117.0,424.5 1117.5,424.4 1118.0,425.8 1118.5,424.3 1119.0,423.3 1119.5,425.2 1120.0,426.1 1120.5,424.0 1121.0,425.9 1121.5,425.0 1122.0,424.3 1122.5,422.7 1123.0,423.8 1123.5,423.6 1124.0,425.6 1124.5,423.6 1125.0,425.5 1125.5,425.8 1126.0,424.4 1126.5,424.2 1127.0,423.8 1127.5,424.8 1128.0,424.4 1128.5,424.5 1129.0,424.3 1129.5,424.6 1130.0,426.5 1130.5,424.7 1131.0,424.0 1131.5,423.8 1132.0,425.2 1132.5,424.3 1133.0,424.9 1133.5,424.8 1134.0,424.1 1134.5,422.7 1135.0,424.7 1135.5,422.5 1136.0,425.7 1136.5,423.4 1137.0,424.2 1137.5,424.6 1138.0,423.8 1138.5,425.9 1139.0,424.0 1139.5,424.9 1140.0,425.2 1140.5,426.4 1141.0,425.8 1141.5,426.5 1142.0,425.8 1142.5,422.8 1143.0,425.4 1143.5,424.5 1144.0,425.1 1144.5,425.0 1145.0,426.2 1145.5,423.1 1146.0,425.4 1146.5,424.7 1147.0,423.5 1147.5,424.6 1148.0,425.3 1148.5,424.9 1149.0,425.0 1149.5,424.3 1150.0,425.3 1150.5,424.9 1151.0,423.8 1151.5,426.9 1152.0,423.5 1152.5,426.3 1153.0,424.2 1153.5,424.1 1154.0,425.6 1154.5,424.1 1155.0,423.6 1155.5,424.2 1156.0,426.1 1156.5,423.3 1157.0,426.9 1157.5,426.1 1158.0,426.1 1158.5,425.6 1159.0,424.1 1159.5,424.6 1160.0,425.6 1160.5,426.0 1161.0,425.9 1161.5,425.1 1162.0,424.7 1162.5,427.9 1163.0,423.9 1163.5,425.2 1164.0,423.9 1164.5,426.5 1165.0,424.6 1165.5,425.8 1166.0,426.8 1166.5,422.3 1167.0,423.9 1167.5,422.8 1168.0,423.5 1168.5,423.5 1169.0,424.1 1169.5,426.5 1170.0,425.0 1170.5,425.5 1171.0,426.8 1171.5,425.3 1172.0,424.9 1172.5,426.4 1173.0,425.4 1173.5,424.0 1174.0,422.7 1174.5,424.2 1175.0,425.1 1175.5,424.2 1176.0,425.8 1176.5,427.0 1177.0,426.1 1177.5,422.3 1178.0,424.6 1178.5,424.0 1179.0,426.1 1179.5,425.7 1180.0,425.1 1180.5,425.0 1181.0,424.7 1181.5,423.8 1182.0,425.1 1182.5,424.1 1183.0,424.8 1183.5,426.4 1184.0,424.9 1184.5,426.0 1185.0,425.5 1185.5,424.3 1186.0,425.9 1186.5,424.8 1187.0,425.7 1187.5,425.1 1188.0,426.4 1188.5,425.8 1189.0,425.1 1189.5,424.4 1190.0,427.5 1190.5,425.1 1191.0,425.4 1191.5,425.3 1192.0,424.9 1192.5,423.8 1193.0,424.7 1193.5,424.2 1194.0,426.3 1194.5,427.7 1195.0,424.5 1195.5,425.3 1196.0,426.1 1196.5,424.2 1197.0,424.5 1197.5,424.4 1198.0,426.8 1198.5,425.9 1199.0,424.2 1199.5,425.3 1200.0,425.2 1200.5,425.2 1201.0,423.1 1201.5,425.1 1202.0,425.4 1202.5,425.8 1203.0,425.3 1203.5,424.6 1204.0,424.8 1204.5,426.1 1205.0,428.3 1205.5,424.3 1206.0,426.3 1206.5,426.4 1207.0,425.0 1207.5,421.7 1208.0,425.7 1208.5,424.6 1209.0,424.4 1209.5,425.7 1210.0,424.1 1210.5,424.0 1211.0,426.2 1211.5,426.2 1212.0,426.4 1212.5,425.7 1213.0,425.3 1213.5,425.9 1214.0,426.5 1214.5,427.0 1215.0,425.9 1215.5,426.2 1216.0,424.9 1216.5,426.5 1217.0,427.3 1217.5,427.3 1218.0,425.4 1218.5,423.3 1219.0,424.3 1219.5,425.6 1220.0,424.0 1220.5,424.4 1221.0,427.2 1221.5,423.6 1222.0,423.6 1222.5,425.2 1223.0,425.2 1223.5,427.6 1224.0,425.6 1224.5,425.8 1225.0,425.6 1225.5,423.6 1226.0,423.1 1226.5,423.5 1227.0,424.9 1227.5,423.3 1228.0,426.0 1228.5,425.1 1229.0,425.7 1229.5,425.8 1230.0,425.1 1230.5,423.2 1231.0,424.1 1231.5,425.2 1232.0,423.3 1232.5,424.6 1233.0,423.5 1233.5,425.6 1234.0,425.4 1234.5,425.0 1235.0,425.4 1235.5,426.0 1236.0,424.9 1236.5,425.2 1237.0,425.9 1237.5,425.2 1238.0,424.9 1238.5,424.7 1239.0,424.4 1239.5,424.0 1240.0,425.4 1240.5,425.1 1241.0,424.4 1241.5,425.9 1242.0,426.1 1242.5,424.9 1243.0,423.8 1243.5,425.2 1244.0,424.8 1244.5,425.4 1245.0,424.8 1245.5,425.8 1246.0,423.4 1246.5,424.6 1247.0,424.3 1247.5,425.0 1248.0,423.8 1248.5,423.7 1249.0,423.0 1249.5,424.5 1250.0,426.4 1250.5,426.2 1251.0,423.9 1251.5,424.3 1252.0,424.7 1252.5,422.4 1253.0,424.9 1253.5,425.6 1254.0,423.8 1254.5,421.9 1255.0,422.2 1255.5,424.3 1256.0,423.2 1256.5,423.4 1257.0,424.1 1257.5,423.3 1258.0,422.8 1258.5,422.6 1259.0,420.9 1259.5,424.1 1260.0,424.0 1260.5,421.9 1261.0,422.6 1261.5,421.1 1262.0,422.5 1262.5,421.6 1263.0,420.8 1263.5,420.5 1264.0,422.1 1264.5,420.7 1265.0,421.0 1265.5,419.3 1266.0,422.9 1266.5,420.1 1267.0,418.1 1267.5,420.7 1268.0,417.8 1268.5,420.1 1269.0,419.7 1269.5,420.5 1270.0,418.0 1270.5,416.5 1271.0,418.6 1271.5,418.8 1272.0,418.1 1272.5,417.8 1273.0,419.5 1273.5,418.7 1274.0,416.4 1274.5,417.7 1275.0,415.8 1275.5,416.7 1276.0,414.8 1276.5,415.6 1277.0,415.1 1277.5,414.1 1278.0,415.7 1278.5,415.7 1279.0,414.5 1279.5,413.1 1280.0,416.0 1280.5,413.7 1281.0,412.9 1281.5,412.3 1282.0,413.5 1282.5,410.6 1283.0,411.3 1283.5,409.3 1284.0,411.3 1284.5,408.6 1285.0,407.9 1285.5,409.1 1286.0,408.5 1286.5,408.4 1287.0,407.8 1287.5,408.8 1288.0,405.5 1288.5,406.7 1289.0,406.9 1289.5,406.4 1290.0,407.6 1290.5,407.2 1291.0,406.8 1291.5,408.1 1292.0,406.4 1292.5,407.7 1293.0,407.3 1293.5,409.9 1294.0,408.2 1294.5,408.8 1295.0,410.8 1295.5,411.1 1296.0,410.4 1296.5,412.4 1297.0,414.3 1297.5,413.7 1298.0,412.9 1298.5,414.7 1299.0,414.3 1299.5,415.2 1300.0,417.7 1300.5,417.8 1301.0,419.3 1301.5,417.5 1302.0,418.6 1302.5,418.1 1303.0,420.7 1303.5,419.1 1304.0,419.4 1304.5,419.5 1305.0,421.7 1305.5,421.8 1306.0,421.8 1306.5,423.3 1307.0,422.3 1307.5,421.6 1308.0,424.9 1308.5,422.1 1309.0,422.3 1309.5,424.5 1310.0,423.3 1310.5,423.7 1311.0,421.8 1311.5,422.8 1312.0,422.7 1312.5,424.2 1313.0,423.5 1313.5,424.4 1314.0,423.2 1314.5,423.7 1315.0,424.5 1315.5,422.8 1316.0,423.1 1316.5,425.4 1317.0,423.7 1317.5,426.7 1318.0,425.2 1318.5,425.1 1319.0,424.3 1319.5,424.9 1320.0,424.6 1320.5,423.0 1321.0,424.0 1321.5,424.1 1322.0,425.4 1322.5,424.3 1323.0,421.9 1323.5,424.8 1324.0,424.3 1324.5,425.2 1325.0,424.9 1325.5,423.3 1326.0,423.0 1326.5,423.9 1327.0,423.6 1327.5,424.6 1328.0,424.1 1328.5,424.5 1329.0,425.3 1329.5,424.4 1330.0,424.2 1330.5,425.4 1331.0,425.8 1331.5,425.4 1332.0,423.1 1332.5,425.0 1333.0,424.6 1333.5,425.9 1334.0,422.1 1334.5,424.8 1335.0,424.9 1335.5,425.4 1336.0,424.5 1336.5,424.5 1337.0,425.0 1337.5,423.3 1338.0,425.0 1338.5,423.2 1339.0,424.0 1339.5,425.9 1340.0,425.4 1340.5,425.4 1341.0,426.2 1341.5,425.5 1342.0,425.4 1342.5,424.2 1343.0,424.3 1343.5,426.5 1344.0,424.2 1344.5,426.1 1345.0,425.5 1345.5,426.8 1346.0,424.3 1346.5,426.3 1347.0,424.4 1347.5,424.7 1348.0,427.0 1348.5,426.9 1349.0,425.3 1349.5,426.7 1350.0,425.7 1350.5,425.0 1351.0,426.2 1351.5,423.8 1352.0,423.8 1352.5,422.1 1353.0,425.4 1353.5,424.2 1354.0,424.7 1354.5,425.2 1355.0,425.1 1355.5,425.8 1356.0,425.1 1356.5,426.5 1357.0,423.2 1357.5,426.2 1358.0,426.3 1358.5,424.8 1359.0,426.8 1359.5,424.9 1360.0,427.6 1360.5,426.7 1361.0,425.7 1361.5,425.2 1362.0,425.8 1362.5,425.5 1363.0,425.2 1363.5,425.6 1364.0,426.6 1364.5,425.0 1365.0,424.3 1365.5,427.4 1366.0,425.4 1366.5,425.9 1367.0,425.1 1367.5,424.6 1368.0,426.3 1368.5,426.6 1369.0,424.7 1369.5,424.5 1370.0,425.4 1370.5,425.6 1371.0,424.7 1371.5,426.3 1372.0,425.5 1372.5,424.2 1373.0,425.1 1373.5,425.3 1374.0,425.4 1374.5,424.6 1375.0,425.9 1375.5,424.2 1376.0,425.7 1376.5,425.1 1377.0,424.1 1377.5,424.4 1378.0,423.5 1378.5,423.4 1379.0,423.4 1379.5,425.4 1380.0,425.0 1380.5,423.8 1381.0,424.4 1381.5,423.9 1382.0,426.0 1382.5,424.2 1383.0,425.2 1383.5,425.6 1384.0,425.8 1384.5,426.3 1385.0,424.8 1385.5,423.3 1386.0,425.7 1386.5,425.8 1387.0,423.2 1387.5,425.0 1388.0,425.5 1388.5,424.7 1389.0,425.1 1389.5,423.6 1390.0,424.1 1390.5,423.9 1391.0,426.8 1391.5,425.2 1392.0,424.7 1392.5,424.2 1393.0,425.2 1393.5,425.3 1394.0,424.9 1394.5,423.9 1395.0,424.1 1395.5,423.5 1396.0,423.2 1396.5,425.5 1397.0,424.5 1397.5,425.7 1398.0,425.0 1398.5,424.9 1399.0,424.8 1399.5,425.1 1400.0,427.2 1400.5,425.8 1401.0,424.4 1401.5,426.5 1402.0,424.7 1402.5,423.7 1403.0,423.0 1403.5,423.2 1404.0,425.8 1404.5,425.9 1405.0,424.0 1405.5,424.9 1406.0,423.7 1406.5,425.0 1407.0,426.1 1407.5,425.5 1408.0,424.7 1408.5,424.1 1409.0,425.3 1409.5,425.5 1410.0,424.6 1410.5,424.9 1411.0,426.0 1411.5,425.2 1412.0,423.7 1412.5,426.4 1413.0,424.9 1413.5,423.0 1414.0,426.3 1414.5,426.7 1415.0,425.5 1415.5,424.4 1416.0,423.8 1416.5,424.5 1417.0,422.8 1417.5,425.6 1418.0,425.5 1418.5,423.8 1419.0,426.8 1419.5,425.9 1420.0,426.6 1420.5,425.5 1421.0,426.3 1421.5,425.3 1422.0,423.7 1422.5,424.9 1423.0,423.3 1423.5,423.7 1424.0,424.6 1424.5,423.4 1425.0,423.1 1425.5,425.2 1426.0,424.3 1426.5,424.3 1427.0,424.6 1427.5,422.8 1428.0,424.4 1428.5,423.2 1429.0,424.5 1429.5,424.4 1430.0,424.0 1430.5,425.5 1431.0,423.9 1431.5,424.2 1432.0,423.7 1432.5,423.8 1433.0,424.6 1433.5,425.4 1434.0,423.3 1434.5,422.6 1435.0,422.4 1435.5,422.4 1436.0,423.7 1436.5,421.6 1437.0,420.6 1437.5,418.9 1438.0,421.3 1438.5,421.4 1439.0,420.8 1439.5,420.7 1440.0,420.7 1440.5,419.7 1441.0,420.3 1441.5,419.0 1442.0,419.5 1442.5,422.2 1443.0,420.0 1443.5,419.4 1444.0,418.9 1444.5,418.9 1445.0,420.1 1445.5,417.7 1446.0,418.4 1446.5,418.0 1447.0,419.4 1447.5,418.7 1448.0,417.3 1448.5,416.0 1449.0,418.8 1449.5,419.4 1450.0,417.4 1450.5,419.7 1451.0,416.6 1451.5,416.8 1452.0,416.5 1452.5,419.2 1453.0,418.3 1453.5,419.7 1454.0,416.0 1454.5,420.0 1455.0,419.6 1455.5,421.4 1456.0,420.5 1456.5,418.6 1457.0,422.1 1457.5,420.7 1458.0,422.1 1458.5,420.0 1459.0,421.6 1459.5,422.4 1460.0,422.7 1460.5,422.7 1461.0,420.6 1461.5,421.8 1462.0,421.2 1462.5,422.8 1463.0,420.7 1463.5,424.6 1464.0,422.0 1464.5,423.8 1465.0,422.0 1465.5,425.7 1466.0,425.3 1466.5,421.6 1467.0,421.7 1467.5,424.0 1468.0,421.9 1468.5,423.5 1469.0,424.9 1469.5,422.8 1470.0,423.3 1470.5,423.4 1471.0,424.0 1471.5,425.0 1472.0,424.6 1472.5,422.5 1473.0,422.6 1473.5,424.1 1474.0,425.2 1474.5,423.2 1475.0,422.8 1475.5,423.3 1476.0,423.2 1476.5,423.6 1477.0,423.0 1477.5,423.3 1478.0,422.1 1478.5,423.7 1479.0,423.2 1479.5,422.6 1480.0,421.9 1480.5,420.9 1481.0,419.9 1481.5,421.2 1482.0,420.2 1482.5,419.7 1483.0,421.3 1483.5,418.9 1484.0,420.3 1484.5,420.5 1485.0,419.2 1485.5,417.2 1486.0,417.6 1486.5,416.4 1487.0,416.5 1487.5,416.3 1488.0,414.3 1488.5,415.5 1489.0,415.7 1489.5,416.1 1490.0,415.8 1490.5,415.7 1491.0,415.5 1491.5,417.3 1492.0,415.8 1492.5,416.1 1493.0,417.2 1493.5,417.3 1494.0,416.6 1494.5,419.2 1495.0,420.1 1495.5,419.6 1496.0,419.9 1496.5,420.6 1497.0,421.8 1497.5,420.1 1498.0,421.7 1498.5,423.2 1499.0,421.4 1499.5,423.3 1500.0,420.8 1500.5,424.2 1501.0,425.3 1501.5,424.5 1502.0,424.4 1502.5,423.0 1503.0,423.2 1503.5,423.2 1504.0,425.0 1504.5,424.4 1505.0,425.9 1505.5,424.5 1506.0,425.6 1506.5,425.4 1507.0,424.9 1507.5,424.5 1508.0,425.9 1508.5,422.6 1509.0,427.8 1509.5,424.7 1510.0,425.8 1510.5,427.5 1511.0,423.9 1511.5,424.4 1512.0,426.5 1512.5,424.0 1513.0,425.3 1513.5,425.2 1514.0,425.8 1514.5,425.3 1515.0,426.3 1515.5,424.7 1516.0,425.5 1516.5,424.1 1517.0,426.1 1517.5,423.6 1518.0,426.0 1518.5,424.9 1519.0,427.2 1519.5,426.0 1520.0,426.1 1520.5,425.0 1521.0,426.0 1521.5,426.7 1522.0,426.3 1522.5,427.6 1523.0,425.7 1523.5,427.9 1524.0,424.2 1524.5,425.2 1525.0,425.6 1525.5,425.5 1526.0,426.3 1526.5,425.4 1527.0,424.4 1527.5,425.3 1528.0,424.4 1528.5,425.7 1529.0,426.0 1529.5,421.8 1530.0,426.7 1530.5,424.8 1531.0,425.6 1531.5,426.0 1532.0,425.7 1532.5,426.8 1533.0,427.2 1533.5,422.7 1534.0,428.4 1534.5,425.5 1535.0,426.0 1535.5,425.6 1536.0,424.8 1536.5,425.6 1537.0,425.8 1537.5,425.9 1538.0,426.9 1538.5,426.4 1539.0,425.0 1539.5,427.3 1540.0,426.6 1540.5,425.2 1541.0,426.5 1541.5,426.8 1542.0,425.7 1542.5,425.8 1543.0,423.2 1543.5,423.8 1544.0,425.4 1544.5,425.6 1545.0,426.8 1545.5,424.3 1546.0,424.9 1546.5,425.7 1547.0,424.6 1547.5,424.6 1548.0,427.0 1548.5,425.9 1549.0,427.4 1549.5,424.7 1550.0,426.8 1550.5,426.8 1551.0,428.0 1551.5,426.0 1552.0,427.3 1552.5,427.0 1553.0,425.9 1553.5,424.4 1554.0,425.0 1554.5,425.1 1555.0,425.5 1555.5,426.5 1556.0,426.9 1556.5,424.7 1557.0,426.3 1557.5,426.4 1558.0,426.6 1558.5,424.6 1559.0,424.4 1559.5,426.5 1560.0,425.6 1560.5,425.6 1561.0,427.4 1561.5,425.0 1562.0,424.2 1562.5,425.0 1563.0,427.4 1563.5,425.5 1564.0,426.4 1564.5,426.4 1565.0,428.1 1565.5,425.0 1566.0,426.2 1566.5,426.1 1567.0,425.5 1567.5,426.0 1568.0,423.9 1568.5,426.3 1569.0,424.4 1569.5,426.9 1570.0,425.7 1570.5,424.0 1571.0,425.2 1571.5,426.5 1572.0,424.8 1572.5,423.4 1573.0,425.4 1573.5,425.7 1574.0,425.6 1574.5,425.9 1575.0,427.0 1575.5,426.8 1576.0,426.9 1576.5,425.5 1577.0,427.6 1577.5,424.0 1578.0,424.1 1578.5,424.4 1579.0,425.3 1579.5,425.8 1580.0,424.5 1580.5,425.5 1581.0,426.5 1581.5,426.0 1582.0,425.9 1582.5,426.6 1583.0,427.0 1583.5,424.6 1584.0,425.2 1584.5,423.6 1585.0,424.4 1585.5,424.4 1586.0,424.8 1586.5,423.4 1587.0,424.9 1587.5,425.2 1588.0,423.8 1588.5,424.5 1589.0,425.8 1589.5,425.7 1590.0,423.9 1590.5,424.3 1591.0,424.6 1591.5,425.4 1592.0,425.7 1592.5,424.1 1593.0,424.1 1593.5,424.7 1594.0,423.7 1594.5,424.6 1595.0,422.6 1595.5,423.1 1596.0,425.7 1596.5,423.8 1597.0,422.4 1597.5,424.5 1598.0,423.4 1598.5,423.1 1599.0,423.1 1599.5,425.0 1600.0,422.1 1600.5,421.3 1601.0,422.8 1601.5,422.6 1602.0,420.6 1602.5,420.9 1603.0,422.9 1603.5,421.6 1604.0,422.2 1604.5,420.0 1605.0,420.0 1605.5,418.4 1606.0,416.9 1606.5,420.0 1607.0,417.4 1607.5,418.2 1608.0,417.0 1608.5,417.5 1609.0,416.6 1609.5,418.9 1610.0,416.7 1610.5,415.6 1611.0,416.0 1611.5,412.9 1612.0,416.0 1612.5,414.3 1613.0,416.1 1613.5,413.4 1614.0,415.9 1614.5,411.6 1615.0,413.3 1615.5,415.2 1616.0,414.6 1616.5,413.4 1617.0,414.9 1617.5,413.0 1618.0,415.1 1618.5,415.8 1619.0,416.1 1619.5,413.3 1620.0,416.3 1620.5,416.4 1621.0,415.4 1621.5,415.7 1622.0,416.1 1622.5,415.4 1623.0,415.9 1623.5,417.1 1624.0,417.8 1624.5,417.1 1625.0,415.5 1625.5,418.4 1626.0,415.8 1626.5,419.7 1627.0,419.4 1627.5,417.8 1628.0,420.1 1628.5,420.3 1629.0,419.1 1629.5,418.1 1630.0,421.2 1630.5,420.4 1631.0,419.8 1631.5,421.4 1632.0,419.9 1632.5,422.0 1633.0,422.7 1633.5,420.2 1634.0,420.4 1634.5,421.9 1635.0,421.2 1635.5,419.1 1636.0,422.5 1636.5,420.7 1637.0,422.6 1637.5,419.8 1638.0,421.7 1638.5,421.8 1639.0,421.9 1639.5,420.3 1640.0,419.6 1640.5,422.1 1641.0,422.5 1641.5,421.5 1642.0,422.0 1642.5,420.7 1643.0,420.3 1643.5,423.0 1644.0,423.4 1644.5,423.9 1645.0,422.4 1645.5,421.0 1646.0,419.2 1646.5,422.7 1647.0,423.8 1647.5,423.4 1648.0,423.6 1648.5,421.8 1649.0,424.5 1649.5,424.9 1650.0,426.4 1650.5,425.2 1651.0,425.7 1651.5,421.9 1652.0,422.5 1652.5,422.8 1653.0,425.4 1653.5,424.6 1654.0,423.6 1654.5,423.8 1655.0,425.6 1655.5,423.2 1656.0,425.6 1656.5,425.8 1657.0,427.7 1657.5,425.5 1658.0,423.5 1658.5,427.2 1659.0,425.9 1659.5,425.6 1660.0,425.1 1660.5,426.1 1661.0,425.1 1661.5,425.5 1662.0,425.4 1662.5,427.3 1663.0,426.9 1663.5,424.7 1664.0,426.2 1664.5,425.6 1665.0,426.4 1665.5,426.8 1666.0,426.0 1666.5,427.7 1667.0,427.6 1667.5,425.2 1668.0,426.3 1668.5,425.1 1669.0,424.6 1669.5,424.8 1670.0,425.0 1670.5,425.2 1671.0,426.9 1671.5,426.7 1672.0,425.6 1672.5,425.3 1673.0,426.6 1673.5,427.0 1674.0,427.9 1674.5,426.7 1675.0,427.0 1675.5,424.7 1676.0,426.1 1676.5,427.0 1677.0,425.7 1677.5,425.6 1678.0,429.0 1678.5,427.6 1679.0,426.5 1679.5,427.6 1680.0,426.8 1680.5,425.8 1681.0,426.4 1681.5,426.3 1682.0,427.6 1682.5,426.3 1683.0,426.5 1683.5,425.2 1684.0,425.2 1684.5,426.3 1685.0,426.4 1685.5,427.2 1686.0,427.2 1686.5,426.8 1687.0,425.4 1687.5,427.1 1688.0,424.9 1688.5,426.8 1689.0,427.2 1689.5,428.2 1690.0,426.1 1690.5,426.8 1691.0,426.6 1691.5,424.9 1692.0,427.6 1692.5,426.1 1693.0,427.4 1693.5,425.3 1694.0,427.2 1694.5,427.4 1695.0,426.7 1695.5,429.1 1696.0,427.0 1696.5,427.6 1697.0,424.5 1697.5,427.6 1698.0,424.9 1698.5,425.5 1699.0,425.7 1699.5,426.2 1700.0,428.7 1700.5,426.5 1701.0,426.8 1701.5,426.0 1702.0,426.6 1702.5,424.8 1703.0,427.0 1703.5,427.0 1704.0,425.0 1704.5,424.4 1705.0,425.8 1705.5,426.8 1706.0,425.6 1706.5,424.7 1707.0,427.1 1707.5,424.8 1708.0,427.5 1708.5,428.0 1709.0,424.5 1709.5,427.4 1710.0,427.4 1710.5,427.4 1711.0,428.4 1711.5,428.7 1712.0,427.2 1712.5,427.3 1713.0,426.9 1713.5,426.7 1714.0,428.3 1714.5,428.0 1715.0,427.2 1715.5,428.9 1716.0,428.8 1716.5,428.5 1717.0,427.3 1717.5,427.5 1718.0,429.2 1718.5,428.7 1719.0,428.0 1719.5,426.6 1720.0,426.9 1720.5,427.3 1721.0,427.1 1721.5,428.4 1722.0,428.1 1722.5,425.2 1723.0,427.4 1723.5,427.8 1724.0,426.0 1724.5,425.5 1725.0,427.1 1725.5,427.0 1726.0,428.8 1726.5,427.2 1727.0,428.3 1727.5,428.8 1728.0,428.6 1728.5,426.6 1729.0,427.3 1729.5,426.7 1730.0,426.2 1730.5,428.3 1731.0,425.7 1731.5,425.8 1732.0,425.9 1732.5,427.1 1733.0,427.0 1733.5,427.6 1734.0,427.7 1734.5,423.5 1735.0,425.9 1735.5,426.9 1736.0,427.8 1736.5,427.8 1737.0,425.7 1737.5,426.4 1738.0,425.2 1738.5,427.8 1739.0,426.9 1739.5,427.6 1740.0,426.9 1740.5,426.0 1741.0,425.2 1741.5,428.9 1742.0,425.1 1742.5,425.5 1743.0,428.4 1743.5,425.8 1744.0,427.6 1744.5,428.6"/>
</g>
<g stroke="#000" stroke-width="4.6" fill="none" stroke-linecap="butt">
<rect x="150.5" y="21.5" width="1596.0" height="1167.0"/>
<line x1="150.5" y1="1188.5" x2="150.5" y2="1212.8"/>
<line x1="283.5" y1="1188.5" x2="283.5" y2="1201.2"/>
<line x1="416.5" y1="1188.5" x2="416.5" y2="1212.8"/>
<line x1="549.5" y1="1188.5" x2="549.5" y2="1201.2"/>
<line x1="682.5" y1="1188.5" x2="682.5" y2="1212.8"/>
<line x1="815.5" y1="1188.5" x2="815.5" y2="1201.2"/>
<line x1="948.5" y1="1188.5" x2="948.5" y2="1212.8"/>
<line x1="1081.5" y1="1188.5" x2="1081.5" y2="1201.2"/>
<line x1="1214.5" y1="1188.5" x2="1214.5" y2="1212.8"/>
<line x1="1347.5" y1="1188.5" x2="1347.5" y2="1201.2"/>
<line x1="1480.5" y1="1188.5" x2="1480.5" y2="1212.8"/>
<line x1="1613.5" y1="1188.5" x2="1613.5" y2="1201.2"/>
<line x1="1746.5" y1="1188.5" x2="1746.5" y2="1212.8"/>
</g>
<g class="sb" font-size="70.6" text-anchor="middle" fill="#000">
<text transform="translate(150.2 1280.8) scale(0.969 1)">20</text>
<text transform="translate(416.2 1280.8) scale(0.969 1)">30</text>
<text transform="translate(682.2 1280.8) scale(0.969 1)">40</text>
<text transform="translate(948.2 1280.8) scale(0.969 1)">50</text>
<text transform="translate(1214.2 1280.8) scale(0.969 1)">60</text>
<text transform="translate(1480.2 1280.8) scale(0.969 1)">70</text>
<text transform="translate(1746.2 1280.8) scale(0.969 1)">80</text>
</g>
<text class="sb" font-size="91" fill="#000" transform="translate(712.5 1387.3) scale(0.968 1)">2<tspan class="tr" font-size="80" stroke="#000" stroke-width="0.7" dx="-0.8" textLength="47" lengthAdjust="spacingAndGlyphs">θ</tspan><tspan dx="-5.3"> (Degree)</tspan></text>
<text class="sb" font-size="85.5" text-anchor="middle" fill="#000" transform="translate(94.3 603.5) rotate(-90) scale(0.979 1)">Intensity (a.u.)</text>
<g class="tb" font-size="61.5" text-anchor="middle" fill="#000">
<text transform="translate(305.4 146.6) rotate(-90) scale(0.965 1)">(101)</text>
<text transform="translate(643.7 298.9) rotate(-90) scale(0.965 1)">(004)</text>
<text transform="translate(912.3 269.4) rotate(-90) scale(0.965 1)">(200)</text>
<text transform="translate(1066.3 292.6) rotate(-90) scale(0.965 1)">(105)</text>
<text transform="translate(1136.1 290.5) rotate(-90) scale(0.965 1)">(211)</text>
<text transform="translate(1308.4 323.0) rotate(-90) scale(0.965 1)">(204)</text>
</g>
<g class="tb" font-size="64.5">
<text transform="translate(1358.5 376.3) scale(0.968 1)" fill="#FF0000">V<tspan font-size="38" dy="24">o</tspan><tspan dy="-24">-T101/MoS</tspan><tspan font-size="38" dy="24">2</tspan></text>
<text transform="translate(1397.0 543.7) scale(0.968 1)" fill="#0000FF">T101/MoS<tspan font-size="38" dy="24">2</tspan></text>
<text transform="translate(1482.0 686.0) scale(0.968 1)" fill="#000000">T101</text>
<text transform="translate(1359.5 819.3) scale(0.968 1)" fill="#FF8000">V<tspan font-size="38" dy="24">o</tspan><tspan dy="-24">-T001/MoS</tspan><tspan font-size="38" dy="24">2</tspan></text>
<text transform="translate(1405.0 955.9) scale(0.968 1)" fill="#008080">T001/MoS<tspan font-size="38" dy="24">2</tspan></text>
<text transform="translate(1515.5 1106.3) scale(0.968 1)" fill="#808080">T001</text>
</g>
</svg></body></html>
